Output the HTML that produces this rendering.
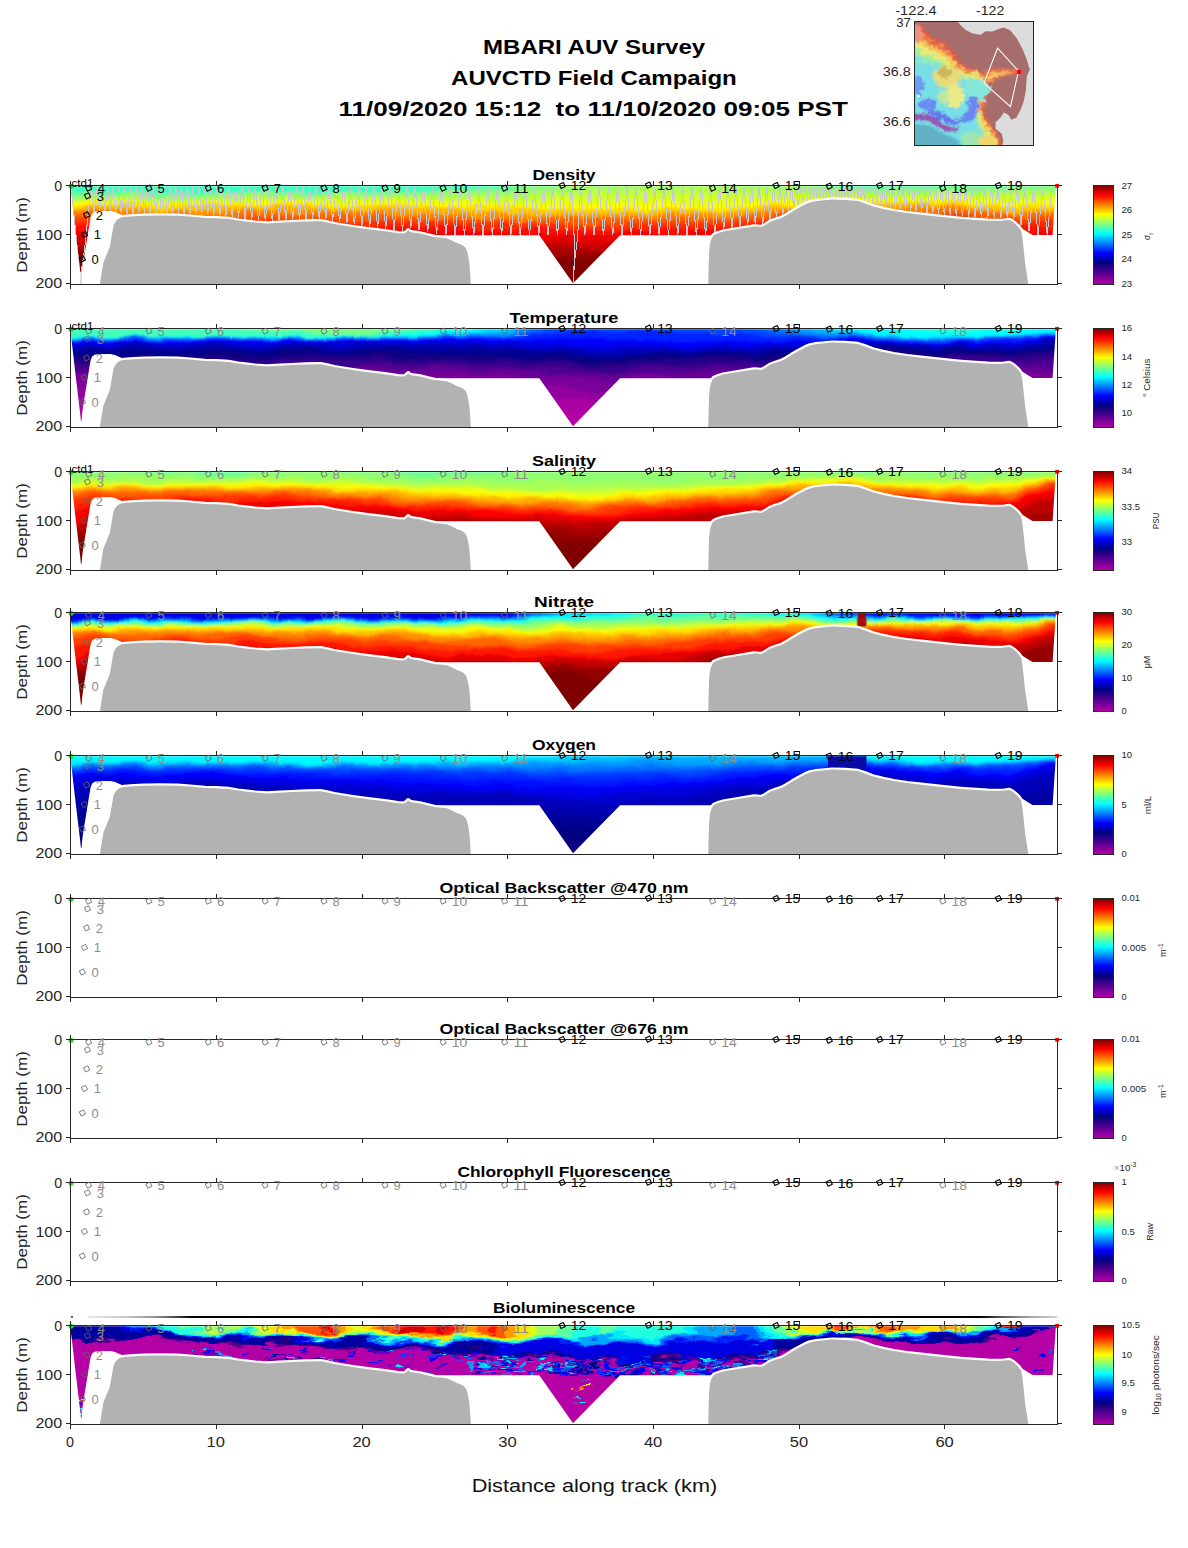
<!DOCTYPE html><html><head><meta charset="utf-8"><title>MBARI AUV Survey</title>
<style>html,body{margin:0;padding:0;background:#fff}svg{display:block}text{font-family:"Liberation Sans",sans-serif}</style></head><body>
<svg width="1188" height="1548" viewBox="0 0 1188 1548">
<rect width="1188" height="1548" fill="#fff"/>
<defs>
<linearGradient id="cb" x1="0" y1="0" x2="0" y2="1"><stop offset="0.0000" stop-color="#800000"/><stop offset="0.0975" stop-color="#ff0000"/><stop offset="0.2925" stop-color="#ffff00"/><stop offset="0.4875" stop-color="#00ffff"/><stop offset="0.6825" stop-color="#0000ff"/><stop offset="0.7800" stop-color="#000080"/><stop offset="1.0000" stop-color="#b500a6"/></linearGradient>
<clipPath id="pc"><rect x="70.5" y="185.5" width="987" height="99"/></clipPath>
<clipPath id="env"><polygon points="70.1,186.3 71.9,200.0 75.1,228.0 77.7,250.0 80.2,271.0 80.9,277.8 81.6,277.8 82.2,270.0 83.4,261.0 86.4,243.0 89.5,223.8 90.6,217.5 92.0,213.7 94.5,211.8 98.7,211.1 110.5,211.1 115.0,212.0 119.0,213.7 123.0,215.6 124.5,235.3 539.3,235.3 573.0,283.2 620.1,235.3 1005.0,235.3 1005.0,219.0 1009.4,218.9 1013.6,222.1 1022.0,228.4 1032.5,234.9 1052.6,234.9 1054.0,214.0 1055.9,186.3"/></clipPath>
<clipPath id="env1"><polygon points="70.1,186.3 71.9,200.0 75.1,228.0 77.7,250.0 80.2,271.0 80.6,272.3 81.5,272.3 82.2,267.0 83.4,261.0 86.4,243.0 89.5,223.8 90.6,217.5 92.0,213.7 94.5,211.8 98.7,211.1 110.5,211.1 115.0,212.0 119.0,213.7 123.0,215.6 124.5,235.3 539.3,235.3 573.0,283.2 620.1,235.3 1005.0,235.3 1005.0,219.0 1009.4,218.9 1013.6,222.1 1022.0,228.4 1032.5,234.9 1052.6,234.9 1054.0,214.0 1055.9,186.3"/></clipPath>
<filter id="vb" filterUnits="userSpaceOnUse" x="60" y="170" width="1010" height="130"><feTurbulence type="fractalNoise" baseFrequency="0.035 0.09" numOctaves="3" seed="5" result="n"/><feDisplacementMap in="SourceGraphic" in2="n" scale="7" xChannelSelector="R" yChannelSelector="G" result="d"/><feGaussianBlur in="d" stdDeviation="0.5 0.9"/></filter>
<filter id="vbio" filterUnits="userSpaceOnUse" x="60" y="170" width="1010" height="130"><feTurbulence type="fractalNoise" baseFrequency="0.03 0.11" numOctaves="4" seed="11" result="n"/><feDisplacementMap in="SourceGraphic" in2="n" scale="17" xChannelSelector="R" yChannelSelector="G" result="d"/><feGaussianBlur in="d" stdDeviation="0.4 0.5"/></filter>
<linearGradient id="dn" x1="0" y1="0" x2="1" y2="0"><stop offset="0" stop-color="#e8e8e8"/><stop offset="0.04" stop-color="#c6c6c6"/><stop offset="0.072" stop-color="#8c8c8c"/><stop offset="0.092" stop-color="#444"/><stop offset="0.108" stop-color="#000"/><stop offset="0.92" stop-color="#000"/><stop offset="0.94" stop-color="#505050"/><stop offset="0.965" stop-color="#969696"/><stop offset="1" stop-color="#d4d4d4"/></linearGradient>
</defs>
<text x="594.1" y="54.2" font-size="20.0" text-anchor="middle" font-weight="bold" fill="#000" textLength="222.2" lengthAdjust="spacingAndGlyphs">MBARI AUV Survey</text>
<text x="593.9" y="85.2" font-size="20.0" text-anchor="middle" font-weight="bold" fill="#000" textLength="285.7" lengthAdjust="spacingAndGlyphs">AUVCTD Field Campaign</text>
<text x="593.2" y="116.2" font-size="20.0" text-anchor="middle" font-weight="bold" fill="#000" textLength="509.3" lengthAdjust="spacingAndGlyphs" xml:space="preserve">11/09/2020 15:12  to 11/10/2020 09:05 PST</text>
<defs><clipPath id="mc"><rect x="914.5" y="21.5" width="119" height="124"/></clipPath><filter id="mb" filterUnits="userSpaceOnUse" x="-100" y="-100" width="1400" height="1500"><feGaussianBlur stdDeviation="12" result="b"/><feTurbulence type="fractalNoise" baseFrequency="0.022" numOctaves="3" seed="4" result="n"/><feDisplacementMap in="b" in2="n" scale="90" xChannelSelector="R" yChannelSelector="G"/></filter><filter id="mb2" filterUnits="userSpaceOnUse" x="-100" y="-100" width="1400" height="1500"><feGaussianBlur stdDeviation="8" result="b"/><feTurbulence type="fractalNoise" baseFrequency="0.03" numOctaves="2" seed="9" result="n"/><feDisplacementMap in="b" in2="n" scale="50" xChannelSelector="R" yChannelSelector="G"/></filter></defs>
<g clip-path="url(#mc)"><g transform="translate(912,18) scale(0.10438)">
<rect x="0" y="0" width="1200" height="1260" fill="#a56e6c"/>
<g filter="url(#mb)">
<polygon points="-60.0,20.0 60.0,55.0 130.0,120.0 200.0,185.0 280.0,215.0 350.0,265.0 420.0,330.0 455.0,410.0 520.0,468.0 600.0,482.0 660.0,505.0 705.0,560.0 745.0,640.0 742.0,720.0 705.0,790.0 690.0,860.0 718.0,950.0 760.0,1030.0 805.0,1100.0 860.0,1180.0 900.0,1290.0 -80.0,1300.0 -80.0,20.0" fill="#de5c4a"/>
<polygon points="-70.9,57.4 40.6,91.8 99.9,152.4 176.4,222.3 259.2,254.0 323.6,297.1 390.5,351.3 431.8,426.8 509.6,489.0 594.7,502.1 650.7,517.5 694.0,566.9 729.8,643.5 724.4,715.3 685.5,782.8 669.3,861.7 698.8,957.9 742.0,1040.4 787.7,1111.5 841.4,1189.3 880.5,1297.1 -80.0,1300.0 -80.0,20.0" fill="#f08c50"/>
<polygon points="-81.0,92.0 22.7,125.8 72.2,182.3 154.5,256.8 240.0,290.0 299.2,326.8 363.3,371.1 410.5,442.3 500.0,508.3 589.8,520.7 642.1,529.1 683.8,573.3 715.8,646.8 708.2,711.0 667.5,776.1 650.1,863.2 681.0,965.2 725.4,1050.1 771.7,1122.2 824.2,1197.9 862.4,1303.7 -80.0,1300.0 -80.0,20.0" fill="#f4c45c"/>
<polygon points="-91.1,126.6 4.9,159.8 44.4,212.2 132.7,291.3 220.8,326.0 274.8,356.5 336.1,390.8 389.1,457.8 490.4,527.7 584.9,539.2 633.5,540.6 673.7,579.7 701.7,650.0 691.9,706.7 649.5,769.4 631.0,864.8 663.3,972.5 708.8,1059.7 755.7,1132.8 807.0,1206.5 844.4,1310.2 -80.0,1300.0 -80.0,20.0" fill="#f0ea70"/>
<polygon points="-102.0,164.0 -14.5,196.6 14.3,244.6 109.0,328.6 200.0,365.0 248.4,388.6 306.6,412.1 365.9,474.5 480.0,548.6 579.6,559.3 624.2,553.2 662.7,586.6 686.5,653.5 674.4,702.0 630.0,762.1 610.3,866.5 644.0,980.5 690.8,1070.1 738.4,1144.4 788.4,1215.8 824.8,1317.3 -80.0,1300.0 -80.0,20.0" fill="#b6ec92"/>
<polygon points="-112.9,201.4 -33.9,233.4 -15.8,277.0 85.4,366.0 179.2,404.0 222.0,420.8 277.1,433.5 342.8,491.3 469.6,569.6 574.2,579.5 614.9,565.7 651.7,593.6 671.3,657.0 656.8,697.3 610.5,754.9 589.5,868.2 624.8,988.4 672.8,1080.6 721.1,1155.9 769.8,1225.1 805.3,1324.4 -80.0,1300.0 -80.0,20.0" fill="#8ce8c8"/>
<polygon points="-126.4,247.5 -57.7,278.7 -52.8,316.8 56.3,411.9 153.6,452.0 189.5,460.3 240.8,459.7 314.3,512.0 456.8,595.4 567.7,604.2 603.5,581.1 638.1,602.1 652.6,661.4 635.1,691.5 586.5,746.0 564.0,870.2 601.1,998.1 650.7,1093.4 699.8,1170.1 746.9,1236.5 781.2,1333.2 -80.0,1300.0 -80.0,20.0" fill="#78dfe6"/>
<ellipse cx="55" cy="650" rx="60" ry="90" fill="#6c9cf0"/>
<ellipse cx="150" cy="830" rx="90" ry="55" fill="#6a8af0"/>
<ellipse cx="335" cy="565" rx="135" ry="112" fill="#e6dc78"/>
<ellipse cx="318" cy="520" rx="70" ry="55" fill="#cdb660"/>
<ellipse cx="415" cy="745" rx="88" ry="110" fill="#eaea86"/>
<ellipse cx="300" cy="760" rx="50" ry="70" fill="#bfe6a0"/>
<polygon points="520,600 600,570 690,600 740,650 735,720 690,780 620,800 560,760 500,700" fill="#86e6da"/>
<polygon points="540,780 600,740 640,780 640,880 600,960 520,1010 430,1000 500,930 540,860" fill="#6a86f0"/>
<polygon points="180,880 300,905 400,975 470,960 430,1020 330,1010 230,960 150,930" fill="#6478ee"/>
</g><g filter="url(#mb2)">
<polygon points="-40,915 120,918 200,940 290,1010 380,1048 460,1040 430,1090 330,1085 240,1040 160,985 -40,975" fill="#9a52b2"/>
<polygon points="-40,1010 150,1020 260,1080 360,1130 440,1170 520,1300 -40,1300" fill="#62b2c6"/>
<polygon points="470,1120 560,1080 640,1100 700,1170 720,1300 500,1300" fill="#a0e4b0"/>
<polygon points="640,1150 700,1120 760,1130 820,1190 850,1300 660,1300" fill="#f0d868"/>
<polygon points="690,500 780,478 900,482 1010,490 1040,516 1010,540 900,556 800,590 740,640 700,600" fill="#e66e50"/>
<polygon points="700,560 780,520 880,512 960,510 960,528 880,540 800,566 740,615" fill="#f4c860"/>
<polygon points="20,70 70,60 100,130 90,220 50,240 20,200" fill="#f09080"/>
</g>
<polygon points="425,20 470,75 520,118 580,148 660,160 705,128 770,130 840,100 880,92 940,118 1000,190 1060,300 1100,400 1128,495 1100,560 1090,700 1070,800 1040,880 1000,955 950,975 925,930 880,905 850,950 800,1000 800,1060 860,1110 875,1180 850,1260 1200,1260 1200,20" fill="#dcdcdc"/>
<polygon points="820,288 1020,508 944,850 690,624" fill="none" stroke="#fff" stroke-width="10" stroke-linejoin="miter"/>
<rect x="1005" y="497" width="40" height="40" fill="#f00"/>
<circle cx="62" cy="748" r="13" fill="#fff"/>
</g></g>
<rect x="914.5" y="21.5" width="119" height="124" fill="none" stroke="#262626" stroke-width="1" shape-rendering="crispEdges"/>
<text x="916.0" y="14.9" font-size="13.0" text-anchor="middle" fill="#262626" textLength="41.5" lengthAdjust="spacingAndGlyphs">-122.4</text>
<text x="990.2" y="14.9" font-size="13.0" text-anchor="middle" fill="#262626" textLength="28.2" lengthAdjust="spacingAndGlyphs">-122</text>
<text x="910.8" y="27.4" font-size="13.0" text-anchor="end" fill="#262626" textLength="14.6" lengthAdjust="spacingAndGlyphs">37</text>
<text x="910.8" y="75.9" font-size="13.0" text-anchor="end" fill="#262626" textLength="28.0" lengthAdjust="spacingAndGlyphs">36.8</text>
<text x="910.8" y="125.9" font-size="13.0" text-anchor="end" fill="#262626" textLength="28.0" lengthAdjust="spacingAndGlyphs">36.6</text>
<!-- panel 0 -->
<g transform="translate(0,0)">
<g clip-path="url(#env1)"><g filter="url(#vb)">
<rect x="60" y="150" width="1010" height="170" fill="#3effc1"/>
<path d="M60,330 L60,190.8 68,190.9 76,191.1 84,191.4 92,191.6 100,191.8 108,191.9 116,192.0 124,192.2 132,192.4 140,192.6 148,192.8 156,193.0 164,193.2 172,193.3 180,193.5 188,193.5 196,193.5 204,193.3 212,193.1 220,192.8 228,192.3 236,191.9 244,191.5 252,191.3 260,191.1 268,191.1 276,191.2 284,191.4 292,191.7 300,192.0 308,192.2 316,192.3 324,192.4 332,192.3 340,192.1 348,191.9 356,191.6 364,191.4 372,191.2 380,191.0 388,190.9 396,190.9 404,190.9 412,191.0 420,191.0 428,190.9 436,190.8 444,190.3 452,189.7 460,188.9 468,188.2 476,187.4 484,186.8 492,186.3 500,185.9 508,185.6 516,184.9 524,183.9 532,182.6 540,181.2 548,179.7 556,178.2 564,176.8 572,175.6 580,174.7 588,174.4 596,173.9 604,173.4 612,172.8 620,172.2 628,171.7 636,171.1 644,170.7 652,170.3 660,170.2 668,170.2 676,170.1 684,170.1 692,170.1 700,170.1 708,170.1 716,170.1 724,170.2 732,170.6 740,171.5 748,172.5 756,173.6 764,174.7 772,175.8 780,176.8 788,177.7 796,178.4 804,178.9 812,179.8 820,181.0 828,182.2 836,183.3 844,184.0 852,184.4 860,184.8 868,185.3 876,185.8 884,186.0 892,186.0 900,185.9 908,185.8 916,185.7 924,185.7 932,185.8 940,185.9 948,186.1 956,186.0 964,185.7 972,185.5 980,185.2 988,184.9 996,184.6 1004,184.4 1012,184.1 1020,183.7 1028,183.3 1036,183.1 1044,183.1 1052,183.0 1060,183.0 1068,183.0 L1068,330Z" fill="#65ff9a"/>
<path d="M60,330 L60,193.5 68,193.6 76,193.8 84,193.8 92,193.8 100,193.6 108,193.4 116,193.2 124,193.1 132,193.1 140,193.4 148,193.8 156,194.3 164,194.7 172,195.0 180,195.0 188,194.9 196,194.7 204,194.3 212,194.0 220,193.7 228,193.6 236,193.5 244,193.4 252,193.4 260,193.4 268,193.4 276,193.3 284,193.3 292,193.3 300,193.4 308,193.5 316,193.6 324,193.7 332,193.7 340,193.6 348,193.4 356,193.1 364,192.9 372,192.7 380,192.6 388,192.5 396,192.5 404,192.5 412,192.5 420,192.4 428,192.2 436,192.0 444,191.6 452,191.1 460,190.7 468,190.5 476,190.2 484,190.0 492,189.8 500,189.5 508,189.3 516,188.5 524,187.4 532,186.1 540,184.8 548,183.5 556,182.4 564,181.3 572,180.5 580,179.9 588,179.7 596,179.3 604,178.8 612,178.2 620,177.6 628,177.0 636,176.5 644,176.1 652,175.9 660,175.9 668,176.0 676,176.1 684,176.1 692,176.0 700,176.0 708,175.9 716,175.9 724,175.8 732,176.1 740,176.8 748,177.6 756,178.5 764,179.5 772,180.4 780,181.3 788,182.1 796,182.8 804,183.3 812,184.1 820,185.0 828,186.0 836,186.9 844,187.4 852,187.6 860,187.8 868,188.2 876,188.5 884,188.8 892,189.0 900,189.0 908,189.0 916,188.9 924,188.7 932,188.5 940,188.3 948,188.0 956,187.8 964,187.7 972,187.7 980,187.8 988,187.9 996,187.9 1004,187.9 1012,187.6 1020,187.1 1028,186.6 1036,186.3 1044,186.2 1052,186.1 1060,186.1 1068,186.2 L1068,330Z" fill="#80ff7f"/>
<path d="M60,330 L60,196.4 68,196.4 76,196.3 84,196.2 92,195.9 100,195.7 108,195.4 116,195.3 124,195.2 132,195.3 140,195.6 148,195.9 156,196.2 164,196.5 172,196.7 180,196.8 188,196.7 196,196.4 204,196.0 212,195.6 220,195.2 228,194.9 236,194.6 244,194.4 252,194.3 260,194.3 268,194.4 276,194.5 284,194.5 292,194.6 300,194.7 308,194.7 316,194.7 324,194.7 332,194.7 340,194.6 348,194.6 356,194.6 364,194.5 372,194.4 380,194.3 388,194.2 396,194.1 404,194.0 412,193.9 420,193.9 428,193.9 436,193.9 444,193.8 452,193.7 460,193.5 468,193.3 476,193.1 484,192.8 492,192.6 500,192.4 508,192.3 516,191.8 524,191.1 532,190.2 540,189.2 548,188.1 556,187.0 564,186.0 572,185.2 580,184.5 588,184.3 596,184.0 604,183.6 612,183.3 620,182.9 628,182.5 636,182.2 644,181.9 652,181.7 660,181.7 668,181.7 676,181.6 684,181.6 692,181.6 700,181.6 708,181.6 716,181.6 724,181.7 732,182.0 740,182.5 748,183.2 756,183.9 764,184.6 772,185.3 780,185.8 788,186.2 796,186.7 804,187.0 812,187.7 820,188.5 828,189.5 836,190.3 844,190.9 852,191.2 860,191.4 868,191.5 876,191.5 884,191.4 892,191.2 900,191.0 908,191.0 916,191.0 924,191.0 932,191.2 940,191.3 948,191.4 956,191.4 964,191.2 972,191.0 980,190.8 988,190.6 996,190.5 1004,190.4 1012,190.3 1020,190.1 1028,189.9 1036,189.9 1044,189.9 1052,189.8 1060,189.7 1068,189.5 L1068,330Z" fill="#9aff65"/>
<path d="M60,330 L60,198.2 68,198.2 76,198.2 84,198.0 92,197.8 100,197.5 108,197.2 116,197.0 124,196.9 132,197.0 140,197.2 148,197.6 156,198.1 164,198.5 172,198.9 180,199.1 188,199.0 196,198.8 204,198.4 212,197.9 220,197.3 228,196.8 236,196.4 244,196.1 252,196.1 260,196.2 268,196.4 276,196.6 284,196.8 292,196.9 300,197.0 308,196.9 316,196.8 324,196.6 332,196.5 340,196.4 348,196.4 356,196.5 364,196.5 372,196.5 380,196.4 388,196.3 396,196.1 404,196.0 412,195.9 420,195.9 428,196.0 436,196.2 444,196.2 452,196.2 460,196.1 468,195.9 476,195.6 484,195.3 492,195.1 500,195.0 508,195.1 516,195.0 524,194.8 532,194.3 540,193.7 548,192.8 556,191.8 564,190.8 572,189.9 580,189.2 588,189.0 596,188.8 604,188.8 612,188.8 620,188.8 628,188.8 636,188.6 644,188.3 652,187.9 660,187.6 668,187.3 676,187.1 684,187.0 692,187.2 700,187.4 708,187.7 716,187.9 724,188.1 732,188.3 740,188.4 748,188.5 756,188.6 764,188.7 772,189.0 780,189.3 788,189.8 796,190.3 804,190.8 812,191.4 820,192.0 828,192.5 836,192.8 844,192.9 852,192.9 860,193.1 868,193.2 876,193.5 884,193.6 892,193.7 900,193.7 908,193.6 916,193.4 924,193.2 932,193.0 940,193.0 948,193.1 956,193.3 964,193.6 972,193.9 980,194.1 988,194.2 996,194.1 1004,193.9 1012,193.4 1020,192.9 1028,192.5 1036,192.4 1044,192.5 1052,192.7 1060,192.9 1068,193.1 L1068,330Z" fill="#b4ff4b"/>
<path d="M60,330 L60,199.8 68,199.3 76,198.8 84,198.4 92,198.2 100,198.1 108,198.2 116,198.5 124,199.0 132,199.5 140,200.0 148,200.4 156,200.6 164,200.7 172,200.6 180,200.5 188,200.4 196,200.2 204,200.1 212,200.1 220,200.1 228,200.0 236,199.8 244,199.5 252,199.2 260,198.8 268,198.5 276,198.2 284,198.0 292,198.0 300,198.1 308,198.3 316,198.5 324,198.7 332,198.9 340,198.9 348,198.7 356,198.4 364,198.1 372,197.8 380,197.5 388,197.4 396,197.4 404,197.6 412,197.8 420,198.2 428,198.5 436,198.8 444,198.9 452,198.9 460,198.8 468,198.7 476,198.6 484,198.5 492,198.5 500,198.7 508,198.8 516,198.8 524,198.6 532,198.2 540,197.7 548,197.1 556,196.4 564,195.7 572,195.1 580,194.7 588,194.5 596,194.3 604,194.2 612,194.1 620,194.0 628,193.9 636,193.7 644,193.5 652,193.3 660,193.2 668,193.1 676,193.1 684,193.1 692,193.2 700,193.3 708,193.5 716,193.6 724,193.6 732,193.7 740,193.7 748,193.7 756,193.7 764,193.7 772,193.7 780,193.8 788,194.0 796,194.2 804,194.5 812,194.8 820,195.2 828,195.5 836,195.7 844,195.8 852,195.7 860,195.7 868,195.6 876,195.5 884,195.4 892,195.4 900,195.4 908,195.5 916,195.6 924,195.7 932,195.7 940,195.6 948,195.6 956,195.5 964,195.4 972,195.5 980,195.6 988,195.8 996,196.1 1004,196.4 1012,196.5 1020,196.5 1028,196.5 1036,196.3 1044,196.2 1052,196.0 1060,195.7 1068,195.4 L1068,330Z" fill="#ceff31"/>
<path d="M60,330 L60,202.2 68,202.2 76,202.0 84,201.8 92,201.5 100,201.1 108,200.8 116,200.6 124,200.7 132,201.0 140,201.5 148,202.1 156,202.6 164,202.9 172,203.0 180,202.9 188,202.6 196,202.3 204,201.9 212,201.5 220,201.2 228,200.8 236,200.5 244,200.3 252,200.1 260,200.0 268,200.0 276,200.1 284,200.2 292,200.4 300,200.5 308,200.6 316,200.6 324,200.6 332,200.5 340,200.4 348,200.4 356,200.5 364,200.5 372,200.6 380,200.7 388,200.7 396,200.7 404,200.6 412,200.6 420,200.5 428,200.6 436,200.7 444,200.8 452,200.9 460,201.1 468,201.2 476,201.3 484,201.5 492,201.6 500,201.8 508,202.0 516,201.9 524,201.7 532,201.4 540,201.0 548,200.5 556,200.0 564,199.7 572,199.6 580,199.7 588,200.0 596,200.2 604,200.4 612,200.3 620,200.1 628,199.7 636,199.2 644,198.9 652,198.7 660,198.8 668,199.1 676,199.5 684,199.8 692,200.0 700,200.0 708,199.9 716,199.6 724,199.3 732,199.1 740,198.9 748,198.7 756,198.6 764,198.5 772,198.3 780,198.0 788,197.7 796,197.6 804,197.6 812,197.7 820,197.9 828,198.1 836,198.3 844,198.4 852,198.4 860,198.1 868,197.6 876,197.2 884,196.9 892,196.9 900,197.2 908,197.7 916,198.1 924,198.4 932,198.5 940,198.3 948,198.0 956,197.7 964,197.5 972,197.7 980,198.1 988,198.7 996,199.3 1004,199.7 1012,199.9 1020,199.8 1028,199.5 1036,199.1 1044,198.9 1052,198.9 1060,198.9 1068,199.0 L1068,330Z" fill="#e8ff17"/>
<path d="M60,330 L60,202.8 68,202.3 76,202.0 84,202.1 92,202.4 100,202.9 108,203.5 116,204.0 124,204.4 132,204.6 140,204.6 148,204.5 156,204.3 164,204.1 172,204.0 180,204.0 188,204.2 196,204.3 204,204.3 212,204.3 220,204.0 228,203.5 236,202.8 244,202.0 252,201.3 260,200.8 268,200.5 276,200.6 284,200.9 292,201.5 300,202.3 308,203.1 316,203.6 324,203.9 332,203.9 340,203.7 348,203.2 356,202.6 364,202.1 372,201.9 380,201.9 388,202.1 396,202.4 404,202.8 412,203.2 420,203.4 428,203.5 436,203.3 444,203.1 452,202.9 460,202.8 468,202.9 476,203.3 484,203.8 492,204.5 500,205.2 508,205.8 516,206.2 524,206.2 532,206.0 540,205.7 548,205.2 556,204.7 564,204.4 572,204.2 580,204.2 588,204.4 596,204.8 604,205.1 612,205.3 620,205.4 628,205.4 636,205.1 644,204.9 652,204.6 660,204.5 668,204.6 676,204.9 684,205.3 692,205.8 700,206.3 708,206.6 716,206.7 724,206.5 732,205.9 740,205.0 748,204.0 756,203.0 764,202.1 772,201.5 780,201.2 788,201.1 796,201.3 804,201.5 812,201.5 820,201.2 828,200.9 836,200.5 844,200.2 852,200.1 860,199.9 868,199.8 876,199.7 884,199.8 892,200.0 900,200.3 908,200.5 916,200.6 924,200.5 932,200.3 940,200.0 948,199.8 956,199.6 964,199.6 972,199.9 980,200.4 988,200.9 996,201.6 1004,202.1 1012,202.5 1020,202.8 1028,202.9 1036,202.7 1044,202.6 1052,202.3 1060,202.1 1068,201.8 L1068,330Z" fill="#fffc00"/>
<path d="M60,330 L60,206.3 68,205.9 76,205.4 84,205.0 92,204.7 100,204.5 108,204.3 116,204.3 124,204.4 132,204.5 140,204.8 148,205.0 156,205.2 164,205.4 172,205.4 180,205.4 188,205.3 196,205.2 204,205.0 212,204.8 220,204.7 228,204.5 236,204.2 244,204.1 252,203.9 260,203.9 268,203.9 276,204.0 284,204.1 292,204.4 300,204.8 308,205.1 316,205.4 324,205.7 332,205.8 340,205.9 348,205.8 356,205.7 364,205.5 372,205.3 380,205.1 388,205.0 396,205.0 404,205.0 412,205.1 420,205.1 428,205.2 436,205.3 444,205.4 452,205.5 460,205.6 468,205.8 476,206.0 484,206.2 492,206.4 500,206.6 508,206.8 516,206.9 524,207.1 532,207.3 540,207.5 548,207.8 556,208.0 564,208.2 572,208.3 580,208.5 588,208.6 596,208.7 604,208.7 612,208.8 620,208.8 628,208.8 636,208.8 644,208.8 652,208.9 660,208.9 668,208.9 676,208.9 684,208.9 692,208.9 700,208.8 708,208.7 716,208.5 724,208.3 732,207.9 740,207.4 748,206.7 756,206.1 764,205.5 772,204.9 780,204.5 788,204.2 796,204.0 804,203.9 812,203.6 820,203.3 828,203.0 836,202.8 844,202.7 852,202.8 860,202.8 868,202.7 876,202.5 884,202.3 892,202.2 900,202.2 908,202.1 916,202.1 924,202.1 932,202.1 940,202.1 948,202.2 956,202.3 964,202.6 972,202.9 980,203.2 988,203.5 996,203.8 1004,203.9 1012,204.1 1020,204.2 1028,204.3 1036,204.2 1044,204.2 1052,204.1 1060,203.9 1068,203.7 L1068,330Z" fill="#ffe200"/>
<path d="M60,330 L60,207.5 68,207.4 76,207.2 84,206.9 92,206.4 100,205.9 108,205.5 116,205.4 124,205.7 132,206.4 140,207.4 148,208.4 156,209.1 164,209.4 172,209.2 180,208.6 188,207.7 196,207.0 204,206.4 212,206.2 220,206.4 228,206.6 236,206.8 244,206.8 252,206.6 260,206.1 268,205.7 276,205.3 284,205.2 292,205.4 300,205.9 308,206.4 316,206.8 324,207.0 332,206.9 340,206.7 348,206.4 356,206.3 364,206.3 372,206.7 380,207.3 388,207.8 396,208.1 404,208.1 412,207.7 420,207.2 428,206.8 436,206.5 444,206.7 452,207.3 460,208.2 468,209.2 476,210.0 484,210.4 492,210.4 500,210.1 508,209.7 516,209.4 524,209.3 532,209.5 540,209.9 548,210.3 556,210.6 564,210.6 572,210.5 580,210.2 588,210.0 596,210.1 604,210.4 612,210.9 620,211.3 628,211.6 636,211.6 644,211.2 652,210.5 660,209.8 668,209.3 676,209.2 684,209.6 692,210.2 700,211.0 708,211.6 716,211.9 724,211.6 732,210.8 740,209.6 748,208.4 756,207.4 764,206.7 772,206.3 780,206.2 788,206.2 796,206.1 804,205.9 812,205.4 820,204.8 828,204.3 836,204.1 844,204.3 852,204.7 860,205.0 868,204.9 876,204.5 884,203.8 892,203.1 900,202.6 908,202.3 916,202.3 924,202.8 932,203.5 940,204.2 948,204.8 956,205.1 964,205.2 972,205.1 980,204.9 988,204.9 996,205.1 1004,205.5 1012,206.1 1020,206.8 1028,207.3 1036,207.4 1044,207.3 1052,207.0 1060,206.6 1068,206.2 L1068,330Z" fill="#ffc700"/>
<path d="M60,330 L60,209.5 68,209.1 76,208.7 84,208.2 92,207.8 100,207.5 108,207.4 116,207.4 124,207.6 132,207.9 140,208.3 148,208.8 156,209.3 164,209.7 172,210.1 180,210.3 188,210.3 196,210.3 204,210.1 212,209.8 220,209.4 228,209.0 236,208.4 244,207.9 252,207.4 260,207.1 268,206.8 276,206.7 284,206.7 292,207.0 300,207.4 308,207.9 316,208.5 324,209.0 332,209.5 340,209.8 348,210.1 356,210.1 364,210.0 372,209.9 380,209.8 388,209.6 396,209.4 404,209.3 412,209.1 420,209.0 428,208.9 436,208.9 444,208.9 452,209.1 460,209.4 468,209.8 476,210.3 484,210.8 492,211.4 500,212.0 508,212.5 516,213.0 524,213.3 532,213.6 540,213.8 548,213.9 556,213.9 564,213.8 572,213.6 580,213.4 588,213.1 596,212.8 604,212.5 612,212.2 620,212.0 628,211.8 636,211.8 644,211.8 652,211.9 660,212.1 668,212.2 676,212.3 684,212.4 692,212.4 700,212.3 708,212.2 716,212.0 724,211.7 732,211.3 740,210.8 748,210.2 756,209.7 764,209.1 772,208.7 780,208.4 788,208.2 796,208.2 804,208.2 812,208.1 820,207.8 828,207.5 836,207.2 844,207.0 852,206.8 860,206.5 868,206.1 876,205.6 884,205.1 892,204.7 900,204.4 908,204.1 916,204.0 924,204.0 932,204.1 940,204.4 948,204.8 956,205.4 964,206.1 972,206.9 980,207.7 988,208.4 996,209.0 1004,209.4 1012,209.6 1020,209.8 1028,209.7 1036,209.5 1044,209.1 1052,208.8 1060,208.3 1068,207.8 L1068,330Z" fill="#ffad00"/>
<path d="M60,330 L60,211.5 68,211.5 76,211.2 84,210.8 92,210.4 100,209.9 108,209.6 116,209.4 124,209.5 132,209.8 140,210.2 148,210.7 156,211.0 164,211.3 172,211.3 180,211.2 188,211.0 196,210.8 204,210.6 212,210.5 220,210.6 228,210.7 236,210.8 244,211.0 252,211.0 260,210.9 268,210.6 276,210.2 284,209.8 292,209.4 300,209.2 308,209.2 316,209.3 324,209.6 332,210.0 340,210.4 348,210.7 356,210.9 364,211.0 372,211.0 380,211.1 388,211.2 396,211.4 404,211.8 412,212.2 420,212.8 428,213.3 436,213.7 444,213.9 452,213.9 460,213.7 468,213.4 476,213.0 484,212.7 492,212.6 500,212.6 508,212.9 516,213.3 524,213.9 532,214.6 540,215.2 548,215.6 556,215.8 564,215.8 572,215.7 580,215.5 588,215.2 596,215.0 604,214.8 612,214.8 620,214.8 628,214.8 636,214.8 644,214.7 652,214.5 660,214.3 668,214.1 676,213.9 684,213.8 692,213.9 700,214.0 708,214.2 716,214.3 724,214.4 732,214.1 740,213.5 748,212.7 756,211.6 764,210.6 772,209.6 780,208.9 788,208.5 796,208.5 804,208.7 812,208.9 820,209.0 828,209.1 836,209.0 844,209.0 852,209.0 860,208.7 868,208.3 876,207.8 884,207.4 892,207.2 900,207.1 908,206.9 916,206.8 924,206.7 932,206.5 940,206.3 948,206.3 956,206.4 964,206.8 972,207.5 980,208.3 988,209.3 996,210.3 1004,211.2 1012,212.0 1020,212.6 1028,212.8 1036,212.5 1044,212.1 1052,211.4 1060,210.6 1068,209.8 L1068,330Z" fill="#ff9300"/>
<path d="M60,330 L60,211.2 68,210.5 76,210.3 84,210.5 92,211.0 100,211.8 108,212.5 116,213.0 124,213.1 132,213.0 140,212.6 148,212.2 156,211.9 164,211.9 172,212.3 180,212.8 188,213.4 196,213.9 204,214.1 212,213.9 220,213.3 228,212.4 236,211.5 244,210.7 252,210.3 260,210.3 268,210.7 276,211.3 284,212.0 292,212.6 300,213.1 308,213.2 316,213.1 324,212.8 332,212.4 340,212.2 348,212.2 356,212.4 364,212.7 372,213.1 380,213.6 388,214.0 396,214.3 404,214.3 412,214.3 420,214.3 428,214.3 436,214.4 444,214.6 452,214.9 460,215.3 468,215.6 476,215.9 484,216.1 492,216.2 500,216.3 508,216.4 516,216.5 524,216.7 532,217.0 540,217.2 548,217.4 556,217.5 564,217.5 572,217.5 580,217.4 588,217.4 596,217.4 604,217.3 612,217.2 620,217.0 628,216.7 636,216.3 644,215.9 652,215.5 660,215.3 668,215.4 676,215.7 684,216.2 692,216.7 700,217.2 708,217.3 716,217.1 724,216.5 732,215.5 740,214.3 748,213.0 756,212.1 764,211.4 772,211.2 780,211.3 788,211.6 796,211.8 804,211.9 812,211.5 820,210.8 828,210.0 836,209.3 844,209.0 852,209.2 860,209.5 868,210.0 876,210.4 884,210.7 892,210.7 900,210.3 908,209.5 916,208.6 924,207.7 932,207.1 940,206.9 948,207.3 956,208.3 964,209.5 972,210.9 980,212.1 988,212.8 996,213.1 1004,212.9 1012,212.6 1020,212.4 1028,212.2 1036,212.2 1044,212.4 1052,212.8 1060,213.1 1068,213.1 L1068,330Z" fill="#ff7900"/>
<path d="M60,330 L60,216.0 68,215.4 76,215.0 84,214.6 92,214.4 100,214.4 108,214.5 116,214.6 124,214.9 132,215.2 140,215.5 148,215.8 156,216.0 164,216.3 172,216.5 180,216.7 188,216.8 196,216.9 204,216.8 212,216.7 220,216.5 228,216.1 236,215.6 244,215.1 252,214.6 260,214.3 268,214.0 276,213.9 284,214.0 292,214.3 300,214.7 308,215.2 316,215.6 324,215.9 332,216.0 340,216.0 348,215.9 356,215.6 364,215.3 372,215.1 380,215.2 388,215.4 396,215.8 404,216.3 412,216.9 420,217.4 428,217.9 436,218.2 444,218.4 452,218.6 460,218.7 468,218.9 476,219.0 484,219.3 492,219.5 500,219.8 508,220.0 516,220.1 524,220.1 532,220.1 540,220.0 548,219.8 556,219.6 564,219.4 572,219.2 580,219.1 588,219.1 596,219.1 604,219.1 612,219.2 620,219.2 628,219.3 636,219.2 644,219.1 652,219.0 660,219.0 668,218.8 676,218.8 684,218.7 692,218.7 700,218.7 708,218.7 716,218.5 724,218.3 732,217.9 740,217.3 748,216.5 756,215.6 764,214.8 772,214.0 780,213.4 788,213.1 796,213.0 804,213.1 812,213.2 820,213.3 828,213.3 836,213.4 844,213.5 852,213.6 860,213.5 868,213.3 876,213.1 884,212.8 892,212.7 900,212.6 908,212.5 916,212.5 924,212.4 932,212.3 940,212.2 948,212.2 956,212.3 964,212.6 972,212.9 980,213.2 988,213.6 996,214.1 1004,214.5 1012,214.9 1020,215.4 1028,215.7 1036,215.8 1044,215.8 1052,215.7 1060,215.4 1068,215.0 L1068,330Z" fill="#ff5f00"/>
<path d="M60,330 L60,218.7 68,217.9 76,217.1 84,216.5 92,216.2 100,216.2 108,216.6 116,217.1 124,217.7 132,218.3 140,218.8 148,219.2 156,219.5 164,219.8 172,220.2 180,220.5 188,220.8 196,220.9 204,220.7 212,220.3 220,219.7 228,218.9 236,218.2 244,217.7 252,217.4 260,217.3 268,217.5 276,217.8 284,218.1 292,218.3 300,218.5 308,218.7 316,218.9 324,219.2 332,219.5 340,219.9 348,220.1 356,220.2 364,220.1 372,219.8 380,219.3 388,218.9 396,218.6 404,218.5 412,218.7 420,219.0 428,219.3 436,219.6 444,219.7 452,219.7 460,219.7 468,219.6 476,219.7 484,220.0 492,220.5 500,221.2 508,221.8 516,222.2 524,222.6 532,222.7 540,222.7 548,222.7 556,222.8 564,223.0 572,223.3 580,223.7 588,223.9 596,223.8 604,223.5 612,223.0 620,222.4 628,221.8 636,221.3 644,221.1 652,221.2 660,221.4 668,221.5 676,221.6 684,221.4 692,221.1 700,220.8 708,220.4 716,220.2 724,220.1 732,220.0 740,219.9 748,219.6 756,219.1 764,218.4 772,217.6 780,216.9 788,216.4 796,216.1 804,216.1 812,216.2 820,216.2 828,216.2 836,216.1 844,215.9 852,215.8 860,215.5 868,215.2 876,215.0 884,215.0 892,215.1 900,215.2 908,215.3 916,215.2 924,215.0 932,214.8 940,214.6 948,214.7 956,215.2 964,215.9 972,216.7 980,217.6 988,218.3 996,218.7 1004,218.7 1012,218.6 1020,218.6 1028,218.5 1036,218.4 1044,218.5 1052,218.6 1060,218.5 1068,218.2 L1068,330Z" fill="#ff4500"/>
<path d="M60,330 L60,222.3 68,222.0 76,221.8 84,221.6 92,221.4 100,221.3 108,221.3 116,221.4 124,221.5 132,221.8 140,222.1 148,222.4 156,222.7 164,223.0 172,223.2 180,223.3 188,223.3 196,223.3 204,223.1 212,222.8 220,222.5 228,222.0 236,221.6 244,221.1 252,220.7 260,220.5 268,220.3 276,220.3 284,220.4 292,220.7 300,221.2 308,221.7 316,222.2 324,222.7 332,223.1 340,223.4 348,223.4 356,223.3 364,223.1 372,222.8 380,222.5 388,222.3 396,222.1 404,221.9 412,221.8 420,221.9 428,222.0 436,222.2 444,222.4 452,222.7 460,223.0 468,223.4 476,223.7 484,223.9 492,224.0 500,224.1 508,224.1 516,224.0 524,223.9 532,223.8 540,223.8 548,223.9 556,224.0 564,224.2 572,224.5 580,224.8 588,225.1 596,225.3 604,225.4 612,225.5 620,225.5 628,225.4 636,225.3 644,225.2 652,225.1 660,225.0 668,224.9 676,224.8 684,224.8 692,224.7 700,224.6 708,224.5 716,224.3 724,224.0 732,223.6 740,222.9 748,222.2 756,221.4 764,220.5 772,219.6 780,218.9 788,218.3 796,217.9 804,217.7 812,217.5 820,217.5 828,217.5 836,217.6 844,218.0 852,218.4 860,218.6 868,218.7 876,218.7 884,218.6 892,218.5 900,218.3 908,218.1 916,217.9 924,217.7 932,217.6 940,217.7 948,217.9 956,218.4 964,219.1 972,220.0 980,220.8 988,221.6 996,222.2 1004,222.6 1012,222.8 1020,223.0 1028,222.9 1036,222.6 1044,222.3 1052,221.9 1060,221.4 1068,220.7 L1068,330Z" fill="#ff2a00"/>
<path d="M60,330 L60,227.6 68,226.7 76,225.9 84,225.4 92,225.1 100,225.2 108,225.6 116,226.2 124,226.8 132,227.5 140,228.0 148,228.4 156,228.8 164,229.1 172,229.3 180,229.4 188,229.2 196,228.8 204,228.3 212,227.7 220,227.3 228,227.1 236,227.1 244,227.4 252,227.7 260,227.8 268,227.7 276,227.2 284,226.6 292,226.2 300,226.0 308,226.3 316,226.9 324,227.8 332,228.5 340,229.0 348,229.0 356,228.5 364,227.8 372,227.1 380,226.6 388,226.4 396,226.5 404,226.7 412,226.8 420,226.7 428,226.4 436,226.1 444,225.8 452,226.0 460,226.6 468,227.6 476,228.8 484,229.7 492,230.2 500,230.2 508,229.6 516,228.8 524,228.1 532,227.8 540,227.9 548,228.4 556,229.2 564,229.9 572,230.3 580,230.5 588,230.3 596,230.0 604,229.7 612,229.5 620,229.3 628,229.2 636,229.1 644,228.9 652,228.6 660,228.4 668,228.2 676,228.2 684,228.5 692,228.9 700,229.2 708,229.4 716,229.3 724,229.0 732,228.3 740,227.3 748,226.3 756,225.4 764,224.5 772,223.8 780,223.3 788,223.0 796,223.0 804,223.1 812,223.4 820,223.7 828,224.0 836,224.3 844,224.5 852,224.4 860,223.9 868,223.2 876,222.4 884,221.9 892,221.8 900,222.0 908,222.3 916,222.7 924,222.9 932,222.9 940,222.7 948,222.6 956,222.8 964,223.3 972,224.1 980,225.0 988,225.9 996,226.5 1004,226.6 1012,226.6 1020,226.5 1028,226.5 1036,226.6 1044,227.2 1052,228.0 1060,228.4 1068,228.5 L1068,330Z" fill="#ff1000"/>
<path d="M60,330 L60,232.7 68,232.1 76,231.6 84,231.2 92,230.9 100,230.6 108,230.3 116,230.3 124,230.7 132,231.7 140,233.1 148,234.6 156,235.9 164,236.5 172,236.4 180,235.7 188,234.6 196,233.7 204,233.2 212,233.4 220,233.9 228,234.3 236,234.4 244,233.8 252,232.5 260,231.1 268,229.9 276,229.5 284,230.0 292,231.3 300,233.0 308,234.5 316,235.4 324,235.4 332,234.8 340,233.8 348,232.9 356,232.3 364,232.2 372,232.5 380,232.8 388,232.8 396,232.5 404,231.9 412,231.3 420,230.7 428,230.5 436,230.5 444,230.8 452,231.1 460,231.3 468,231.4 476,231.6 484,232.0 492,232.6 500,233.3 508,233.9 516,234.3 524,234.3 532,234.0 540,233.4 548,233.1 556,233.2 564,233.8 572,234.8 580,235.7 588,236.2 596,236.0 604,235.0 612,233.6 620,232.2 628,231.3 636,231.3 644,232.1 652,233.3 660,234.5 668,235.1 676,235.0 684,234.1 692,233.0 700,232.1 708,231.7 716,231.9 724,232.5 732,233.2 740,233.4 748,232.9 756,231.8 764,230.4 772,229.0 780,228.0 788,227.5 796,227.4 804,227.7 812,227.9 820,227.8 828,227.7 836,227.5 844,227.6 852,227.8 860,228.0 868,228.0 876,227.9 884,227.4 892,227.0 900,226.6 908,226.5 916,226.8 924,227.5 932,228.3 940,228.9 948,229.2 956,229.1 964,228.8 972,228.6 980,228.7 988,229.4 996,230.6 1004,232.0 1012,233.3 1020,234.1 1028,234.0 1036,233.0 1044,231.8 1052,230.7 1060,229.9 1068,229.9 L1068,330Z" fill="#f50000"/>
<path d="M60,330 L60,236.8 68,235.6 76,235.0 84,235.0 92,235.4 100,235.9 108,236.1 116,236.3 124,236.4 132,236.8 140,237.7 148,239.0 156,240.3 164,241.4 172,242.1 180,242.1 188,241.6 196,240.8 204,240.1 212,239.5 220,239.1 228,238.7 236,238.1 244,237.2 252,236.3 260,235.6 268,235.5 276,236.0 284,237.1 292,238.6 300,240.0 308,240.8 316,240.9 324,240.4 332,239.7 340,239.0 348,238.8 356,239.1 364,239.4 372,239.5 380,239.0 388,237.8 396,236.2 404,234.5 412,233.4 420,233.3 428,234.1 436,235.6 444,237.1 452,238.2 460,238.6 468,238.3 476,237.7 484,237.3 492,237.4 500,238.2 508,239.3 516,240.4 524,240.9 532,240.8 540,240.0 548,238.9 556,237.9 564,237.4 572,237.5 580,238.0 588,238.7 596,239.1 604,239.2 612,238.9 620,238.6 628,238.4 636,238.6 644,239.1 652,239.9 660,240.5 668,240.7 676,240.5 684,240.1 692,239.6 700,239.2 708,239.0 716,238.9 724,238.6 732,237.9 740,236.7 748,235.2 756,233.9 764,232.9 772,232.7 780,233.1 788,233.9 796,234.8 804,235.2 812,235.0 820,234.4 828,233.8 836,233.6 844,234.0 852,234.9 860,235.9 868,236.4 876,236.2 884,235.2 892,233.7 900,232.1 908,231.0 916,230.7 924,231.3 932,232.4 940,233.7 948,234.7 956,235.2 964,235.3 972,235.3 980,235.5 988,236.2 996,237.5 1004,238.9 1012,240.2 1020,240.9 1028,240.8 1036,239.8 1044,238.5 1052,237.3 1060,236.3 1068,235.8 L1068,330Z" fill="#db0000"/>
<path d="M60,330 L60,243.1 68,242.2 76,241.7 84,241.4 92,241.4 100,241.7 108,242.1 116,242.5 124,242.8 132,243.0 140,243.1 148,243.1 156,243.2 164,243.3 172,243.7 180,244.2 188,244.7 196,245.3 204,245.6 212,245.7 220,245.4 228,244.8 236,243.9 244,243.0 252,242.1 260,241.5 268,241.4 276,241.6 284,242.3 292,243.2 300,244.2 308,245.1 316,245.8 324,246.1 332,246.0 340,245.6 348,245.0 356,244.4 364,243.8 372,243.3 380,243.0 388,242.9 396,242.8 404,242.7 412,242.7 420,242.5 428,242.4 436,242.3 444,242.3 452,242.5 460,242.8 468,243.3 476,243.9 484,244.3 492,244.7 500,244.8 508,244.6 516,244.3 524,243.8 532,243.5 540,243.2 548,243.2 556,243.5 564,244.0 572,244.6 580,245.2 588,245.5 596,245.6 604,245.2 612,244.6 620,243.9 628,243.1 636,242.5 644,242.2 652,242.3 660,242.8 668,243.5 676,244.3 684,245.0 692,245.5 700,245.5 708,245.2 716,244.5 724,243.6 732,242.7 740,241.7 748,241.0 756,240.5 764,240.2 772,240.2 780,240.2 788,240.4 796,240.5 804,240.6 812,240.6 820,240.5 828,240.5 836,240.6 844,240.9 852,241.4 860,241.8 868,242.1 876,242.1 884,241.9 892,241.6 900,241.1 908,240.5 916,240.0 924,239.7 932,239.6 940,239.9 948,240.4 956,241.1 964,241.9 972,242.7 980,243.2 988,243.5 996,243.5 1004,243.4 1012,243.2 1020,243.1 1028,243.2 1036,243.3 1044,243.6 1052,243.9 1060,244.0 1068,243.7 L1068,330Z" fill="#c10000"/>
<path d="M60,330 L60,247.4 68,246.9 76,246.8 84,246.8 92,246.6 100,246.2 108,245.6 116,245.1 124,245.1 132,245.7 140,247.1 148,248.9 156,250.7 164,252.0 172,252.5 180,252.3 188,251.6 196,250.8 204,250.2 212,250.0 220,250.2 228,250.6 236,250.7 244,250.4 252,249.7 260,248.9 268,248.2 276,248.1 284,248.6 292,249.6 300,250.8 308,251.8 316,252.1 324,251.6 332,250.6 340,249.3 348,248.2 356,247.6 364,247.5 372,247.7 380,247.9 388,247.8 396,247.4 404,246.7 412,246.0 420,245.8 428,246.2 436,247.2 444,248.5 452,249.9 460,250.8 468,251.0 476,250.6 484,249.8 492,249.0 500,248.6 508,248.7 516,249.1 524,249.7 532,250.0 540,249.8 548,249.2 556,248.4 564,247.7 572,247.4 580,247.8 588,248.7 596,249.8 604,250.7 612,251.0 620,250.8 628,250.1 636,249.4 644,249.1 652,249.3 660,250.0 668,250.9 676,251.7 684,252.0 692,251.7 700,250.9 708,249.9 716,249.1 724,248.7 732,248.8 740,249.0 748,249.2 756,249.0 764,248.1 772,246.8 780,245.4 788,244.3 796,243.9 804,244.1 812,244.8 820,245.7 828,246.4 836,246.7 844,246.5 852,246.1 860,245.7 868,245.7 876,246.2 884,247.1 892,248.1 900,248.9 908,249.0 916,248.6 924,247.8 932,247.0 940,246.6 948,246.7 956,247.5 964,248.5 972,249.4 980,249.9 988,249.8 996,249.2 1004,248.4 1012,247.9 1020,247.9 1028,248.4 1036,249.1 1044,249.7 1052,250.0 1060,249.6 1068,248.7 L1068,330Z" fill="#a70000"/>
<path d="M60,330 L60,253.6 68,251.9 76,250.8 84,250.3 92,250.6 100,251.3 108,252.2 116,253.0 124,253.7 132,254.1 140,254.4 148,254.8 156,255.1 164,255.5 172,255.8 180,256.0 188,256.0 196,255.9 204,255.7 212,255.6 220,255.6 228,255.7 236,255.9 244,255.9 252,255.7 260,255.0 268,254.2 276,253.3 284,252.8 292,252.9 300,253.7 308,255.0 316,256.6 324,258.0 332,258.7 340,258.5 348,257.5 356,255.8 364,253.9 372,252.4 380,251.5 388,251.4 396,251.9 404,252.8 412,253.7 420,254.2 428,254.3 436,254.0 444,253.4 452,252.9 460,252.5 468,252.5 476,252.8 484,253.2 492,253.7 500,254.1 508,254.4 516,254.7 524,255.1 532,255.5 540,255.8 548,256.1 556,256.0 564,255.7 572,255.0 580,254.3 588,253.8 596,253.7 604,254.1 612,254.9 620,256.0 628,256.9 636,257.4 644,257.2 652,256.4 660,255.3 668,254.2 676,253.5 684,253.4 692,254.1 700,255.2 708,256.4 716,257.3 724,257.4 732,256.7 740,255.4 748,253.8 756,252.2 764,251.1 772,250.5 780,250.5 788,250.9 796,251.5 804,252.1 812,252.6 820,253.0 828,253.3 836,253.6 844,254.0 852,254.3 860,254.3 868,254.2 876,253.7 884,253.2 892,252.7 900,252.5 908,252.6 916,253.0 924,253.7 932,254.2 940,254.5 948,254.3 956,253.7 964,253.0 972,252.5 980,252.5 988,253.2 996,254.4 1004,256.0 1012,257.5 1020,258.6 1028,258.7 1036,258.0 1044,256.7 1052,255.0 1060,253.5 1068,252.4 L1068,330Z" fill="#8d0000"/>
<path d="M60,330 L60,260.9 68,260.8 76,260.0 84,258.5 92,256.9 100,255.7 108,255.1 116,255.5 124,256.5 132,258.0 140,259.6 148,260.8 156,261.7 164,262.1 172,262.1 180,262.0 188,261.7 196,261.3 204,260.9 212,260.6 220,260.4 228,260.3 236,260.5 244,260.8 252,261.0 260,261.0 268,260.7 276,260.1 284,259.4 292,259.1 300,259.2 308,260.0 316,261.3 324,262.8 332,263.8 340,264.1 348,263.3 356,261.7 364,259.6 372,257.8 380,256.7 388,256.7 396,257.5 404,258.9 412,260.0 420,260.5 428,260.2 436,259.1 444,257.7 452,256.7 460,256.3 468,256.9 476,258.1 484,259.6 492,260.9 500,261.6 508,261.5 516,260.8 524,259.9 532,259.2 540,258.8 548,259.0 556,259.6 564,260.4 572,261.1 580,261.5 588,261.7 596,261.6 604,261.3 612,260.9 620,260.5 628,260.1 636,259.8 644,259.6 652,259.8 660,260.2 668,261.0 676,261.9 684,262.6 692,262.9 700,262.6 708,261.7 716,260.5 724,259.3 732,258.6 740,258.4 748,258.8 756,259.5 764,260.1 772,260.0 780,259.4 788,258.1 796,256.8 804,255.9 812,255.8 820,256.7 828,258.3 836,260.2 844,261.7 852,262.5 860,262.3 868,261.5 876,260.3 884,259.2 892,258.7 900,258.8 908,259.3 916,260.0 924,260.4 932,260.4 940,260.0 948,259.5 956,259.1 964,259.1 972,259.6 980,260.4 988,261.3 996,262.1 1004,262.5 1012,262.7 1020,262.6 1028,262.4 1036,262.1 1044,261.7 1052,261.3 1060,260.7 1068,259.9 L1068,330Z" fill="#800000"/>
</g>
<polyline points="71.2,187.5 80.9,284.0 81.2,272.0 84.5,250.0 90.0,196.0 91.5,187.5 94.0,212.9 97.1,186.6 99.5,211.1 102.5,186.6 104.9,211.1 107.8,186.6 110.2,211.1 113.2,186.6 115.6,211.9 118.7,186.6 121.3,214.3 124.5,186.6 127.2,214.2 130.4,186.6 133.0,213.8 136.2,186.6 138.7,213.4 141.9,186.6 144.4,213.1 147.6,186.6 150.1,213.0 153.2,186.6 155.8,213.0 158.9,186.6 161.4,212.9 164.5,186.6 167.1,213.0 170.2,186.6 172.7,213.0 175.8,186.6 178.4,213.1 181.5,186.6 184.1,213.5 187.3,186.6 189.9,213.9 193.1,186.6 195.7,214.4 198.9,186.6 201.6,214.9 204.9,186.6 207.6,215.4 211.0,186.6 213.7,215.6 217.0,186.6 219.8,215.8 223.1,186.6 225.9,216.2 229.3,186.6 232.2,216.8 235.6,186.6 238.5,217.8 242.0,186.6 245.0,218.7 248.6,186.6 251.7,219.5 255.3,186.6 258.5,220.1 262.2,186.6 265.3,220.6 269.1,186.6 272.2,220.6 276.0,186.6 279.1,220.3 282.8,186.6 285.9,219.9 289.6,186.6 292.7,219.6 296.3,186.6 299.4,219.2 303.0,186.6 306.0,218.9 309.6,186.6 312.6,218.7 316.2,186.6 319.2,218.6 322.8,186.6 325.8,219.3 329.4,186.6 332.6,220.7 336.4,186.6 339.6,222.1 343.5,186.6 346.9,223.2 350.8,186.6 354.3,224.4 358.3,186.6 361.9,225.5 366.0,186.6 369.7,226.6 373.9,186.6 377.6,227.5 381.9,186.6 385.7,228.5 390.1,186.6 394.0,229.7 398.5,186.6 402.5,230.7 407.0,186.6 410.8,227.9 415.1,186.6 419.1,230.4 423.6,186.6 427.7,232.1 432.4,186.6 436.6,234.3 441.5,186.6 445.9,235.3 450.8,186.6 455.1,235.3 460.1,186.6 464.4,235.3 469.4,186.6 473.7,235.3 478.7,186.6 483.0,235.3 488.0,186.6 492.3,235.3 497.3,186.6 501.6,235.3 506.6,186.6 510.9,235.3 515.8,186.6 520.2,235.3 525.1,186.6 529.5,235.3 534.4,186.6 538.8,235.3 543.7,186.6 548.1,235.3 553.0,186.6 557.4,235.3 562.3,186.6 566.6,235.3 571.6,186.6 574.8,250.0 573.2,283.0 574.5,262.0 577.5,238.0 580.5,187.5 584.8,235.3 589.8,186.6 594.1,235.3 599.1,186.6 603.4,235.3 608.4,186.6 612.7,235.3 617.7,186.6 622.0,235.3 627.0,186.6 631.3,235.3 636.2,186.6 640.6,235.3 645.5,186.6 649.9,235.3 654.8,186.6 659.2,235.3 664.1,186.6 668.5,235.3 673.4,186.6 677.8,235.3 682.7,186.6 687.1,235.3 692.0,186.6 696.3,235.3 701.3,186.6 705.6,235.3 710.6,186.6 714.9,234.9 719.8,186.6 723.7,229.5 728.2,186.6 731.9,227.9 736.2,186.6 739.9,226.5 744.1,186.6 747.6,225.2 751.7,186.6 755.2,224.0 759.2,186.6 762.7,224.4 766.7,186.6 769.9,220.5 773.6,186.6 776.5,217.4 780.0,186.6 782.7,215.3 786.0,186.6 788.4,212.0 791.5,186.6 793.7,208.6 796.4,186.6 798.3,205.6 800.9,186.6 802.6,203.3 804.9,186.6 806.5,201.3 808.7,186.6 810.1,199.8 812.2,186.6 813.6,199.0 815.6,186.6 816.9,198.5 818.9,186.6 820.2,198.2 822.1,186.6 823.4,197.8 825.3,186.6 826.5,197.5 828.4,186.6 829.7,197.2 831.5,186.6 832.7,197.0 834.6,186.6 835.8,197.1 837.6,186.6 838.9,197.2 840.7,186.6 842.0,197.3 843.8,186.6 845.1,197.4 846.9,186.6 848.2,197.7 850.1,186.6 851.4,197.9 853.3,186.6 854.6,198.2 856.5,186.6 857.9,198.4 859.8,186.6 861.2,199.5 863.3,186.6 864.8,200.7 866.9,186.6 868.6,202.1 870.8,186.6 872.6,203.6 874.9,186.6 876.8,204.7 879.2,186.6 881.1,205.7 883.7,186.6 885.7,206.7 888.3,186.6 890.4,207.7 893.1,186.6 895.3,208.6 898.1,186.6 900.3,209.4 903.1,186.6 905.4,210.1 908.3,186.6 910.7,210.8 913.6,186.6 916.0,211.4 919.0,186.6 921.5,212.0 924.5,186.6 927.0,212.7 930.1,186.6 932.7,213.3 935.8,186.6 938.4,213.9 941.6,186.6 944.3,214.5 947.5,186.6 950.2,215.2 953.5,186.6 956.3,215.7 959.6,186.6 962.4,216.3 965.8,186.6 968.7,216.8 972.1,186.6 975.0,217.2 978.5,186.6 981.4,217.6 984.9,186.6 987.8,218.0 991.3,186.6 994.3,218.2 997.9,186.6 1000.8,218.4 1004.4,186.6 1007.3,217.8 1010.8,186.6 1013.8,218.9 1017.4,186.6 1021.0,225.1 1025.1,186.6 1029.1,231.2 1033.7,186.6 1038.0,234.9 1042.9,186.6 1047.2,234.9 1052.1,186.6" fill="none" stroke="#c8c8d0" stroke-width="1.05" shape-rendering="crispEdges"/>
</g>
<path d="M81.1,272 V284" stroke="#cacad2" stroke-width="1.3"/>
<g clip-path="url(#pc)"><polygon points="99.9,290.0 99.9,284.0 101.5,274.0 103.4,262.5 106.5,255.0 109.7,247.3 111.5,237.0 113.5,225.5 115.5,221.5 118.0,219.0 121.0,217.6 124.0,217.0 134.0,216.2 144.2,215.7 160.0,215.5 177.8,215.7 190.0,216.6 204.8,217.9 216.0,218.3 228.4,219.0 238.0,220.6 245.0,221.5 255.0,222.6 267.0,223.4 280.0,222.8 292.0,222.1 306.0,221.4 320.7,221.2 327.0,222.4 334.2,224.1 351.0,226.8 367.8,229.2 384.7,231.3 398.0,233.2 404.0,233.6 406.5,232.0 408.2,230.2 410.0,231.8 413.0,232.4 420.0,233.5 435.2,237.2 440.0,237.6 446.7,238.3 452.0,240.4 456.8,243.1 460.5,244.3 463.6,245.9 465.6,248.0 467.0,251.0 468.4,257.0 469.5,264.2 470.2,274.0 470.8,284.0 470.8,290.0" fill="#b2b2b2" stroke="#fff" stroke-width="4.4" stroke-linejoin="round"/><polygon points="708.3,290.0 708.3,284.0 708.6,268.0 709.1,252.4 709.8,245.0 710.8,240.6 712.3,237.0 714.2,234.7 719.0,232.8 724.3,231.3 732.0,230.1 739.4,228.8 748.0,227.4 754.0,226.5 757.5,226.6 761.3,227.1 764.5,225.6 769.7,222.1 775.5,219.8 781.5,217.9 786.5,215.2 791.6,212.0 798.0,208.2 805.1,204.4 810.0,202.4 815.2,201.3 822.0,200.6 832.0,199.6 845.0,200.0 857.9,201.0 865.0,203.4 872.6,206.3 883.0,208.9 893.7,211.1 907.0,213.1 921.0,214.7 946.3,217.5 961.0,218.9 975.7,220.0 988.0,220.7 998.9,221.0 1004.0,220.6 1009.4,220.0 1012.5,221.6 1015.7,224.2 1018.4,226.9 1021.0,230.5 1022.2,236.0 1023.0,243.1 1024.2,254.0 1025.2,264.2 1026.8,274.0 1028.3,284.0 1028.3,290.0" fill="#b2b2b2" stroke="#fff" stroke-width="4.4" stroke-linejoin="round"/><polygon points="99.9,290.0 99.9,284.0 101.5,274.0 103.4,262.5 106.5,255.0 109.7,247.3 111.5,237.0 113.5,225.5 115.5,221.5 118.0,219.0 121.0,217.6 124.0,217.0 134.0,216.2 144.2,215.7 160.0,215.5 177.8,215.7 190.0,216.6 204.8,217.9 216.0,218.3 228.4,219.0 238.0,220.6 245.0,221.5 255.0,222.6 267.0,223.4 280.0,222.8 292.0,222.1 306.0,221.4 320.7,221.2 327.0,222.4 334.2,224.1 351.0,226.8 367.8,229.2 384.7,231.3 398.0,233.2 404.0,233.6 406.5,232.0 408.2,230.2 410.0,231.8 413.0,232.4 420.0,233.5 435.2,237.2 440.0,237.6 446.7,238.3 452.0,240.4 456.8,243.1 460.5,244.3 463.6,245.9 465.6,248.0 467.0,251.0 468.4,257.0 469.5,264.2 470.2,274.0 470.8,284.0 470.8,290.0" fill="#b2b2b2"/><polygon points="708.3,290.0 708.3,284.0 708.6,268.0 709.1,252.4 709.8,245.0 710.8,240.6 712.3,237.0 714.2,234.7 719.0,232.8 724.3,231.3 732.0,230.1 739.4,228.8 748.0,227.4 754.0,226.5 757.5,226.6 761.3,227.1 764.5,225.6 769.7,222.1 775.5,219.8 781.5,217.9 786.5,215.2 791.6,212.0 798.0,208.2 805.1,204.4 810.0,202.4 815.2,201.3 822.0,200.6 832.0,199.6 845.0,200.0 857.9,201.0 865.0,203.4 872.6,206.3 883.0,208.9 893.7,211.1 907.0,213.1 921.0,214.7 946.3,217.5 961.0,218.9 975.7,220.0 988.0,220.7 998.9,221.0 1004.0,220.6 1009.4,220.0 1012.5,221.6 1015.7,224.2 1018.4,226.9 1021.0,230.5 1022.2,236.0 1023.0,243.1 1024.2,254.0 1025.2,264.2 1026.8,274.0 1028.3,284.0 1028.3,290.0" fill="#b2b2b2"/></g>
</g>
<circle cx="71" cy="186.3" r="2.5" fill="#00f400"/>
<rect x="1055.2" y="183.9" width="3.8" height="3.8" fill="#f00"/>
<g stroke="#262626" stroke-width="1" fill="none" shape-rendering="crispEdges">
<path d="M70.5,181.0 V289.0 M1057.5,185.5 V284.5 M66.0,185.5 H1062.0 M70.5,284.5 H1057.5"/>
<path d="M216.5,185.5 v-4.5 M216.5,284.5 v4.5 M362.5,185.5 v-4.5 M362.5,284.5 v4.5 M507.5,185.5 v-4.5 M507.5,284.5 v4.5 M653.5,185.5 v-4.5 M653.5,284.5 v4.5 M799.5,185.5 v-4.5 M799.5,284.5 v4.5 M944.5,185.5 v-4.5 M944.5,284.5 v4.5 M70.5,234.5 h-4.5 M1057.5,234.5 h4.5 M70.5,283.5 h-4.5 M1057.5,283.5 h4.5 "/>
</g>
<text x="62.2" y="191.4" font-size="15.2" text-anchor="end" fill="#262626" textLength="7.9" lengthAdjust="spacingAndGlyphs">0</text>
<text x="62.2" y="239.9" font-size="15.2" text-anchor="end" fill="#262626" textLength="26.8" lengthAdjust="spacingAndGlyphs">100</text>
<text x="62.2" y="288.0" font-size="15.2" text-anchor="end" fill="#262626" textLength="26.8" lengthAdjust="spacingAndGlyphs">200</text>
<text transform="translate(27.3,235.0) rotate(-90)" font-size="15.2" text-anchor="middle" fill="#262626" textLength="75.6" lengthAdjust="spacingAndGlyphs">Depth (m)</text>
<polygon points="85.5,260.1 81.3,262.1 79.3,257.9 83.5,255.9" fill="none" stroke="#000" stroke-width="1.10" stroke-linejoin="round"/>
<text x="91.6" y="263.8" font-size="13.6" fill="#000" textLength="7.2" lengthAdjust="spacingAndGlyphs">0</text>
<polygon points="87.6,235.6 83.4,237.6 81.4,233.4 85.6,231.4" fill="none" stroke="#000" stroke-width="1.10" stroke-linejoin="round"/>
<text x="93.7" y="239.3" font-size="13.6" fill="#000" textLength="7.2" lengthAdjust="spacingAndGlyphs">1</text>
<polygon points="89.7,216.0 85.5,218.0 83.5,213.8 87.7,211.8" fill="none" stroke="#000" stroke-width="1.10" stroke-linejoin="round"/>
<text x="95.8" y="219.7" font-size="13.6" fill="#000" textLength="7.2" lengthAdjust="spacingAndGlyphs">2</text>
<polygon points="90.6,196.9 86.4,198.9 84.4,194.7 88.6,192.7" fill="none" stroke="#000" stroke-width="1.10" stroke-linejoin="round"/>
<text x="96.7" y="200.6" font-size="13.6" fill="#000" textLength="7.2" lengthAdjust="spacingAndGlyphs">3</text>
<polygon points="91.7,189.2 87.5,191.2 85.5,187.0 89.7,185.0" fill="none" stroke="#000" stroke-width="1.10" stroke-linejoin="round"/>
<text x="97.8" y="192.9" font-size="13.6" fill="#000" textLength="7.2" lengthAdjust="spacingAndGlyphs">4</text>
<polygon points="152.0,189.2 147.8,191.2 145.8,187.0 150.0,185.0" fill="none" stroke="#000" stroke-width="1.10" stroke-linejoin="round"/>
<text x="157.5" y="192.9" font-size="13.6" fill="#000" textLength="7.2" lengthAdjust="spacingAndGlyphs">5</text>
<polygon points="211.4,189.2 207.2,191.2 205.2,187.0 209.4,185.0" fill="none" stroke="#000" stroke-width="1.10" stroke-linejoin="round"/>
<text x="216.9" y="192.9" font-size="13.6" fill="#000" textLength="7.2" lengthAdjust="spacingAndGlyphs">6</text>
<polygon points="268.2,189.2 264.0,191.2 262.0,187.0 266.2,185.0" fill="none" stroke="#000" stroke-width="1.10" stroke-linejoin="round"/>
<text x="273.7" y="192.9" font-size="13.6" fill="#000" textLength="7.2" lengthAdjust="spacingAndGlyphs">7</text>
<polygon points="327.1,189.2 322.9,191.2 320.9,187.0 325.1,185.0" fill="none" stroke="#000" stroke-width="1.10" stroke-linejoin="round"/>
<text x="332.6" y="192.9" font-size="13.6" fill="#000" textLength="7.2" lengthAdjust="spacingAndGlyphs">8</text>
<polygon points="388.1,189.2 383.9,191.2 381.9,187.0 386.1,185.0" fill="none" stroke="#000" stroke-width="1.10" stroke-linejoin="round"/>
<text x="393.6" y="192.9" font-size="13.6" fill="#000" textLength="7.2" lengthAdjust="spacingAndGlyphs">9</text>
<polygon points="446.2,189.2 442.0,191.2 440.0,187.0 444.2,185.0" fill="none" stroke="#000" stroke-width="1.10" stroke-linejoin="round"/>
<text x="451.7" y="192.9" font-size="13.6" fill="#000" textLength="15.5" lengthAdjust="spacingAndGlyphs">10</text>
<polygon points="507.7,189.2 503.5,191.2 501.5,187.0 505.7,185.0" fill="none" stroke="#000" stroke-width="1.10" stroke-linejoin="round"/>
<text x="513.2" y="192.9" font-size="13.6" fill="#000" textLength="15.5" lengthAdjust="spacingAndGlyphs">11</text>
<polygon points="565.3,186.6 561.1,188.6 559.1,184.4 563.3,182.4" fill="none" stroke="#000" stroke-width="1.10" stroke-linejoin="round"/>
<text x="570.8" y="190.3" font-size="13.6" fill="#000" textLength="15.5" lengthAdjust="spacingAndGlyphs">12</text>
<polygon points="651.7,186.3 647.5,188.3 645.5,184.1 649.7,182.1" fill="none" stroke="#000" stroke-width="1.10" stroke-linejoin="round"/>
<text x="657.2" y="190.0" font-size="13.6" fill="#000" textLength="15.5" lengthAdjust="spacingAndGlyphs">13</text>
<polygon points="715.7,189.2 711.5,191.2 709.5,187.0 713.7,185.0" fill="none" stroke="#000" stroke-width="1.10" stroke-linejoin="round"/>
<text x="721.2" y="192.9" font-size="13.6" fill="#000" textLength="15.5" lengthAdjust="spacingAndGlyphs">14</text>
<polygon points="779.2,186.6 775.0,188.6 773.0,184.4 777.2,182.4" fill="none" stroke="#000" stroke-width="1.10" stroke-linejoin="round"/>
<text x="784.7" y="190.3" font-size="13.6" fill="#000" textLength="15.5" lengthAdjust="spacingAndGlyphs">15</text>
<polygon points="832.3,187.2 828.1,189.2 826.1,185.0 830.3,183.0" fill="none" stroke="#000" stroke-width="1.10" stroke-linejoin="round"/>
<text x="837.8" y="190.9" font-size="13.6" fill="#000" textLength="15.5" lengthAdjust="spacingAndGlyphs">16</text>
<polygon points="882.8,186.6 878.6,188.6 876.6,184.4 880.8,182.4" fill="none" stroke="#000" stroke-width="1.10" stroke-linejoin="round"/>
<text x="888.3" y="190.3" font-size="13.6" fill="#000" textLength="15.5" lengthAdjust="spacingAndGlyphs">17</text>
<polygon points="945.9,189.2 941.7,191.2 939.7,187.0 943.9,185.0" fill="none" stroke="#000" stroke-width="1.10" stroke-linejoin="round"/>
<text x="951.4" y="192.9" font-size="13.6" fill="#000" textLength="15.5" lengthAdjust="spacingAndGlyphs">18</text>
<polygon points="1001.5,186.6 997.3,188.6 995.3,184.4 999.5,182.4" fill="none" stroke="#000" stroke-width="1.10" stroke-linejoin="round"/>
<text x="1007.0" y="190.3" font-size="13.6" fill="#000" textLength="15.5" lengthAdjust="spacingAndGlyphs">19</text>
<text x="564.0" y="179.7" font-size="14.4" text-anchor="middle" font-weight="bold" fill="#000" textLength="63.0" lengthAdjust="spacingAndGlyphs">Density</text>
<text x="71.6" y="187.1" font-size="10.0" fill="#000" textLength="21.8" lengthAdjust="spacingAndGlyphs">ctd1</text>
<rect x="1093.5" y="185.5" width="20" height="99.0" fill="url(#cb)" stroke="#262626" stroke-width="1" shape-rendering="crispEdges"/>
<text x="1121.5" y="188.6" font-size="9.6" fill="#262626" textLength="10.7" lengthAdjust="spacingAndGlyphs">27</text>
<text x="1121.5" y="213.1" font-size="9.6" fill="#262626" textLength="10.7" lengthAdjust="spacingAndGlyphs">26</text>
<text x="1121.5" y="237.6" font-size="9.6" fill="#262626" textLength="10.7" lengthAdjust="spacingAndGlyphs">25</text>
<text x="1121.5" y="262.1" font-size="9.6" fill="#262626" textLength="10.7" lengthAdjust="spacingAndGlyphs">24</text>
<text x="1121.5" y="286.6" font-size="9.6" fill="#262626" textLength="10.7" lengthAdjust="spacingAndGlyphs">23</text>
<g transform="translate(1150.2,235.0) rotate(-90)"><text x="-4.9" font-size="8.2" fill="#262626">σ<tspan font-size="5.6" dy="2.3">t</tspan></text></g>
<!-- panel 1 -->
<g transform="translate(0,143)">
<g clip-path="url(#env)"><g filter="url(#vb)">
<rect x="60" y="150" width="1010" height="170" fill="#79ff86"/>
<path d="M60,330 L60,183.1 68,183.0 76,183.0 84,183.1 92,183.2 100,183.3 108,183.4 116,183.4 124,183.3 132,183.1 140,182.9 148,182.9 156,182.9 164,183.0 172,183.2 180,183.3 188,183.4 196,183.2 204,183.1 212,182.9 220,183.0 228,183.5 236,184.3 244,185.2 252,186.4 260,187.3 268,187.9 276,188.1 284,188.1 292,188.0 300,188.2 308,188.8 316,189.8 324,190.8 332,191.7 340,192.3 348,192.4 356,192.2 364,191.6 372,190.5 380,189.4 388,188.4 396,187.3 404,186.2 412,184.9 420,183.6 428,182.6 436,181.7 444,180.3 452,178.6 460,176.7 468,174.6 476,172.4 484,170.3 492,168.4 500,166.7 508,165.5 516,163.6 524,161.0 532,157.9 540,154.5 548,151.0 556,147.6 564,144.5 572,142.0 580,140.1 588,140.1 596,140.1 604,140.1 612,140.0 620,139.9 628,139.8 636,139.7 644,139.7 652,139.7 660,139.8 668,140.0 676,140.0 684,140.0 692,139.9 700,139.8 708,139.6 716,139.5 724,139.5 732,140.1 740,141.1 748,142.3 756,143.5 764,144.8 772,145.9 780,147.0 788,147.9 796,148.8 804,149.6 812,150.9 820,152.4 828,153.9 836,155.1 844,155.7 852,154.6 860,153.2 868,151.8 876,150.5 884,149.5 892,150.0 900,151.2 908,152.7 916,154.3 924,155.8 932,157.2 940,158.3 948,158.7 956,158.3 964,157.8 972,157.2 980,156.6 988,156.1 996,155.6 1004,155.4 1012,154.6 1020,153.7 1028,152.8 1036,152.1 1044,150.9 1052,149.7 1060,149.1 1068,149.0 L1068,330Z" fill="#43ffbc"/>
<path d="M60,330 L60,192.7 68,192.5 76,192.5 84,192.6 92,192.9 100,193.1 108,193.2 116,193.2 124,193.1 132,192.9 140,192.8 148,192.9 156,193.0 164,193.3 172,193.5 180,193.6 188,193.5 196,193.3 204,192.9 212,192.7 220,192.6 228,192.7 236,192.9 244,193.2 252,193.4 260,193.4 268,193.3 276,193.0 284,192.7 292,192.6 300,192.7 308,193.0 316,193.4 324,193.8 332,194.1 340,194.2 348,194.2 356,194.0 364,193.7 372,193.0 380,192.3 388,191.5 396,190.6 404,189.7 412,188.8 420,188.1 428,187.5 436,187.0 444,186.0 452,184.8 460,183.2 468,181.4 476,179.6 484,177.8 492,176.2 500,175.0 508,174.1 516,172.1 524,169.4 532,166.0 540,162.1 548,158.2 556,154.3 564,150.8 572,147.9 580,145.9 588,145.8 596,145.7 604,145.6 612,145.3 620,144.9 628,144.5 636,144.1 644,143.9 652,143.9 660,144.1 668,144.5 676,144.8 684,145.1 692,145.2 700,145.2 708,145.2 716,145.2 724,145.3 732,146.3 740,148.1 748,150.2 756,152.5 764,154.9 772,157.1 780,159.1 788,160.8 796,162.3 804,163.3 812,164.9 820,166.9 828,168.9 836,170.5 844,171.3 852,170.5 860,169.4 868,168.3 876,167.3 884,166.7 892,167.3 900,168.8 908,170.6 916,172.4 924,174.2 932,175.8 940,177.1 948,177.5 956,177.0 964,176.4 972,175.7 980,175.0 988,174.4 996,173.8 1004,173.4 1012,172.4 1020,171.1 1028,169.9 1036,169.2 1044,167.8 1052,166.2 1060,165.5 1068,165.5 L1068,330Z" fill="#1fffe0"/>
<path d="M60,330 L60,193.7 68,193.2 76,193.0 84,193.0 92,193.3 100,193.7 108,194.0 116,194.2 124,194.2 132,194.0 140,193.7 148,193.5 156,193.5 164,193.6 172,193.7 180,193.8 188,193.7 196,193.4 204,193.0 212,192.7 220,192.7 228,193.0 236,193.6 244,194.3 252,194.9 260,195.1 268,195.0 276,194.5 284,193.9 292,193.2 300,192.9 308,192.9 316,193.2 324,193.7 332,194.2 340,194.5 348,194.6 356,194.5 364,194.2 372,193.7 380,193.2 388,192.8 396,192.5 404,192.2 412,191.8 420,191.5 428,191.1 436,190.8 444,189.9 452,188.9 460,187.6 468,186.3 476,185.0 484,183.6 492,182.3 500,181.2 508,180.3 516,178.3 524,175.5 532,172.2 540,168.6 548,164.9 556,161.3 564,158.1 572,155.5 580,153.6 588,153.4 596,153.1 604,152.6 612,152.0 620,151.3 628,150.6 636,150.0 644,149.5 652,149.2 660,149.5 668,150.0 676,150.5 684,151.1 692,151.6 700,152.0 708,152.4 716,152.7 724,153.0 732,154.2 740,156.3 748,159.0 756,162.0 764,165.0 772,168.0 780,170.8 788,173.2 796,175.2 804,176.2 812,177.2 820,178.4 828,179.6 836,180.6 844,181.2 852,181.8 860,182.6 868,183.6 876,184.6 884,185.4 892,185.9 900,186.5 908,187.2 916,187.9 924,188.6 932,189.3 940,189.8 948,189.9 956,189.7 964,189.3 972,188.9 980,188.5 988,188.1 996,187.9 1004,187.8 1012,187.4 1020,186.7 1028,186.0 1036,185.4 1044,184.4 1052,183.3 1060,182.7 1068,182.7 L1068,330Z" fill="#00faff"/>
<path d="M60,330 L60,193.7 68,193.6 76,193.8 84,194.2 92,194.7 100,195.0 108,195.1 116,194.8 124,194.3 132,193.7 140,193.3 148,193.1 156,193.2 164,193.6 172,194.1 180,194.4 188,194.4 196,194.2 204,193.9 212,193.7 220,193.7 228,194.0 236,194.4 244,194.9 252,195.2 260,195.1 268,194.8 276,194.2 284,193.7 292,193.5 300,193.5 308,194.0 316,194.5 324,195.0 332,195.3 340,195.2 348,194.8 356,194.3 364,193.8 372,193.4 380,193.2 388,193.1 396,193.2 404,193.3 412,193.2 420,193.1 428,193.0 436,192.8 444,192.2 452,191.4 460,190.5 468,189.4 476,188.1 484,186.9 492,185.8 500,185.0 508,184.3 516,182.5 524,180.0 532,177.0 540,173.7 548,170.2 556,166.7 564,163.6 572,160.9 580,159.1 588,158.7 596,158.2 604,157.7 612,157.0 620,156.2 628,155.4 636,154.7 644,154.2 652,153.9 660,154.2 668,154.9 676,155.7 684,156.5 692,157.1 700,157.7 708,158.2 716,158.5 724,158.9 732,160.1 740,162.3 748,165.1 756,168.2 764,171.4 772,174.5 780,177.3 788,179.7 796,181.5 804,182.4 812,183.1 820,184.0 828,184.9 836,185.7 844,186.2 852,187.0 860,188.3 868,189.7 876,191.1 884,192.3 892,193.0 900,193.6 908,194.1 916,194.6 924,194.8 932,195.0 940,195.0 948,194.8 956,194.5 964,194.2 972,194.1 980,193.9 988,193.9 996,193.8 1004,193.9 1012,193.4 1020,192.7 1028,192.0 1036,191.4 1044,190.5 1052,189.5 1060,189.0 1068,188.9 L1068,330Z" fill="#00d6ff"/>
<path d="M60,330 L60,194.6 68,194.4 76,194.4 84,194.6 92,194.8 100,195.0 108,195.0 116,194.8 124,194.6 132,194.3 140,194.1 148,194.1 156,194.2 164,194.5 172,194.7 180,194.7 188,194.5 196,194.1 204,193.8 212,193.6 220,193.8 228,194.3 236,194.9 244,195.4 252,195.7 260,195.6 268,195.1 276,194.4 284,193.9 292,193.6 300,193.8 308,194.3 316,194.9 324,195.5 332,195.8 340,195.6 348,195.2 356,194.6 364,194.1 372,193.8 380,193.7 388,193.9 396,194.1 404,194.2 412,194.0 420,193.8 428,193.4 436,193.0 444,192.4 452,191.8 460,191.2 468,190.6 476,190.0 484,189.3 492,188.6 500,188.0 508,187.5 516,185.7 524,183.3 532,180.3 540,177.1 548,173.8 556,170.5 564,167.6 572,165.2 580,163.5 588,163.2 596,162.8 604,162.2 612,161.5 620,160.7 628,159.8 636,159.1 644,158.5 652,158.2 660,158.7 668,159.4 676,160.3 684,161.1 692,161.8 700,162.5 708,163.0 716,163.5 724,163.9 732,165.0 740,167.1 748,169.6 756,172.4 764,175.2 772,177.9 780,180.4 788,182.4 796,184.1 804,184.8 812,185.5 820,186.5 828,187.6 836,188.6 844,189.1 852,189.7 860,190.4 868,191.2 876,192.0 884,192.8 892,193.3 900,193.8 908,194.5 916,195.1 924,195.5 932,195.8 940,195.8 948,195.5 956,195.0 964,194.6 972,194.2 980,193.9 988,193.9 996,193.9 1004,194.1 1012,193.8 1020,193.2 1028,192.5 1036,191.9 1044,191.0 1052,190.0 1060,189.5 1068,189.5 L1068,330Z" fill="#00b2ff"/>
<path d="M60,330 L60,194.9 68,194.9 76,195.0 84,195.3 92,195.6 100,195.7 108,195.6 116,195.2 124,194.7 132,194.1 140,193.8 148,193.8 156,194.2 164,194.8 172,195.4 180,195.7 188,195.7 196,195.2 204,194.6 212,194.0 220,193.7 228,193.8 236,194.3 244,195.0 252,195.6 260,196.0 268,196.0 276,195.7 284,195.2 292,194.8 300,194.6 308,194.6 316,194.8 324,195.0 332,195.2 340,195.3 348,195.2 356,195.1 364,195.0 372,194.9 380,194.9 388,194.8 396,194.6 404,194.3 412,193.9 420,193.5 428,193.2 436,193.1 444,193.0 452,193.0 460,192.9 468,192.7 476,192.3 484,191.7 492,191.1 500,190.5 508,190.1 516,188.5 524,186.4 532,183.8 540,180.8 548,177.7 556,174.7 564,171.8 572,169.5 580,167.8 588,167.4 596,167.0 604,166.5 612,165.9 620,165.1 628,164.4 636,163.7 644,163.1 652,162.7 660,163.0 668,163.8 676,164.6 684,165.5 692,166.4 700,167.3 708,168.0 716,168.7 724,169.2 732,170.3 740,172.0 748,174.1 756,176.4 764,178.8 772,181.1 780,183.3 788,185.0 796,186.5 804,187.4 812,188.4 820,189.6 828,190.6 836,191.3 844,191.5 852,191.5 860,191.6 868,191.9 876,192.4 884,193.1 892,193.9 900,194.7 908,195.6 916,196.3 924,196.7 932,196.7 940,196.4 948,195.8 956,195.2 964,194.7 972,194.4 980,194.3 988,194.4 996,194.6 1004,194.9 1012,194.6 1020,193.9 1028,193.1 1036,192.4 1044,191.4 1052,190.4 1060,189.8 1068,189.8 L1068,330Z" fill="#008eff"/>
<path d="M60,330 L60,195.3 68,194.9 76,194.7 84,194.9 92,195.3 100,195.6 108,195.8 116,195.7 124,195.3 132,195.0 140,194.8 148,195.0 156,195.3 164,195.8 172,196.2 180,196.2 188,195.8 196,195.1 204,194.3 212,193.8 220,193.7 228,194.2 236,195.0 244,196.0 252,196.7 260,197.0 268,196.7 276,196.1 284,195.3 292,194.7 300,194.5 308,194.8 316,195.3 324,195.8 332,196.1 340,196.1 348,195.8 356,195.4 364,194.9 372,194.7 380,194.7 388,194.8 396,195.0 404,195.1 412,195.0 420,194.6 428,194.2 436,193.8 444,193.5 452,193.4 460,193.5 468,193.6 476,193.6 484,193.6 492,193.4 500,193.2 508,192.9 516,191.4 524,189.4 532,187.0 540,184.4 548,181.7 556,179.1 564,176.6 572,174.6 580,173.2 588,172.9 596,172.5 604,171.9 612,171.3 620,170.6 628,169.8 636,169.2 644,168.6 652,168.3 660,168.8 668,169.6 676,170.5 684,171.5 692,172.4 700,173.2 708,174.0 716,174.5 724,175.0 732,175.8 740,177.1 748,178.9 756,180.8 764,182.9 772,184.9 780,186.6 788,188.2 796,189.6 804,190.4 812,191.2 820,192.0 828,192.7 836,193.2 844,193.2 852,193.0 860,193.0 868,193.2 876,193.5 884,194.0 892,194.5 900,195.1 908,195.8 916,196.5 924,197.0 932,197.4 940,197.5 948,197.4 956,196.9 964,196.3 972,195.6 980,195.0 988,194.5 996,194.3 1004,194.3 1012,194.1 1020,193.8 1028,193.5 1036,193.4 1044,192.7 1052,191.9 1060,191.3 1068,191.0 L1068,330Z" fill="#006aff"/>
<path d="M60,330 L60,196.7 68,196.3 76,196.1 84,196.1 92,196.3 100,196.5 108,196.6 116,196.5 124,196.2 132,195.8 140,195.4 148,195.3 156,195.4 164,195.6 172,195.8 180,195.8 188,195.6 196,195.2 204,194.9 212,194.8 220,195.0 228,195.6 236,196.3 244,197.0 252,197.4 260,197.3 268,196.9 276,196.2 284,195.5 292,195.2 300,195.3 308,195.8 316,196.5 324,197.1 332,197.5 340,197.4 348,197.0 356,196.4 364,195.7 372,195.2 380,194.9 388,194.8 396,194.9 404,195.0 412,195.0 420,194.9 428,194.8 436,194.6 444,194.5 452,194.3 460,194.2 468,194.0 476,193.9 484,193.7 492,193.6 500,193.6 508,193.7 516,193.1 524,192.0 532,190.5 540,188.7 548,186.7 556,184.7 564,183.0 572,181.5 580,180.6 588,180.5 596,180.3 604,180.2 612,179.9 620,179.5 628,179.0 636,178.5 644,178.1 652,177.9 660,178.2 668,178.7 676,179.4 684,180.1 692,180.8 700,181.4 708,181.9 716,182.4 724,182.8 732,183.4 740,184.3 748,185.5 756,186.8 764,188.1 772,189.2 780,190.1 788,190.9 796,191.8 804,192.3 812,193.0 820,193.7 828,194.4 836,194.7 844,194.7 852,194.6 860,194.4 868,194.4 876,194.5 884,194.8 892,195.3 900,196.1 908,196.9 916,197.5 924,198.0 932,198.1 940,198.0 948,197.6 956,197.0 964,196.5 972,196.1 980,195.8 988,195.8 996,195.9 1004,196.1 1012,195.9 1020,195.3 1028,194.6 1036,194.1 1044,193.1 1052,192.0 1060,191.5 1068,191.4 L1068,330Z" fill="#0046ff"/>
<path d="M60,330 L60,197.3 68,197.3 76,197.4 84,197.8 92,198.2 100,198.5 108,198.5 116,198.3 124,197.7 132,197.1 140,196.6 148,196.4 156,196.5 164,196.8 172,197.1 180,197.2 188,196.9 196,196.5 204,195.9 212,195.5 220,195.4 228,195.7 236,196.2 244,196.8 252,197.3 260,197.3 268,197.0 276,196.5 284,196.0 292,195.7 300,195.7 308,196.1 316,196.6 324,197.1 332,197.4 340,197.4 348,197.0 356,196.6 364,196.2 372,195.9 380,195.9 388,196.0 396,196.1 404,196.1 412,196.0 420,195.7 428,195.4 436,195.2 444,195.1 452,195.1 460,195.2 468,195.2 476,195.2 484,195.1 492,195.0 500,194.8 508,194.8 516,194.3 524,193.7 532,192.9 540,192.0 548,191.0 556,190.0 564,189.1 572,188.5 580,188.1 588,188.3 596,188.5 604,188.6 612,188.5 620,188.3 628,188.0 636,187.7 644,187.5 652,187.5 660,187.9 668,188.5 676,189.2 684,189.8 692,190.1 700,190.3 708,190.2 716,190.1 724,190.1 732,190.3 740,190.8 748,191.5 756,192.2 764,192.8 772,193.1 780,193.3 788,193.4 796,193.6 804,193.8 812,194.1 820,194.5 828,194.9 836,195.1 844,195.2 852,195.3 860,195.5 868,195.7 876,196.1 884,196.5 892,197.1 900,197.9 908,198.7 916,199.3 924,199.8 932,200.0 940,200.0 948,199.7 956,199.2 964,198.7 972,198.1 980,197.7 988,197.2 996,196.9 1004,196.7 1012,196.1 1020,195.2 1028,194.5 1036,193.9 1044,193.0 1052,192.1 1060,191.7 1068,191.7 L1068,330Z" fill="#0022ff"/>
<path d="M60,330 L60,197.4 68,196.9 76,196.7 84,196.8 92,197.2 100,197.5 108,197.7 116,197.7 124,197.5 132,197.3 140,197.2 148,197.4 156,197.8 164,198.3 172,198.8 180,198.9 188,198.6 196,198.0 204,197.3 212,196.8 220,196.6 228,196.8 236,197.3 244,197.9 252,198.4 260,198.5 268,198.2 276,197.6 284,197.0 292,196.6 300,196.5 308,196.6 316,196.9 324,197.2 332,197.3 340,197.0 348,196.6 356,196.1 364,195.7 372,195.5 380,195.6 388,195.9 396,196.1 404,196.3 412,196.3 420,196.1 428,195.8 436,195.6 444,195.6 452,195.7 460,195.9 468,196.2 476,196.4 484,196.5 492,196.6 500,196.7 508,196.9 516,197.0 524,197.0 532,197.0 540,196.7 548,196.4 556,195.9 564,195.5 572,195.3 580,195.2 588,195.5 596,195.9 604,196.3 612,196.5 620,196.6 628,196.5 636,196.5 644,196.6 652,196.9 660,197.4 668,198.1 676,198.7 684,198.9 692,198.8 700,198.4 708,197.8 716,197.3 724,197.1 732,197.2 740,197.5 748,198.0 756,198.5 764,198.6 772,198.5 780,198.2 788,197.9 796,197.6 804,197.5 812,197.3 820,197.1 828,196.9 836,196.5 844,196.1 852,196.0 860,195.8 868,195.8 876,196.0 884,196.4 892,197.0 900,197.8 908,198.6 916,199.4 924,199.9 932,200.2 940,200.2 948,200.1 956,199.6 964,199.3 972,199.0 980,198.8 988,198.7 996,198.7 1004,198.7 1012,198.3 1020,197.6 1028,196.9 1036,196.3 1044,195.2 1052,193.9 1060,193.2 1068,193.0 L1068,330Z" fill="#0000fd"/>
<path d="M60,330 L60,199.7 68,199.4 76,199.5 84,199.8 92,200.3 100,200.7 108,200.8 116,200.5 124,200.0 132,199.3 140,198.9 148,198.8 156,199.1 164,199.7 172,200.3 180,200.7 188,200.6 196,200.1 204,199.4 212,198.7 220,198.3 228,198.3 236,198.7 244,199.3 252,199.8 260,200.1 268,200.0 276,199.6 284,199.2 292,198.9 300,198.9 308,199.0 316,199.1 324,199.2 332,199.1 340,198.8 348,198.3 356,197.9 364,197.6 372,197.6 380,197.9 388,198.2 396,198.4 404,198.4 412,198.2 420,197.8 428,197.5 436,197.2 444,197.4 452,197.8 460,198.3 468,198.8 476,199.2 484,199.3 492,199.2 500,199.0 508,198.8 516,198.8 524,199.0 532,199.4 540,200.0 548,200.5 556,201.1 564,201.6 572,202.1 580,202.5 588,202.9 596,203.2 604,203.2 612,203.0 620,202.5 628,202.0 636,201.6 644,201.6 652,202.0 660,202.7 668,203.6 676,204.4 684,204.7 692,204.6 700,204.0 708,203.2 716,202.5 724,202.3 732,202.2 740,202.4 748,202.7 756,202.7 764,202.3 772,201.6 780,200.8 788,200.0 796,199.6 804,199.5 812,199.5 820,199.5 828,199.4 836,199.1 844,198.8 852,198.6 860,198.3 868,197.9 876,197.7 884,197.7 892,198.1 900,198.8 908,199.6 916,200.4 924,201.0 932,201.5 940,201.6 948,201.5 956,201.1 964,200.6 972,200.3 980,200.1 988,200.0 996,200.1 1004,200.2 1012,199.8 1020,199.2 1028,198.4 1036,197.7 1044,196.5 1052,195.2 1060,194.6 1068,194.5 L1068,330Z" fill="#0000da"/>
<path d="M60,330 L60,202.8 68,202.5 76,202.8 84,203.6 92,204.3 100,204.8 108,204.7 116,203.9 124,202.8 132,201.8 140,201.3 148,201.5 156,202.2 164,203.2 172,203.9 180,203.9 188,203.2 196,202.1 204,201.0 212,200.4 220,200.6 228,201.5 236,202.7 244,203.8 252,204.2 260,204.0 268,203.1 276,201.9 284,201.0 292,200.7 300,201.0 308,201.7 316,202.5 324,203.1 332,203.1 340,202.7 348,202.0 356,201.4 364,200.9 372,200.9 380,201.0 388,201.3 396,201.4 404,201.3 412,201.0 420,200.7 428,200.6 436,200.7 444,201.1 452,201.5 460,201.8 468,201.9 476,201.9 484,201.8 492,201.9 500,202.3 508,202.9 516,203.7 524,204.4 532,204.7 540,204.7 548,204.4 556,204.1 564,204.2 572,204.8 580,205.8 588,207.0 596,207.9 604,208.3 612,207.9 620,207.0 628,206.0 636,205.2 644,205.0 652,205.6 660,206.5 668,207.5 676,208.1 684,208.1 692,207.4 700,206.4 708,205.3 716,204.7 724,204.7 732,204.9 740,205.3 748,205.6 756,205.4 764,204.9 772,204.1 780,203.3 788,202.8 796,202.6 804,202.6 812,202.4 820,202.0 828,201.4 836,200.7 844,200.2 852,200.2 860,200.2 868,200.2 876,200.3 884,200.3 892,200.5 900,200.8 908,201.2 916,201.8 924,202.6 932,203.3 940,203.9 948,204.1 956,203.7 964,203.1 972,202.3 980,201.7 988,201.4 996,201.5 1004,202.0 1012,202.0 1020,201.7 1028,201.0 1036,200.2 1044,198.8 1052,197.3 1060,196.6 1068,196.6 L1068,330Z" fill="#0000b6"/>
<path d="M60,330 L60,208.1 68,207.5 76,207.2 84,207.1 92,207.1 100,207.1 108,207.0 116,206.5 124,205.9 132,205.4 140,205.2 148,205.5 156,206.2 164,207.2 172,208.0 180,208.4 188,208.2 196,207.5 204,206.5 212,205.7 220,205.3 228,205.4 236,206.0 244,206.6 252,207.0 260,207.0 268,206.5 276,205.7 284,204.9 292,204.4 300,204.5 308,204.9 316,205.7 324,206.3 332,206.7 340,206.6 348,206.2 356,205.6 364,205.1 372,204.9 380,205.0 388,205.3 396,205.7 404,206.0 412,206.0 420,205.9 428,205.6 436,205.4 444,205.5 452,205.8 460,206.3 468,206.7 476,207.0 484,207.1 492,207.1 500,206.9 508,206.9 516,206.9 524,207.1 532,207.5 540,207.8 548,208.1 556,208.4 564,208.9 572,209.6 580,210.6 588,211.6 596,212.5 604,213.0 612,213.0 620,212.4 628,211.4 636,210.2 644,209.3 652,208.8 660,208.8 668,209.2 676,209.6 684,209.8 692,209.6 700,209.1 708,208.5 716,208.1 724,208.1 732,208.4 740,208.8 748,209.3 756,209.4 764,209.0 772,208.2 780,207.2 788,206.3 796,205.8 804,205.6 812,205.4 820,205.2 828,205.0 836,204.5 844,204.0 852,203.7 860,203.1 868,202.5 876,202.1 884,202.0 892,202.4 900,203.0 908,203.8 916,204.5 924,205.0 932,205.3 940,205.4 948,205.4 956,205.2 964,205.1 972,205.1 980,205.2 988,205.3 996,205.6 1004,205.8 1012,205.5 1020,205.0 1028,204.4 1036,203.8 1044,202.7 1052,201.5 1060,200.7 1068,200.4 L1068,330Z" fill="#000092"/>
<path d="M60,330 L60,210.4 68,210.4 76,211.0 84,211.9 92,212.9 100,213.5 108,213.5 116,212.9 124,211.8 132,210.6 140,209.9 148,209.9 156,210.5 164,211.4 172,212.3 180,212.7 188,212.3 196,211.2 204,209.9 212,208.8 220,208.4 228,208.8 236,209.8 244,211.0 252,211.9 260,212.1 268,211.6 276,210.4 284,209.0 292,208.0 300,207.6 308,208.0 316,208.9 324,210.0 332,210.8 340,211.1 348,210.9 356,210.1 364,209.3 372,208.7 380,208.4 388,208.5 396,209.0 404,209.5 412,209.9 420,210.2 428,210.3 436,210.3 444,210.3 452,210.4 460,210.6 468,210.8 476,211.1 484,211.4 492,211.8 500,212.3 508,212.8 516,213.4 524,213.8 532,214.0 540,213.9 548,213.6 556,213.3 564,213.3 572,213.7 580,214.5 588,215.4 596,216.3 604,216.6 612,216.3 620,215.3 628,213.9 636,212.6 644,211.9 652,211.9 660,212.6 668,213.7 676,214.7 684,215.1 692,214.7 700,213.6 708,212.1 716,210.8 724,210.1 732,210.0 740,210.5 748,211.3 756,212.0 764,212.1 772,211.6 780,210.7 788,209.6 796,208.8 804,208.3 812,208.1 820,208.0 828,208.0 836,207.9 844,207.8 852,207.5 860,206.8 868,206.0 876,205.3 884,204.9 892,205.1 900,205.8 908,206.7 916,207.7 924,208.5 932,209.1 940,209.2 948,208.9 956,208.4 964,207.9 972,207.5 980,207.3 988,207.3 996,207.7 1004,208.2 1012,208.3 1020,208.0 1028,207.5 1036,206.9 1044,205.7 1052,204.5 1060,203.7 1068,203.6 L1068,330Z" fill="#0b0082"/>
<path d="M60,330 L60,215.1 68,214.9 76,215.1 84,215.8 92,216.6 100,217.2 108,217.4 116,217.0 124,216.1 132,215.1 140,214.3 148,214.0 156,214.2 164,214.7 172,215.2 180,215.3 188,214.9 196,214.1 204,213.2 212,212.5 220,212.5 228,213.1 236,214.1 244,215.2 252,215.9 260,215.9 268,215.2 276,214.0 284,212.7 292,211.9 300,211.6 308,212.0 316,212.7 324,213.5 332,213.8 340,213.7 348,213.2 356,212.6 364,212.0 372,212.0 380,212.3 388,213.0 396,213.8 404,214.4 412,214.7 420,214.7 428,214.5 436,214.4 444,214.4 452,214.6 460,214.9 468,215.2 476,215.3 484,215.2 492,214.9 500,214.8 508,214.8 516,215.0 524,215.6 532,216.2 540,216.8 548,217.2 556,217.6 564,218.1 572,218.7 580,219.5 588,220.3 596,221.0 604,221.3 612,220.9 620,220.0 628,218.6 636,217.2 644,216.2 652,215.8 660,215.9 668,216.3 676,216.8 684,216.8 692,216.4 700,215.6 708,214.6 716,214.0 724,213.9 732,214.3 740,215.2 748,216.0 756,216.6 764,216.6 772,216.1 780,215.2 788,214.3 796,213.6 804,213.3 812,212.9 820,212.6 828,212.1 836,211.5 844,210.8 852,210.1 860,209.2 868,208.5 876,208.1 884,208.2 892,208.8 900,209.9 908,210.9 916,211.8 924,212.4 932,212.7 940,212.7 948,212.4 956,212.1 964,211.8 972,211.5 980,211.3 988,211.2 996,211.2 1004,211.1 1012,210.8 1020,210.3 1028,209.8 1036,209.4 1044,208.8 1052,208.1 1060,207.7 1068,207.8 L1068,330Z" fill="#220087"/>
<path d="M60,330 L60,220.2 68,219.7 76,219.8 84,220.2 92,220.7 100,221.1 108,221.0 116,220.2 124,219.1 132,217.8 140,216.9 148,216.5 156,216.7 164,217.3 172,218.0 180,218.2 188,217.9 196,217.1 204,216.2 212,215.6 220,215.6 228,216.4 236,217.6 244,218.9 252,219.7 260,219.8 268,219.1 276,217.8 284,216.5 292,215.7 300,215.5 308,216.0 316,216.9 324,217.8 332,218.3 340,218.3 348,217.7 356,217.0 364,216.3 372,216.2 380,216.5 388,217.1 396,217.8 404,218.4 412,218.6 420,218.6 428,218.3 436,218.1 444,218.1 452,218.4 460,218.8 468,219.1 476,219.2 484,219.1 492,218.9 500,218.6 508,218.5 516,218.6 524,218.9 532,219.3 540,219.7 548,219.9 556,220.1 564,220.4 572,220.9 580,221.7 588,222.6 596,223.5 604,224.0 612,224.0 620,223.3 628,222.3 636,221.3 644,220.6 652,220.5 660,221.0 668,221.7 676,222.2 684,222.3 692,221.8 700,220.6 708,219.3 716,218.3 724,217.8 732,218.0 740,218.6 748,219.3 756,219.8 764,219.8 772,219.3 780,218.5 788,217.7 796,217.2 804,217.2 812,217.2 820,217.1 828,216.9 836,216.4 844,215.8 852,214.9 860,213.8 868,212.8 876,212.0 884,211.8 892,212.1 900,212.8 908,213.6 916,214.2 924,214.5 932,214.6 940,214.5 948,214.2 956,214.0 964,214.0 972,214.0 980,214.1 988,214.3 996,214.5 1004,214.8 1012,214.7 1020,214.5 1028,214.2 1036,213.9 1044,213.3 1052,212.6 1060,212.3 1068,212.3 L1068,330Z" fill="#39008c"/>
<path d="M60,330 L60,223.8 68,223.3 76,223.3 84,223.7 92,224.4 100,225.0 108,225.2 116,224.9 124,224.2 132,223.3 140,222.7 148,222.4 156,222.6 164,222.9 172,223.0 180,222.7 188,221.8 196,220.6 204,219.4 212,218.8 220,219.1 228,220.2 236,221.8 244,223.4 252,224.3 260,224.2 268,223.1 276,221.4 284,219.8 292,218.8 300,218.7 308,219.6 316,220.9 324,222.4 332,223.3 340,223.4 348,222.9 356,222.0 364,221.1 372,220.6 380,220.6 388,221.1 396,221.6 404,222.0 412,222.1 420,221.8 428,221.3 436,220.8 444,220.7 452,221.0 460,221.5 468,222.1 476,222.8 484,223.3 492,223.8 500,224.1 508,224.5 516,224.8 524,225.0 532,225.1 540,225.0 548,224.6 556,224.3 564,224.3 572,224.7 580,225.7 588,226.9 596,228.1 604,228.8 612,228.8 620,227.9 628,226.5 636,225.0 644,223.9 652,223.6 660,224.0 668,224.9 676,225.8 684,226.2 692,226.0 700,225.0 708,223.7 716,222.6 724,221.9 732,222.0 740,222.5 748,223.1 756,223.6 764,223.5 772,222.9 780,221.9 788,220.8 796,220.1 804,219.8 812,219.7 820,219.7 828,219.8 836,219.7 844,219.5 852,219.2 860,218.6 868,217.9 876,217.4 884,217.2 892,217.4 900,217.8 908,218.2 916,218.4 924,218.5 932,218.5 940,218.4 948,218.5 956,218.7 964,219.0 972,219.3 980,219.5 988,219.7 996,219.8 1004,219.8 1012,219.5 1020,219.3 1028,219.0 1036,218.8 1044,218.4 1052,218.0 1060,217.7 1068,217.6 L1068,330Z" fill="#4f0091"/>
<path d="M60,330 L60,230.1 68,229.7 76,229.5 84,229.2 92,229.0 100,228.8 108,228.6 116,228.2 124,227.9 132,227.7 140,227.9 148,228.3 156,228.7 164,229.0 172,228.8 180,228.0 188,226.8 196,225.5 204,224.5 212,224.1 220,224.7 228,225.9 236,227.2 244,228.2 252,228.5 260,227.9 268,226.6 276,225.3 284,224.4 292,224.4 300,225.3 308,226.7 316,228.0 324,228.7 332,228.5 340,227.4 348,225.8 356,224.4 364,223.7 372,224.0 380,225.0 388,226.4 396,227.4 404,227.8 412,227.3 420,226.2 428,224.9 436,224.1 444,224.2 452,225.0 460,226.3 468,227.6 476,228.4 484,228.4 492,227.9 500,227.1 508,226.5 516,226.5 524,227.2 532,228.4 540,229.7 548,230.8 556,231.4 564,231.5 572,231.3 580,230.9 588,230.6 596,230.5 604,230.6 612,230.7 620,230.6 628,230.4 636,230.0 644,229.8 652,229.7 660,229.9 668,230.2 676,230.4 684,230.4 692,230.0 700,229.4 708,228.6 716,227.9 724,227.4 732,227.2 740,227.1 748,226.9 756,226.6 764,226.1 772,225.6 780,225.2 788,225.1 796,225.5 804,226.0 812,226.4 820,226.3 828,225.7 836,224.7 844,223.7 852,222.6 860,221.8 868,221.4 876,221.5 884,221.9 892,222.7 900,223.4 908,223.7 916,223.7 924,223.6 932,223.4 940,223.4 948,223.6 956,224.0 964,224.3 972,224.4 980,224.1 988,223.7 996,223.1 1004,222.8 1012,222.9 1020,223.4 1028,224.3 1036,225.2 1044,225.9 1052,226.1 1060,225.8 1068,225.2 L1068,330Z" fill="#660095"/>
<path d="M60,330 L60,232.9 68,231.6 76,231.3 84,232.1 92,233.7 100,235.5 108,236.7 116,236.9 124,236.1 132,234.5 140,232.7 148,231.4 156,230.8 164,231.0 172,231.6 180,232.2 188,232.3 196,231.8 204,231.0 212,230.1 220,229.7 228,229.9 236,230.7 244,231.7 252,232.5 260,232.8 268,232.4 276,231.6 284,230.7 292,230.1 300,230.0 308,230.4 316,231.1 324,231.7 332,232.0 340,231.7 348,231.0 356,230.3 364,229.7 372,229.6 380,229.9 388,230.5 396,231.0 404,231.2 412,231.1 420,230.8 428,230.4 436,230.1 444,230.2 452,230.4 460,230.8 468,231.0 476,231.1 484,231.1 492,231.1 500,231.5 508,232.1 516,233.0 524,233.9 532,234.4 540,234.5 548,234.2 556,233.6 564,233.3 572,233.6 580,234.5 588,235.9 596,237.3 604,238.1 612,237.9 620,236.5 628,234.4 636,232.3 644,230.8 652,230.6 660,231.7 668,233.6 676,235.6 684,237.0 692,237.2 700,236.0 708,234.0 716,231.7 724,230.0 732,229.3 740,229.4 748,230.3 756,231.2 764,231.8 772,231.7 780,231.0 788,229.9 796,228.9 804,228.4 812,228.4 820,228.7 828,229.3 836,229.8 844,230.1 852,229.9 860,229.3 868,228.4 876,227.5 884,226.9 892,226.9 900,227.2 908,227.7 916,228.2 924,228.7 932,228.9 940,228.9 948,228.7 956,228.5 964,228.4 972,228.3 980,228.4 988,228.7 996,229.2 1004,229.7 1012,230.3 1020,230.8 1028,230.9 1036,230.6 1044,230.2 1052,229.8 1060,229.5 1068,229.6 L1068,330Z" fill="#7c009a"/>
<path d="M60,330 L60,244.4 68,243.3 76,243.3 84,244.2 92,245.6 100,246.8 108,247.1 116,246.2 124,244.3 132,242.1 140,240.3 148,239.6 156,240.0 164,241.5 172,243.1 180,244.2 188,244.1 196,243.0 204,241.1 212,239.5 220,238.8 228,239.3 236,241.0 244,243.2 252,245.1 260,246.0 268,245.5 276,243.9 284,242.0 292,240.4 300,239.8 308,240.5 316,242.1 324,244.0 332,245.5 340,246.2 348,245.9 356,244.7 364,243.3 372,242.1 380,241.4 388,241.4 396,241.7 404,242.1 412,242.4 420,242.4 428,242.0 436,241.5 444,241.0 452,240.6 460,240.4 468,240.3 476,240.3 484,240.5 492,240.9 500,241.5 508,242.2 516,242.9 524,243.5 532,243.7 540,243.7 548,243.5 556,243.5 564,243.9 572,245.0 580,246.6 588,248.3 596,249.7 604,250.1 612,249.5 620,247.8 628,245.7 636,243.9 644,242.9 652,243.2 660,244.4 668,245.9 676,247.0 684,247.1 692,245.8 700,243.6 708,241.1 716,239.1 724,238.4 732,238.9 740,240.4 748,242.0 756,243.2 764,243.3 772,242.3 780,240.7 788,239.1 796,238.4 804,238.7 812,240.1 820,241.9 828,243.5 836,244.4 844,244.2 852,243.0 860,241.2 868,239.5 876,238.5 884,238.5 892,239.5 900,241.1 908,242.7 916,243.7 924,243.9 932,243.3 940,242.2 948,240.9 956,240.0 964,239.5 972,239.6 980,240.0 988,240.7 996,241.3 1004,241.6 1012,241.6 1020,241.4 1028,240.9 1036,240.3 1044,240.0 1052,239.9 1060,240.1 1068,240.6 L1068,330Z" fill="#93009f"/>
<path d="M60,330 L60,255.2 68,254.2 76,254.0 84,254.4 92,255.3 100,256.1 108,256.3 116,255.8 124,254.6 132,253.3 140,252.4 148,252.2 156,252.9 164,254.0 172,255.1 180,255.5 188,255.1 196,254.0 204,252.6 212,251.7 220,251.8 228,253.0 236,255.0 244,257.1 252,258.6 260,258.9 268,257.9 276,256.0 284,254.0 292,252.5 300,252.0 308,252.5 316,253.7 324,254.9 332,255.6 340,255.5 348,254.8 356,253.9 364,253.1 372,253.0 380,253.6 388,254.5 396,255.5 404,256.0 412,256.0 420,255.4 428,254.5 436,253.6 444,253.1 452,253.0 460,253.1 468,253.3 476,253.4 484,253.3 492,253.2 500,253.2 508,253.5 516,254.1 524,254.8 532,255.5 540,255.9 548,255.9 556,255.6 564,255.4 572,255.5 580,256.0 588,256.9 596,257.8 604,258.3 612,258.2 620,257.4 628,256.2 636,255.1 644,254.5 652,254.7 660,255.6 668,256.8 676,257.7 684,257.9 692,257.0 700,255.2 708,253.1 716,251.4 724,250.5 732,250.6 740,251.6 748,253.0 756,254.2 764,254.8 772,254.7 780,254.1 788,253.4 796,253.1 804,253.5 812,254.3 820,255.4 828,256.1 836,256.3 844,255.7 852,254.5 860,253.2 868,252.0 876,251.5 884,251.7 892,252.5 900,253.7 908,254.8 916,255.5 924,255.7 932,255.5 940,254.9 948,254.1 956,253.3 964,252.7 972,252.2 980,251.9 988,251.9 996,252.1 1004,252.5 1012,253.2 1020,253.9 1028,254.5 1036,254.8 1044,254.8 1052,254.7 1060,254.3 1068,254.1 L1068,330Z" fill="#aa00a4"/>
<path d="M60,330 L60,263.3 68,263.2 76,264.0 84,265.7 92,267.7 100,269.4 108,270.2 116,269.8 124,268.5 132,266.6 140,264.9 148,263.9 156,263.8 164,264.3 172,265.0 180,265.4 188,265.2 196,264.5 204,263.6 212,263.2 220,263.6 228,265.0 236,267.0 244,268.9 252,270.1 260,270.1 268,268.9 276,267.0 284,265.1 292,264.0 300,264.1 308,265.4 316,267.3 324,269.2 332,270.3 340,270.4 348,269.5 356,268.0 364,266.4 372,265.3 380,264.8 388,264.9 396,265.2 404,265.5 412,265.6 420,265.4 428,265.2 436,265.2 444,265.5 452,265.9 460,266.4 468,266.6 476,266.4 484,265.7 492,264.9 500,264.3 508,264.0 516,264.3 524,265.1 532,266.0 540,266.8 548,267.4 556,267.7 564,268.0 572,268.3 580,268.7 588,269.2 596,269.4 604,269.1 612,268.1 620,266.5 628,264.7 636,263.3 644,262.8 652,263.5 660,265.2 668,267.4 676,269.3 684,270.4 692,270.3 700,269.0 708,267.0 716,265.0 724,263.6 732,263.1 740,263.5 748,264.2 756,264.9 764,265.2 772,265.0 780,264.5 788,264.1 796,264.1 804,264.9 812,266.1 820,267.6 828,268.8 836,269.3 844,269.0 852,268.1 860,267.0 868,266.2 876,266.0 884,266.3 892,267.2 900,268.2 908,268.9 916,269.2 924,268.8 932,267.9 940,266.7 948,265.5 956,264.4 964,263.7 972,263.5 980,263.6 988,264.2 996,265.1 1004,266.2 1012,267.3 1020,268.2 1028,268.6 1036,268.4 1044,267.6 1052,266.4 1060,265.1 1068,264.0 L1068,330Z" fill="#b500a6"/>
</g>
</g>
<g clip-path="url(#pc)"><polygon points="99.9,290.0 99.9,284.0 101.5,274.0 103.4,262.5 106.5,255.0 109.7,247.3 111.5,237.0 113.5,225.5 115.5,221.5 118.0,219.0 121.0,217.6 124.0,217.0 134.0,216.2 144.2,215.7 160.0,215.5 177.8,215.7 190.0,216.6 204.8,217.9 216.0,218.3 228.4,219.0 238.0,220.6 245.0,221.5 255.0,222.6 267.0,223.4 280.0,222.8 292.0,222.1 306.0,221.4 320.7,221.2 327.0,222.4 334.2,224.1 351.0,226.8 367.8,229.2 384.7,231.3 398.0,233.2 404.0,233.6 406.5,232.0 408.2,230.2 410.0,231.8 413.0,232.4 420.0,233.5 435.2,237.2 440.0,237.6 446.7,238.3 452.0,240.4 456.8,243.1 460.5,244.3 463.6,245.9 465.6,248.0 467.0,251.0 468.4,257.0 469.5,264.2 470.2,274.0 470.8,284.0 470.8,290.0" fill="#b2b2b2" stroke="#fff" stroke-width="4.4" stroke-linejoin="round"/><polygon points="708.3,290.0 708.3,284.0 708.6,268.0 709.1,252.4 709.8,245.0 710.8,240.6 712.3,237.0 714.2,234.7 719.0,232.8 724.3,231.3 732.0,230.1 739.4,228.8 748.0,227.4 754.0,226.5 757.5,226.6 761.3,227.1 764.5,225.6 769.7,222.1 775.5,219.8 781.5,217.9 786.5,215.2 791.6,212.0 798.0,208.2 805.1,204.4 810.0,202.4 815.2,201.3 822.0,200.6 832.0,199.6 845.0,200.0 857.9,201.0 865.0,203.4 872.6,206.3 883.0,208.9 893.7,211.1 907.0,213.1 921.0,214.7 946.3,217.5 961.0,218.9 975.7,220.0 988.0,220.7 998.9,221.0 1004.0,220.6 1009.4,220.0 1012.5,221.6 1015.7,224.2 1018.4,226.9 1021.0,230.5 1022.2,236.0 1023.0,243.1 1024.2,254.0 1025.2,264.2 1026.8,274.0 1028.3,284.0 1028.3,290.0" fill="#b2b2b2" stroke="#fff" stroke-width="4.4" stroke-linejoin="round"/><polygon points="99.9,290.0 99.9,284.0 101.5,274.0 103.4,262.5 106.5,255.0 109.7,247.3 111.5,237.0 113.5,225.5 115.5,221.5 118.0,219.0 121.0,217.6 124.0,217.0 134.0,216.2 144.2,215.7 160.0,215.5 177.8,215.7 190.0,216.6 204.8,217.9 216.0,218.3 228.4,219.0 238.0,220.6 245.0,221.5 255.0,222.6 267.0,223.4 280.0,222.8 292.0,222.1 306.0,221.4 320.7,221.2 327.0,222.4 334.2,224.1 351.0,226.8 367.8,229.2 384.7,231.3 398.0,233.2 404.0,233.6 406.5,232.0 408.2,230.2 410.0,231.8 413.0,232.4 420.0,233.5 435.2,237.2 440.0,237.6 446.7,238.3 452.0,240.4 456.8,243.1 460.5,244.3 463.6,245.9 465.6,248.0 467.0,251.0 468.4,257.0 469.5,264.2 470.2,274.0 470.8,284.0 470.8,290.0" fill="#b2b2b2"/><polygon points="708.3,290.0 708.3,284.0 708.6,268.0 709.1,252.4 709.8,245.0 710.8,240.6 712.3,237.0 714.2,234.7 719.0,232.8 724.3,231.3 732.0,230.1 739.4,228.8 748.0,227.4 754.0,226.5 757.5,226.6 761.3,227.1 764.5,225.6 769.7,222.1 775.5,219.8 781.5,217.9 786.5,215.2 791.6,212.0 798.0,208.2 805.1,204.4 810.0,202.4 815.2,201.3 822.0,200.6 832.0,199.6 845.0,200.0 857.9,201.0 865.0,203.4 872.6,206.3 883.0,208.9 893.7,211.1 907.0,213.1 921.0,214.7 946.3,217.5 961.0,218.9 975.7,220.0 988.0,220.7 998.9,221.0 1004.0,220.6 1009.4,220.0 1012.5,221.6 1015.7,224.2 1018.4,226.9 1021.0,230.5 1022.2,236.0 1023.0,243.1 1024.2,254.0 1025.2,264.2 1026.8,274.0 1028.3,284.0 1028.3,290.0" fill="#b2b2b2"/></g>
</g>
<circle cx="71" cy="329.3" r="2.5" fill="#00f400"/>
<rect x="1055.2" y="326.9" width="3.8" height="3.8" fill="#f00"/>
<g stroke="#262626" stroke-width="1" fill="none" shape-rendering="crispEdges">
<path d="M70.5,324.0 V432.0 M1057.5,328.5 V427.5 M66.0,328.5 H1062.0 M70.5,427.5 H1057.5"/>
<path d="M216.5,328.5 v-4.5 M216.5,427.5 v4.5 M362.5,328.5 v-4.5 M362.5,427.5 v4.5 M507.5,328.5 v-4.5 M507.5,427.5 v4.5 M653.5,328.5 v-4.5 M653.5,427.5 v4.5 M799.5,328.5 v-4.5 M799.5,427.5 v4.5 M944.5,328.5 v-4.5 M944.5,427.5 v4.5 M70.5,377.5 h-4.5 M1057.5,377.5 h4.5 M70.5,426.5 h-4.5 M1057.5,426.5 h4.5 "/>
</g>
<text x="62.2" y="334.4" font-size="15.2" text-anchor="end" fill="#262626" textLength="7.9" lengthAdjust="spacingAndGlyphs">0</text>
<text x="62.2" y="382.9" font-size="15.2" text-anchor="end" fill="#262626" textLength="26.8" lengthAdjust="spacingAndGlyphs">100</text>
<text x="62.2" y="431.0" font-size="15.2" text-anchor="end" fill="#262626" textLength="26.8" lengthAdjust="spacingAndGlyphs">200</text>
<text transform="translate(27.3,378.0) rotate(-90)" font-size="15.2" text-anchor="middle" fill="#262626" textLength="75.6" lengthAdjust="spacingAndGlyphs">Depth (m)</text>
<polygon points="85.5,403.1 81.3,405.1 79.3,400.9 83.5,398.9" fill="none" stroke="#666" stroke-width="0.85" stroke-linejoin="round"/>
<text x="91.6" y="406.8" font-size="13.6" fill="#8c8c8c" textLength="7.2" lengthAdjust="spacingAndGlyphs">0</text>
<polygon points="87.6,378.6 83.4,380.6 81.4,376.4 85.6,374.4" fill="none" stroke="#666" stroke-width="0.85" stroke-linejoin="round"/>
<text x="93.7" y="382.3" font-size="13.6" fill="#8c8c8c" textLength="7.2" lengthAdjust="spacingAndGlyphs">1</text>
<polygon points="89.7,359.0 85.5,361.0 83.5,356.8 87.7,354.8" fill="none" stroke="#666" stroke-width="0.85" stroke-linejoin="round"/>
<text x="95.8" y="362.7" font-size="13.6" fill="#8c8c8c" textLength="7.2" lengthAdjust="spacingAndGlyphs">2</text>
<polygon points="90.6,339.9 86.4,341.9 84.4,337.7 88.6,335.7" fill="none" stroke="#666" stroke-width="0.85" stroke-linejoin="round"/>
<text x="96.7" y="343.6" font-size="13.6" fill="#8c8c8c" textLength="7.2" lengthAdjust="spacingAndGlyphs">3</text>
<polygon points="91.7,332.2 87.5,334.2 85.5,330.0 89.7,328.0" fill="none" stroke="#666" stroke-width="0.85" stroke-linejoin="round"/>
<text x="97.8" y="335.9" font-size="13.6" fill="#8c8c8c" textLength="7.2" lengthAdjust="spacingAndGlyphs">4</text>
<polygon points="152.0,332.2 147.8,334.2 145.8,330.0 150.0,328.0" fill="none" stroke="#666" stroke-width="0.85" stroke-linejoin="round"/>
<text x="157.5" y="335.9" font-size="13.6" fill="#8c8c8c" textLength="7.2" lengthAdjust="spacingAndGlyphs">5</text>
<polygon points="211.4,332.2 207.2,334.2 205.2,330.0 209.4,328.0" fill="none" stroke="#666" stroke-width="0.85" stroke-linejoin="round"/>
<text x="216.9" y="335.9" font-size="13.6" fill="#8c8c8c" textLength="7.2" lengthAdjust="spacingAndGlyphs">6</text>
<polygon points="268.2,332.2 264.0,334.2 262.0,330.0 266.2,328.0" fill="none" stroke="#666" stroke-width="0.85" stroke-linejoin="round"/>
<text x="273.7" y="335.9" font-size="13.6" fill="#8c8c8c" textLength="7.2" lengthAdjust="spacingAndGlyphs">7</text>
<polygon points="327.1,332.2 322.9,334.2 320.9,330.0 325.1,328.0" fill="none" stroke="#666" stroke-width="0.85" stroke-linejoin="round"/>
<text x="332.6" y="335.9" font-size="13.6" fill="#8c8c8c" textLength="7.2" lengthAdjust="spacingAndGlyphs">8</text>
<polygon points="388.1,332.2 383.9,334.2 381.9,330.0 386.1,328.0" fill="none" stroke="#666" stroke-width="0.85" stroke-linejoin="round"/>
<text x="393.6" y="335.9" font-size="13.6" fill="#8c8c8c" textLength="7.2" lengthAdjust="spacingAndGlyphs">9</text>
<polygon points="446.2,332.2 442.0,334.2 440.0,330.0 444.2,328.0" fill="none" stroke="#666" stroke-width="0.85" stroke-linejoin="round"/>
<text x="451.7" y="335.9" font-size="13.6" fill="#8c8c8c" textLength="15.5" lengthAdjust="spacingAndGlyphs">10</text>
<polygon points="507.7,332.2 503.5,334.2 501.5,330.0 505.7,328.0" fill="none" stroke="#666" stroke-width="0.85" stroke-linejoin="round"/>
<text x="513.2" y="335.9" font-size="13.6" fill="#8c8c8c" textLength="15.5" lengthAdjust="spacingAndGlyphs">11</text>
<polygon points="565.3,329.6 561.1,331.6 559.1,327.4 563.3,325.4" fill="none" stroke="#000" stroke-width="1.10" stroke-linejoin="round"/>
<text x="570.8" y="333.3" font-size="13.6" fill="#000" textLength="15.5" lengthAdjust="spacingAndGlyphs">12</text>
<polygon points="651.7,329.3 647.5,331.3 645.5,327.1 649.7,325.1" fill="none" stroke="#000" stroke-width="1.10" stroke-linejoin="round"/>
<text x="657.2" y="333.0" font-size="13.6" fill="#000" textLength="15.5" lengthAdjust="spacingAndGlyphs">13</text>
<polygon points="715.7,332.2 711.5,334.2 709.5,330.0 713.7,328.0" fill="none" stroke="#666" stroke-width="0.85" stroke-linejoin="round"/>
<text x="721.2" y="335.9" font-size="13.6" fill="#8c8c8c" textLength="15.5" lengthAdjust="spacingAndGlyphs">14</text>
<polygon points="779.2,329.6 775.0,331.6 773.0,327.4 777.2,325.4" fill="none" stroke="#000" stroke-width="1.10" stroke-linejoin="round"/>
<text x="784.7" y="333.3" font-size="13.6" fill="#000" textLength="15.5" lengthAdjust="spacingAndGlyphs">15</text>
<polygon points="832.3,330.2 828.1,332.2 826.1,328.0 830.3,326.0" fill="none" stroke="#000" stroke-width="1.10" stroke-linejoin="round"/>
<text x="837.8" y="333.9" font-size="13.6" fill="#000" textLength="15.5" lengthAdjust="spacingAndGlyphs">16</text>
<polygon points="882.8,329.6 878.6,331.6 876.6,327.4 880.8,325.4" fill="none" stroke="#000" stroke-width="1.10" stroke-linejoin="round"/>
<text x="888.3" y="333.3" font-size="13.6" fill="#000" textLength="15.5" lengthAdjust="spacingAndGlyphs">17</text>
<polygon points="945.9,332.2 941.7,334.2 939.7,330.0 943.9,328.0" fill="none" stroke="#666" stroke-width="0.85" stroke-linejoin="round"/>
<text x="951.4" y="335.9" font-size="13.6" fill="#8c8c8c" textLength="15.5" lengthAdjust="spacingAndGlyphs">18</text>
<polygon points="1001.5,329.6 997.3,331.6 995.3,327.4 999.5,325.4" fill="none" stroke="#000" stroke-width="1.10" stroke-linejoin="round"/>
<text x="1007.0" y="333.3" font-size="13.6" fill="#000" textLength="15.5" lengthAdjust="spacingAndGlyphs">19</text>
<text x="564.0" y="322.7" font-size="14.4" text-anchor="middle" font-weight="bold" fill="#000" textLength="109.0" lengthAdjust="spacingAndGlyphs">Temperature</text>
<text x="71.6" y="330.1" font-size="10.0" fill="#000" textLength="21.8" lengthAdjust="spacingAndGlyphs">ctd1</text>
<rect x="1093.5" y="328.5" width="20" height="99.0" fill="url(#cb)" stroke="#262626" stroke-width="1" shape-rendering="crispEdges"/>
<text x="1121.5" y="330.6" font-size="9.6" fill="#262626" textLength="10.7" lengthAdjust="spacingAndGlyphs">16</text>
<text x="1121.5" y="359.6" font-size="9.6" fill="#262626" textLength="10.7" lengthAdjust="spacingAndGlyphs">14</text>
<text x="1121.5" y="387.6" font-size="9.6" fill="#262626" textLength="10.7" lengthAdjust="spacingAndGlyphs">12</text>
<text x="1121.5" y="415.6" font-size="9.6" fill="#262626" textLength="10.7" lengthAdjust="spacingAndGlyphs">10</text>
<g transform="translate(1150.0,378.0) rotate(-90)"><text font-size="9.3" text-anchor="middle" fill="#262626" textLength="38.7" lengthAdjust="spacingAndGlyphs">° Celsius</text></g>
<!-- panel 2 -->
<g transform="translate(0,286)">
<g clip-path="url(#env)"><g filter="url(#vb)">
<rect x="60" y="150" width="1010" height="170" fill="#6cff93"/>
<path d="M60,330 L60,185.3 68,185.3 76,185.3 84,185.2 92,185.1 100,185.0 108,185.1 116,185.2 124,185.4 132,185.6 140,185.7 148,185.8 156,186.3 164,186.5 172,186.7 180,187.1 188,187.8 196,188.7 204,189.7 212,190.6 220,190.8 228,190.3 236,189.3 244,188.1 252,187.0 260,186.0 268,185.4 276,185.0 284,185.0 292,184.9 300,185.1 308,185.2 316,185.2 324,185.2 332,185.2 340,185.2 348,185.3 356,185.3 364,185.4 372,185.9 380,186.5 388,187.3 396,188.1 404,189.1 412,190.0 420,190.8 428,191.4 436,191.5 444,190.9 452,190.1 460,189.4 468,188.7 476,188.2 484,187.9 492,187.7 500,187.6 508,187.4 516,187.2 524,186.9 532,186.4 540,185.9 548,185.5 556,185.1 564,184.9 572,184.6 580,184.4 588,184.4 596,184.4 604,184.4 612,184.4 620,184.4 628,184.4 636,184.3 644,184.2 652,184.1 660,184.0 668,183.9 676,183.8 684,183.7 692,183.7 700,183.6 708,183.6 716,183.5 724,183.4 732,183.4 740,183.5 748,183.7 756,183.9 764,184.1 772,184.3 780,184.4 788,184.4 796,184.4 804,184.3 812,184.2 820,184.2 828,184.3 836,184.4 844,184.5 852,184.6 860,184.6 868,184.6 876,184.5 884,184.4 892,184.5 900,184.6 908,184.9 916,185.2 924,185.5 932,185.6 940,185.6 948,185.5 956,185.3 964,185.2 972,185.1 980,185.2 988,185.3 996,185.4 1004,185.5 1012,185.3 1020,184.9 1028,184.5 1036,184.2 1044,183.9 1052,183.6 1060,183.4 1068,183.4 L1068,330Z" fill="#90ff6f"/>
<path d="M60,330 L60,192.0 68,191.8 76,191.5 84,191.3 92,191.1 100,191.2 108,191.3 116,191.5 124,191.7 132,191.8 140,191.9 148,192.0 156,192.2 164,192.4 172,192.6 180,192.8 188,193.0 196,193.1 204,193.1 212,192.9 220,192.7 228,192.3 236,192.0 244,191.8 252,191.6 260,191.5 268,191.3 276,191.1 284,190.9 292,190.8 300,190.8 308,190.9 316,191.1 324,191.3 332,191.6 340,191.8 348,191.9 356,191.8 364,191.8 372,191.9 380,192.3 388,192.9 396,193.7 404,194.6 412,195.5 420,196.1 428,196.4 436,196.2 444,195.6 452,195.0 460,194.5 468,194.4 476,194.7 484,195.2 492,196.0 500,196.6 508,197.0 516,196.9 524,196.6 532,196.2 540,195.8 548,195.7 556,195.9 564,196.3 572,196.8 580,197.2 588,197.3 596,197.0 604,196.5 612,195.8 620,195.3 628,195.0 636,195.1 644,195.5 652,196.1 660,196.4 668,196.5 676,196.1 684,195.4 692,194.5 700,193.7 708,193.1 716,192.9 724,193.0 732,193.3 740,193.5 748,193.5 756,193.2 764,192.6 772,191.8 780,191.0 788,190.3 796,189.8 804,189.6 812,189.6 820,189.5 828,189.4 836,189.2 844,189.1 852,189.2 860,189.4 868,189.7 876,190.1 884,190.5 892,190.7 900,191.0 908,191.2 916,191.5 924,191.7 932,191.8 940,191.9 948,191.9 956,191.9 964,191.8 972,191.7 980,191.7 988,191.7 996,191.8 1004,191.9 1012,191.5 1020,190.7 1028,190.0 1036,189.5 1044,188.7 1052,187.9 1060,187.3 1068,187.0 L1068,330Z" fill="#a8ff57"/>
<path d="M60,330 L60,196.2 68,195.8 76,195.3 84,194.8 92,194.5 100,194.5 108,194.7 116,195.2 124,195.8 132,196.2 140,196.4 148,196.3 156,195.9 164,195.4 172,194.9 180,194.6 188,194.5 196,194.6 204,194.9 212,195.2 220,195.4 228,195.4 236,195.1 244,194.6 252,194.1 260,193.6 268,193.4 276,193.3 284,193.5 292,193.8 300,194.2 308,194.6 316,194.9 324,195.0 332,195.1 340,195.1 348,195.2 356,195.4 364,195.7 372,196.1 380,196.7 388,197.2 396,197.7 404,198.0 412,198.2 420,198.4 428,198.5 436,198.5 444,198.8 452,199.1 460,199.6 468,200.0 476,200.4 484,200.7 492,201.0 500,201.2 508,201.5 516,201.7 524,202.0 532,202.4 540,202.7 548,203.0 556,203.1 564,203.2 572,203.1 580,203.0 588,202.9 596,202.9 604,202.9 612,202.9 620,202.9 628,202.7 636,202.4 644,202.0 652,201.5 660,201.0 668,200.5 676,200.2 684,199.9 692,199.8 700,199.7 708,199.5 716,199.4 724,199.2 732,198.8 740,198.2 748,197.4 756,196.6 764,195.9 772,195.1 780,194.3 788,193.6 796,193.0 804,192.7 812,192.4 820,192.2 828,192.0 836,191.8 844,191.9 852,192.3 860,192.9 868,193.5 876,193.9 884,194.2 892,194.1 900,194.2 908,194.3 916,194.7 924,195.2 932,195.8 940,196.2 948,196.5 956,196.4 964,196.2 972,195.8 980,195.5 988,195.2 996,195.2 1004,195.3 1012,194.8 1020,193.9 1028,193.0 1036,192.3 1044,191.3 1052,190.0 1060,189.3 1068,188.9 L1068,330Z" fill="#c0ff3f"/>
<path d="M60,330 L60,197.2 68,196.9 76,196.6 84,196.2 92,196.0 100,195.9 108,196.0 116,196.3 124,196.8 132,197.3 140,197.7 148,198.0 156,198.0 164,197.8 172,197.5 180,197.0 188,196.6 196,196.2 204,196.0 212,195.8 220,195.8 228,195.8 236,195.8 244,195.8 252,195.8 260,195.7 268,195.6 276,195.5 284,195.5 292,195.5 300,195.6 308,195.7 316,195.8 324,196.0 332,196.1 340,196.4 348,196.7 356,197.0 364,197.5 372,198.1 380,198.8 388,199.5 396,200.1 404,200.5 412,200.7 420,200.7 428,200.6 436,200.3 444,200.3 452,200.5 460,201.0 468,201.6 476,202.4 484,203.1 492,203.7 500,204.1 508,204.2 516,204.1 524,204.0 532,203.9 540,204.1 548,204.4 556,204.8 564,205.3 572,205.7 580,205.8 588,205.7 596,205.2 604,204.7 612,204.1 620,203.6 628,203.3 636,203.3 644,203.5 652,203.8 660,204.0 668,204.0 676,203.7 684,203.1 692,202.3 700,201.4 708,200.6 716,200.0 724,199.8 732,199.6 740,199.5 748,199.3 756,198.9 764,198.3 772,197.5 780,196.5 788,195.4 796,194.4 804,193.8 812,193.3 820,192.8 828,192.5 836,192.3 844,192.2 852,192.8 860,193.5 868,194.3 876,195.0 884,195.5 892,195.6 900,195.8 908,195.9 916,196.2 924,196.4 932,196.6 940,196.8 948,196.9 956,196.8 964,196.7 972,196.7 980,196.7 988,196.8 996,197.0 1004,197.1 1012,196.4 1020,195.2 1028,194.0 1036,193.2 1044,192.1 1052,191.0 1060,190.4 1068,190.2 L1068,330Z" fill="#d8ff27"/>
<path d="M60,330 L60,198.2 68,198.0 76,197.7 84,197.5 92,197.3 100,197.3 108,197.5 116,197.7 124,198.1 132,198.3 140,198.5 148,198.4 156,198.2 164,197.9 172,197.6 180,197.4 188,197.4 196,197.6 204,197.9 212,198.3 220,198.5 228,198.6 236,198.5 244,198.1 252,197.5 260,196.9 268,196.4 276,196.1 284,196.1 292,196.4 300,197.0 308,197.7 316,198.3 324,198.7 332,198.9 340,198.8 348,198.6 356,198.4 364,198.4 372,198.7 380,199.4 388,200.4 396,201.4 404,202.4 412,203.1 420,203.4 428,203.3 436,202.8 444,202.3 452,202.1 460,202.2 468,202.7 476,203.6 484,204.7 492,205.8 500,206.7 508,207.2 516,207.1 524,206.8 532,206.4 540,206.0 548,205.9 556,206.1 564,206.7 572,207.5 580,208.4 588,209.0 596,209.3 604,209.1 612,208.5 620,207.6 628,206.7 636,205.8 644,205.2 652,204.9 660,204.8 668,204.7 676,204.6 684,204.3 692,203.9 700,203.2 708,202.5 716,201.8 724,201.3 732,200.8 740,200.2 748,199.7 756,199.1 764,198.4 772,197.6 780,196.8 788,195.9 796,195.1 804,194.7 812,194.4 820,194.2 828,194.0 836,193.8 844,193.8 852,194.4 860,195.1 868,195.9 876,196.5 884,196.9 892,196.9 900,196.9 908,197.1 916,197.5 924,197.9 932,198.3 940,198.7 948,198.9 956,198.8 964,198.6 972,198.4 980,198.2 988,198.1 996,198.1 1004,198.1 1012,197.4 1020,196.2 1028,195.0 1036,194.2 1044,193.0 1052,191.8 1060,191.0 1068,190.7 L1068,330Z" fill="#f0ff0f"/>
<path d="M60,330 L60,199.7 68,199.7 76,199.5 84,199.3 92,199.1 100,199.1 108,199.2 116,199.3 124,199.3 132,199.3 140,199.2 148,199.1 156,199.0 164,199.2 172,199.5 180,199.8 188,200.0 196,200.1 204,200.0 212,199.6 220,199.1 228,198.7 236,198.4 244,198.2 252,198.2 260,198.2 268,198.3 276,198.2 284,198.2 292,198.2 300,198.5 308,198.9 316,199.5 324,200.1 332,200.6 340,200.9 348,201.1 356,201.0 364,200.9 372,201.1 380,201.4 388,202.0 396,202.6 404,203.2 412,203.7 420,203.9 428,204.0 436,204.0 444,204.3 452,204.9 460,205.7 468,206.6 476,207.3 484,207.7 492,207.9 500,207.7 508,207.6 516,207.4 524,207.7 532,208.3 540,209.3 548,210.2 556,210.9 564,211.4 572,211.4 580,211.2 588,210.8 596,210.3 604,209.8 612,209.4 620,209.0 628,208.4 636,207.9 644,207.3 652,206.9 660,206.5 668,206.2 676,205.9 684,205.6 692,205.2 700,204.6 708,204.1 716,203.6 724,203.3 732,203.0 740,202.5 748,201.7 756,200.8 764,199.6 772,198.3 780,197.0 788,195.9 796,195.1 804,195.0 812,195.2 820,195.5 828,195.6 836,195.6 844,195.5 852,195.7 860,196.1 868,196.5 876,197.0 884,197.5 892,197.9 900,198.4 908,199.0 916,199.6 924,200.0 932,200.3 940,200.5 948,200.5 956,200.4 964,200.3 972,200.2 980,200.1 988,199.8 996,199.5 1004,199.2 1012,198.0 1020,196.5 1028,195.1 1036,194.3 1044,193.4 1052,192.3 1060,191.7 1068,191.6 L1068,330Z" fill="#fff600"/>
<path d="M60,330 L60,201.0 68,200.8 76,200.5 84,200.1 92,199.8 100,199.7 108,199.8 116,200.0 124,200.3 132,200.6 140,200.8 148,200.8 156,200.8 164,200.6 172,200.4 180,200.1 188,200.0 196,199.9 204,200.0 212,200.2 220,200.3 228,200.5 236,200.5 244,200.5 252,200.3 260,200.2 268,200.1 276,200.0 284,200.1 292,200.2 300,200.5 308,200.9 316,201.2 324,201.4 332,201.6 340,201.7 348,201.8 356,201.9 364,202.1 372,202.5 380,203.0 388,203.6 396,204.2 404,204.7 412,205.1 420,205.2 428,205.2 436,205.2 444,205.4 452,205.9 460,206.7 468,207.7 476,208.8 484,209.8 492,210.6 500,211.1 508,211.2 516,210.9 524,210.7 532,210.6 540,210.7 548,211.0 556,211.6 564,212.3 572,212.9 580,213.3 588,213.2 596,212.8 604,212.0 612,211.1 620,210.1 628,209.3 636,208.7 644,208.4 652,208.4 660,208.3 668,208.1 676,207.7 684,207.1 692,206.3 700,205.4 708,204.6 716,204.1 724,203.8 732,203.6 740,203.3 748,202.9 756,202.3 764,201.5 772,200.6 780,199.5 788,198.5 796,197.6 804,197.2 812,196.9 820,196.6 828,196.4 836,196.2 844,196.1 852,196.6 860,197.4 868,198.2 876,198.8 884,199.3 892,199.3 900,199.3 908,199.6 916,200.0 924,200.4 932,200.9 940,201.2 948,201.4 956,201.4 964,201.3 972,201.1 980,201.0 988,201.0 996,201.1 1004,201.2 1012,200.2 1020,198.6 1028,197.1 1036,196.0 1044,194.7 1052,193.4 1060,192.6 1068,192.4 L1068,330Z" fill="#ffde00"/>
<path d="M60,330 L60,202.6 68,202.4 76,202.1 84,201.7 92,201.3 100,201.1 108,201.1 116,201.3 124,201.5 132,201.7 140,201.8 148,201.8 156,201.6 164,201.3 172,201.0 180,200.7 188,200.7 196,200.8 204,201.1 212,201.4 220,201.7 228,201.9 236,201.8 244,201.5 252,201.1 260,200.6 268,200.2 276,200.0 284,200.1 292,200.4 300,201.2 308,202.1 316,203.0 324,203.7 332,204.3 340,204.6 348,204.7 356,204.6 364,204.5 372,204.6 380,204.9 388,205.5 396,206.3 404,207.0 412,207.7 420,208.2 428,208.4 436,208.4 444,208.4 452,208.4 460,208.6 468,209.0 476,209.4 484,210.0 492,210.6 500,211.0 508,211.3 516,211.3 524,211.4 532,211.5 540,211.8 548,212.1 556,212.6 564,213.1 572,213.7 580,214.0 588,214.0 596,213.7 604,213.1 612,212.4 620,211.7 628,211.0 636,210.5 644,210.2 652,210.1 660,210.0 668,209.8 676,209.6 684,209.2 692,208.7 700,208.1 708,207.5 716,207.0 724,206.7 732,206.3 740,205.6 748,204.7 756,203.7 764,202.7 772,201.6 780,200.5 788,199.5 796,198.8 804,198.5 812,198.3 820,198.0 828,197.7 836,197.3 844,197.0 852,197.4 860,197.9 868,198.6 876,199.2 884,199.8 892,200.1 900,200.5 908,201.1 916,201.8 924,202.4 932,202.9 940,203.2 948,203.2 956,202.9 964,202.5 972,202.2 980,201.9 988,201.8 996,201.9 1004,202.1 1012,201.1 1020,199.5 1028,198.0 1036,197.0 1044,195.7 1052,194.3 1060,193.6 1068,193.4 L1068,330Z" fill="#ffc500"/>
<path d="M60,330 L60,204.1 68,204.0 76,203.7 84,203.3 92,202.9 100,202.5 108,202.4 116,202.4 124,202.5 132,202.7 140,203.0 148,203.3 156,203.5 164,203.5 172,203.3 180,203.1 188,202.8 196,202.7 204,202.7 212,202.7 220,202.8 228,202.7 236,202.4 244,202.0 252,201.5 260,201.1 268,200.9 276,201.0 284,201.5 292,202.2 300,203.1 308,203.9 316,204.6 324,204.9 332,205.1 340,205.1 348,205.1 356,205.3 364,205.5 372,206.0 380,206.6 388,207.3 396,208.0 404,208.7 412,209.2 420,209.7 428,210.0 436,210.2 444,210.3 452,210.5 460,210.8 468,211.0 476,211.4 484,211.8 492,212.3 500,212.7 508,212.9 516,212.9 524,212.8 532,212.7 540,212.9 548,213.3 556,214.1 564,215.0 572,216.0 580,216.8 588,216.9 596,216.4 604,215.5 612,214.2 620,213.0 628,212.1 636,211.5 644,211.4 652,211.6 660,211.8 668,211.7 676,211.3 684,210.7 692,210.0 700,209.3 708,208.8 716,208.5 724,208.4 732,208.1 740,207.4 748,206.4 756,205.1 764,203.8 772,202.4 780,201.2 788,200.1 796,199.4 804,199.1 812,198.9 820,198.6 828,198.4 836,198.2 844,198.2 852,199.0 860,199.9 868,200.7 876,201.2 884,201.4 892,201.2 900,201.2 908,201.4 916,202.1 924,203.0 932,204.1 940,205.0 948,205.5 956,205.6 964,205.4 972,205.0 980,204.7 988,204.5 996,204.4 1004,204.4 1012,203.0 1020,201.0 1028,199.0 1036,197.6 1044,196.0 1052,194.5 1060,193.7 1068,193.7 L1068,330Z" fill="#ffad00"/>
<path d="M60,330 L60,204.1 68,204.2 76,204.1 84,203.6 92,203.2 100,202.9 108,203.1 116,203.5 124,204.1 132,204.7 140,205.1 148,205.3 156,205.1 164,204.6 172,204.0 180,203.6 188,203.4 196,203.6 204,204.1 212,204.6 220,204.9 228,205.0 236,204.7 244,204.2 252,203.7 260,203.2 268,203.0 276,203.1 284,203.4 292,203.7 300,204.0 308,204.3 316,204.4 324,204.5 332,204.7 340,205.1 348,205.7 356,206.3 364,207.0 372,207.7 380,208.5 388,209.2 396,209.9 404,210.5 412,211.1 420,211.6 428,211.9 436,211.9 444,211.8 452,211.8 460,211.8 468,212.2 476,212.8 484,213.8 492,214.9 500,215.9 508,216.5 516,216.6 524,216.2 532,215.7 540,215.3 548,215.1 556,215.4 564,216.0 572,216.7 580,217.3 588,217.2 596,216.6 604,215.6 612,214.5 620,213.5 628,213.0 636,212.9 644,213.3 652,213.8 660,214.1 668,213.9 676,213.2 684,212.1 692,211.0 700,210.0 708,209.4 716,209.2 724,209.4 732,209.4 740,209.1 748,208.3 756,207.3 764,206.0 772,204.7 780,203.6 788,202.5 796,201.7 804,201.3 812,200.8 820,200.1 828,199.4 836,198.8 844,198.5 852,199.1 860,200.0 868,201.0 876,201.8 884,202.4 892,202.4 900,202.5 908,202.9 916,203.5 924,204.4 932,205.5 940,206.4 948,207.0 956,207.0 964,206.7 972,206.1 980,205.5 988,205.2 996,205.2 1004,205.5 1012,204.5 1020,202.7 1028,201.0 1036,199.7 1044,198.0 1052,196.1 1060,195.0 1068,194.7 L1068,330Z" fill="#ff9500"/>
<path d="M60,330 L60,206.7 68,206.3 76,205.7 84,205.1 92,204.7 100,204.8 108,205.2 116,205.7 124,206.1 132,206.3 140,206.1 148,205.8 156,205.3 164,204.9 172,204.7 180,204.7 188,204.9 196,205.1 204,205.3 212,205.3 220,205.1 228,204.8 236,204.5 244,204.2 252,204.0 260,204.0 268,204.2 276,204.4 284,204.6 292,204.8 300,205.1 308,205.5 316,206.1 324,206.7 332,207.4 340,208.1 348,208.7 356,209.2 364,209.4 372,209.7 380,210.2 388,210.8 396,211.5 404,212.4 412,213.2 420,213.8 428,214.0 436,213.8 444,213.4 452,213.1 460,213.0 468,213.2 476,213.9 484,214.9 492,215.9 500,216.8 508,217.2 516,217.0 524,216.5 532,216.0 540,215.7 548,215.8 556,216.5 564,217.5 572,218.6 580,219.6 588,219.8 596,219.4 604,218.4 612,217.2 620,216.1 628,215.3 636,215.1 644,215.3 652,215.8 660,216.1 668,215.9 676,215.2 684,214.0 692,212.7 700,211.5 708,210.7 716,210.4 724,210.6 732,210.8 740,210.6 748,209.9 756,208.7 764,207.2 772,205.5 780,204.0 788,202.8 796,202.0 804,201.7 812,201.5 820,201.2 828,200.8 836,200.3 844,200.0 852,200.4 860,201.2 868,202.2 876,203.2 884,204.0 892,204.4 900,204.7 908,205.1 916,205.6 924,206.1 932,206.7 940,207.3 948,207.8 956,208.2 964,208.4 972,208.3 980,208.0 988,207.6 996,207.2 1004,206.9 1012,205.2 1020,203.1 1028,201.2 1036,200.2 1044,198.7 1052,196.9 1060,195.8 1068,195.2 L1068,330Z" fill="#ff7d00"/>
<path d="M60,330 L60,208.7 68,208.3 76,207.7 84,206.9 92,206.3 100,205.9 108,205.9 116,206.0 124,206.2 132,206.4 140,206.5 148,206.5 156,206.5 164,206.4 172,206.3 180,206.3 188,206.4 196,206.6 204,206.8 212,207.1 220,207.3 228,207.3 236,207.2 244,206.9 252,206.6 260,206.2 268,205.9 276,205.8 284,205.9 292,206.2 300,206.8 308,207.6 316,208.3 324,209.0 332,209.6 340,210.0 348,210.4 356,210.8 364,211.2 372,211.9 380,212.7 388,213.7 396,214.5 404,215.2 412,215.6 420,215.7 428,215.4 436,214.9 444,214.6 452,214.5 460,214.7 468,215.2 476,216.0 484,216.8 492,217.6 500,218.1 508,218.5 516,218.5 524,218.5 532,218.6 540,218.8 548,219.3 556,219.9 564,220.6 572,221.1 580,221.4 588,221.2 596,220.6 604,219.7 612,218.6 620,217.5 628,216.5 636,215.9 644,215.5 652,215.5 660,215.4 668,215.2 676,214.9 684,214.4 692,213.7 700,213.1 708,212.6 716,212.3 724,212.3 732,212.3 740,212.0 748,211.5 756,210.7 764,209.6 772,208.3 780,206.8 788,205.5 796,204.3 804,203.7 812,203.1 820,202.7 828,202.3 836,202.1 844,202.1 852,202.9 860,203.8 868,204.8 876,205.6 884,206.1 892,206.4 900,206.7 908,207.3 916,208.0 924,208.8 932,209.5 940,210.0 948,210.0 956,209.8 964,209.5 972,209.1 980,208.7 988,208.5 996,208.5 1004,208.5 1012,206.9 1020,204.5 1028,202.3 1036,201.0 1044,199.4 1052,197.5 1060,196.6 1068,196.4 L1068,330Z" fill="#ff6500"/>
<path d="M60,330 L60,210.5 68,209.7 76,208.9 84,208.3 92,208.2 100,208.6 108,209.3 116,209.8 124,210.0 132,209.8 140,209.3 148,208.9 156,208.7 164,208.6 172,208.6 180,208.8 188,209.0 196,209.1 204,208.9 212,208.7 220,208.4 228,208.2 236,208.0 244,208.0 252,207.9 260,207.8 268,207.7 276,207.7 284,207.7 292,207.9 300,208.6 308,209.5 316,210.6 324,211.5 332,212.2 340,212.4 348,212.3 356,212.1 364,211.9 372,212.3 380,213.1 388,214.4 396,215.6 404,216.6 412,217.0 420,216.8 428,216.1 436,215.2 444,214.6 452,214.8 460,215.8 468,217.3 476,219.0 484,220.4 492,221.2 500,221.3 508,220.8 516,220.0 524,219.5 532,219.6 540,220.3 548,221.4 556,222.5 564,223.4 572,223.6 580,223.3 588,222.4 596,221.3 604,220.3 612,219.6 620,219.4 628,219.3 636,219.3 644,219.2 652,219.0 660,218.6 668,218.0 676,217.3 684,216.7 692,216.2 700,215.7 708,215.3 716,214.8 724,214.4 732,213.9 740,213.3 748,212.6 756,211.9 764,211.1 772,210.1 780,208.9 788,207.5 796,206.3 804,205.4 812,204.7 820,204.2 828,204.0 836,204.0 844,204.3 852,205.3 860,206.2 868,206.8 876,207.0 884,207.0 892,206.8 900,207.1 908,207.9 916,209.2 924,210.4 932,211.3 940,211.7 948,211.4 956,210.6 964,210.0 972,209.6 980,209.6 988,210.2 996,211.0 1004,211.7 1012,210.1 1020,207.2 1028,204.2 1036,202.3 1044,200.1 1052,198.1 1060,197.2 1068,197.3 L1068,330Z" fill="#ff4d00"/>
<path d="M60,330 L60,213.4 68,212.9 76,212.2 84,211.4 92,211.0 100,211.2 108,211.6 116,212.0 124,212.1 132,211.9 140,211.5 148,211.2 156,211.0 164,210.8 172,210.7 180,210.6 188,210.4 196,210.2 204,210.0 212,209.9 220,209.9 228,210.1 236,210.3 244,210.4 252,210.3 260,210.0 268,209.6 276,209.2 284,209.1 292,209.3 300,210.0 308,211.0 316,211.9 324,212.6 332,212.9 340,212.9 348,212.8 356,212.8 364,213.2 372,214.2 380,215.6 388,217.0 396,218.2 404,219.0 412,219.2 420,219.1 428,218.7 436,218.4 444,218.3 452,218.7 460,219.2 468,219.8 476,220.3 484,220.8 492,221.1 500,221.5 508,221.9 516,222.2 524,222.5 532,222.7 540,222.9 548,222.9 556,223.1 564,223.3 572,223.7 580,224.2 588,224.4 596,224.2 604,223.6 612,222.5 620,221.2 628,220.1 636,219.4 644,219.3 652,219.7 660,220.2 668,220.5 676,220.2 684,219.5 692,218.3 700,217.0 708,216.0 716,215.5 724,215.6 732,215.9 740,215.8 748,215.4 756,214.6 764,213.4 772,212.0 780,210.7 788,209.7 796,209.0 804,208.7 812,208.3 820,207.6 828,206.8 836,206.0 844,205.5 852,206.0 860,206.8 868,207.6 876,208.3 884,208.7 892,208.6 900,208.5 908,208.8 916,209.4 924,210.3 932,211.5 940,212.6 948,213.3 956,213.6 964,213.4 972,213.1 980,212.7 988,212.6 996,212.8 1004,213.1 1012,211.3 1020,208.4 1028,205.6 1036,203.8 1044,201.5 1052,199.2 1060,198.1 1068,198.0 L1068,330Z" fill="#ff3500"/>
<path d="M60,330 L60,218.8 68,218.8 76,218.2 84,216.8 92,215.2 100,214.1 108,213.9 116,213.7 124,213.6 132,213.6 140,213.6 148,213.8 156,213.8 164,213.5 172,212.9 180,212.1 188,211.5 196,211.3 204,211.6 212,212.3 220,213.1 228,213.7 236,214.0 244,213.7 252,212.9 260,212.0 268,211.3 276,211.0 284,211.2 292,211.9 300,212.9 308,213.8 316,214.5 324,214.8 332,214.8 340,214.8 348,215.1 356,215.7 364,216.7 372,217.8 380,218.9 388,219.7 396,220.0 404,219.9 412,219.7 420,219.5 428,219.5 436,219.8 444,220.3 452,220.9 460,221.5 468,222.0 476,222.4 484,222.8 492,223.4 500,224.1 508,224.8 516,225.2 524,225.2 532,225.0 540,224.5 548,224.0 556,224.0 564,224.5 572,225.6 580,226.9 588,228.0 596,228.4 604,227.9 612,226.6 620,224.8 628,223.1 636,222.0 644,221.6 652,221.9 660,222.4 668,222.6 676,222.2 684,221.2 692,219.7 700,218.2 708,217.3 716,217.0 724,217.6 732,218.4 740,218.8 748,218.6 756,217.6 764,216.0 772,214.0 780,212.3 788,211.0 796,210.4 804,210.4 812,210.4 820,210.0 828,209.4 836,208.5 844,207.9 852,208.1 860,208.8 868,209.7 876,210.7 884,211.4 892,211.6 900,211.5 908,211.5 916,211.6 924,212.0 932,212.9 940,214.1 948,215.3 956,216.3 964,216.9 972,216.8 980,216.3 988,215.6 996,215.0 1004,214.8 1012,212.7 1020,209.9 1028,207.3 1036,205.8 1044,203.6 1052,200.9 1060,199.3 1068,198.7 L1068,330Z" fill="#ff1d00"/>
<path d="M60,330 L60,230.1 68,229.5 76,227.1 84,222.7 92,218.5 100,216.0 108,215.8 116,216.0 124,216.3 132,216.7 140,217.0 148,217.3 156,217.2 164,216.7 172,215.9 180,215.0 188,214.3 196,214.0 204,214.0 212,214.4 220,215.0 228,215.7 236,216.1 244,216.2 252,215.9 260,215.3 268,214.5 276,213.9 284,213.5 292,213.6 300,214.2 308,215.3 316,216.5 324,217.8 332,218.7 340,219.3 348,219.4 356,219.3 364,218.9 372,218.8 380,219.1 388,219.8 396,220.8 404,222.1 412,223.3 420,224.2 428,224.7 436,224.6 444,224.2 452,223.7 460,223.2 468,223.1 476,223.3 484,223.9 492,224.8 500,225.9 508,227.0 516,227.7 524,228.2 532,228.5 540,228.6 548,228.5 556,228.3 564,228.2 572,228.2 580,228.3 588,228.4 596,228.4 604,228.3 612,228.1 620,227.7 628,227.3 636,226.8 644,226.2 652,225.7 660,225.0 668,224.2 676,223.3 684,222.4 692,221.6 700,220.9 708,220.4 716,220.2 724,220.4 732,220.6 740,220.6 748,220.3 756,219.8 764,218.9 772,217.8 780,216.5 788,215.2 796,214.0 804,213.2 812,212.3 820,211.4 828,210.8 836,210.4 844,210.4 852,211.3 860,212.2 868,212.9 876,213.3 884,213.2 892,212.9 900,212.7 908,212.9 916,213.5 924,214.4 932,215.6 940,216.9 948,218.0 956,218.8 964,219.4 972,219.6 980,219.5 988,219.1 996,218.6 1004,218.1 1012,215.1 1020,211.4 1028,208.2 1036,206.7 1044,204.9 1052,203.0 1060,202.0 1068,201.9 L1068,330Z" fill="#ff0500"/>
<path d="M60,330 L60,234.9 68,235.2 76,233.4 84,228.9 92,224.1 100,220.8 108,220.5 116,220.1 124,220.0 132,220.0 140,220.2 148,220.4 156,220.5 164,220.1 172,219.4 180,218.7 188,218.1 196,217.8 204,217.9 212,218.1 220,218.3 228,218.4 236,218.1 244,217.4 252,216.7 260,216.1 268,215.9 276,216.3 284,217.2 292,218.4 300,219.7 308,220.7 316,221.2 324,221.2 332,220.8 340,220.5 348,220.3 356,220.5 364,221.1 372,222.0 380,223.1 388,224.1 396,224.8 404,225.1 412,225.2 420,225.2 428,225.2 436,225.3 444,225.5 452,226.1 460,226.7 468,227.4 476,228.1 484,228.8 492,229.4 500,229.9 508,230.2 516,230.1 524,229.7 532,229.3 540,228.8 548,228.5 556,228.7 564,229.3 572,230.3 580,231.6 588,232.6 596,233.0 604,232.7 612,231.8 620,230.5 628,229.1 636,227.9 644,227.4 652,227.4 660,227.7 668,227.8 676,227.6 684,226.7 692,225.4 700,223.8 708,222.4 716,221.5 724,221.3 732,221.6 740,222.1 748,222.4 756,222.4 764,222.0 772,221.1 780,220.0 788,218.9 796,218.2 804,217.7 812,217.2 820,216.4 828,215.5 836,214.4 844,213.5 852,213.4 860,213.3 868,213.5 876,213.9 884,214.5 892,215.1 900,215.8 908,216.7 916,217.6 924,218.5 932,219.2 940,219.9 948,220.5 956,221.1 964,221.7 972,222.2 980,222.5 988,222.6 996,222.5 1004,222.1 1012,219.0 1020,215.1 1028,211.5 1036,209.6 1044,207.3 1052,204.8 1060,203.4 1068,203.0 L1068,330Z" fill="#ec0000"/>
<path d="M60,330 L60,240.9 68,241.0 76,238.5 84,233.4 92,228.2 100,225.0 108,224.8 116,224.9 124,225.3 132,225.5 140,225.4 148,224.9 156,224.1 164,222.9 172,221.9 180,221.2 188,221.2 196,221.7 204,222.3 212,222.8 220,223.0 228,222.7 236,222.2 244,221.6 252,221.2 260,221.2 268,221.5 276,222.0 284,222.4 292,222.8 300,223.0 308,223.2 316,223.4 324,223.8 332,224.2 340,224.6 348,224.9 356,224.9 364,224.7 372,224.6 380,224.8 388,225.3 396,226.3 404,227.5 412,228.7 420,229.4 428,229.5 436,229.1 444,228.4 452,228.0 460,228.2 468,229.0 476,230.4 484,232.0 492,233.2 500,233.7 508,233.4 516,232.5 524,231.5 532,230.9 540,230.9 548,231.7 556,232.8 564,234.0 572,234.8 580,234.9 588,234.4 596,233.4 604,232.5 612,231.7 620,231.4 628,231.3 636,231.3 644,231.2 652,230.8 660,230.2 668,229.4 676,228.7 684,228.1 692,227.6 700,227.2 708,226.8 716,226.3 724,225.8 732,225.4 740,225.1 748,225.1 756,225.3 764,225.5 772,225.4 780,224.9 788,224.0 796,222.8 804,221.7 812,220.7 820,220.0 828,219.7 836,219.7 844,219.8 852,220.2 860,220.1 868,219.5 876,218.6 884,217.8 892,217.4 900,217.9 908,219.0 916,220.5 924,221.9 932,223.0 940,223.6 948,223.8 956,223.8 964,224.2 972,224.8 980,225.7 988,226.8 996,227.6 1004,227.8 1012,224.9 1020,220.6 1028,216.7 1036,214.6 1044,212.3 1052,209.9 1060,208.7 1068,208.3 L1068,330Z" fill="#d40000"/>
<path d="M60,330 L60,244.3 68,243.9 76,241.6 84,237.2 92,232.8 100,230.1 108,229.8 116,229.6 124,229.3 132,229.0 140,228.7 148,228.6 156,228.3 164,227.8 172,227.2 180,226.7 188,226.4 196,226.3 204,226.4 212,226.6 220,226.9 228,227.1 236,227.0 244,226.6 252,226.0 260,225.3 268,224.8 276,224.5 284,224.6 292,225.1 300,225.9 308,226.8 316,227.6 324,228.0 332,228.2 340,228.2 348,228.0 356,227.9 364,228.1 372,228.6 380,229.5 388,230.5 396,231.4 404,232.0 412,232.3 420,232.1 428,231.7 436,231.1 444,230.6 452,230.5 460,230.9 468,231.5 476,232.3 484,233.1 492,233.7 500,234.1 508,234.2 516,234.1 524,234.0 532,234.1 540,234.4 548,235.0 556,235.8 564,236.6 572,237.3 580,237.7 588,237.7 596,237.3 604,236.5 612,235.6 620,234.6 628,233.8 636,233.1 644,232.7 652,232.5 660,232.4 668,232.1 676,231.8 684,231.2 692,230.4 700,229.6 708,228.9 716,228.4 724,228.4 732,228.6 740,228.9 748,229.2 756,229.4 764,229.3 772,228.9 780,228.1 788,227.2 796,226.3 804,225.7 812,225.3 820,224.9 828,224.8 836,224.8 844,224.8 852,224.9 860,224.7 868,224.3 876,223.7 884,223.1 892,222.8 900,223.1 908,223.8 916,224.8 924,225.9 932,227.0 940,227.7 948,228.0 956,228.1 964,228.2 972,228.2 980,228.4 988,228.8 996,229.4 1004,229.8 1012,227.4 1020,223.9 1028,220.5 1036,218.6 1044,216.3 1052,214.0 1060,212.7 1068,212.4 L1068,330Z" fill="#bc0000"/>
<path d="M60,330 L60,247.8 68,247.8 76,246.2 84,242.8 92,239.3 100,237.2 108,237.1 116,237.2 124,237.7 132,238.2 140,238.7 148,239.0 156,239.0 164,238.5 172,237.5 180,236.4 188,235.4 196,234.6 204,234.2 212,234.1 220,234.1 228,234.2 236,234.1 244,233.8 252,233.1 260,232.3 268,231.7 276,231.3 284,231.4 292,232.0 300,233.2 308,234.6 316,236.1 324,237.3 332,238.0 340,238.3 348,238.0 356,237.5 364,237.0 372,236.7 380,236.7 388,237.1 396,237.7 404,238.2 412,238.6 420,238.6 428,238.2 436,237.5 444,236.8 452,236.4 460,236.4 468,236.9 476,238.0 484,239.3 492,240.8 500,241.9 508,242.6 516,242.8 524,242.5 532,242.0 540,241.4 548,241.0 556,240.9 564,241.1 572,241.6 580,242.0 588,242.2 596,242.0 604,241.4 612,240.4 620,239.4 628,238.4 636,237.7 644,237.5 652,237.8 660,238.4 668,239.0 676,239.5 684,239.7 692,239.4 700,238.7 708,237.8 716,236.9 724,236.3 732,236.1 740,236.1 748,236.3 756,236.6 764,236.8 772,236.7 780,236.2 788,235.4 796,234.5 804,233.7 812,233.0 820,232.6 828,232.5 836,232.8 844,233.3 852,233.8 860,234.1 868,234.1 876,233.6 884,233.0 892,232.5 900,232.3 908,232.5 916,233.2 924,234.2 932,235.4 940,236.6 948,237.4 956,237.8 964,237.9 972,237.7 980,237.3 988,236.9 996,236.7 1004,236.6 1012,234.7 1020,232.4 1028,230.2 1036,229.1 1044,227.5 1052,225.7 1060,224.4 1068,223.7 L1068,330Z" fill="#a40000"/>
<path d="M60,330 L60,251.0 68,250.7 76,249.7 84,248.0 92,246.4 100,245.5 108,245.7 116,246.0 124,246.2 132,246.3 140,246.2 148,246.0 156,245.5 164,244.9 172,244.5 180,244.2 188,244.4 196,244.8 204,245.5 212,246.1 220,246.5 228,246.6 236,246.1 244,245.2 252,244.1 260,242.9 268,242.1 276,241.6 284,241.7 292,242.4 300,243.3 308,244.4 316,245.4 324,246.1 332,246.4 340,246.4 348,246.1 356,245.9 364,245.8 372,246.0 380,246.4 388,247.0 396,247.7 404,248.2 412,248.4 420,248.4 428,248.1 436,247.6 444,247.2 452,247.0 460,247.0 468,247.2 476,247.5 484,247.8 492,247.9 500,247.7 508,247.3 516,246.7 524,246.3 532,246.1 540,246.3 548,246.8 556,247.7 564,248.7 572,249.6 580,250.1 588,250.0 596,249.5 604,248.4 612,247.2 620,246.0 628,245.1 636,244.6 644,244.6 652,245.1 660,245.7 668,246.3 676,246.6 684,246.7 692,246.4 700,246.0 708,245.6 716,245.4 724,245.5 732,245.9 740,246.5 748,247.2 756,247.8 764,248.2 772,248.3 780,248.2 788,247.8 796,247.3 804,246.9 812,246.6 820,246.3 828,246.0 836,245.7 844,245.3 852,244.6 860,243.7 868,242.6 876,241.5 884,240.6 892,240.2 900,240.4 908,241.1 916,242.1 924,243.3 932,244.5 940,245.2 948,245.5 956,245.5 964,245.1 972,244.7 980,244.5 988,244.6 996,245.1 1004,245.8 1012,245.7 1020,245.3 1028,244.7 1036,244.4 1044,243.5 1052,242.3 1060,241.2 1068,240.4 L1068,330Z" fill="#8c0000"/>
<path d="M60,330 L60,254.0 68,253.9 76,254.1 84,254.6 92,255.0 100,255.2 108,255.2 116,255.2 124,255.3 132,255.7 140,256.5 148,257.5 156,258.4 164,258.7 172,258.3 180,257.2 188,255.8 196,254.6 204,254.0 212,254.1 220,254.9 228,255.8 236,256.3 244,256.0 252,254.7 260,252.7 268,250.8 276,249.6 284,249.5 292,250.7 300,252.8 308,254.9 316,256.5 324,257.0 332,256.4 340,255.2 348,253.9 356,253.4 364,253.8 372,255.2 380,257.1 388,258.7 396,259.5 404,259.1 412,257.7 420,255.9 428,254.1 436,253.0 444,252.8 452,253.3 460,254.1 468,254.8 476,255.1 484,254.8 492,254.2 500,253.7 508,253.5 516,253.9 524,254.7 532,255.6 540,256.5 548,257.0 556,257.2 564,257.2 572,257.2 580,257.3 588,257.6 596,257.8 604,257.8 612,257.2 620,256.2 628,255.0 636,253.7 644,252.8 652,252.4 660,252.6 668,253.2 676,253.6 684,253.7 692,253.4 700,252.7 708,252.0 716,251.6 724,251.9 732,252.9 740,254.4 748,255.9 756,257.1 764,257.7 772,257.6 780,257.1 788,256.4 796,255.8 804,255.6 812,255.6 820,255.8 828,255.9 836,255.8 844,255.4 852,254.9 860,254.3 868,253.9 876,253.7 884,253.7 892,253.7 900,253.8 908,253.8 916,254.0 924,254.5 932,255.4 940,256.5 948,257.6 956,258.5 964,258.8 972,258.3 980,257.3 988,256.2 996,255.2 1004,254.9 1012,255.2 1020,256.0 1028,256.8 1036,257.0 1044,256.4 1052,254.8 1060,252.7 1068,250.8 L1068,330Z" fill="#800000"/>
</g>
</g>
<g clip-path="url(#pc)"><polygon points="99.9,290.0 99.9,284.0 101.5,274.0 103.4,262.5 106.5,255.0 109.7,247.3 111.5,237.0 113.5,225.5 115.5,221.5 118.0,219.0 121.0,217.6 124.0,217.0 134.0,216.2 144.2,215.7 160.0,215.5 177.8,215.7 190.0,216.6 204.8,217.9 216.0,218.3 228.4,219.0 238.0,220.6 245.0,221.5 255.0,222.6 267.0,223.4 280.0,222.8 292.0,222.1 306.0,221.4 320.7,221.2 327.0,222.4 334.2,224.1 351.0,226.8 367.8,229.2 384.7,231.3 398.0,233.2 404.0,233.6 406.5,232.0 408.2,230.2 410.0,231.8 413.0,232.4 420.0,233.5 435.2,237.2 440.0,237.6 446.7,238.3 452.0,240.4 456.8,243.1 460.5,244.3 463.6,245.9 465.6,248.0 467.0,251.0 468.4,257.0 469.5,264.2 470.2,274.0 470.8,284.0 470.8,290.0" fill="#b2b2b2" stroke="#fff" stroke-width="4.4" stroke-linejoin="round"/><polygon points="708.3,290.0 708.3,284.0 708.6,268.0 709.1,252.4 709.8,245.0 710.8,240.6 712.3,237.0 714.2,234.7 719.0,232.8 724.3,231.3 732.0,230.1 739.4,228.8 748.0,227.4 754.0,226.5 757.5,226.6 761.3,227.1 764.5,225.6 769.7,222.1 775.5,219.8 781.5,217.9 786.5,215.2 791.6,212.0 798.0,208.2 805.1,204.4 810.0,202.4 815.2,201.3 822.0,200.6 832.0,199.6 845.0,200.0 857.9,201.0 865.0,203.4 872.6,206.3 883.0,208.9 893.7,211.1 907.0,213.1 921.0,214.7 946.3,217.5 961.0,218.9 975.7,220.0 988.0,220.7 998.9,221.0 1004.0,220.6 1009.4,220.0 1012.5,221.6 1015.7,224.2 1018.4,226.9 1021.0,230.5 1022.2,236.0 1023.0,243.1 1024.2,254.0 1025.2,264.2 1026.8,274.0 1028.3,284.0 1028.3,290.0" fill="#b2b2b2" stroke="#fff" stroke-width="4.4" stroke-linejoin="round"/><polygon points="99.9,290.0 99.9,284.0 101.5,274.0 103.4,262.5 106.5,255.0 109.7,247.3 111.5,237.0 113.5,225.5 115.5,221.5 118.0,219.0 121.0,217.6 124.0,217.0 134.0,216.2 144.2,215.7 160.0,215.5 177.8,215.7 190.0,216.6 204.8,217.9 216.0,218.3 228.4,219.0 238.0,220.6 245.0,221.5 255.0,222.6 267.0,223.4 280.0,222.8 292.0,222.1 306.0,221.4 320.7,221.2 327.0,222.4 334.2,224.1 351.0,226.8 367.8,229.2 384.7,231.3 398.0,233.2 404.0,233.6 406.5,232.0 408.2,230.2 410.0,231.8 413.0,232.4 420.0,233.5 435.2,237.2 440.0,237.6 446.7,238.3 452.0,240.4 456.8,243.1 460.5,244.3 463.6,245.9 465.6,248.0 467.0,251.0 468.4,257.0 469.5,264.2 470.2,274.0 470.8,284.0 470.8,290.0" fill="#b2b2b2"/><polygon points="708.3,290.0 708.3,284.0 708.6,268.0 709.1,252.4 709.8,245.0 710.8,240.6 712.3,237.0 714.2,234.7 719.0,232.8 724.3,231.3 732.0,230.1 739.4,228.8 748.0,227.4 754.0,226.5 757.5,226.6 761.3,227.1 764.5,225.6 769.7,222.1 775.5,219.8 781.5,217.9 786.5,215.2 791.6,212.0 798.0,208.2 805.1,204.4 810.0,202.4 815.2,201.3 822.0,200.6 832.0,199.6 845.0,200.0 857.9,201.0 865.0,203.4 872.6,206.3 883.0,208.9 893.7,211.1 907.0,213.1 921.0,214.7 946.3,217.5 961.0,218.9 975.7,220.0 988.0,220.7 998.9,221.0 1004.0,220.6 1009.4,220.0 1012.5,221.6 1015.7,224.2 1018.4,226.9 1021.0,230.5 1022.2,236.0 1023.0,243.1 1024.2,254.0 1025.2,264.2 1026.8,274.0 1028.3,284.0 1028.3,290.0" fill="#b2b2b2"/></g>
</g>
<circle cx="71" cy="472.3" r="2.5" fill="#00f400"/>
<rect x="1055.2" y="469.9" width="3.8" height="3.8" fill="#f00"/>
<g stroke="#262626" stroke-width="1" fill="none" shape-rendering="crispEdges">
<path d="M70.5,467.0 V575.0 M1057.5,471.5 V570.5 M66.0,471.5 H1062.0 M70.5,570.5 H1057.5"/>
<path d="M216.5,471.5 v-4.5 M216.5,570.5 v4.5 M362.5,471.5 v-4.5 M362.5,570.5 v4.5 M507.5,471.5 v-4.5 M507.5,570.5 v4.5 M653.5,471.5 v-4.5 M653.5,570.5 v4.5 M799.5,471.5 v-4.5 M799.5,570.5 v4.5 M944.5,471.5 v-4.5 M944.5,570.5 v4.5 M70.5,520.5 h-4.5 M1057.5,520.5 h4.5 M70.5,569.5 h-4.5 M1057.5,569.5 h4.5 "/>
</g>
<text x="62.2" y="477.4" font-size="15.2" text-anchor="end" fill="#262626" textLength="7.9" lengthAdjust="spacingAndGlyphs">0</text>
<text x="62.2" y="525.9" font-size="15.2" text-anchor="end" fill="#262626" textLength="26.8" lengthAdjust="spacingAndGlyphs">100</text>
<text x="62.2" y="574.0" font-size="15.2" text-anchor="end" fill="#262626" textLength="26.8" lengthAdjust="spacingAndGlyphs">200</text>
<text transform="translate(27.3,521.0) rotate(-90)" font-size="15.2" text-anchor="middle" fill="#262626" textLength="75.6" lengthAdjust="spacingAndGlyphs">Depth (m)</text>
<polygon points="85.5,546.1 81.3,548.1 79.3,543.9 83.5,541.9" fill="none" stroke="#666" stroke-width="0.85" stroke-linejoin="round"/>
<text x="91.6" y="549.8" font-size="13.6" fill="#8c8c8c" textLength="7.2" lengthAdjust="spacingAndGlyphs">0</text>
<polygon points="87.6,521.6 83.4,523.6 81.4,519.4 85.6,517.4" fill="none" stroke="#666" stroke-width="0.85" stroke-linejoin="round"/>
<text x="93.7" y="525.3" font-size="13.6" fill="#8c8c8c" textLength="7.2" lengthAdjust="spacingAndGlyphs">1</text>
<polygon points="89.7,502.0 85.5,504.0 83.5,499.8 87.7,497.8" fill="none" stroke="#666" stroke-width="0.85" stroke-linejoin="round"/>
<text x="95.8" y="505.7" font-size="13.6" fill="#8c8c8c" textLength="7.2" lengthAdjust="spacingAndGlyphs">2</text>
<polygon points="90.6,482.9 86.4,484.9 84.4,480.7 88.6,478.7" fill="none" stroke="#666" stroke-width="0.85" stroke-linejoin="round"/>
<text x="96.7" y="486.6" font-size="13.6" fill="#8c8c8c" textLength="7.2" lengthAdjust="spacingAndGlyphs">3</text>
<polygon points="91.7,475.2 87.5,477.2 85.5,473.0 89.7,471.0" fill="none" stroke="#666" stroke-width="0.85" stroke-linejoin="round"/>
<text x="97.8" y="478.9" font-size="13.6" fill="#8c8c8c" textLength="7.2" lengthAdjust="spacingAndGlyphs">4</text>
<polygon points="152.0,475.2 147.8,477.2 145.8,473.0 150.0,471.0" fill="none" stroke="#666" stroke-width="0.85" stroke-linejoin="round"/>
<text x="157.5" y="478.9" font-size="13.6" fill="#8c8c8c" textLength="7.2" lengthAdjust="spacingAndGlyphs">5</text>
<polygon points="211.4,475.2 207.2,477.2 205.2,473.0 209.4,471.0" fill="none" stroke="#666" stroke-width="0.85" stroke-linejoin="round"/>
<text x="216.9" y="478.9" font-size="13.6" fill="#8c8c8c" textLength="7.2" lengthAdjust="spacingAndGlyphs">6</text>
<polygon points="268.2,475.2 264.0,477.2 262.0,473.0 266.2,471.0" fill="none" stroke="#666" stroke-width="0.85" stroke-linejoin="round"/>
<text x="273.7" y="478.9" font-size="13.6" fill="#8c8c8c" textLength="7.2" lengthAdjust="spacingAndGlyphs">7</text>
<polygon points="327.1,475.2 322.9,477.2 320.9,473.0 325.1,471.0" fill="none" stroke="#666" stroke-width="0.85" stroke-linejoin="round"/>
<text x="332.6" y="478.9" font-size="13.6" fill="#8c8c8c" textLength="7.2" lengthAdjust="spacingAndGlyphs">8</text>
<polygon points="388.1,475.2 383.9,477.2 381.9,473.0 386.1,471.0" fill="none" stroke="#666" stroke-width="0.85" stroke-linejoin="round"/>
<text x="393.6" y="478.9" font-size="13.6" fill="#8c8c8c" textLength="7.2" lengthAdjust="spacingAndGlyphs">9</text>
<polygon points="446.2,475.2 442.0,477.2 440.0,473.0 444.2,471.0" fill="none" stroke="#666" stroke-width="0.85" stroke-linejoin="round"/>
<text x="451.7" y="478.9" font-size="13.6" fill="#8c8c8c" textLength="15.5" lengthAdjust="spacingAndGlyphs">10</text>
<polygon points="507.7,475.2 503.5,477.2 501.5,473.0 505.7,471.0" fill="none" stroke="#666" stroke-width="0.85" stroke-linejoin="round"/>
<text x="513.2" y="478.9" font-size="13.6" fill="#8c8c8c" textLength="15.5" lengthAdjust="spacingAndGlyphs">11</text>
<polygon points="565.3,472.6 561.1,474.6 559.1,470.4 563.3,468.4" fill="none" stroke="#000" stroke-width="1.10" stroke-linejoin="round"/>
<text x="570.8" y="476.3" font-size="13.6" fill="#000" textLength="15.5" lengthAdjust="spacingAndGlyphs">12</text>
<polygon points="651.7,472.3 647.5,474.3 645.5,470.1 649.7,468.1" fill="none" stroke="#000" stroke-width="1.10" stroke-linejoin="round"/>
<text x="657.2" y="476.0" font-size="13.6" fill="#000" textLength="15.5" lengthAdjust="spacingAndGlyphs">13</text>
<polygon points="715.7,475.2 711.5,477.2 709.5,473.0 713.7,471.0" fill="none" stroke="#666" stroke-width="0.85" stroke-linejoin="round"/>
<text x="721.2" y="478.9" font-size="13.6" fill="#8c8c8c" textLength="15.5" lengthAdjust="spacingAndGlyphs">14</text>
<polygon points="779.2,472.6 775.0,474.6 773.0,470.4 777.2,468.4" fill="none" stroke="#000" stroke-width="1.10" stroke-linejoin="round"/>
<text x="784.7" y="476.3" font-size="13.6" fill="#000" textLength="15.5" lengthAdjust="spacingAndGlyphs">15</text>
<polygon points="832.3,473.2 828.1,475.2 826.1,471.0 830.3,469.0" fill="none" stroke="#000" stroke-width="1.10" stroke-linejoin="round"/>
<text x="837.8" y="476.9" font-size="13.6" fill="#000" textLength="15.5" lengthAdjust="spacingAndGlyphs">16</text>
<polygon points="882.8,472.6 878.6,474.6 876.6,470.4 880.8,468.4" fill="none" stroke="#000" stroke-width="1.10" stroke-linejoin="round"/>
<text x="888.3" y="476.3" font-size="13.6" fill="#000" textLength="15.5" lengthAdjust="spacingAndGlyphs">17</text>
<polygon points="945.9,475.2 941.7,477.2 939.7,473.0 943.9,471.0" fill="none" stroke="#666" stroke-width="0.85" stroke-linejoin="round"/>
<text x="951.4" y="478.9" font-size="13.6" fill="#8c8c8c" textLength="15.5" lengthAdjust="spacingAndGlyphs">18</text>
<polygon points="1001.5,472.6 997.3,474.6 995.3,470.4 999.5,468.4" fill="none" stroke="#000" stroke-width="1.10" stroke-linejoin="round"/>
<text x="1007.0" y="476.3" font-size="13.6" fill="#000" textLength="15.5" lengthAdjust="spacingAndGlyphs">19</text>
<text x="564.0" y="465.7" font-size="14.4" text-anchor="middle" font-weight="bold" fill="#000" textLength="64.0" lengthAdjust="spacingAndGlyphs">Salinity</text>
<text x="71.6" y="473.1" font-size="10.0" fill="#000" textLength="21.8" lengthAdjust="spacingAndGlyphs">ctd1</text>
<rect x="1093.5" y="471.5" width="20" height="99.0" fill="url(#cb)" stroke="#262626" stroke-width="1" shape-rendering="crispEdges"/>
<text x="1121.5" y="473.6" font-size="9.6" fill="#262626" textLength="10.7" lengthAdjust="spacingAndGlyphs">34</text>
<text x="1121.5" y="509.6" font-size="9.6" fill="#262626" textLength="18.6" lengthAdjust="spacingAndGlyphs">33.5</text>
<text x="1121.5" y="544.7" font-size="9.6" fill="#262626" textLength="10.7" lengthAdjust="spacingAndGlyphs">33</text>
<g transform="translate(1158.8,521.0) rotate(-90)"><text font-size="9.3" text-anchor="middle" fill="#262626" textLength="16.4" lengthAdjust="spacingAndGlyphs">PSU</text></g>
<!-- panel 3 -->
<g transform="translate(0,427)">
<g clip-path="url(#env)"><g filter="url(#vb)">
<rect x="60" y="150" width="1010" height="170" fill="#0000e8"/>
<path d="M60,330 L60,193.4 68,193.1 76,192.7 84,192.4 92,192.1 100,192.0 108,192.1 116,192.2 124,192.3 132,192.3 140,192.2 148,192.0 156,191.7 164,191.6 172,191.5 180,191.6 188,191.8 196,191.9 204,192.0 212,191.9 220,191.6 228,191.3 236,191.0 244,190.8 252,190.7 260,190.8 268,191.0 276,191.2 284,191.3 292,191.4 300,191.3 308,191.1 316,191.0 324,191.0 332,191.1 340,191.3 348,191.5 356,191.7 364,191.7 372,191.5 380,191.3 388,191.1 396,191.0 404,191.2 412,191.6 420,192.1 428,192.5 436,192.7 444,192.3 452,191.6 460,190.7 468,189.8 476,189.1 484,188.7 492,188.5 500,188.6 508,188.8 516,188.3 524,187.1 532,185.3 540,183.7 548,181.9 556,180.3 564,178.8 572,177.7 580,177.0 588,176.5 596,175.7 604,174.6 612,173.3 620,171.8 628,170.4 636,169.0 644,167.9 652,167.2 660,167.1 668,167.3 676,167.3 684,167.3 692,167.2 700,167.1 708,166.9 716,166.7 724,166.6 732,167.1 740,168.1 748,169.4 756,170.9 764,172.3 772,173.7 780,175.0 788,176.0 796,176.7 804,177.3 812,178.3 820,179.5 828,180.9 836,182.0 844,182.8 852,183.6 860,184.7 868,185.9 876,187.1 884,188.1 892,188.3 900,188.4 908,188.4 916,188.4 924,188.3 932,188.3 940,188.2 948,188.3 956,188.3 964,188.5 972,188.7 980,188.9 988,189.0 996,189.1 1004,189.2 1012,189.1 1020,188.9 1028,188.7 1036,188.5 1044,188.1 1052,187.6 1060,187.3 1068,187.2 L1068,330Z" fill="#0028ff"/>
<path d="M60,330 L60,193.5 68,193.5 76,193.6 84,193.8 92,193.9 100,193.9 108,193.9 116,193.8 124,193.6 132,193.4 140,193.1 148,192.9 156,192.8 164,192.8 172,192.9 180,193.1 188,193.2 196,193.1 204,192.9 212,192.6 220,192.2 228,191.9 236,191.7 244,191.8 252,192.1 260,192.5 268,192.9 276,193.1 284,193.2 292,193.0 300,192.6 308,192.2 316,191.9 324,191.9 332,192.2 340,192.5 348,192.9 356,193.2 364,193.2 372,192.9 380,192.5 388,192.1 396,191.8 404,191.9 412,192.2 420,192.6 428,193.1 436,193.3 444,193.2 452,192.6 460,191.9 468,191.2 476,190.6 484,190.4 492,190.4 500,190.6 508,190.9 516,190.4 524,189.3 532,187.7 540,185.9 548,184.2 556,182.7 564,181.5 572,180.6 580,180.1 588,179.6 596,178.8 604,177.7 612,176.3 620,174.7 628,173.1 636,171.7 644,170.6 652,169.9 660,169.9 668,170.2 676,170.4 684,170.5 692,170.4 700,170.3 708,170.1 716,169.9 724,169.8 732,170.2 740,171.2 748,172.4 756,173.8 764,175.3 772,176.6 780,177.8 788,178.8 796,179.5 804,180.1 812,181.1 820,182.4 828,183.8 836,185.1 844,185.9 852,186.6 860,187.4 868,188.2 876,188.9 884,189.4 892,189.6 900,189.7 908,189.9 916,190.2 924,190.4 932,190.6 940,190.7 948,190.6 956,190.5 964,190.4 972,190.3 980,190.2 988,190.2 996,190.3 1004,190.4 1012,190.5 1020,190.4 1028,190.3 1036,190.0 1044,189.3 1052,188.5 1060,188.1 1068,188.0 L1068,330Z" fill="#0051ff"/>
<path d="M60,330 L60,194.5 68,194.2 76,193.9 84,193.8 92,193.9 100,194.1 108,194.3 116,194.4 124,194.4 132,194.2 140,193.8 148,193.3 156,192.9 164,192.7 172,192.7 180,192.9 188,193.2 196,193.6 204,193.7 212,193.7 220,193.4 228,193.1 236,192.7 244,192.5 252,192.5 260,192.7 268,193.0 276,193.3 284,193.4 292,193.4 300,193.2 308,192.9 316,192.7 324,192.6 332,192.8 340,193.1 348,193.5 356,193.8 364,193.9 372,193.7 380,193.3 388,193.0 396,192.7 404,192.7 412,193.0 420,193.4 428,193.9 436,194.2 444,194.1 452,193.7 460,192.9 468,192.0 476,191.3 484,190.8 492,190.5 500,190.6 508,190.8 516,190.6 524,189.8 532,188.7 540,187.4 548,185.9 556,184.6 564,183.5 572,182.7 580,182.1 588,181.6 596,180.8 604,179.8 612,178.6 620,177.2 628,175.9 636,174.7 644,173.8 652,173.1 660,173.1 668,173.2 676,173.2 684,173.1 692,173.0 700,172.8 708,172.6 716,172.5 724,172.5 732,173.0 740,173.9 748,175.1 756,176.4 764,177.6 772,178.8 780,179.8 788,180.6 796,181.3 804,181.9 812,182.9 820,184.3 828,185.6 836,186.9 844,187.8 852,188.3 860,188.8 868,189.3 876,189.8 884,190.2 892,190.2 900,190.3 908,190.4 916,190.6 924,190.7 932,190.9 940,191.1 948,191.2 956,191.4 964,191.5 972,191.7 980,191.8 988,191.8 996,191.7 1004,191.6 1012,191.3 1020,191.0 1028,190.6 1036,190.3 1044,189.6 1052,188.9 1060,188.7 1068,188.7 L1068,330Z" fill="#007bff"/>
<path d="M60,330 L60,195.5 68,195.0 76,194.5 84,194.0 92,193.7 100,193.7 108,193.9 116,194.1 124,194.3 132,194.4 140,194.2 148,193.9 156,193.5 164,193.3 172,193.3 180,193.5 188,193.9 196,194.3 204,194.4 212,194.4 220,194.0 228,193.6 236,193.2 244,193.0 252,193.0 260,193.4 268,193.9 276,194.4 284,194.7 292,194.6 300,194.1 308,193.5 316,192.9 324,192.4 332,192.3 340,192.6 348,193.0 356,193.4 364,193.7 372,193.7 380,193.5 388,193.1 396,192.9 404,192.9 412,193.3 420,193.9 428,194.6 436,195.1 444,195.2 452,194.7 460,194.0 468,193.0 476,192.2 484,191.6 492,191.4 500,191.5 508,191.8 516,191.6 524,190.9 532,189.9 540,188.6 548,187.2 556,185.9 564,185.1 572,184.4 580,184.0 588,183.6 596,182.9 604,182.0 612,180.8 620,179.5 628,178.2 636,177.1 644,176.2 652,175.6 660,175.7 668,175.9 676,176.0 684,176.0 692,175.9 700,175.7 708,175.5 716,175.3 724,175.2 732,175.5 740,176.3 748,177.3 756,178.4 764,179.5 772,180.6 780,181.5 788,182.3 796,183.0 804,183.7 812,184.8 820,186.3 828,187.9 836,189.2 844,190.0 852,190.0 860,190.0 868,190.0 876,190.1 884,190.3 892,190.5 900,190.7 908,191.0 916,191.3 924,191.4 932,191.5 940,191.4 948,191.4 956,191.4 964,191.4 972,191.6 980,191.7 988,191.8 996,191.8 1004,191.8 1012,191.5 1020,191.2 1028,191.0 1036,190.8 1044,190.2 1052,189.6 1060,189.4 1068,189.4 L1068,330Z" fill="#00a4ff"/>
<path d="M60,330 L60,195.4 68,195.0 76,194.7 84,194.4 92,194.3 100,194.4 108,194.5 116,194.6 124,194.7 132,194.6 140,194.3 148,194.0 156,193.8 164,193.8 172,193.9 180,194.3 188,194.7 196,195.0 204,195.1 212,195.0 220,194.7 228,194.3 236,193.9 244,193.7 252,193.7 260,193.9 268,194.1 276,194.3 284,194.3 292,194.1 300,193.7 308,193.2 316,192.9 324,192.8 332,193.0 340,193.5 348,194.0 356,194.5 364,194.8 372,194.8 380,194.5 388,194.1 396,193.8 404,193.7 412,193.9 420,194.2 428,194.6 436,194.9 444,194.9 452,194.5 460,193.8 468,193.1 476,192.5 484,192.2 492,192.1 500,192.3 508,192.6 516,192.4 524,191.9 532,191.1 540,190.0 548,188.8 556,187.8 564,186.9 572,186.4 580,186.0 588,185.6 596,184.9 604,184.1 612,183.0 620,181.9 628,180.7 636,179.7 644,178.8 652,178.3 660,178.3 668,178.4 676,178.4 684,178.4 692,178.4 700,178.3 708,178.2 716,178.1 724,178.1 732,178.5 740,179.2 748,180.1 756,181.0 764,181.9 772,182.8 780,183.5 788,184.2 796,184.7 804,185.0 812,186.1 820,187.4 828,188.9 836,190.1 844,190.9 852,190.9 860,190.9 868,190.9 876,190.9 884,191.0 892,191.2 900,191.4 908,191.7 916,192.0 924,192.2 932,192.3 940,192.3 948,192.2 956,192.1 964,192.0 972,191.9 980,191.9 988,192.0 996,192.1 1004,192.2 1012,192.1 1020,191.9 1028,191.6 1036,191.4 1044,190.6 1052,189.8 1060,189.3 1068,189.2 L1068,330Z" fill="#00ceff"/>
<path d="M60,330 L60,195.4 68,195.3 76,195.1 84,195.0 92,195.0 100,195.0 108,195.1 116,195.1 124,195.0 132,194.8 140,194.5 148,194.2 156,194.0 164,193.9 172,194.1 180,194.5 188,194.9 196,195.2 204,195.2 212,195.1 220,194.7 228,194.2 236,193.9 244,193.7 252,193.8 260,194.1 268,194.5 276,194.9 284,195.1 292,195.0 300,194.6 308,194.2 316,193.8 324,193.6 332,193.7 340,194.0 348,194.5 356,194.9 364,195.2 372,195.2 380,195.0 388,194.7 396,194.5 404,194.4 412,194.6 420,194.8 428,195.2 436,195.4 444,195.4 452,195.0 460,194.5 468,194.0 476,193.5 484,193.3 492,193.3 500,193.4 508,193.6 516,193.3 524,192.7 532,191.8 540,190.6 548,189.6 556,188.7 564,188.1 572,187.9 580,187.8 588,187.7 596,187.2 604,186.4 612,185.2 620,184.1 628,183.0 636,182.1 644,181.4 652,180.9 660,181.0 668,181.2 676,181.3 684,181.3 692,181.3 700,181.1 708,180.9 716,180.7 724,180.6 732,180.9 740,181.5 748,182.4 756,183.3 764,184.2 772,185.0 780,185.7 788,186.2 796,186.5 804,186.9 812,187.8 820,189.0 828,190.4 836,191.7 844,192.5 852,192.6 860,192.6 868,192.5 876,192.3 884,192.0 892,191.9 900,191.8 908,191.8 916,191.8 924,191.9 932,192.1 940,192.3 948,192.6 956,192.8 964,192.9 972,193.0 980,192.9 988,192.8 996,192.6 1004,192.4 1012,192.0 1020,191.7 1028,191.5 1036,191.4 1044,190.8 1052,190.1 1060,189.7 1068,189.6 L1068,330Z" fill="#00f8ff"/>
<path d="M60,330 L60,196.6 68,196.3 76,195.7 84,195.2 92,194.8 100,194.7 108,194.8 116,195.1 124,195.4 132,195.5 140,195.3 148,194.9 156,194.5 164,194.3 172,194.4 180,194.8 188,195.6 196,196.3 204,196.7 212,196.8 220,196.4 228,195.7 236,195.1 244,194.6 252,194.6 260,194.9 268,195.3 276,195.6 284,195.6 292,195.1 300,194.4 308,193.6 316,193.0 324,192.9 332,193.3 340,194.0 348,194.8 356,195.4 364,195.7 372,195.5 380,195.2 388,194.8 396,194.7 404,194.9 412,195.4 420,196.1 428,196.5 436,196.7 444,196.4 452,195.8 460,195.0 468,194.3 476,193.8 484,193.7 492,193.7 500,193.9 508,194.0 516,193.7 524,193.2 532,192.5 540,191.8 548,191.1 556,190.6 564,190.3 572,190.2 580,190.1 588,189.9 596,189.5 604,188.8 612,188.0 620,187.1 628,186.2 636,185.4 644,184.7 652,184.2 660,184.1 668,184.1 676,184.1 684,184.0 692,184.0 700,183.9 708,183.8 716,183.7 724,183.6 732,183.8 740,184.2 748,184.8 756,185.3 764,186.1 772,186.8 780,187.4 788,187.8 796,188.0 804,188.3 812,189.2 820,190.4 828,191.9 836,193.3 844,194.2 852,194.0 860,193.5 868,192.9 876,192.2 884,191.7 892,191.7 900,191.9 908,192.4 916,192.8 924,193.1 932,193.2 940,193.1 948,192.9 956,192.7 964,192.7 972,192.8 980,193.1 988,193.5 996,193.7 1004,193.7 1012,193.4 1020,192.8 1028,192.3 1036,191.8 1044,191.0 1052,190.3 1060,190.0 1068,190.0 L1068,330Z" fill="#22ffdd"/>
<path d="M60,330 L60,196.4 68,195.8 76,195.4 84,195.2 92,195.2 100,195.5 108,195.9 116,196.3 124,196.6 132,196.6 140,196.4 148,196.0 156,195.7 164,195.4 172,195.5 180,195.7 188,196.0 196,196.4 204,196.5 212,196.5 220,196.2 228,195.8 236,195.4 244,195.2 252,195.2 260,195.5 268,195.8 276,196.2 284,196.3 292,196.2 300,195.9 308,195.4 316,195.0 324,194.8 332,194.7 340,194.9 348,195.1 356,195.3 364,195.4 372,195.3 380,195.0 388,194.8 396,194.8 404,195.0 412,195.5 420,196.2 428,196.9 436,197.4 444,197.5 452,197.2 460,196.6 468,195.9 476,195.3 484,194.9 492,194.9 500,195.1 508,195.5 516,195.5 524,195.2 532,194.6 540,193.8 548,192.9 556,192.2 564,191.8 572,191.7 580,191.9 588,192.1 596,192.0 604,191.6 612,191.0 620,190.1 628,189.1 636,188.3 644,187.7 652,187.3 660,187.3 668,187.5 676,187.6 684,187.7 692,187.6 700,187.5 708,187.3 716,187.2 724,187.1 732,187.3 740,187.6 748,187.9 756,188.2 764,188.4 772,188.5 780,188.5 788,188.5 796,188.5 804,188.9 812,189.9 820,191.2 828,192.6 836,193.8 844,194.4 852,194.2 860,193.8 868,193.3 876,193.0 884,192.8 892,193.0 900,193.3 908,193.5 916,193.7 924,193.8 932,193.7 940,193.6 948,193.4 956,193.3 964,193.3 972,193.4 980,193.6 988,193.8 996,194.1 1004,194.3 1012,194.2 1020,193.8 1028,193.4 1036,192.9 1044,191.7 1052,190.6 1060,189.9 1068,189.7 L1068,330Z" fill="#4cffb3"/>
<path d="M60,330 L60,197.6 68,197.2 76,196.8 84,196.6 92,196.7 100,196.9 108,197.1 116,197.2 124,197.1 132,196.8 140,196.2 148,195.7 156,195.4 164,195.4 172,195.8 180,196.5 188,197.2 196,197.7 204,197.9 212,197.7 220,197.2 228,196.4 236,195.6 244,195.1 252,195.0 260,195.3 268,195.8 276,196.3 284,196.7 292,196.7 300,196.4 308,196.0 316,195.6 324,195.3 332,195.4 340,195.8 348,196.4 356,197.0 364,197.3 372,197.4 380,197.1 388,196.6 396,196.0 404,195.6 412,195.5 420,195.7 428,196.2 436,196.6 444,197.0 452,197.1 460,197.0 468,196.8 476,196.6 484,196.4 492,196.4 500,196.5 508,196.7 516,196.6 524,196.4 532,195.9 540,195.3 548,194.8 556,194.3 564,194.1 572,194.1 580,194.2 588,194.4 596,194.3 604,194.0 612,193.6 620,193.0 628,192.5 636,192.1 644,191.9 652,191.8 660,191.9 668,191.8 676,191.6 684,191.2 692,190.6 700,190.0 708,189.5 716,189.3 724,189.3 732,189.6 740,190.0 748,190.4 756,190.6 764,190.7 772,190.5 780,190.3 788,190.0 796,189.9 804,190.3 812,191.4 820,192.8 828,194.3 836,195.5 844,196.1 852,195.5 860,194.7 868,193.8 876,193.1 884,192.7 892,192.8 900,193.3 908,193.8 916,194.3 924,194.7 932,194.8 940,194.8 948,194.6 956,194.2 964,193.9 972,193.7 980,193.7 988,193.8 996,193.9 1004,194.2 1012,194.1 1020,193.9 1028,193.6 1036,193.1 1044,192.0 1052,190.9 1060,190.3 1068,190.3 L1068,330Z" fill="#75ff8a"/>
<path d="M60,330 L60,197.4 68,197.0 76,196.7 84,196.7 92,197.0 100,197.4 108,197.9 116,198.2 124,198.2 132,198.0 140,197.7 148,197.2 156,197.0 164,196.9 172,197.2 180,197.6 188,198.1 196,198.4 204,198.4 212,198.0 220,197.4 228,196.6 236,196.0 244,195.7 252,195.8 260,196.3 268,196.9 276,197.4 284,197.7 292,197.6 300,197.2 308,196.6 316,196.1 324,195.8 332,195.9 340,196.4 348,197.1 356,197.7 364,198.1 372,198.1 380,197.8 388,197.2 396,196.7 404,196.5 412,196.6 420,197.0 428,197.6 436,198.2 444,198.6 452,198.7 460,198.5 468,198.1 476,197.6 484,197.3 492,197.3 500,197.5 508,197.9 516,198.1 524,198.2 532,198.0 540,197.6 548,197.1 556,196.6 564,196.3 572,196.2 580,196.2 588,196.4 596,196.4 604,196.3 612,196.1 620,195.7 628,195.3 636,195.0 644,194.8 652,194.8 660,194.9 668,195.0 676,194.9 684,194.6 692,194.3 700,193.8 708,193.4 716,193.1 724,193.0 732,193.0 740,193.0 748,192.9 756,192.6 764,192.2 772,191.7 780,191.2 788,190.9 796,190.8 804,191.3 812,192.5 820,194.0 828,195.5 836,196.6 844,197.2 852,196.6 860,195.8 868,194.9 876,194.2 884,193.8 892,193.8 900,194.1 908,194.3 916,194.4 924,194.4 932,194.3 940,194.2 948,194.0 956,194.0 964,194.1 972,194.4 980,194.8 988,195.3 996,195.7 1004,195.9 1012,195.7 1020,195.3 1028,194.7 1036,194.0 1044,192.7 1052,191.4 1060,190.7 1068,190.6 L1068,330Z" fill="#9fff60"/>
<path d="M60,330 L60,199.8 68,199.6 76,199.2 84,198.9 92,198.6 100,198.4 108,198.4 116,198.6 124,198.7 132,198.7 140,198.5 148,198.2 156,197.8 164,197.5 172,197.5 180,197.8 188,198.3 196,198.8 204,199.2 212,199.3 220,199.0 228,198.4 236,197.8 244,197.3 252,197.2 260,197.5 268,198.0 276,198.6 284,198.8 292,198.7 300,198.3 308,197.7 316,197.2 324,197.1 332,197.4 340,198.1 348,199.0 356,199.7 364,200.0 372,199.9 380,199.3 388,198.6 396,198.1 404,198.0 412,198.3 420,199.0 428,199.7 436,200.2 444,200.3 452,200.0 460,199.4 468,198.9 476,198.6 484,198.7 492,199.2 500,199.9 508,200.6 516,201.0 524,200.9 532,200.4 540,199.8 548,199.2 556,198.8 564,198.8 572,199.0 580,199.3 588,199.6 596,199.6 604,199.3 612,198.8 620,198.2 628,197.7 636,197.4 644,197.3 652,197.4 660,197.5 668,197.5 676,197.3 684,197.0 692,196.5 700,196.0 708,195.6 716,195.2 724,195.0 732,194.9 740,194.8 748,194.6 756,194.4 764,194.2 772,193.9 780,193.6 788,193.3 796,193.1 804,193.3 812,194.1 820,195.1 828,196.2 836,197.2 844,197.8 852,197.5 860,196.8 868,196.0 876,195.1 884,194.4 892,194.1 900,194.1 908,194.3 916,194.6 924,194.9 932,195.1 940,195.3 948,195.3 956,195.2 964,195.2 972,195.3 980,195.5 988,195.9 996,196.3 1004,196.6 1012,196.4 1020,195.9 1028,195.3 1036,194.6 1044,193.3 1052,192.0 1060,191.4 1068,191.4 L1068,330Z" fill="#c9ff36"/>
<path d="M60,330 L60,200.0 68,199.6 76,199.3 84,199.1 92,199.1 100,199.3 108,199.5 116,199.8 124,199.9 132,199.7 140,199.4 148,199.0 156,198.6 164,198.5 172,198.6 180,198.9 188,199.5 196,200.0 204,200.4 212,200.4 220,200.0 228,199.5 236,198.9 244,198.5 252,198.5 260,198.9 268,199.5 276,200.1 284,200.4 292,200.4 300,200.0 308,199.3 316,198.7 324,198.4 332,198.6 340,199.2 348,200.2 356,201.1 364,201.7 372,201.8 380,201.4 388,200.7 396,200.0 404,199.6 412,199.8 420,200.5 428,201.4 436,202.4 444,202.9 452,202.8 460,202.2 468,201.3 476,200.4 484,199.9 492,200.0 500,200.6 508,201.6 516,202.4 524,202.9 532,202.7 540,202.1 548,201.2 556,200.3 564,199.9 572,200.2 580,200.9 588,201.8 596,202.6 604,202.9 612,202.6 620,201.8 628,200.8 636,200.0 644,199.5 652,199.5 660,200.0 668,200.5 676,200.8 684,200.7 692,200.2 700,199.3 708,198.2 716,197.4 724,197.0 732,196.9 740,197.1 748,197.3 756,197.3 764,197.0 772,196.3 780,195.5 788,194.7 796,194.1 804,194.2 812,194.9 820,195.9 828,197.0 836,198.0 844,198.4 852,197.9 860,197.0 868,196.1 876,195.3 884,194.7 892,194.8 900,195.0 908,195.3 916,195.5 924,195.7 932,195.9 940,195.9 948,196.0 956,196.1 964,196.2 972,196.4 980,196.5 988,196.7 996,196.8 1004,196.9 1012,196.7 1020,196.3 1028,196.0 1036,195.5 1044,194.3 1052,192.9 1060,192.1 1068,191.9 L1068,330Z" fill="#f2ff0d"/>
<path d="M60,330 L60,201.8 68,201.5 76,201.2 84,201.2 92,201.3 100,201.6 108,201.8 116,201.9 124,201.8 132,201.4 140,201.0 148,200.6 156,200.3 164,200.2 172,200.3 180,200.6 188,201.0 196,201.2 204,201.3 212,201.1 220,200.7 228,200.2 236,199.8 244,199.6 252,199.6 260,199.9 268,200.2 276,200.5 284,200.6 292,200.5 300,200.2 308,199.9 316,199.7 324,199.6 332,199.9 340,200.5 348,201.2 356,201.9 364,202.4 372,202.6 380,202.6 388,202.4 396,202.2 404,202.1 412,202.4 420,202.9 428,203.6 436,204.2 444,204.7 452,204.9 460,204.7 468,204.3 476,203.9 484,203.6 492,203.5 500,203.8 508,204.3 516,204.8 524,205.3 532,205.4 540,205.2 548,204.8 556,204.3 564,203.9 572,203.8 580,204.0 588,204.3 596,204.8 604,205.0 612,205.0 620,204.6 628,203.9 636,203.2 644,202.5 652,202.1 660,201.9 668,201.9 676,202.0 684,202.0 692,201.7 700,201.1 708,200.4 716,199.6 724,199.0 732,198.6 740,198.3 748,198.2 756,198.1 764,198.0 772,197.7 780,197.2 788,196.6 796,196.0 804,195.9 812,196.2 820,196.9 828,197.7 836,198.6 844,199.3 852,199.1 860,198.6 868,197.8 876,196.9 884,196.2 892,196.0 900,196.1 908,196.4 916,196.8 924,197.2 932,197.6 940,197.8 948,197.8 956,197.7 964,197.6 972,197.6 980,197.6 988,197.9 996,198.1 1004,198.4 1012,198.1 1020,197.6 1028,196.9 1036,196.2 1044,194.6 1052,193.1 1060,192.3 1068,192.2 L1068,330Z" fill="#ffe200"/>
<path d="M60,330 L60,203.1 68,202.8 76,202.7 84,202.8 92,203.1 100,203.5 108,203.9 116,204.1 124,204.1 132,203.7 140,203.2 148,202.5 156,202.0 164,201.8 172,201.9 180,202.3 188,202.9 196,203.3 204,203.4 212,203.2 220,202.6 228,201.9 236,201.3 244,201.0 252,201.1 260,201.7 268,202.6 276,203.4 284,204.0 292,204.2 300,204.2 308,203.9 316,203.6 324,203.4 332,203.5 340,203.8 348,204.1 356,204.4 364,204.5 372,204.2 380,203.8 388,203.5 396,203.4 404,203.6 412,204.3 420,205.2 428,206.2 436,206.9 444,207.3 452,207.3 460,207.0 468,206.6 476,206.4 484,206.6 492,207.1 500,207.9 508,208.6 516,209.1 524,209.0 532,208.4 540,207.4 548,206.3 556,205.4 564,205.0 572,205.2 580,205.8 588,206.7 596,207.5 604,208.0 612,208.1 620,207.8 628,207.3 636,206.8 644,206.5 652,206.4 660,206.4 668,206.4 676,206.2 684,205.7 692,204.9 700,204.0 708,203.1 716,202.3 724,201.9 732,201.7 740,201.4 748,201.1 756,200.5 764,199.9 772,199.0 780,198.3 788,197.7 796,197.3 804,197.6 812,198.4 820,199.2 828,200.0 836,200.6 844,200.8 852,200.2 860,199.2 868,198.2 876,197.4 884,196.8 892,196.8 900,197.1 908,197.5 916,198.0 924,198.4 932,198.7 940,198.9 948,198.9 956,198.9 964,198.8 972,198.9 980,198.9 988,199.1 996,199.3 1004,199.5 1012,199.2 1020,198.7 1028,198.3 1036,197.7 1044,196.1 1052,194.3 1060,193.4 1068,193.2 L1068,330Z" fill="#ffb900"/>
<path d="M60,330 L60,205.1 68,204.6 76,204.3 84,204.4 92,204.7 100,205.1 108,205.4 116,205.7 124,205.6 132,205.4 140,205.0 148,204.5 156,204.1 164,204.0 172,204.2 180,204.6 188,205.1 196,205.6 204,205.9 212,205.8 220,205.3 228,204.6 236,203.9 244,203.5 252,203.4 260,203.7 268,204.4 276,205.2 284,205.8 292,206.0 300,205.9 308,205.4 316,204.8 324,204.4 332,204.5 340,205.0 348,206.0 356,207.1 364,208.0 372,208.4 380,208.3 388,207.8 396,207.2 404,206.7 412,206.6 420,207.1 428,208.0 436,209.0 444,209.9 452,210.3 460,210.3 468,209.8 476,209.2 484,208.8 492,208.8 500,209.3 508,210.1 516,210.9 524,211.4 532,211.5 540,211.1 548,210.6 556,210.0 564,209.8 572,210.0 580,210.6 588,211.1 596,211.5 604,211.5 612,211.0 620,210.2 628,209.3 636,208.8 644,208.6 652,208.9 660,209.2 668,209.4 676,209.2 684,208.4 692,207.3 700,206.0 708,205.0 716,204.4 724,204.3 732,204.5 740,204.5 748,204.3 756,203.6 764,202.6 772,201.3 780,200.1 788,199.3 796,198.9 804,199.3 812,200.0 820,200.8 828,201.3 836,201.5 844,201.2 852,200.5 860,199.6 868,198.9 876,198.5 884,198.4 892,198.7 900,199.2 908,199.6 916,199.7 924,199.7 932,199.6 940,199.5 948,199.5 956,199.7 964,200.1 972,200.6 980,201.0 988,201.5 996,201.8 1004,201.9 1012,201.4 1020,200.7 1028,200.0 1036,199.1 1044,197.1 1052,195.0 1060,193.9 1068,193.8 L1068,330Z" fill="#ff8f00"/>
<path d="M60,330 L60,208.4 68,207.5 76,206.6 84,206.1 92,205.9 100,206.1 108,206.6 116,207.2 124,207.8 132,208.1 140,208.1 148,207.9 156,207.7 164,207.6 172,207.6 180,207.7 188,207.8 196,207.8 204,207.5 212,206.9 220,206.2 228,205.5 236,205.1 244,205.3 252,205.9 260,207.0 268,208.2 276,209.2 284,209.7 292,209.6 300,209.1 308,208.3 316,207.5 324,207.0 332,207.0 340,207.4 348,208.1 356,208.8 364,209.3 372,209.5 380,209.6 388,209.6 396,209.8 404,210.4 412,211.4 420,212.5 428,213.6 436,214.2 444,214.3 452,213.8 460,212.9 468,211.8 476,211.0 484,210.7 492,211.1 500,212.0 508,213.2 516,214.2 524,215.0 532,215.2 540,215.0 548,214.6 556,214.2 564,214.1 572,214.3 580,214.8 588,215.2 596,215.3 604,215.0 612,214.3 620,213.4 628,212.4 636,211.8 644,211.5 652,211.8 660,212.2 668,212.5 676,212.4 684,211.9 692,210.8 700,209.5 708,208.2 716,207.1 724,206.5 732,206.3 740,206.3 748,206.2 756,206.0 764,205.5 772,204.8 780,203.9 788,203.0 796,202.3 804,202.0 812,201.8 820,201.7 828,201.6 836,201.4 844,201.2 852,200.9 860,200.5 868,200.1 876,199.9 884,199.9 892,200.3 900,200.9 908,201.5 916,202.0 924,202.2 932,202.3 940,202.2 948,201.9 956,201.7 964,201.6 972,201.7 980,201.9 988,202.2 996,202.7 1004,203.1 1012,203.0 1020,202.5 1028,202.1 1036,201.4 1044,199.3 1052,197.0 1060,195.8 1068,195.5 L1068,330Z" fill="#ff6500"/>
<path d="M60,330 L60,211.8 68,210.7 76,209.7 84,209.1 92,209.2 100,209.8 108,210.8 116,211.9 124,212.6 132,212.7 140,212.2 148,211.3 156,210.3 164,209.5 172,209.3 180,209.7 188,210.4 196,211.3 204,211.8 212,211.8 220,211.3 228,210.4 236,209.4 244,208.8 252,208.7 260,209.2 268,210.3 276,211.4 284,212.4 292,212.8 300,212.7 308,212.2 316,211.5 324,211.1 332,211.1 340,211.6 348,212.5 356,213.5 364,214.3 372,214.6 380,214.5 388,214.1 396,213.6 404,213.4 412,213.6 420,214.3 428,215.4 436,216.5 444,217.5 452,218.0 460,218.2 468,218.0 476,217.7 484,217.5 492,217.6 500,218.1 508,218.6 516,219.1 524,219.4 532,219.3 540,218.8 548,218.2 556,217.7 564,217.4 572,217.6 580,218.1 588,218.5 596,218.9 604,219.0 612,218.7 620,218.2 628,217.6 636,217.0 644,216.7 652,216.6 660,216.6 668,216.5 676,216.1 684,215.4 692,214.4 700,213.3 708,212.1 716,211.3 724,210.8 732,210.4 740,210.1 748,209.6 756,209.0 764,208.2 772,207.3 780,206.5 788,205.7 796,205.3 804,205.2 812,205.0 820,204.6 828,204.1 836,203.6 844,203.2 852,203.0 860,202.7 868,202.5 876,202.3 884,202.2 892,202.3 900,202.4 908,202.7 916,202.9 924,203.1 932,203.4 940,203.6 948,203.9 956,204.4 964,204.9 972,205.5 980,206.1 988,206.5 996,206.9 1004,207.1 1012,206.3 1020,205.3 1028,204.3 1036,203.3 1044,200.8 1052,198.1 1060,196.8 1068,196.4 L1068,330Z" fill="#ff3c00"/>
<path d="M60,330 L60,220.5 68,220.0 76,219.0 84,217.5 92,216.2 100,215.6 108,215.8 116,215.9 124,215.6 132,214.9 140,213.9 148,212.9 156,212.1 164,211.9 172,212.2 180,213.1 188,214.2 196,215.2 204,215.9 212,216.0 220,215.6 228,214.9 236,214.2 244,213.8 252,213.8 260,214.2 268,214.9 276,215.5 284,215.9 292,215.9 300,215.6 308,215.3 316,215.2 324,215.4 332,216.2 340,217.2 348,218.4 356,219.2 364,219.5 372,219.3 380,218.7 388,218.2 396,218.0 404,218.4 412,219.5 420,221.1 428,222.8 436,224.0 444,224.6 452,224.4 460,223.5 468,222.3 476,221.2 484,220.6 492,220.6 500,221.3 508,222.2 516,223.1 524,223.6 532,223.7 540,223.3 548,222.8 556,222.5 564,222.5 572,223.0 580,223.8 588,224.5 596,224.8 604,224.5 612,223.8 620,222.7 628,221.7 636,221.0 644,220.9 652,221.4 660,222.1 668,222.6 676,222.6 684,221.9 692,220.6 700,218.8 708,217.0 716,215.6 724,214.8 732,214.4 740,214.3 748,214.3 756,214.1 764,213.6 772,212.7 780,211.6 788,210.5 796,209.6 804,208.9 812,207.8 820,206.6 828,205.5 836,204.4 844,203.7 852,203.8 860,203.9 868,204.0 876,204.3 884,204.6 892,205.0 900,205.4 908,205.9 916,206.2 924,206.4 932,206.4 940,206.3 948,206.3 956,206.5 964,206.9 972,207.6 980,208.6 988,209.5 996,210.4 1004,211.1 1012,210.5 1020,209.4 1028,208.2 1036,206.8 1044,203.8 1052,200.7 1060,199.2 1068,198.8 L1068,330Z" fill="#ff1200"/>
<path d="M60,330 L60,236.3 68,235.7 76,233.4 84,228.8 92,224.1 100,221.1 108,221.1 116,220.9 124,220.6 132,220.1 140,219.6 148,219.2 156,219.0 164,219.1 172,219.5 180,219.9 188,220.2 196,220.2 204,219.9 212,219.4 220,218.8 228,218.4 236,218.4 244,218.7 252,219.4 260,220.3 268,221.0 276,221.3 284,221.2 292,220.6 300,220.0 308,219.5 316,219.5 324,220.0 332,221.2 340,222.6 348,224.0 356,225.0 364,225.4 372,225.3 380,224.8 388,224.3 396,224.1 404,224.5 412,225.5 420,226.8 428,228.2 436,229.2 444,229.7 452,229.6 460,229.0 468,228.2 476,227.6 484,227.5 492,227.9 500,228.7 508,229.7 516,230.5 524,230.9 532,230.8 540,230.3 548,229.6 556,229.0 564,228.6 572,228.8 580,229.3 588,229.9 596,230.3 604,230.5 612,230.3 620,229.7 628,228.9 636,228.2 644,227.6 652,227.2 660,227.0 668,226.7 676,226.3 684,225.8 692,225.0 700,224.2 708,223.3 716,222.6 724,222.2 732,221.7 740,221.1 748,220.3 756,219.3 764,218.2 772,217.0 780,215.9 788,214.9 796,214.2 804,213.6 812,212.3 820,210.7 828,209.0 836,207.4 844,206.5 852,206.6 860,206.9 868,207.1 876,207.4 884,207.7 892,208.0 900,208.4 908,209.0 916,209.6 924,210.2 932,210.7 940,211.1 948,211.2 956,211.4 964,211.7 972,212.1 980,212.7 988,213.4 996,214.1 1004,214.8 1012,214.1 1020,212.8 1028,211.3 1036,209.7 1044,206.4 1052,202.9 1060,201.3 1068,201.2 L1068,330Z" fill="#e80000"/>
<path d="M60,330 L60,240.7 68,239.7 76,237.4 84,233.8 92,230.6 100,229.1 108,229.9 116,230.3 124,230.2 132,229.3 140,227.9 148,226.3 156,224.9 164,224.1 172,224.2 180,225.1 188,226.4 196,227.8 204,228.6 212,228.6 220,227.9 228,226.6 236,225.3 244,224.3 252,223.9 260,224.3 268,225.1 276,226.0 284,226.5 292,226.5 300,225.9 308,225.1 316,224.5 324,224.3 332,224.9 340,226.2 348,228.0 356,229.8 364,231.1 372,231.8 380,231.8 388,231.4 396,230.8 404,230.5 412,230.7 420,231.3 428,232.3 436,233.1 444,233.6 452,233.7 460,233.5 468,233.1 476,232.8 484,232.9 492,233.5 500,234.3 508,235.0 516,235.4 524,235.3 532,234.6 540,233.6 548,232.6 556,231.9 564,231.8 572,232.3 580,233.2 588,234.0 596,234.4 604,234.3 612,233.7 620,232.8 628,232.0 636,231.6 644,231.8 652,232.5 660,233.2 668,233.5 676,233.0 684,231.8 692,230.0 700,227.9 708,226.2 716,225.1 724,224.9 732,225.3 740,225.8 748,226.1 756,226.0 764,225.1 772,223.7 780,222.0 788,220.5 796,219.5 804,218.8 812,217.8 820,216.8 828,215.6 836,214.3 844,213.3 852,212.9 860,212.3 868,211.7 876,211.4 884,211.4 892,212.0 900,213.1 908,214.4 916,215.7 924,216.7 932,217.3 940,217.4 948,217.2 956,217.0 964,216.9 972,217.1 980,217.5 988,218.2 996,218.9 1004,219.5 1012,218.6 1020,217.0 1028,215.4 1036,213.7 1044,210.3 1052,206.7 1060,205.1 1068,204.9 L1068,330Z" fill="#be0000"/>
<path d="M60,330 L60,245.4 68,244.9 76,243.5 84,241.2 92,239.0 100,237.9 108,238.2 116,238.1 124,237.5 132,236.4 140,235.0 148,233.6 156,232.6 164,232.3 172,232.7 180,233.8 188,235.2 196,236.3 204,236.8 212,236.4 220,235.3 228,233.9 236,232.4 244,231.5 252,231.4 260,231.9 268,233.0 276,234.0 284,234.6 292,234.6 300,234.2 308,233.5 316,232.9 324,232.8 332,233.4 340,234.5 348,235.7 356,236.8 364,237.2 372,237.0 380,236.4 388,235.8 396,235.6 404,236.2 412,237.6 420,239.5 428,241.4 436,242.7 444,242.9 452,242.0 460,240.3 468,238.3 476,236.7 484,235.9 492,236.2 500,237.4 508,238.9 516,240.3 524,241.1 532,241.0 540,240.2 548,239.0 556,237.9 564,237.4 572,237.7 580,238.6 588,239.6 596,240.4 604,240.7 612,240.4 620,239.6 628,238.7 636,238.1 644,237.9 652,238.3 660,238.9 668,239.3 676,239.1 684,238.2 692,236.5 700,234.5 708,232.6 716,231.3 724,230.8 732,230.9 740,231.5 748,232.1 756,232.4 764,232.1 772,231.2 780,229.8 788,228.5 796,227.4 804,226.7 812,225.9 820,225.3 828,224.8 836,224.6 844,224.6 852,224.9 860,225.0 868,224.9 876,224.8 884,224.7 892,224.8 900,225.1 908,225.4 916,225.6 924,225.6 932,225.6 940,225.6 948,225.6 956,225.8 964,226.3 972,226.9 980,227.5 988,228.0 996,228.3 1004,228.3 1012,227.0 1020,225.1 1028,223.4 1036,221.9 1044,219.2 1052,216.4 1060,215.3 1068,215.5 L1068,330Z" fill="#950000"/>
<path d="M60,330 L60,249.5 68,248.4 76,247.5 84,246.8 92,246.9 100,247.9 108,249.7 116,251.1 124,251.8 132,251.5 140,250.2 148,248.5 156,246.8 164,245.5 172,245.0 180,245.3 188,246.2 196,247.2 204,247.9 212,248.0 220,247.6 228,246.8 236,246.0 244,245.5 252,245.7 260,246.4 268,247.3 276,248.1 284,248.3 292,248.0 300,247.1 308,246.0 316,245.3 324,245.2 332,245.9 340,247.1 348,248.5 356,249.6 364,249.8 372,249.2 380,248.0 388,246.5 396,245.5 404,245.3 412,246.1 420,247.6 428,249.5 436,251.0 444,251.9 452,251.9 460,251.2 468,250.2 476,249.4 484,249.3 492,249.8 500,250.7 508,251.7 516,252.1 524,251.6 532,250.2 540,248.1 548,246.0 556,244.6 564,244.2 572,245.1 580,246.9 588,249.1 596,251.1 604,252.3 612,252.4 620,251.6 628,250.2 636,248.7 644,247.6 652,247.0 660,246.9 668,247.1 676,247.3 684,247.1 692,246.5 700,245.7 708,244.8 716,244.3 724,244.1 732,244.5 740,245.2 748,245.8 756,246.2 764,246.2 772,245.9 780,245.4 788,245.1 796,245.2 804,246.0 812,247.2 820,248.6 828,249.9 836,250.6 844,250.7 852,250.1 860,248.9 868,247.7 876,246.6 884,245.9 892,245.7 900,246.1 908,246.7 916,247.4 924,248.2 932,248.8 940,249.4 948,249.8 956,250.3 964,250.9 972,251.4 980,251.9 988,252.2 996,252.3 1004,252.2 1012,251.8 1020,251.2 1028,250.4 1036,249.6 1044,248.7 1052,248.0 1060,247.4 1068,247.3 L1068,330Z" fill="#800000"/>
</g>
<rect x="858" y="186" width="7.5" height="13.5" fill="#8e0a0a"/><rect x="856.8" y="191" width="10" height="8" fill="#b01010" opacity="0.7"/>
</g>
<g clip-path="url(#pc)"><polygon points="99.9,290.0 99.9,284.0 101.5,274.0 103.4,262.5 106.5,255.0 109.7,247.3 111.5,237.0 113.5,225.5 115.5,221.5 118.0,219.0 121.0,217.6 124.0,217.0 134.0,216.2 144.2,215.7 160.0,215.5 177.8,215.7 190.0,216.6 204.8,217.9 216.0,218.3 228.4,219.0 238.0,220.6 245.0,221.5 255.0,222.6 267.0,223.4 280.0,222.8 292.0,222.1 306.0,221.4 320.7,221.2 327.0,222.4 334.2,224.1 351.0,226.8 367.8,229.2 384.7,231.3 398.0,233.2 404.0,233.6 406.5,232.0 408.2,230.2 410.0,231.8 413.0,232.4 420.0,233.5 435.2,237.2 440.0,237.6 446.7,238.3 452.0,240.4 456.8,243.1 460.5,244.3 463.6,245.9 465.6,248.0 467.0,251.0 468.4,257.0 469.5,264.2 470.2,274.0 470.8,284.0 470.8,290.0" fill="#b2b2b2" stroke="#fff" stroke-width="4.4" stroke-linejoin="round"/><polygon points="708.3,290.0 708.3,284.0 708.6,268.0 709.1,252.4 709.8,245.0 710.8,240.6 712.3,237.0 714.2,234.7 719.0,232.8 724.3,231.3 732.0,230.1 739.4,228.8 748.0,227.4 754.0,226.5 757.5,226.6 761.3,227.1 764.5,225.6 769.7,222.1 775.5,219.8 781.5,217.9 786.5,215.2 791.6,212.0 798.0,208.2 805.1,204.4 810.0,202.4 815.2,201.3 822.0,200.6 832.0,199.6 845.0,200.0 857.9,201.0 865.0,203.4 872.6,206.3 883.0,208.9 893.7,211.1 907.0,213.1 921.0,214.7 946.3,217.5 961.0,218.9 975.7,220.0 988.0,220.7 998.9,221.0 1004.0,220.6 1009.4,220.0 1012.5,221.6 1015.7,224.2 1018.4,226.9 1021.0,230.5 1022.2,236.0 1023.0,243.1 1024.2,254.0 1025.2,264.2 1026.8,274.0 1028.3,284.0 1028.3,290.0" fill="#b2b2b2" stroke="#fff" stroke-width="4.4" stroke-linejoin="round"/><polygon points="99.9,290.0 99.9,284.0 101.5,274.0 103.4,262.5 106.5,255.0 109.7,247.3 111.5,237.0 113.5,225.5 115.5,221.5 118.0,219.0 121.0,217.6 124.0,217.0 134.0,216.2 144.2,215.7 160.0,215.5 177.8,215.7 190.0,216.6 204.8,217.9 216.0,218.3 228.4,219.0 238.0,220.6 245.0,221.5 255.0,222.6 267.0,223.4 280.0,222.8 292.0,222.1 306.0,221.4 320.7,221.2 327.0,222.4 334.2,224.1 351.0,226.8 367.8,229.2 384.7,231.3 398.0,233.2 404.0,233.6 406.5,232.0 408.2,230.2 410.0,231.8 413.0,232.4 420.0,233.5 435.2,237.2 440.0,237.6 446.7,238.3 452.0,240.4 456.8,243.1 460.5,244.3 463.6,245.9 465.6,248.0 467.0,251.0 468.4,257.0 469.5,264.2 470.2,274.0 470.8,284.0 470.8,290.0" fill="#b2b2b2"/><polygon points="708.3,290.0 708.3,284.0 708.6,268.0 709.1,252.4 709.8,245.0 710.8,240.6 712.3,237.0 714.2,234.7 719.0,232.8 724.3,231.3 732.0,230.1 739.4,228.8 748.0,227.4 754.0,226.5 757.5,226.6 761.3,227.1 764.5,225.6 769.7,222.1 775.5,219.8 781.5,217.9 786.5,215.2 791.6,212.0 798.0,208.2 805.1,204.4 810.0,202.4 815.2,201.3 822.0,200.6 832.0,199.6 845.0,200.0 857.9,201.0 865.0,203.4 872.6,206.3 883.0,208.9 893.7,211.1 907.0,213.1 921.0,214.7 946.3,217.5 961.0,218.9 975.7,220.0 988.0,220.7 998.9,221.0 1004.0,220.6 1009.4,220.0 1012.5,221.6 1015.7,224.2 1018.4,226.9 1021.0,230.5 1022.2,236.0 1023.0,243.1 1024.2,254.0 1025.2,264.2 1026.8,274.0 1028.3,284.0 1028.3,290.0" fill="#b2b2b2"/></g>
</g>
<circle cx="71" cy="613.3" r="2.5" fill="#00f400"/>
<rect x="1055.2" y="610.9" width="3.8" height="3.8" fill="#f00"/>
<g stroke="#262626" stroke-width="1" fill="none" shape-rendering="crispEdges">
<path d="M70.5,608.0 V716.0 M1057.5,612.5 V711.5 M66.0,612.5 H1062.0 M70.5,711.5 H1057.5"/>
<path d="M216.5,612.5 v-4.5 M216.5,711.5 v4.5 M362.5,612.5 v-4.5 M362.5,711.5 v4.5 M507.5,612.5 v-4.5 M507.5,711.5 v4.5 M653.5,612.5 v-4.5 M653.5,711.5 v4.5 M799.5,612.5 v-4.5 M799.5,711.5 v4.5 M944.5,612.5 v-4.5 M944.5,711.5 v4.5 M70.5,661.5 h-4.5 M1057.5,661.5 h4.5 M70.5,710.5 h-4.5 M1057.5,710.5 h4.5 "/>
</g>
<text x="62.2" y="618.4" font-size="15.2" text-anchor="end" fill="#262626" textLength="7.9" lengthAdjust="spacingAndGlyphs">0</text>
<text x="62.2" y="666.9" font-size="15.2" text-anchor="end" fill="#262626" textLength="26.8" lengthAdjust="spacingAndGlyphs">100</text>
<text x="62.2" y="715.0" font-size="15.2" text-anchor="end" fill="#262626" textLength="26.8" lengthAdjust="spacingAndGlyphs">200</text>
<text transform="translate(27.3,662.0) rotate(-90)" font-size="15.2" text-anchor="middle" fill="#262626" textLength="75.6" lengthAdjust="spacingAndGlyphs">Depth (m)</text>
<polygon points="85.5,687.1 81.3,689.1 79.3,684.9 83.5,682.9" fill="none" stroke="#666" stroke-width="0.85" stroke-linejoin="round"/>
<text x="91.6" y="690.8" font-size="13.6" fill="#8c8c8c" textLength="7.2" lengthAdjust="spacingAndGlyphs">0</text>
<polygon points="87.6,662.6 83.4,664.6 81.4,660.4 85.6,658.4" fill="none" stroke="#666" stroke-width="0.85" stroke-linejoin="round"/>
<text x="93.7" y="666.3" font-size="13.6" fill="#8c8c8c" textLength="7.2" lengthAdjust="spacingAndGlyphs">1</text>
<polygon points="89.7,643.0 85.5,645.0 83.5,640.8 87.7,638.8" fill="none" stroke="#666" stroke-width="0.85" stroke-linejoin="round"/>
<text x="95.8" y="646.7" font-size="13.6" fill="#8c8c8c" textLength="7.2" lengthAdjust="spacingAndGlyphs">2</text>
<polygon points="90.6,623.9 86.4,625.9 84.4,621.7 88.6,619.7" fill="none" stroke="#666" stroke-width="0.85" stroke-linejoin="round"/>
<text x="96.7" y="627.6" font-size="13.6" fill="#8c8c8c" textLength="7.2" lengthAdjust="spacingAndGlyphs">3</text>
<polygon points="91.7,616.2 87.5,618.2 85.5,614.0 89.7,612.0" fill="none" stroke="#666" stroke-width="0.85" stroke-linejoin="round"/>
<text x="97.8" y="619.9" font-size="13.6" fill="#8c8c8c" textLength="7.2" lengthAdjust="spacingAndGlyphs">4</text>
<polygon points="152.0,616.2 147.8,618.2 145.8,614.0 150.0,612.0" fill="none" stroke="#666" stroke-width="0.85" stroke-linejoin="round"/>
<text x="157.5" y="619.9" font-size="13.6" fill="#8c8c8c" textLength="7.2" lengthAdjust="spacingAndGlyphs">5</text>
<polygon points="211.4,616.2 207.2,618.2 205.2,614.0 209.4,612.0" fill="none" stroke="#666" stroke-width="0.85" stroke-linejoin="round"/>
<text x="216.9" y="619.9" font-size="13.6" fill="#8c8c8c" textLength="7.2" lengthAdjust="spacingAndGlyphs">6</text>
<polygon points="268.2,616.2 264.0,618.2 262.0,614.0 266.2,612.0" fill="none" stroke="#666" stroke-width="0.85" stroke-linejoin="round"/>
<text x="273.7" y="619.9" font-size="13.6" fill="#8c8c8c" textLength="7.2" lengthAdjust="spacingAndGlyphs">7</text>
<polygon points="327.1,616.2 322.9,618.2 320.9,614.0 325.1,612.0" fill="none" stroke="#666" stroke-width="0.85" stroke-linejoin="round"/>
<text x="332.6" y="619.9" font-size="13.6" fill="#8c8c8c" textLength="7.2" lengthAdjust="spacingAndGlyphs">8</text>
<polygon points="388.1,616.2 383.9,618.2 381.9,614.0 386.1,612.0" fill="none" stroke="#666" stroke-width="0.85" stroke-linejoin="round"/>
<text x="393.6" y="619.9" font-size="13.6" fill="#8c8c8c" textLength="7.2" lengthAdjust="spacingAndGlyphs">9</text>
<polygon points="446.2,616.2 442.0,618.2 440.0,614.0 444.2,612.0" fill="none" stroke="#666" stroke-width="0.85" stroke-linejoin="round"/>
<text x="451.7" y="619.9" font-size="13.6" fill="#8c8c8c" textLength="15.5" lengthAdjust="spacingAndGlyphs">10</text>
<polygon points="507.7,616.2 503.5,618.2 501.5,614.0 505.7,612.0" fill="none" stroke="#666" stroke-width="0.85" stroke-linejoin="round"/>
<text x="513.2" y="619.9" font-size="13.6" fill="#8c8c8c" textLength="15.5" lengthAdjust="spacingAndGlyphs">11</text>
<polygon points="565.3,613.6 561.1,615.6 559.1,611.4 563.3,609.4" fill="none" stroke="#000" stroke-width="1.10" stroke-linejoin="round"/>
<text x="570.8" y="617.3" font-size="13.6" fill="#000" textLength="15.5" lengthAdjust="spacingAndGlyphs">12</text>
<polygon points="651.7,613.3 647.5,615.3 645.5,611.1 649.7,609.1" fill="none" stroke="#000" stroke-width="1.10" stroke-linejoin="round"/>
<text x="657.2" y="617.0" font-size="13.6" fill="#000" textLength="15.5" lengthAdjust="spacingAndGlyphs">13</text>
<polygon points="715.7,616.2 711.5,618.2 709.5,614.0 713.7,612.0" fill="none" stroke="#666" stroke-width="0.85" stroke-linejoin="round"/>
<text x="721.2" y="619.9" font-size="13.6" fill="#8c8c8c" textLength="15.5" lengthAdjust="spacingAndGlyphs">14</text>
<polygon points="779.2,613.6 775.0,615.6 773.0,611.4 777.2,609.4" fill="none" stroke="#000" stroke-width="1.10" stroke-linejoin="round"/>
<text x="784.7" y="617.3" font-size="13.6" fill="#000" textLength="15.5" lengthAdjust="spacingAndGlyphs">15</text>
<polygon points="832.3,614.2 828.1,616.2 826.1,612.0 830.3,610.0" fill="none" stroke="#000" stroke-width="1.10" stroke-linejoin="round"/>
<text x="837.8" y="617.9" font-size="13.6" fill="#000" textLength="15.5" lengthAdjust="spacingAndGlyphs">16</text>
<polygon points="882.8,613.6 878.6,615.6 876.6,611.4 880.8,609.4" fill="none" stroke="#000" stroke-width="1.10" stroke-linejoin="round"/>
<text x="888.3" y="617.3" font-size="13.6" fill="#000" textLength="15.5" lengthAdjust="spacingAndGlyphs">17</text>
<polygon points="945.9,616.2 941.7,618.2 939.7,614.0 943.9,612.0" fill="none" stroke="#666" stroke-width="0.85" stroke-linejoin="round"/>
<text x="951.4" y="619.9" font-size="13.6" fill="#8c8c8c" textLength="15.5" lengthAdjust="spacingAndGlyphs">18</text>
<polygon points="1001.5,613.6 997.3,615.6 995.3,611.4 999.5,609.4" fill="none" stroke="#000" stroke-width="1.10" stroke-linejoin="round"/>
<text x="1007.0" y="617.3" font-size="13.6" fill="#000" textLength="15.5" lengthAdjust="spacingAndGlyphs">19</text>
<text x="564.0" y="606.7" font-size="14.4" text-anchor="middle" font-weight="bold" fill="#000" textLength="60.0" lengthAdjust="spacingAndGlyphs">Nitrate</text>
<rect x="1093.5" y="612.5" width="20" height="99.0" fill="url(#cb)" stroke="#262626" stroke-width="1" shape-rendering="crispEdges"/>
<text x="1121.5" y="614.6" font-size="9.6" fill="#262626" textLength="10.7" lengthAdjust="spacingAndGlyphs">30</text>
<text x="1121.5" y="648.3" font-size="9.6" fill="#262626" textLength="10.7" lengthAdjust="spacingAndGlyphs">20</text>
<text x="1121.5" y="680.9" font-size="9.6" fill="#262626" textLength="10.7" lengthAdjust="spacingAndGlyphs">10</text>
<text x="1121.5" y="713.6" font-size="9.6" fill="#262626" textLength="5.2" lengthAdjust="spacingAndGlyphs">0</text>
<g transform="translate(1150.3,662.0) rotate(-90)"><text font-size="9.3" text-anchor="middle" fill="#262626" textLength="12.5" lengthAdjust="spacingAndGlyphs">μM</text></g>
<!-- panel 4 -->
<g transform="translate(0,570)">
<g clip-path="url(#env)"><g filter="url(#vb)">
<rect x="60" y="150" width="1010" height="170" fill="#17ffe8"/>
<path d="M60,330 L60,165.1 68,165.0 76,165.0 84,164.9 92,164.9 100,164.8 108,164.8 116,164.8 124,164.8 132,164.9 140,165.0 148,165.1 156,165.2 164,165.2 172,165.2 180,165.2 188,165.1 196,165.0 204,165.0 212,165.0 220,164.9 228,164.9 236,164.9 244,164.9 252,165.0 260,165.0 268,165.1 276,165.2 284,165.3 292,165.4 300,165.5 308,165.5 316,165.4 324,165.3 332,165.2 340,165.1 348,165.1 356,165.1 364,165.2 372,165.2 380,165.2 388,165.2 396,165.1 404,164.9 412,164.8 420,164.7 428,164.8 436,164.9 444,165.0 452,165.0 460,165.0 468,164.9 476,164.6 484,164.4 492,164.1 500,163.9 508,163.7 516,163.5 524,163.3 532,163.0 540,162.6 548,162.1 556,161.6 564,161.1 572,160.7 580,160.5 588,160.3 596,160.2 604,160.0 612,159.7 620,159.3 628,158.8 636,158.4 644,158.0 652,157.7 660,157.7 668,157.8 676,157.9 684,158.1 692,158.2 700,158.2 708,158.1 716,157.9 724,157.7 732,157.6 740,157.6 748,157.7 756,158.0 764,158.3 772,158.6 780,158.8 788,159.0 796,159.2 804,159.3 812,159.6 820,159.9 828,160.1 836,160.4 844,160.5 852,161.0 860,161.6 868,162.4 876,163.1 884,163.8 892,164.1 900,164.4 908,164.7 916,165.0 924,165.2 932,165.3 940,165.4 948,165.3 956,165.1 964,165.1 972,165.0 980,165.0 988,165.0 996,165.0 1004,165.0 1012,164.8 1020,164.6 1028,164.4 1036,164.2 1044,163.7 1052,163.2 1060,163.0 1068,163.1 L1068,330Z" fill="#00f8ff"/>
<path d="M60,330 L60,192.3 68,192.3 76,192.4 84,192.4 92,192.4 100,192.3 108,192.2 116,192.0 124,192.0 132,192.0 140,192.1 148,192.2 156,192.3 164,192.2 172,192.1 180,192.0 188,191.8 196,191.8 204,191.8 212,191.9 220,192.0 228,192.1 236,192.1 244,192.1 252,192.1 260,192.2 268,192.3 276,192.6 284,193.0 292,193.4 300,193.6 308,193.7 316,193.6 324,193.3 332,192.9 340,192.6 348,192.3 356,192.2 364,192.3 372,192.4 380,192.4 388,192.3 396,192.1 404,191.8 412,191.5 420,191.3 428,191.3 436,191.5 444,191.7 452,191.9 460,192.0 468,191.9 476,191.6 484,191.1 492,190.6 500,190.3 508,190.1 516,189.6 524,189.1 532,188.5 540,187.7 548,186.7 556,185.6 564,184.7 572,183.9 580,183.3 588,182.9 596,182.4 604,181.8 612,181.1 620,180.3 628,179.6 636,178.9 644,178.3 652,178.0 660,178.1 668,178.3 676,178.5 684,178.7 692,178.8 700,178.7 708,178.6 716,178.4 724,178.1 732,178.1 740,178.3 748,178.6 756,179.0 764,179.4 772,179.9 780,180.2 788,180.4 796,180.5 804,180.7 812,181.0 820,181.6 828,182.2 836,182.7 844,183.2 852,184.3 860,185.8 868,187.4 876,188.9 884,190.1 892,190.6 900,191.1 908,191.7 916,192.3 924,192.8 932,193.1 940,193.2 948,193.0 956,192.8 964,192.6 972,192.5 980,192.4 988,192.4 996,192.3 1004,192.1 1012,191.6 1020,191.0 1028,190.4 1036,190.0 1044,189.1 1052,188.3 1060,188.1 1068,188.4 L1068,330Z" fill="#00e4ff"/>
<path d="M60,330 L60,193.6 68,193.5 76,193.4 84,193.3 92,193.1 100,192.8 108,192.5 116,192.4 124,192.4 132,192.5 140,192.7 148,192.9 156,193.0 164,193.0 172,192.8 180,192.5 188,192.3 196,192.1 204,192.0 212,192.1 220,192.2 228,192.3 236,192.3 244,192.3 252,192.3 260,192.4 268,192.5 276,192.8 284,193.1 292,193.5 300,193.8 308,194.0 316,194.0 324,193.8 332,193.6 340,193.3 348,193.1 356,193.1 364,193.1 372,193.3 380,193.4 388,193.3 396,193.2 404,193.0 412,192.8 420,192.6 428,192.7 436,192.8 444,192.9 452,193.0 460,192.9 468,192.6 476,192.2 484,191.6 492,191.2 500,191.0 508,190.9 516,190.8 524,190.6 532,190.2 540,189.7 548,188.9 556,188.1 564,187.2 572,186.4 580,185.9 588,185.6 596,185.2 604,184.8 612,184.2 620,183.6 628,183.0 636,182.4 644,181.9 652,181.6 660,181.6 668,181.7 676,181.9 684,182.0 692,182.0 700,182.0 708,181.9 716,181.8 724,181.7 732,181.6 740,181.8 748,182.0 756,182.3 764,182.6 772,182.9 780,183.1 788,183.2 796,183.2 804,183.3 812,183.6 820,184.0 828,184.4 836,184.7 844,185.0 852,186.0 860,187.2 868,188.3 876,189.4 884,190.3 892,190.6 900,191.1 908,191.6 916,192.2 924,192.7 932,193.0 940,193.0 948,192.9 956,192.7 964,192.6 972,192.6 980,192.8 988,193.0 996,193.1 1004,193.0 1012,192.6 1020,191.9 1028,191.3 1036,190.7 1044,189.6 1052,188.6 1060,188.3 1068,188.5 L1068,330Z" fill="#00d0ff"/>
<path d="M60,330 L60,193.3 68,193.2 76,193.1 84,193.0 92,193.0 100,192.9 108,192.8 116,192.9 124,193.1 132,193.4 140,193.7 148,194.0 156,194.1 164,194.0 172,193.8 180,193.5 188,193.2 196,192.9 204,192.8 212,192.8 220,192.9 228,193.0 236,193.0 244,192.9 252,192.8 260,192.8 268,192.8 276,193.0 284,193.3 292,193.6 300,194.0 308,194.3 316,194.4 324,194.3 332,194.2 340,194.0 348,193.9 356,193.9 364,194.0 372,194.1 380,194.1 388,194.0 396,193.8 404,193.6 412,193.3 420,193.2 428,193.2 436,193.4 444,193.7 452,193.8 460,193.8 468,193.6 476,193.2 484,192.7 492,192.2 500,191.9 508,191.8 516,191.7 524,191.7 532,191.5 540,191.2 548,190.8 556,190.2 564,189.6 572,189.0 580,188.7 588,188.5 596,188.2 604,187.9 612,187.5 620,187.0 628,186.5 636,185.9 644,185.5 652,185.3 660,185.4 668,185.5 676,185.7 684,185.8 692,185.9 700,185.8 708,185.7 716,185.5 724,185.3 732,185.1 740,185.1 748,184.9 756,185.0 764,185.2 772,185.3 780,185.4 788,185.4 796,185.4 804,185.4 812,185.6 820,185.8 828,186.1 836,186.4 844,186.6 852,187.4 860,188.3 868,189.3 876,190.3 884,191.1 892,191.6 900,192.2 908,192.9 916,193.5 924,194.1 932,194.3 940,194.3 948,194.0 956,193.6 964,193.2 972,193.1 980,193.0 988,193.1 996,193.1 1004,193.0 1012,192.5 1020,191.8 1028,191.2 1036,190.7 1044,189.6 1052,188.7 1060,188.4 1068,188.7 L1068,330Z" fill="#00bcff"/>
<path d="M60,330 L60,195.0 68,194.7 76,194.3 84,193.9 92,193.4 100,193.0 108,192.7 116,192.6 124,192.6 132,192.9 140,193.3 148,193.6 156,193.9 164,194.0 172,194.0 180,193.8 188,193.7 196,193.6 204,193.5 212,193.6 220,193.6 228,193.7 236,193.7 244,193.6 252,193.5 260,193.5 268,193.6 276,193.8 284,194.2 292,194.7 300,195.1 308,195.5 316,195.6 324,195.5 332,195.2 340,194.9 348,194.6 356,194.3 364,194.1 372,193.9 380,193.7 388,193.5 396,193.3 404,193.0 412,192.9 420,193.0 428,193.4 436,194.0 444,194.6 452,195.2 460,195.6 468,195.6 476,195.4 484,194.9 492,194.4 500,193.9 508,193.7 516,193.4 524,193.2 532,193.0 540,192.7 548,192.4 556,191.9 564,191.5 572,191.2 580,191.0 588,191.0 596,191.1 604,191.0 612,190.8 620,190.5 628,190.0 636,189.5 644,189.0 652,188.7 660,188.7 668,188.9 676,189.1 684,189.3 692,189.4 700,189.4 708,189.2 716,188.9 724,188.6 732,188.5 740,188.4 748,188.5 756,188.7 764,188.8 772,188.9 780,188.7 788,188.5 796,188.2 804,188.0 812,187.8 820,187.7 828,187.7 836,187.7 844,187.7 852,188.2 860,188.9 868,189.7 876,190.6 884,191.3 892,191.9 900,192.7 908,193.5 916,194.3 924,194.9 932,195.1 940,195.1 948,194.7 956,194.2 964,193.8 972,193.6 980,193.6 988,193.6 996,193.7 1004,193.6 1012,193.2 1020,192.5 1028,191.9 1036,191.4 1044,190.3 1052,189.2 1060,188.9 1068,189.0 L1068,330Z" fill="#00a8ff"/>
<path d="M60,330 L60,195.2 68,195.1 76,194.7 84,194.2 92,193.7 100,193.3 108,193.0 116,193.0 124,193.2 132,193.5 140,193.9 148,194.1 156,194.3 164,194.2 172,194.1 180,194.0 188,193.9 196,194.0 204,194.2 212,194.4 220,194.6 228,194.7 236,194.6 244,194.4 252,194.2 260,194.1 268,194.1 276,194.4 284,194.8 292,195.2 300,195.6 308,195.8 316,195.8 324,195.7 332,195.5 340,195.4 348,195.3 356,195.4 364,195.5 372,195.6 380,195.6 388,195.3 396,195.0 404,194.6 412,194.4 420,194.4 428,194.6 436,195.1 444,195.6 452,196.0 460,196.1 468,196.0 476,195.5 484,194.9 492,194.4 500,194.1 508,194.1 516,194.3 524,194.5 532,194.6 540,194.6 548,194.4 556,194.1 564,193.8 572,193.6 580,193.5 588,193.7 596,193.9 604,193.9 612,193.8 620,193.4 628,192.9 636,192.3 644,191.9 652,191.8 660,192.0 668,192.4 676,192.8 684,193.2 692,193.3 700,193.2 708,192.8 716,192.3 724,191.9 732,191.6 740,191.5 748,191.5 756,191.6 764,191.7 772,191.5 780,191.2 788,190.9 796,190.5 804,190.3 812,190.2 820,190.2 828,190.2 836,190.2 844,190.1 852,190.5 860,190.9 868,191.3 876,191.7 884,192.2 892,192.6 900,193.2 908,194.0 916,194.6 924,195.0 932,195.0 940,194.8 948,194.3 956,193.8 964,193.6 972,193.6 980,193.8 988,194.1 996,194.3 1004,194.3 1012,193.8 1020,193.0 1028,192.3 1036,191.6 1044,190.5 1052,189.4 1060,189.1 1068,189.3 L1068,330Z" fill="#0094ff"/>
<path d="M60,330 L60,195.3 68,195.5 76,195.6 84,195.6 92,195.5 100,195.2 108,194.9 116,194.7 124,194.8 132,195.0 140,195.4 148,195.8 156,195.9 164,195.8 172,195.4 180,194.9 188,194.3 196,194.0 204,193.9 212,194.2 220,194.6 228,195.0 236,195.4 244,195.4 252,195.4 260,195.2 268,195.1 276,195.3 284,195.6 292,196.1 300,196.7 308,197.0 316,197.1 324,196.9 332,196.4 340,195.9 348,195.6 356,195.5 364,195.7 372,196.0 380,196.3 388,196.4 396,196.3 404,195.9 412,195.6 420,195.4 428,195.5 436,195.9 444,196.5 452,197.2 460,197.6 468,197.6 476,197.2 484,196.6 492,196.0 500,195.6 508,195.6 516,195.9 524,196.4 532,197.0 540,197.3 548,197.3 556,196.9 564,196.4 572,195.9 580,195.6 588,195.6 596,195.8 604,195.9 612,195.9 620,195.6 628,195.2 636,194.6 644,194.1 652,194.0 660,194.2 668,194.8 676,195.5 684,196.1 692,196.4 700,196.2 708,195.6 716,194.7 724,193.9 732,193.2 740,192.8 748,192.6 756,192.7 764,192.7 772,192.5 780,192.2 788,191.8 796,191.4 804,191.1 812,191.0 820,191.0 828,191.1 836,191.2 844,191.2 852,191.6 860,191.9 868,192.1 876,192.3 884,192.6 892,193.0 900,193.6 908,194.4 916,195.1 924,195.5 932,195.5 940,195.2 948,194.7 956,194.1 964,193.9 972,194.0 980,194.4 988,194.9 996,195.3 1004,195.4 1012,194.8 1020,194.0 1028,193.2 1036,192.5 1044,191.3 1052,190.2 1060,190.0 1068,190.2 L1068,330Z" fill="#0081ff"/>
<path d="M60,330 L60,196.2 68,196.3 76,196.3 84,196.1 92,195.8 100,195.3 108,194.9 116,194.6 124,194.7 132,195.1 140,195.7 148,196.3 156,196.6 164,196.6 172,196.3 180,195.9 188,195.6 196,195.5 204,195.6 212,196.0 220,196.5 228,196.8 236,196.9 244,196.8 252,196.5 260,196.2 268,196.1 276,196.3 284,196.7 292,197.1 300,197.5 308,197.7 316,197.6 324,197.3 332,196.9 340,196.5 348,196.4 356,196.5 364,196.8 372,197.1 380,197.3 388,197.2 396,197.0 404,196.7 412,196.4 420,196.5 428,196.8 436,197.4 444,198.0 452,198.5 460,198.8 468,198.6 476,198.2 484,197.7 492,197.4 500,197.3 508,197.5 516,197.9 524,198.4 532,198.9 540,199.1 548,199.1 556,199.0 564,198.8 572,198.6 580,198.6 588,198.7 596,198.7 604,198.6 612,198.3 620,197.9 628,197.3 636,196.7 644,196.4 652,196.3 660,196.5 668,196.9 676,197.3 684,197.5 692,197.5 700,197.1 708,196.5 716,195.9 724,195.3 732,194.8 740,194.5 748,194.4 756,194.4 764,194.3 772,194.2 780,194.0 788,193.8 796,193.6 804,193.4 812,193.2 820,192.9 828,192.5 836,192.2 844,192.0 852,192.1 860,192.3 868,192.6 876,192.8 884,193.1 892,193.4 900,194.0 908,194.7 916,195.4 924,195.9 932,196.1 940,196.1 948,195.8 956,195.4 964,195.2 972,195.2 980,195.3 988,195.4 996,195.5 1004,195.4 1012,194.8 1020,194.0 1028,193.2 1036,192.6 1044,191.3 1052,190.1 1060,189.7 1068,190.0 L1068,330Z" fill="#006dff"/>
<path d="M60,330 L60,198.1 68,197.8 76,197.4 84,197.0 92,196.7 100,196.7 108,196.7 116,196.9 124,197.1 132,197.3 140,197.3 148,197.3 156,197.2 164,197.0 172,196.9 180,196.8 188,196.8 196,196.8 204,196.7 212,196.7 220,196.6 228,196.5 236,196.4 244,196.4 252,196.5 260,196.7 268,197.0 276,197.2 284,197.4 292,197.6 300,197.7 308,197.8 316,197.8 324,197.9 332,198.0 340,198.2 348,198.3 356,198.4 364,198.4 372,198.4 380,198.3 388,198.3 396,198.3 404,198.3 412,198.5 420,198.7 428,199.0 436,199.3 444,199.5 452,199.6 460,199.6 468,199.5 476,199.4 484,199.2 492,199.0 500,199.0 508,199.0 516,199.2 524,199.4 532,199.7 540,200.1 548,200.4 556,200.7 564,201.0 572,201.1 580,201.2 588,201.1 596,201.0 604,200.7 612,200.4 620,200.0 628,199.7 636,199.4 644,199.3 652,199.4 660,199.5 668,199.6 676,199.7 684,199.6 692,199.4 700,199.0 708,198.5 716,197.9 724,197.4 732,196.8 740,196.3 748,195.8 756,195.5 764,195.3 772,195.1 780,195.0 788,195.0 796,195.0 804,194.9 812,194.5 820,193.9 828,193.3 836,192.8 844,192.5 852,192.7 860,193.0 868,193.4 876,193.7 884,194.0 892,194.4 900,194.8 908,195.4 916,196.0 924,196.5 932,196.9 940,197.2 948,197.1 956,196.9 964,196.6 972,196.4 980,196.2 988,196.1 996,196.1 1004,196.0 1012,195.5 1020,194.7 1028,194.0 1036,193.3 1044,191.9 1052,190.4 1060,189.7 1068,189.8 L1068,330Z" fill="#0059ff"/>
<path d="M60,330 L60,198.9 68,198.8 76,198.5 84,198.0 92,197.6 100,197.1 108,196.7 116,196.4 124,196.4 132,196.5 140,196.8 148,197.1 156,197.4 164,197.5 172,197.5 180,197.5 188,197.6 196,197.7 204,197.9 212,198.1 220,198.4 228,198.5 236,198.5 244,198.4 252,198.1 260,197.8 268,197.7 276,197.8 284,198.0 292,198.4 300,198.9 308,199.3 316,199.6 324,199.7 332,199.7 340,199.5 348,199.4 356,199.4 364,199.4 372,199.4 380,199.3 388,199.2 396,199.0 404,198.7 412,198.6 420,198.7 428,199.2 436,199.8 444,200.6 452,201.4 460,201.9 468,202.1 476,202.0 484,201.5 492,201.0 500,200.6 508,200.4 516,200.5 524,200.9 532,201.4 540,201.8 548,202.1 556,202.2 564,202.2 572,202.2 580,202.3 588,202.4 596,202.6 604,202.7 612,202.7 620,202.5 628,202.1 636,201.6 644,201.3 652,201.2 660,201.3 668,201.7 676,202.1 684,202.4 692,202.4 700,202.0 708,201.2 716,200.3 724,199.5 732,198.8 740,198.3 748,198.1 756,198.0 764,197.9 772,197.8 780,197.5 788,197.1 796,196.7 804,196.3 812,195.6 820,194.8 828,194.1 836,193.4 844,192.9 852,192.9 860,192.9 868,192.9 876,193.0 884,193.3 892,193.8 900,194.7 908,195.8 916,196.9 924,197.7 932,198.2 940,198.3 948,198.0 956,197.5 964,197.1 972,196.9 980,196.8 988,196.9 996,196.9 1004,196.9 1012,196.2 1020,195.3 1028,194.5 1036,193.8 1044,192.5 1052,191.1 1060,190.7 1068,190.9 L1068,330Z" fill="#0045ff"/>
<path d="M60,330 L60,199.8 68,199.8 76,199.7 84,199.4 92,199.1 100,198.9 108,198.7 116,198.6 124,198.7 132,199.0 140,199.3 148,199.5 156,199.6 164,199.5 172,199.3 180,198.9 188,198.7 196,198.5 204,198.6 212,198.8 220,199.2 228,199.5 236,199.8 244,199.9 252,200.0 260,200.1 268,200.3 276,200.6 284,200.9 292,201.4 300,201.8 308,202.1 316,202.2 324,202.0 332,201.7 340,201.4 348,201.2 356,201.1 364,201.1 372,201.1 380,201.2 388,201.2 396,201.1 404,200.9 412,200.7 420,200.8 428,201.1 436,201.6 444,202.3 452,202.9 460,203.4 468,203.6 476,203.4 484,203.1 492,202.7 500,202.6 508,202.7 516,203.1 524,203.8 532,204.6 540,205.2 548,205.6 556,205.8 564,205.7 572,205.6 580,205.6 588,205.6 596,205.6 604,205.7 612,205.7 620,205.5 628,205.1 636,204.7 644,204.4 652,204.5 660,204.7 668,205.2 676,205.8 684,206.1 692,206.1 700,205.6 708,204.7 716,203.6 724,202.5 732,201.6 740,200.8 748,200.3 756,199.9 764,199.6 772,199.2 780,198.7 788,198.1 796,197.6 804,197.1 812,196.4 820,195.6 828,194.9 836,194.3 844,193.9 852,194.0 860,194.1 868,194.2 876,194.3 884,194.5 892,194.9 900,195.7 908,196.6 916,197.6 924,198.3 932,198.7 940,198.8 948,198.5 956,198.1 964,197.8 972,197.8 980,197.9 988,198.2 996,198.4 1004,198.4 1012,197.6 1020,196.6 1028,195.6 1036,194.8 1044,193.3 1052,191.8 1060,191.4 1068,191.7 L1068,330Z" fill="#0031ff"/>
<path d="M60,330 L60,202.6 68,202.7 76,202.5 84,202.2 92,201.7 100,201.2 108,200.7 116,200.4 124,200.4 132,200.7 140,201.1 148,201.5 156,201.9 164,202.0 172,202.0 180,201.7 188,201.5 196,201.2 204,201.1 212,201.1 220,201.2 228,201.3 236,201.4 244,201.4 252,201.5 260,201.6 268,201.8 276,202.2 284,202.8 292,203.3 300,203.9 308,204.2 316,204.4 324,204.4 332,204.2 340,204.1 348,204.1 356,204.2 364,204.5 372,204.9 380,205.2 388,205.4 396,205.2 404,204.9 412,204.6 420,204.5 428,204.6 436,205.1 444,205.8 452,206.6 460,207.4 468,208.0 476,208.1 484,208.1 492,207.9 500,207.7 508,207.7 516,207.8 524,208.2 532,208.5 540,208.7 548,208.8 556,208.7 564,208.6 572,208.6 580,208.8 588,209.2 596,209.6 604,210.0 612,210.1 620,209.9 628,209.3 636,208.6 644,208.0 652,207.6 660,207.6 668,207.9 676,208.3 684,208.5 692,208.4 700,207.8 708,206.8 716,205.6 724,204.4 732,203.4 740,202.5 748,202.0 756,201.7 764,201.5 772,201.3 780,201.0 788,200.6 796,200.3 804,200.0 812,199.3 820,198.3 828,197.4 836,196.4 844,195.8 852,195.7 860,195.6 868,195.5 876,195.6 884,195.8 892,196.3 900,197.2 908,198.3 916,199.4 924,200.2 932,200.7 940,200.6 948,200.2 956,199.6 964,199.2 972,199.1 980,199.3 988,199.7 996,200.1 1004,200.4 1012,199.8 1020,198.8 1028,197.8 1036,196.9 1044,195.0 1052,193.1 1060,192.4 1068,192.4 L1068,330Z" fill="#001dff"/>
<path d="M60,330 L60,204.7 68,204.4 76,204.0 84,203.5 92,203.0 100,202.5 108,202.4 116,202.5 124,203.0 132,203.7 140,204.3 148,204.8 156,204.9 164,204.6 172,204.1 180,203.4 188,202.8 196,202.4 204,202.4 212,202.8 220,203.3 228,203.9 236,204.4 244,204.7 252,204.7 260,204.6 268,204.6 276,204.7 284,205.0 292,205.5 300,206.1 308,206.6 316,206.9 324,207.0 332,206.9 340,206.7 348,206.6 356,206.7 364,206.9 372,207.4 380,207.9 388,208.4 396,208.7 404,208.9 412,208.9 420,209.0 428,209.3 436,209.7 444,210.2 452,210.8 460,211.3 468,211.5 476,211.4 484,211.1 492,210.7 500,210.4 508,210.4 516,210.7 524,211.2 532,211.9 540,212.6 548,213.2 556,213.6 564,213.9 572,214.1 580,214.4 588,214.5 596,214.5 604,214.3 612,213.8 620,213.0 628,212.1 636,211.2 644,210.5 652,210.4 660,210.6 668,211.0 676,211.4 684,211.6 692,211.4 700,210.6 708,209.6 716,208.4 724,207.4 732,206.7 740,206.1 748,205.6 756,205.2 764,204.7 772,204.0 780,203.1 788,202.1 796,201.4 804,200.7 812,199.9 820,199.1 828,198.3 836,197.7 844,197.3 852,197.6 860,197.6 868,197.6 876,197.5 884,197.5 892,197.7 900,198.4 908,199.3 916,200.3 924,201.2 932,201.7 940,201.9 948,201.6 956,201.3 964,201.3 972,201.6 980,202.1 988,202.7 996,203.1 1004,203.2 1012,202.1 1020,200.3 1028,198.6 1036,197.1 1044,194.9 1052,192.9 1060,192.2 1068,192.5 L1068,330Z" fill="#0009ff"/>
<path d="M60,330 L60,207.0 68,206.3 76,205.7 84,205.1 92,204.6 100,204.4 108,204.4 116,204.8 124,205.4 132,206.2 140,206.9 148,207.4 156,207.6 164,207.3 172,206.7 180,206.0 188,205.2 196,204.7 204,204.4 212,204.5 220,204.9 228,205.4 236,206.0 244,206.5 252,206.9 260,207.3 268,207.7 276,208.1 284,208.5 292,208.9 300,209.2 308,209.4 316,209.4 324,209.1 332,208.9 340,208.7 348,208.8 356,209.2 364,209.8 372,210.7 380,211.5 388,212.2 396,212.6 404,212.7 412,212.7 420,212.8 428,213.0 436,213.4 444,213.9 452,214.5 460,214.8 468,214.9 476,214.6 484,214.2 492,213.8 500,213.7 508,214.1 516,214.8 524,215.9 532,216.9 540,217.8 548,218.2 556,218.2 564,218.0 572,217.8 580,217.6 588,217.6 596,217.6 604,217.6 612,217.3 620,216.8 628,216.1 636,215.2 644,214.5 652,214.2 660,214.2 668,214.5 676,214.8 684,214.9 692,214.6 700,213.8 708,212.6 716,211.3 724,210.1 732,209.1 740,208.3 748,207.8 756,207.4 764,206.9 772,206.3 780,205.6 788,204.7 796,203.9 804,203.2 812,202.1 820,200.8 828,199.7 836,198.7 844,198.1 852,198.4 860,198.7 868,198.8 876,199.0 884,199.1 892,199.5 900,200.2 908,201.1 916,202.1 924,202.9 932,203.4 940,203.6 948,203.4 956,203.2 964,203.2 972,203.5 980,204.0 988,204.5 996,204.8 1004,204.8 1012,203.5 1020,201.7 1028,200.0 1036,198.6 1044,196.4 1052,194.3 1060,193.6 1068,193.9 L1068,330Z" fill="#0000f4"/>
<path d="M60,330 L60,210.3 68,209.9 76,209.4 84,208.9 92,208.4 100,208.0 108,207.7 116,207.8 124,208.2 132,208.8 140,209.4 148,209.9 156,210.2 164,210.2 172,209.8 180,209.3 188,208.9 196,208.6 204,208.5 212,208.7 220,209.0 228,209.5 236,209.8 244,209.9 252,209.9 260,209.9 268,209.9 276,210.1 284,210.4 292,210.8 300,211.3 308,211.8 316,212.1 324,212.2 332,212.2 340,212.3 348,212.6 356,213.1 364,213.6 372,214.3 380,214.9 388,215.2 396,215.3 404,215.2 412,215.0 420,215.1 428,215.5 436,216.3 444,217.3 452,218.4 460,219.4 468,220.0 476,220.2 484,220.0 492,219.8 500,219.7 508,219.9 516,220.4 524,221.1 532,221.9 540,222.4 548,222.6 556,222.5 564,222.1 572,221.9 580,221.8 588,221.9 596,222.1 604,222.3 612,222.2 620,221.7 628,220.8 636,219.8 644,218.9 652,218.3 660,218.1 668,218.1 676,218.2 684,218.2 692,217.7 700,216.8 708,215.5 716,214.1 724,212.8 732,211.9 740,211.2 748,210.8 756,210.6 764,210.3 772,209.9 780,209.2 788,208.3 796,207.6 804,206.8 812,205.6 820,204.2 828,202.9 836,201.7 844,201.0 852,201.3 860,201.5 868,201.5 876,201.6 884,201.7 892,202.1 900,203.0 908,204.2 916,205.3 924,206.3 932,207.0 940,207.2 948,207.0 956,206.7 964,206.6 972,206.7 980,207.0 988,207.4 996,207.6 1004,207.4 1012,205.9 1020,203.9 1028,202.1 1036,200.7 1044,198.5 1052,196.4 1060,195.8 1068,196.3 L1068,330Z" fill="#0000e0"/>
<path d="M60,330 L60,213.0 68,213.1 76,213.1 84,213.0 92,212.6 100,211.8 108,210.9 116,210.1 124,209.7 132,209.9 140,210.7 148,211.8 156,213.0 164,213.6 172,213.7 180,213.0 188,211.9 196,210.7 204,209.7 212,209.3 220,209.6 228,210.6 236,211.8 244,213.0 252,213.8 260,214.2 268,214.2 276,214.0 284,213.8 292,213.9 300,214.5 308,215.3 316,216.2 324,217.0 332,217.3 340,217.3 348,216.9 356,216.4 364,216.0 372,216.1 380,216.8 388,217.9 396,219.2 404,220.4 412,221.4 420,221.9 428,221.9 436,221.6 444,221.2 452,221.0 460,221.1 468,221.4 476,222.0 484,222.6 492,223.1 500,223.6 508,223.9 516,224.1 524,224.4 532,224.8 540,225.4 548,226.1 556,226.9 564,227.6 572,228.0 580,228.1 588,227.7 596,226.9 604,225.8 612,224.6 620,223.6 628,223.1 636,223.0 644,223.5 652,224.4 660,225.2 668,225.5 676,225.2 684,224.2 692,222.6 700,220.6 708,218.7 716,217.2 724,216.3 732,215.9 740,215.6 748,215.3 756,214.8 764,214.0 772,213.0 780,211.9 788,210.9 796,210.4 804,209.9 812,208.9 820,207.5 828,205.8 836,204.2 844,202.9 852,202.6 860,202.4 868,202.4 876,202.8 884,203.6 892,204.9 900,206.5 908,208.2 916,209.6 924,210.3 932,210.4 940,210.0 948,209.2 956,208.6 964,208.6 972,209.2 980,210.0 988,210.9 996,211.5 1004,211.6 1012,210.1 1020,208.0 1028,206.1 1036,204.8 1044,202.4 1052,200.1 1060,199.3 1068,199.6 L1068,330Z" fill="#0000cd"/>
<path d="M60,330 L60,217.4 68,217.3 76,216.9 84,216.4 92,215.8 100,215.2 108,214.6 116,214.2 124,214.1 132,214.2 140,214.4 148,214.7 156,214.7 164,214.5 172,213.9 180,213.3 188,212.8 196,212.4 204,212.4 212,212.6 220,213.1 228,213.6 236,214.1 244,214.4 252,214.7 260,214.9 268,215.4 276,216.1 284,217.1 292,218.1 300,219.3 308,220.3 316,221.0 324,221.5 332,221.7 340,221.8 348,222.0 356,222.3 364,222.7 372,223.2 380,223.7 388,224.0 396,223.9 404,223.6 412,223.3 420,223.2 428,223.4 436,223.9 444,224.6 452,225.4 460,225.9 468,225.9 476,225.4 484,224.6 492,223.9 500,223.6 508,223.9 516,224.8 524,226.2 532,227.9 540,229.4 548,230.5 556,231.2 564,231.5 572,231.8 580,232.1 588,232.4 596,232.8 604,232.9 612,232.7 620,232.1 628,231.1 636,229.9 644,229.0 652,228.5 660,228.4 668,228.6 676,228.9 684,228.8 692,228.1 700,226.6 708,224.6 716,222.4 724,220.4 732,218.8 740,217.6 748,216.8 756,216.3 764,215.9 772,215.4 780,214.7 788,214.0 796,213.3 804,212.5 812,211.2 820,209.7 828,208.2 836,206.9 844,206.1 852,206.3 860,206.4 868,206.4 876,206.4 884,206.6 892,207.1 900,208.3 908,209.8 916,211.2 924,212.4 932,213.1 940,213.2 948,212.8 956,212.2 964,211.9 972,212.0 980,212.4 988,213.0 996,213.6 1004,213.8 1012,212.5 1020,210.6 1028,208.9 1036,207.5 1044,205.0 1052,202.6 1060,201.9 1068,202.4 L1068,330Z" fill="#0000b9"/>
<path d="M60,330 L60,230.2 68,230.7 76,231.0 84,230.7 92,229.9 100,228.7 108,227.4 116,226.6 124,226.4 132,226.9 140,227.9 148,228.9 156,229.5 164,229.5 172,228.9 180,227.9 188,227.0 196,226.5 204,226.6 212,227.3 220,228.3 228,229.4 236,230.1 244,230.3 252,230.0 260,229.6 268,229.3 276,229.3 284,229.8 292,230.6 300,231.6 308,232.5 316,233.0 324,233.1 332,233.0 340,232.8 348,232.8 356,233.0 364,233.3 372,233.6 380,233.7 388,233.6 396,233.1 404,232.7 412,232.5 420,232.8 428,233.7 436,234.9 444,236.2 452,237.3 460,237.8 468,237.6 476,236.9 484,236.0 492,235.3 500,235.2 508,235.7 516,236.5 524,237.5 532,238.4 540,238.9 548,239.0 556,239.1 564,239.3 572,239.9 580,240.9 588,241.8 596,242.3 604,242.2 612,241.1 620,239.3 628,237.2 636,235.4 644,234.6 652,234.9 660,236.1 668,237.7 676,239.1 684,239.6 692,238.9 700,237.3 708,235.0 716,232.8 724,231.2 732,230.5 740,230.3 748,230.5 756,230.6 764,230.2 772,229.3 780,228.1 788,226.9 796,226.2 804,226.1 812,226.1 820,226.2 828,226.1 836,225.6 844,224.8 852,224.2 860,223.2 868,222.2 876,221.6 884,221.8 892,222.8 900,224.6 908,226.5 916,228.2 924,229.2 932,229.3 940,228.8 948,227.9 956,227.2 964,227.1 972,227.5 980,228.3 988,229.0 996,229.4 1004,229.0 1012,227.4 1020,225.3 1028,223.5 1036,222.3 1044,220.7 1052,219.5 1060,219.6 1068,220.5 L1068,330Z" fill="#0000a5"/>
<path d="M60,330 L60,245.8 68,245.2 76,244.6 84,243.9 92,243.0 100,242.2 108,241.4 116,240.8 124,240.6 132,240.8 140,241.3 148,242.0 156,242.5 164,242.8 172,242.7 180,242.4 188,242.1 196,241.9 204,242.1 212,242.7 220,243.4 228,244.2 236,244.9 244,245.3 252,245.4 260,245.3 268,245.3 276,245.4 284,245.7 292,246.2 300,246.7 308,247.0 316,247.0 324,246.8 332,246.3 340,245.7 348,245.1 356,244.7 364,244.4 372,244.2 380,243.9 388,243.7 396,243.4 404,243.3 412,243.5 420,244.2 428,245.2 436,246.4 444,247.6 452,248.3 460,248.3 468,247.8 476,246.8 484,245.8 492,245.1 500,245.2 508,246.0 516,247.3 524,248.7 532,249.8 540,250.2 548,249.8 556,249.0 564,248.0 572,247.5 580,247.6 588,248.2 596,249.1 604,249.8 612,249.8 620,248.9 628,247.3 636,245.4 644,243.8 652,243.2 660,243.8 668,245.4 676,247.7 684,249.8 692,251.1 700,251.0 708,249.7 716,247.4 724,244.9 732,242.8 740,241.5 748,241.4 756,242.2 764,243.3 772,244.4 780,245.0 788,244.9 796,244.3 804,243.4 812,242.3 820,241.5 828,241.0 836,240.8 844,240.8 852,240.9 860,240.7 868,240.3 876,240.0 884,239.9 892,240.4 900,241.5 908,243.0 916,244.4 924,245.5 932,246.0 940,245.9 948,245.3 956,244.5 964,243.9 972,243.7 980,243.9 988,244.2 996,244.5 1004,244.5 1012,243.8 1020,242.6 1028,241.3 1036,240.2 1044,238.9 1052,238.1 1060,238.0 1068,238.4 L1068,330Z" fill="#000091"/>
<path d="M60,330 L60,261.7 68,262.3 76,262.3 84,261.7 92,260.4 100,258.7 108,257.1 116,255.7 124,255.0 132,255.0 140,255.6 148,256.6 156,257.6 164,258.4 172,258.9 180,258.9 188,258.6 196,258.1 204,257.6 212,257.0 220,256.5 228,255.9 236,255.4 244,255.0 252,255.0 260,255.5 268,256.5 276,258.1 284,259.9 292,261.5 300,262.7 308,262.9 316,262.2 324,260.8 332,259.1 340,257.6 348,256.8 356,256.7 364,257.5 372,258.7 380,259.9 388,260.6 396,260.7 404,260.1 412,259.2 420,258.3 428,257.6 436,257.4 444,257.5 452,257.8 460,258.0 468,257.8 476,257.2 484,256.3 492,255.6 500,255.3 508,255.4 516,256.1 524,257.0 532,257.9 540,258.5 548,258.7 556,258.4 564,258.1 572,257.9 580,258.1 588,258.7 596,259.5 604,260.2 612,260.4 620,260.1 628,259.2 636,258.0 644,257.1 652,256.8 660,257.4 668,258.6 676,260.2 684,261.6 692,262.3 700,262.0 708,260.7 716,258.9 724,257.0 732,255.5 740,254.9 748,255.1 756,256.0 764,257.1 772,258.0 780,258.5 788,258.4 796,258.0 804,257.5 812,257.2 820,257.3 828,257.6 836,257.9 844,258.1 852,258.0 860,257.7 868,257.3 876,257.1 884,257.3 892,258.0 900,258.9 908,259.9 916,260.6 924,260.6 932,260.0 940,259.0 948,258.0 956,257.4 964,257.4 972,258.1 980,259.2 988,260.4 996,261.2 1004,261.1 1012,260.2 1020,258.6 1028,256.8 1036,255.3 1044,254.6 1052,254.7 1060,255.7 1068,257.1 L1068,330Z" fill="#020080"/>
<path d="M60,330 L60,275.8 68,275.0 76,273.8 84,272.4 92,271.1 100,270.1 108,269.5 116,269.2 124,269.4 132,269.9 140,270.5 148,271.2 156,271.9 164,272.3 172,272.3 180,272.0 188,271.4 196,270.9 204,270.6 212,270.7 220,271.3 228,272.1 236,273.0 244,273.4 252,273.3 260,272.6 268,271.8 276,271.1 284,270.9 292,271.5 300,272.6 308,274.0 316,275.1 324,275.5 332,275.1 340,274.2 348,273.0 356,272.1 364,271.8 372,271.9 380,272.4 388,272.7 396,272.5 404,271.7 412,270.7 420,269.7 428,269.3 436,269.7 444,270.8 452,272.0 460,273.0 468,273.2 476,272.5 484,271.2 492,269.9 500,269.1 508,269.2 516,270.2 524,271.7 532,273.1 540,273.9 548,273.9 556,273.3 564,272.5 572,272.1 580,272.3 588,273.1 596,274.1 604,274.9 612,274.8 620,273.9 628,272.3 636,270.7 644,269.7 652,269.9 660,271.2 668,273.2 676,275.2 684,276.4 692,276.3 700,274.8 708,272.4 716,269.9 724,268.0 732,267.1 740,267.5 748,268.6 756,270.1 764,271.3 772,272.0 780,272.1 788,272.0 796,271.8 804,271.9 812,272.4 820,273.0 828,273.6 836,273.8 844,273.6 852,272.9 860,272.1 868,271.3 876,270.8 884,270.7 892,271.2 900,272.0 908,273.0 916,274.1 924,274.9 932,275.3 940,275.3 948,274.9 956,274.0 964,273.0 972,271.9 980,271.1 988,270.6 996,270.4 1004,270.5 1012,270.7 1020,270.8 1028,270.7 1036,270.4 1044,270.1 1052,269.9 1060,270.1 1068,270.7 L1068,330Z" fill="#0e0083"/>
<path d="M60,330 L60,287.2 68,287.2 76,287.1 84,286.8 92,286.4 100,285.8 108,285.3 116,284.9 124,284.7 132,284.9 140,285.4 148,285.9 156,286.3 164,286.4 172,286.3 180,285.8 188,285.2 196,284.6 204,284.0 212,283.6 220,283.4 228,283.3 236,283.4 244,283.6 252,284.2 260,285.1 268,286.3 276,287.8 284,289.1 292,290.1 300,290.5 308,290.2 316,289.2 324,287.8 332,286.5 340,285.7 348,285.6 356,286.1 364,287.0 372,287.7 380,287.8 388,287.1 396,285.7 404,283.9 412,282.2 420,281.2 428,281.3 436,282.4 444,284.2 452,286.1 460,287.5 468,288.0 476,287.5 484,286.2 492,284.7 500,283.6 508,283.3 516,283.8 524,285.1 532,286.7 540,288.1 548,288.8 556,288.9 564,288.3 572,287.4 580,286.7 588,286.2 596,286.1 604,286.3 612,286.3 620,286.2 628,285.7 636,285.0 644,284.3 652,284.1 660,284.4 668,285.4 676,286.7 684,288.1 692,289.0 700,289.3 708,288.9 716,287.9 724,286.5 732,285.2 740,284.2 748,283.6 756,283.2 764,283.1 772,283.1 780,283.1 788,283.3 796,283.7 804,284.5 812,285.6 820,286.7 828,287.6 836,288.0 844,287.7 852,286.7 860,285.4 868,284.2 876,283.7 884,284.1 892,285.5 900,287.6 908,289.8 916,291.5 924,292.0 932,291.4 940,289.7 948,287.4 956,285.3 964,283.8 972,283.3 980,283.6 988,284.3 996,285.1 1004,285.4 1012,285.1 1020,284.3 1028,283.3 1036,282.6 1044,282.4 1052,283.0 1060,284.2 1068,285.6 L1068,330Z" fill="#150084"/>
</g>
<rect x="828" y="186" width="38.5" height="14" fill="#0a0aa8"/>
</g>
<g clip-path="url(#pc)"><polygon points="99.9,290.0 99.9,284.0 101.5,274.0 103.4,262.5 106.5,255.0 109.7,247.3 111.5,237.0 113.5,225.5 115.5,221.5 118.0,219.0 121.0,217.6 124.0,217.0 134.0,216.2 144.2,215.7 160.0,215.5 177.8,215.7 190.0,216.6 204.8,217.9 216.0,218.3 228.4,219.0 238.0,220.6 245.0,221.5 255.0,222.6 267.0,223.4 280.0,222.8 292.0,222.1 306.0,221.4 320.7,221.2 327.0,222.4 334.2,224.1 351.0,226.8 367.8,229.2 384.7,231.3 398.0,233.2 404.0,233.6 406.5,232.0 408.2,230.2 410.0,231.8 413.0,232.4 420.0,233.5 435.2,237.2 440.0,237.6 446.7,238.3 452.0,240.4 456.8,243.1 460.5,244.3 463.6,245.9 465.6,248.0 467.0,251.0 468.4,257.0 469.5,264.2 470.2,274.0 470.8,284.0 470.8,290.0" fill="#b2b2b2" stroke="#fff" stroke-width="4.4" stroke-linejoin="round"/><polygon points="708.3,290.0 708.3,284.0 708.6,268.0 709.1,252.4 709.8,245.0 710.8,240.6 712.3,237.0 714.2,234.7 719.0,232.8 724.3,231.3 732.0,230.1 739.4,228.8 748.0,227.4 754.0,226.5 757.5,226.6 761.3,227.1 764.5,225.6 769.7,222.1 775.5,219.8 781.5,217.9 786.5,215.2 791.6,212.0 798.0,208.2 805.1,204.4 810.0,202.4 815.2,201.3 822.0,200.6 832.0,199.6 845.0,200.0 857.9,201.0 865.0,203.4 872.6,206.3 883.0,208.9 893.7,211.1 907.0,213.1 921.0,214.7 946.3,217.5 961.0,218.9 975.7,220.0 988.0,220.7 998.9,221.0 1004.0,220.6 1009.4,220.0 1012.5,221.6 1015.7,224.2 1018.4,226.9 1021.0,230.5 1022.2,236.0 1023.0,243.1 1024.2,254.0 1025.2,264.2 1026.8,274.0 1028.3,284.0 1028.3,290.0" fill="#b2b2b2" stroke="#fff" stroke-width="4.4" stroke-linejoin="round"/><polygon points="99.9,290.0 99.9,284.0 101.5,274.0 103.4,262.5 106.5,255.0 109.7,247.3 111.5,237.0 113.5,225.5 115.5,221.5 118.0,219.0 121.0,217.6 124.0,217.0 134.0,216.2 144.2,215.7 160.0,215.5 177.8,215.7 190.0,216.6 204.8,217.9 216.0,218.3 228.4,219.0 238.0,220.6 245.0,221.5 255.0,222.6 267.0,223.4 280.0,222.8 292.0,222.1 306.0,221.4 320.7,221.2 327.0,222.4 334.2,224.1 351.0,226.8 367.8,229.2 384.7,231.3 398.0,233.2 404.0,233.6 406.5,232.0 408.2,230.2 410.0,231.8 413.0,232.4 420.0,233.5 435.2,237.2 440.0,237.6 446.7,238.3 452.0,240.4 456.8,243.1 460.5,244.3 463.6,245.9 465.6,248.0 467.0,251.0 468.4,257.0 469.5,264.2 470.2,274.0 470.8,284.0 470.8,290.0" fill="#b2b2b2"/><polygon points="708.3,290.0 708.3,284.0 708.6,268.0 709.1,252.4 709.8,245.0 710.8,240.6 712.3,237.0 714.2,234.7 719.0,232.8 724.3,231.3 732.0,230.1 739.4,228.8 748.0,227.4 754.0,226.5 757.5,226.6 761.3,227.1 764.5,225.6 769.7,222.1 775.5,219.8 781.5,217.9 786.5,215.2 791.6,212.0 798.0,208.2 805.1,204.4 810.0,202.4 815.2,201.3 822.0,200.6 832.0,199.6 845.0,200.0 857.9,201.0 865.0,203.4 872.6,206.3 883.0,208.9 893.7,211.1 907.0,213.1 921.0,214.7 946.3,217.5 961.0,218.9 975.7,220.0 988.0,220.7 998.9,221.0 1004.0,220.6 1009.4,220.0 1012.5,221.6 1015.7,224.2 1018.4,226.9 1021.0,230.5 1022.2,236.0 1023.0,243.1 1024.2,254.0 1025.2,264.2 1026.8,274.0 1028.3,284.0 1028.3,290.0" fill="#b2b2b2"/></g>
</g>
<circle cx="71" cy="756.3" r="2.5" fill="#00f400"/>
<rect x="1055.2" y="753.9" width="3.8" height="3.8" fill="#f00"/>
<g stroke="#262626" stroke-width="1" fill="none" shape-rendering="crispEdges">
<path d="M70.5,751.0 V859.0 M1057.5,755.5 V854.5 M66.0,755.5 H1062.0 M70.5,854.5 H1057.5"/>
<path d="M216.5,755.5 v-4.5 M216.5,854.5 v4.5 M362.5,755.5 v-4.5 M362.5,854.5 v4.5 M507.5,755.5 v-4.5 M507.5,854.5 v4.5 M653.5,755.5 v-4.5 M653.5,854.5 v4.5 M799.5,755.5 v-4.5 M799.5,854.5 v4.5 M944.5,755.5 v-4.5 M944.5,854.5 v4.5 M70.5,804.5 h-4.5 M1057.5,804.5 h4.5 M70.5,853.5 h-4.5 M1057.5,853.5 h4.5 "/>
</g>
<text x="62.2" y="761.4" font-size="15.2" text-anchor="end" fill="#262626" textLength="7.9" lengthAdjust="spacingAndGlyphs">0</text>
<text x="62.2" y="809.9" font-size="15.2" text-anchor="end" fill="#262626" textLength="26.8" lengthAdjust="spacingAndGlyphs">100</text>
<text x="62.2" y="858.0" font-size="15.2" text-anchor="end" fill="#262626" textLength="26.8" lengthAdjust="spacingAndGlyphs">200</text>
<text transform="translate(27.3,805.0) rotate(-90)" font-size="15.2" text-anchor="middle" fill="#262626" textLength="75.6" lengthAdjust="spacingAndGlyphs">Depth (m)</text>
<polygon points="85.5,830.1 81.3,832.1 79.3,827.9 83.5,825.9" fill="none" stroke="#666" stroke-width="0.85" stroke-linejoin="round"/>
<text x="91.6" y="833.8" font-size="13.6" fill="#8c8c8c" textLength="7.2" lengthAdjust="spacingAndGlyphs">0</text>
<polygon points="87.6,805.6 83.4,807.6 81.4,803.4 85.6,801.4" fill="none" stroke="#666" stroke-width="0.85" stroke-linejoin="round"/>
<text x="93.7" y="809.3" font-size="13.6" fill="#8c8c8c" textLength="7.2" lengthAdjust="spacingAndGlyphs">1</text>
<polygon points="89.7,786.0 85.5,788.0 83.5,783.8 87.7,781.8" fill="none" stroke="#666" stroke-width="0.85" stroke-linejoin="round"/>
<text x="95.8" y="789.7" font-size="13.6" fill="#8c8c8c" textLength="7.2" lengthAdjust="spacingAndGlyphs">2</text>
<polygon points="90.6,766.9 86.4,768.9 84.4,764.7 88.6,762.7" fill="none" stroke="#666" stroke-width="0.85" stroke-linejoin="round"/>
<text x="96.7" y="770.6" font-size="13.6" fill="#8c8c8c" textLength="7.2" lengthAdjust="spacingAndGlyphs">3</text>
<polygon points="91.7,759.2 87.5,761.2 85.5,757.0 89.7,755.0" fill="none" stroke="#666" stroke-width="0.85" stroke-linejoin="round"/>
<text x="97.8" y="762.9" font-size="13.6" fill="#8c8c8c" textLength="7.2" lengthAdjust="spacingAndGlyphs">4</text>
<polygon points="152.0,759.2 147.8,761.2 145.8,757.0 150.0,755.0" fill="none" stroke="#666" stroke-width="0.85" stroke-linejoin="round"/>
<text x="157.5" y="762.9" font-size="13.6" fill="#8c8c8c" textLength="7.2" lengthAdjust="spacingAndGlyphs">5</text>
<polygon points="211.4,759.2 207.2,761.2 205.2,757.0 209.4,755.0" fill="none" stroke="#666" stroke-width="0.85" stroke-linejoin="round"/>
<text x="216.9" y="762.9" font-size="13.6" fill="#8c8c8c" textLength="7.2" lengthAdjust="spacingAndGlyphs">6</text>
<polygon points="268.2,759.2 264.0,761.2 262.0,757.0 266.2,755.0" fill="none" stroke="#666" stroke-width="0.85" stroke-linejoin="round"/>
<text x="273.7" y="762.9" font-size="13.6" fill="#8c8c8c" textLength="7.2" lengthAdjust="spacingAndGlyphs">7</text>
<polygon points="327.1,759.2 322.9,761.2 320.9,757.0 325.1,755.0" fill="none" stroke="#666" stroke-width="0.85" stroke-linejoin="round"/>
<text x="332.6" y="762.9" font-size="13.6" fill="#8c8c8c" textLength="7.2" lengthAdjust="spacingAndGlyphs">8</text>
<polygon points="388.1,759.2 383.9,761.2 381.9,757.0 386.1,755.0" fill="none" stroke="#666" stroke-width="0.85" stroke-linejoin="round"/>
<text x="393.6" y="762.9" font-size="13.6" fill="#8c8c8c" textLength="7.2" lengthAdjust="spacingAndGlyphs">9</text>
<polygon points="446.2,759.2 442.0,761.2 440.0,757.0 444.2,755.0" fill="none" stroke="#666" stroke-width="0.85" stroke-linejoin="round"/>
<text x="451.7" y="762.9" font-size="13.6" fill="#8c8c8c" textLength="15.5" lengthAdjust="spacingAndGlyphs">10</text>
<polygon points="507.7,759.2 503.5,761.2 501.5,757.0 505.7,755.0" fill="none" stroke="#666" stroke-width="0.85" stroke-linejoin="round"/>
<text x="513.2" y="762.9" font-size="13.6" fill="#8c8c8c" textLength="15.5" lengthAdjust="spacingAndGlyphs">11</text>
<polygon points="565.3,756.6 561.1,758.6 559.1,754.4 563.3,752.4" fill="none" stroke="#000" stroke-width="1.10" stroke-linejoin="round"/>
<text x="570.8" y="760.3" font-size="13.6" fill="#000" textLength="15.5" lengthAdjust="spacingAndGlyphs">12</text>
<polygon points="651.7,756.3 647.5,758.3 645.5,754.1 649.7,752.1" fill="none" stroke="#000" stroke-width="1.10" stroke-linejoin="round"/>
<text x="657.2" y="760.0" font-size="13.6" fill="#000" textLength="15.5" lengthAdjust="spacingAndGlyphs">13</text>
<polygon points="715.7,759.2 711.5,761.2 709.5,757.0 713.7,755.0" fill="none" stroke="#666" stroke-width="0.85" stroke-linejoin="round"/>
<text x="721.2" y="762.9" font-size="13.6" fill="#8c8c8c" textLength="15.5" lengthAdjust="spacingAndGlyphs">14</text>
<polygon points="779.2,756.6 775.0,758.6 773.0,754.4 777.2,752.4" fill="none" stroke="#000" stroke-width="1.10" stroke-linejoin="round"/>
<text x="784.7" y="760.3" font-size="13.6" fill="#000" textLength="15.5" lengthAdjust="spacingAndGlyphs">15</text>
<polygon points="832.3,757.2 828.1,759.2 826.1,755.0 830.3,753.0" fill="none" stroke="#000" stroke-width="1.10" stroke-linejoin="round"/>
<text x="837.8" y="760.9" font-size="13.6" fill="#000" textLength="15.5" lengthAdjust="spacingAndGlyphs">16</text>
<polygon points="882.8,756.6 878.6,758.6 876.6,754.4 880.8,752.4" fill="none" stroke="#000" stroke-width="1.10" stroke-linejoin="round"/>
<text x="888.3" y="760.3" font-size="13.6" fill="#000" textLength="15.5" lengthAdjust="spacingAndGlyphs">17</text>
<polygon points="945.9,759.2 941.7,761.2 939.7,757.0 943.9,755.0" fill="none" stroke="#666" stroke-width="0.85" stroke-linejoin="round"/>
<text x="951.4" y="762.9" font-size="13.6" fill="#8c8c8c" textLength="15.5" lengthAdjust="spacingAndGlyphs">18</text>
<polygon points="1001.5,756.6 997.3,758.6 995.3,754.4 999.5,752.4" fill="none" stroke="#000" stroke-width="1.10" stroke-linejoin="round"/>
<text x="1007.0" y="760.3" font-size="13.6" fill="#000" textLength="15.5" lengthAdjust="spacingAndGlyphs">19</text>
<text x="564.0" y="749.7" font-size="14.4" text-anchor="middle" font-weight="bold" fill="#000" textLength="64.0" lengthAdjust="spacingAndGlyphs">Oxygen</text>
<rect x="1093.5" y="755.5" width="20" height="99.0" fill="url(#cb)" stroke="#262626" stroke-width="1" shape-rendering="crispEdges"/>
<text x="1121.5" y="757.6" font-size="9.6" fill="#262626" textLength="10.7" lengthAdjust="spacingAndGlyphs">10</text>
<text x="1121.5" y="807.6" font-size="9.6" fill="#262626" textLength="5.2" lengthAdjust="spacingAndGlyphs">5</text>
<text x="1121.5" y="856.6" font-size="9.6" fill="#262626" textLength="5.2" lengthAdjust="spacingAndGlyphs">0</text>
<g transform="translate(1150.5,805.0) rotate(-90)"><text font-size="9.3" text-anchor="middle" fill="#262626" textLength="18.5" lengthAdjust="spacingAndGlyphs">ml/L</text></g>
<!-- panel 5 -->
<circle cx="71" cy="899.3" r="2.5" fill="#00f400"/>
<rect x="1055.2" y="896.9" width="3.8" height="3.8" fill="#f00"/>
<g stroke="#262626" stroke-width="1" fill="none" shape-rendering="crispEdges">
<path d="M70.5,894.0 V1002.0 M1057.5,898.5 V997.5 M66.0,898.5 H1062.0 M70.5,997.5 H1057.5"/>
<path d="M216.5,898.5 v-4.5 M216.5,997.5 v4.5 M362.5,898.5 v-4.5 M362.5,997.5 v4.5 M507.5,898.5 v-4.5 M507.5,997.5 v4.5 M653.5,898.5 v-4.5 M653.5,997.5 v4.5 M799.5,898.5 v-4.5 M799.5,997.5 v4.5 M944.5,898.5 v-4.5 M944.5,997.5 v4.5 M70.5,947.5 h-4.5 M1057.5,947.5 h4.5 M70.5,996.5 h-4.5 M1057.5,996.5 h4.5 "/>
</g>
<text x="62.2" y="904.4" font-size="15.2" text-anchor="end" fill="#262626" textLength="7.9" lengthAdjust="spacingAndGlyphs">0</text>
<text x="62.2" y="952.9" font-size="15.2" text-anchor="end" fill="#262626" textLength="26.8" lengthAdjust="spacingAndGlyphs">100</text>
<text x="62.2" y="1001.0" font-size="15.2" text-anchor="end" fill="#262626" textLength="26.8" lengthAdjust="spacingAndGlyphs">200</text>
<text transform="translate(27.3,948.0) rotate(-90)" font-size="15.2" text-anchor="middle" fill="#262626" textLength="75.6" lengthAdjust="spacingAndGlyphs">Depth (m)</text>
<polygon points="85.5,973.1 81.3,975.1 79.3,970.9 83.5,968.9" fill="none" stroke="#666" stroke-width="0.85" stroke-linejoin="round"/>
<text x="91.6" y="976.8" font-size="13.6" fill="#8c8c8c" textLength="7.2" lengthAdjust="spacingAndGlyphs">0</text>
<polygon points="87.6,948.6 83.4,950.6 81.4,946.4 85.6,944.4" fill="none" stroke="#666" stroke-width="0.85" stroke-linejoin="round"/>
<text x="93.7" y="952.3" font-size="13.6" fill="#8c8c8c" textLength="7.2" lengthAdjust="spacingAndGlyphs">1</text>
<polygon points="89.7,929.0 85.5,931.0 83.5,926.8 87.7,924.8" fill="none" stroke="#666" stroke-width="0.85" stroke-linejoin="round"/>
<text x="95.8" y="932.7" font-size="13.6" fill="#8c8c8c" textLength="7.2" lengthAdjust="spacingAndGlyphs">2</text>
<polygon points="90.6,909.9 86.4,911.9 84.4,907.7 88.6,905.7" fill="none" stroke="#666" stroke-width="0.85" stroke-linejoin="round"/>
<text x="96.7" y="913.6" font-size="13.6" fill="#8c8c8c" textLength="7.2" lengthAdjust="spacingAndGlyphs">3</text>
<polygon points="91.7,902.2 87.5,904.2 85.5,900.0 89.7,898.0" fill="none" stroke="#666" stroke-width="0.85" stroke-linejoin="round"/>
<text x="97.8" y="905.9" font-size="13.6" fill="#8c8c8c" textLength="7.2" lengthAdjust="spacingAndGlyphs">4</text>
<polygon points="152.0,902.2 147.8,904.2 145.8,900.0 150.0,898.0" fill="none" stroke="#666" stroke-width="0.85" stroke-linejoin="round"/>
<text x="157.5" y="905.9" font-size="13.6" fill="#8c8c8c" textLength="7.2" lengthAdjust="spacingAndGlyphs">5</text>
<polygon points="211.4,902.2 207.2,904.2 205.2,900.0 209.4,898.0" fill="none" stroke="#666" stroke-width="0.85" stroke-linejoin="round"/>
<text x="216.9" y="905.9" font-size="13.6" fill="#8c8c8c" textLength="7.2" lengthAdjust="spacingAndGlyphs">6</text>
<polygon points="268.2,902.2 264.0,904.2 262.0,900.0 266.2,898.0" fill="none" stroke="#666" stroke-width="0.85" stroke-linejoin="round"/>
<text x="273.7" y="905.9" font-size="13.6" fill="#8c8c8c" textLength="7.2" lengthAdjust="spacingAndGlyphs">7</text>
<polygon points="327.1,902.2 322.9,904.2 320.9,900.0 325.1,898.0" fill="none" stroke="#666" stroke-width="0.85" stroke-linejoin="round"/>
<text x="332.6" y="905.9" font-size="13.6" fill="#8c8c8c" textLength="7.2" lengthAdjust="spacingAndGlyphs">8</text>
<polygon points="388.1,902.2 383.9,904.2 381.9,900.0 386.1,898.0" fill="none" stroke="#666" stroke-width="0.85" stroke-linejoin="round"/>
<text x="393.6" y="905.9" font-size="13.6" fill="#8c8c8c" textLength="7.2" lengthAdjust="spacingAndGlyphs">9</text>
<polygon points="446.2,902.2 442.0,904.2 440.0,900.0 444.2,898.0" fill="none" stroke="#666" stroke-width="0.85" stroke-linejoin="round"/>
<text x="451.7" y="905.9" font-size="13.6" fill="#8c8c8c" textLength="15.5" lengthAdjust="spacingAndGlyphs">10</text>
<polygon points="507.7,902.2 503.5,904.2 501.5,900.0 505.7,898.0" fill="none" stroke="#666" stroke-width="0.85" stroke-linejoin="round"/>
<text x="513.2" y="905.9" font-size="13.6" fill="#8c8c8c" textLength="15.5" lengthAdjust="spacingAndGlyphs">11</text>
<polygon points="565.3,899.6 561.1,901.6 559.1,897.4 563.3,895.4" fill="none" stroke="#000" stroke-width="1.10" stroke-linejoin="round"/>
<text x="570.8" y="903.3" font-size="13.6" fill="#000" textLength="15.5" lengthAdjust="spacingAndGlyphs">12</text>
<polygon points="651.7,899.3 647.5,901.3 645.5,897.1 649.7,895.1" fill="none" stroke="#000" stroke-width="1.10" stroke-linejoin="round"/>
<text x="657.2" y="903.0" font-size="13.6" fill="#000" textLength="15.5" lengthAdjust="spacingAndGlyphs">13</text>
<polygon points="715.7,902.2 711.5,904.2 709.5,900.0 713.7,898.0" fill="none" stroke="#666" stroke-width="0.85" stroke-linejoin="round"/>
<text x="721.2" y="905.9" font-size="13.6" fill="#8c8c8c" textLength="15.5" lengthAdjust="spacingAndGlyphs">14</text>
<polygon points="779.2,899.6 775.0,901.6 773.0,897.4 777.2,895.4" fill="none" stroke="#000" stroke-width="1.10" stroke-linejoin="round"/>
<text x="784.7" y="903.3" font-size="13.6" fill="#000" textLength="15.5" lengthAdjust="spacingAndGlyphs">15</text>
<polygon points="832.3,900.2 828.1,902.2 826.1,898.0 830.3,896.0" fill="none" stroke="#000" stroke-width="1.10" stroke-linejoin="round"/>
<text x="837.8" y="903.9" font-size="13.6" fill="#000" textLength="15.5" lengthAdjust="spacingAndGlyphs">16</text>
<polygon points="882.8,899.6 878.6,901.6 876.6,897.4 880.8,895.4" fill="none" stroke="#000" stroke-width="1.10" stroke-linejoin="round"/>
<text x="888.3" y="903.3" font-size="13.6" fill="#000" textLength="15.5" lengthAdjust="spacingAndGlyphs">17</text>
<polygon points="945.9,902.2 941.7,904.2 939.7,900.0 943.9,898.0" fill="none" stroke="#666" stroke-width="0.85" stroke-linejoin="round"/>
<text x="951.4" y="905.9" font-size="13.6" fill="#8c8c8c" textLength="15.5" lengthAdjust="spacingAndGlyphs">18</text>
<polygon points="1001.5,899.6 997.3,901.6 995.3,897.4 999.5,895.4" fill="none" stroke="#000" stroke-width="1.10" stroke-linejoin="round"/>
<text x="1007.0" y="903.3" font-size="13.6" fill="#000" textLength="15.5" lengthAdjust="spacingAndGlyphs">19</text>
<text x="564.0" y="892.7" font-size="14.4" text-anchor="middle" font-weight="bold" fill="#000" textLength="249.0" lengthAdjust="spacingAndGlyphs">Optical Backscatter @470 nm</text>
<rect x="1093.5" y="898.5" width="20" height="99.0" fill="url(#cb)" stroke="#262626" stroke-width="1" shape-rendering="crispEdges"/>
<text x="1121.5" y="900.6" font-size="9.6" fill="#262626" textLength="18.6" lengthAdjust="spacingAndGlyphs">0.01</text>
<text x="1121.5" y="950.6" font-size="9.6" fill="#262626" textLength="24.7" lengthAdjust="spacingAndGlyphs">0.005</text>
<text x="1121.5" y="999.6" font-size="9.6" fill="#262626" textLength="5.2" lengthAdjust="spacingAndGlyphs">0</text>
<g transform="translate(1166.0,948.0) rotate(-90)"><text x="-2.2" font-size="9.3" text-anchor="middle" fill="#262626">m<tspan font-size="6.5" dy="-3.5">-1</tspan></text></g>
<!-- panel 6 -->
<circle cx="71" cy="1040.3" r="2.5" fill="#00f400"/>
<rect x="1055.2" y="1037.9" width="3.8" height="3.8" fill="#f00"/>
<g stroke="#262626" stroke-width="1" fill="none" shape-rendering="crispEdges">
<path d="M70.5,1035.0 V1143.0 M1057.5,1039.5 V1138.5 M66.0,1039.5 H1062.0 M70.5,1138.5 H1057.5"/>
<path d="M216.5,1039.5 v-4.5 M216.5,1138.5 v4.5 M362.5,1039.5 v-4.5 M362.5,1138.5 v4.5 M507.5,1039.5 v-4.5 M507.5,1138.5 v4.5 M653.5,1039.5 v-4.5 M653.5,1138.5 v4.5 M799.5,1039.5 v-4.5 M799.5,1138.5 v4.5 M944.5,1039.5 v-4.5 M944.5,1138.5 v4.5 M70.5,1088.5 h-4.5 M1057.5,1088.5 h4.5 M70.5,1137.5 h-4.5 M1057.5,1137.5 h4.5 "/>
</g>
<text x="62.2" y="1045.4" font-size="15.2" text-anchor="end" fill="#262626" textLength="7.9" lengthAdjust="spacingAndGlyphs">0</text>
<text x="62.2" y="1093.9" font-size="15.2" text-anchor="end" fill="#262626" textLength="26.8" lengthAdjust="spacingAndGlyphs">100</text>
<text x="62.2" y="1142.0" font-size="15.2" text-anchor="end" fill="#262626" textLength="26.8" lengthAdjust="spacingAndGlyphs">200</text>
<text transform="translate(27.3,1089.0) rotate(-90)" font-size="15.2" text-anchor="middle" fill="#262626" textLength="75.6" lengthAdjust="spacingAndGlyphs">Depth (m)</text>
<polygon points="85.5,1114.1 81.3,1116.1 79.3,1111.9 83.5,1109.9" fill="none" stroke="#666" stroke-width="0.85" stroke-linejoin="round"/>
<text x="91.6" y="1117.8" font-size="13.6" fill="#8c8c8c" textLength="7.2" lengthAdjust="spacingAndGlyphs">0</text>
<polygon points="87.6,1089.6 83.4,1091.6 81.4,1087.4 85.6,1085.4" fill="none" stroke="#666" stroke-width="0.85" stroke-linejoin="round"/>
<text x="93.7" y="1093.3" font-size="13.6" fill="#8c8c8c" textLength="7.2" lengthAdjust="spacingAndGlyphs">1</text>
<polygon points="89.7,1070.0 85.5,1072.0 83.5,1067.8 87.7,1065.8" fill="none" stroke="#666" stroke-width="0.85" stroke-linejoin="round"/>
<text x="95.8" y="1073.7" font-size="13.6" fill="#8c8c8c" textLength="7.2" lengthAdjust="spacingAndGlyphs">2</text>
<polygon points="90.6,1050.9 86.4,1052.9 84.4,1048.7 88.6,1046.7" fill="none" stroke="#666" stroke-width="0.85" stroke-linejoin="round"/>
<text x="96.7" y="1054.6" font-size="13.6" fill="#8c8c8c" textLength="7.2" lengthAdjust="spacingAndGlyphs">3</text>
<polygon points="91.7,1043.2 87.5,1045.2 85.5,1041.0 89.7,1039.0" fill="none" stroke="#666" stroke-width="0.85" stroke-linejoin="round"/>
<text x="97.8" y="1046.9" font-size="13.6" fill="#8c8c8c" textLength="7.2" lengthAdjust="spacingAndGlyphs">4</text>
<polygon points="152.0,1043.2 147.8,1045.2 145.8,1041.0 150.0,1039.0" fill="none" stroke="#666" stroke-width="0.85" stroke-linejoin="round"/>
<text x="157.5" y="1046.9" font-size="13.6" fill="#8c8c8c" textLength="7.2" lengthAdjust="spacingAndGlyphs">5</text>
<polygon points="211.4,1043.2 207.2,1045.2 205.2,1041.0 209.4,1039.0" fill="none" stroke="#666" stroke-width="0.85" stroke-linejoin="round"/>
<text x="216.9" y="1046.9" font-size="13.6" fill="#8c8c8c" textLength="7.2" lengthAdjust="spacingAndGlyphs">6</text>
<polygon points="268.2,1043.2 264.0,1045.2 262.0,1041.0 266.2,1039.0" fill="none" stroke="#666" stroke-width="0.85" stroke-linejoin="round"/>
<text x="273.7" y="1046.9" font-size="13.6" fill="#8c8c8c" textLength="7.2" lengthAdjust="spacingAndGlyphs">7</text>
<polygon points="327.1,1043.2 322.9,1045.2 320.9,1041.0 325.1,1039.0" fill="none" stroke="#666" stroke-width="0.85" stroke-linejoin="round"/>
<text x="332.6" y="1046.9" font-size="13.6" fill="#8c8c8c" textLength="7.2" lengthAdjust="spacingAndGlyphs">8</text>
<polygon points="388.1,1043.2 383.9,1045.2 381.9,1041.0 386.1,1039.0" fill="none" stroke="#666" stroke-width="0.85" stroke-linejoin="round"/>
<text x="393.6" y="1046.9" font-size="13.6" fill="#8c8c8c" textLength="7.2" lengthAdjust="spacingAndGlyphs">9</text>
<polygon points="446.2,1043.2 442.0,1045.2 440.0,1041.0 444.2,1039.0" fill="none" stroke="#666" stroke-width="0.85" stroke-linejoin="round"/>
<text x="451.7" y="1046.9" font-size="13.6" fill="#8c8c8c" textLength="15.5" lengthAdjust="spacingAndGlyphs">10</text>
<polygon points="507.7,1043.2 503.5,1045.2 501.5,1041.0 505.7,1039.0" fill="none" stroke="#666" stroke-width="0.85" stroke-linejoin="round"/>
<text x="513.2" y="1046.9" font-size="13.6" fill="#8c8c8c" textLength="15.5" lengthAdjust="spacingAndGlyphs">11</text>
<polygon points="565.3,1040.6 561.1,1042.6 559.1,1038.4 563.3,1036.4" fill="none" stroke="#000" stroke-width="1.10" stroke-linejoin="round"/>
<text x="570.8" y="1044.3" font-size="13.6" fill="#000" textLength="15.5" lengthAdjust="spacingAndGlyphs">12</text>
<polygon points="651.7,1040.3 647.5,1042.3 645.5,1038.1 649.7,1036.1" fill="none" stroke="#000" stroke-width="1.10" stroke-linejoin="round"/>
<text x="657.2" y="1044.0" font-size="13.6" fill="#000" textLength="15.5" lengthAdjust="spacingAndGlyphs">13</text>
<polygon points="715.7,1043.2 711.5,1045.2 709.5,1041.0 713.7,1039.0" fill="none" stroke="#666" stroke-width="0.85" stroke-linejoin="round"/>
<text x="721.2" y="1046.9" font-size="13.6" fill="#8c8c8c" textLength="15.5" lengthAdjust="spacingAndGlyphs">14</text>
<polygon points="779.2,1040.6 775.0,1042.6 773.0,1038.4 777.2,1036.4" fill="none" stroke="#000" stroke-width="1.10" stroke-linejoin="round"/>
<text x="784.7" y="1044.3" font-size="13.6" fill="#000" textLength="15.5" lengthAdjust="spacingAndGlyphs">15</text>
<polygon points="832.3,1041.2 828.1,1043.2 826.1,1039.0 830.3,1037.0" fill="none" stroke="#000" stroke-width="1.10" stroke-linejoin="round"/>
<text x="837.8" y="1044.9" font-size="13.6" fill="#000" textLength="15.5" lengthAdjust="spacingAndGlyphs">16</text>
<polygon points="882.8,1040.6 878.6,1042.6 876.6,1038.4 880.8,1036.4" fill="none" stroke="#000" stroke-width="1.10" stroke-linejoin="round"/>
<text x="888.3" y="1044.3" font-size="13.6" fill="#000" textLength="15.5" lengthAdjust="spacingAndGlyphs">17</text>
<polygon points="945.9,1043.2 941.7,1045.2 939.7,1041.0 943.9,1039.0" fill="none" stroke="#666" stroke-width="0.85" stroke-linejoin="round"/>
<text x="951.4" y="1046.9" font-size="13.6" fill="#8c8c8c" textLength="15.5" lengthAdjust="spacingAndGlyphs">18</text>
<polygon points="1001.5,1040.6 997.3,1042.6 995.3,1038.4 999.5,1036.4" fill="none" stroke="#000" stroke-width="1.10" stroke-linejoin="round"/>
<text x="1007.0" y="1044.3" font-size="13.6" fill="#000" textLength="15.5" lengthAdjust="spacingAndGlyphs">19</text>
<text x="564.0" y="1033.7" font-size="14.4" text-anchor="middle" font-weight="bold" fill="#000" textLength="249.0" lengthAdjust="spacingAndGlyphs">Optical Backscatter @676 nm</text>
<rect x="1093.5" y="1039.5" width="20" height="99.0" fill="url(#cb)" stroke="#262626" stroke-width="1" shape-rendering="crispEdges"/>
<text x="1121.5" y="1041.6" font-size="9.6" fill="#262626" textLength="18.6" lengthAdjust="spacingAndGlyphs">0.01</text>
<text x="1121.5" y="1091.6" font-size="9.6" fill="#262626" textLength="24.7" lengthAdjust="spacingAndGlyphs">0.005</text>
<text x="1121.5" y="1140.6" font-size="9.6" fill="#262626" textLength="5.2" lengthAdjust="spacingAndGlyphs">0</text>
<g transform="translate(1166.0,1089.0) rotate(-90)"><text x="-2.2" font-size="9.3" text-anchor="middle" fill="#262626">m<tspan font-size="6.5" dy="-3.5">-1</tspan></text></g>
<!-- panel 7 -->
<circle cx="71" cy="1183.3" r="2.5" fill="#00f400"/>
<rect x="1055.2" y="1180.9" width="3.8" height="3.8" fill="#f00"/>
<g stroke="#262626" stroke-width="1" fill="none" shape-rendering="crispEdges">
<path d="M70.5,1178.0 V1286.0 M1057.5,1182.5 V1281.5 M66.0,1182.5 H1062.0 M70.5,1281.5 H1057.5"/>
<path d="M216.5,1182.5 v-4.5 M216.5,1281.5 v4.5 M362.5,1182.5 v-4.5 M362.5,1281.5 v4.5 M507.5,1182.5 v-4.5 M507.5,1281.5 v4.5 M653.5,1182.5 v-4.5 M653.5,1281.5 v4.5 M799.5,1182.5 v-4.5 M799.5,1281.5 v4.5 M944.5,1182.5 v-4.5 M944.5,1281.5 v4.5 M70.5,1231.5 h-4.5 M1057.5,1231.5 h4.5 M70.5,1280.5 h-4.5 M1057.5,1280.5 h4.5 "/>
</g>
<text x="62.2" y="1188.4" font-size="15.2" text-anchor="end" fill="#262626" textLength="7.9" lengthAdjust="spacingAndGlyphs">0</text>
<text x="62.2" y="1236.9" font-size="15.2" text-anchor="end" fill="#262626" textLength="26.8" lengthAdjust="spacingAndGlyphs">100</text>
<text x="62.2" y="1285.0" font-size="15.2" text-anchor="end" fill="#262626" textLength="26.8" lengthAdjust="spacingAndGlyphs">200</text>
<text transform="translate(27.3,1232.0) rotate(-90)" font-size="15.2" text-anchor="middle" fill="#262626" textLength="75.6" lengthAdjust="spacingAndGlyphs">Depth (m)</text>
<polygon points="85.5,1257.1 81.3,1259.1 79.3,1254.9 83.5,1252.9" fill="none" stroke="#666" stroke-width="0.85" stroke-linejoin="round"/>
<text x="91.6" y="1260.8" font-size="13.6" fill="#8c8c8c" textLength="7.2" lengthAdjust="spacingAndGlyphs">0</text>
<polygon points="87.6,1232.6 83.4,1234.6 81.4,1230.4 85.6,1228.4" fill="none" stroke="#666" stroke-width="0.85" stroke-linejoin="round"/>
<text x="93.7" y="1236.3" font-size="13.6" fill="#8c8c8c" textLength="7.2" lengthAdjust="spacingAndGlyphs">1</text>
<polygon points="89.7,1213.0 85.5,1215.0 83.5,1210.8 87.7,1208.8" fill="none" stroke="#666" stroke-width="0.85" stroke-linejoin="round"/>
<text x="95.8" y="1216.7" font-size="13.6" fill="#8c8c8c" textLength="7.2" lengthAdjust="spacingAndGlyphs">2</text>
<polygon points="90.6,1193.9 86.4,1195.9 84.4,1191.7 88.6,1189.7" fill="none" stroke="#666" stroke-width="0.85" stroke-linejoin="round"/>
<text x="96.7" y="1197.6" font-size="13.6" fill="#8c8c8c" textLength="7.2" lengthAdjust="spacingAndGlyphs">3</text>
<polygon points="91.7,1186.2 87.5,1188.2 85.5,1184.0 89.7,1182.0" fill="none" stroke="#666" stroke-width="0.85" stroke-linejoin="round"/>
<text x="97.8" y="1189.9" font-size="13.6" fill="#8c8c8c" textLength="7.2" lengthAdjust="spacingAndGlyphs">4</text>
<polygon points="152.0,1186.2 147.8,1188.2 145.8,1184.0 150.0,1182.0" fill="none" stroke="#666" stroke-width="0.85" stroke-linejoin="round"/>
<text x="157.5" y="1189.9" font-size="13.6" fill="#8c8c8c" textLength="7.2" lengthAdjust="spacingAndGlyphs">5</text>
<polygon points="211.4,1186.2 207.2,1188.2 205.2,1184.0 209.4,1182.0" fill="none" stroke="#666" stroke-width="0.85" stroke-linejoin="round"/>
<text x="216.9" y="1189.9" font-size="13.6" fill="#8c8c8c" textLength="7.2" lengthAdjust="spacingAndGlyphs">6</text>
<polygon points="268.2,1186.2 264.0,1188.2 262.0,1184.0 266.2,1182.0" fill="none" stroke="#666" stroke-width="0.85" stroke-linejoin="round"/>
<text x="273.7" y="1189.9" font-size="13.6" fill="#8c8c8c" textLength="7.2" lengthAdjust="spacingAndGlyphs">7</text>
<polygon points="327.1,1186.2 322.9,1188.2 320.9,1184.0 325.1,1182.0" fill="none" stroke="#666" stroke-width="0.85" stroke-linejoin="round"/>
<text x="332.6" y="1189.9" font-size="13.6" fill="#8c8c8c" textLength="7.2" lengthAdjust="spacingAndGlyphs">8</text>
<polygon points="388.1,1186.2 383.9,1188.2 381.9,1184.0 386.1,1182.0" fill="none" stroke="#666" stroke-width="0.85" stroke-linejoin="round"/>
<text x="393.6" y="1189.9" font-size="13.6" fill="#8c8c8c" textLength="7.2" lengthAdjust="spacingAndGlyphs">9</text>
<polygon points="446.2,1186.2 442.0,1188.2 440.0,1184.0 444.2,1182.0" fill="none" stroke="#666" stroke-width="0.85" stroke-linejoin="round"/>
<text x="451.7" y="1189.9" font-size="13.6" fill="#8c8c8c" textLength="15.5" lengthAdjust="spacingAndGlyphs">10</text>
<polygon points="507.7,1186.2 503.5,1188.2 501.5,1184.0 505.7,1182.0" fill="none" stroke="#666" stroke-width="0.85" stroke-linejoin="round"/>
<text x="513.2" y="1189.9" font-size="13.6" fill="#8c8c8c" textLength="15.5" lengthAdjust="spacingAndGlyphs">11</text>
<polygon points="565.3,1183.6 561.1,1185.6 559.1,1181.4 563.3,1179.4" fill="none" stroke="#000" stroke-width="1.10" stroke-linejoin="round"/>
<text x="570.8" y="1187.3" font-size="13.6" fill="#000" textLength="15.5" lengthAdjust="spacingAndGlyphs">12</text>
<polygon points="651.7,1183.3 647.5,1185.3 645.5,1181.1 649.7,1179.1" fill="none" stroke="#000" stroke-width="1.10" stroke-linejoin="round"/>
<text x="657.2" y="1187.0" font-size="13.6" fill="#000" textLength="15.5" lengthAdjust="spacingAndGlyphs">13</text>
<polygon points="715.7,1186.2 711.5,1188.2 709.5,1184.0 713.7,1182.0" fill="none" stroke="#666" stroke-width="0.85" stroke-linejoin="round"/>
<text x="721.2" y="1189.9" font-size="13.6" fill="#8c8c8c" textLength="15.5" lengthAdjust="spacingAndGlyphs">14</text>
<polygon points="779.2,1183.6 775.0,1185.6 773.0,1181.4 777.2,1179.4" fill="none" stroke="#000" stroke-width="1.10" stroke-linejoin="round"/>
<text x="784.7" y="1187.3" font-size="13.6" fill="#000" textLength="15.5" lengthAdjust="spacingAndGlyphs">15</text>
<polygon points="832.3,1184.2 828.1,1186.2 826.1,1182.0 830.3,1180.0" fill="none" stroke="#000" stroke-width="1.10" stroke-linejoin="round"/>
<text x="837.8" y="1187.9" font-size="13.6" fill="#000" textLength="15.5" lengthAdjust="spacingAndGlyphs">16</text>
<polygon points="882.8,1183.6 878.6,1185.6 876.6,1181.4 880.8,1179.4" fill="none" stroke="#000" stroke-width="1.10" stroke-linejoin="round"/>
<text x="888.3" y="1187.3" font-size="13.6" fill="#000" textLength="15.5" lengthAdjust="spacingAndGlyphs">17</text>
<polygon points="945.9,1186.2 941.7,1188.2 939.7,1184.0 943.9,1182.0" fill="none" stroke="#666" stroke-width="0.85" stroke-linejoin="round"/>
<text x="951.4" y="1189.9" font-size="13.6" fill="#8c8c8c" textLength="15.5" lengthAdjust="spacingAndGlyphs">18</text>
<polygon points="1001.5,1183.6 997.3,1185.6 995.3,1181.4 999.5,1179.4" fill="none" stroke="#000" stroke-width="1.10" stroke-linejoin="round"/>
<text x="1007.0" y="1187.3" font-size="13.6" fill="#000" textLength="15.5" lengthAdjust="spacingAndGlyphs">19</text>
<text x="564.0" y="1176.7" font-size="14.4" text-anchor="middle" font-weight="bold" fill="#000" textLength="213.0" lengthAdjust="spacingAndGlyphs">Chlorophyll Fluorescence</text>
<rect x="1093.5" y="1182.5" width="20" height="99.0" fill="url(#cb)" stroke="#262626" stroke-width="1" shape-rendering="crispEdges"/>
<text x="1121.5" y="1184.6" font-size="9.6" fill="#262626" textLength="5.2" lengthAdjust="spacingAndGlyphs">1</text>
<text x="1121.5" y="1234.6" font-size="9.6" fill="#262626" textLength="13.4" lengthAdjust="spacingAndGlyphs">0.5</text>
<text x="1121.5" y="1283.6" font-size="9.6" fill="#262626" textLength="5.2" lengthAdjust="spacingAndGlyphs">0</text>
<g transform="translate(1152.7,1232.0) rotate(-90)"><text font-size="9.3" text-anchor="middle" fill="#262626" textLength="17.7" lengthAdjust="spacingAndGlyphs">Raw</text></g>
<!-- panel 8 -->
<g transform="translate(0,1140)">
<g clip-path="url(#env)"><g filter="url(#vbio)">
<rect x="60" y="150" width="1010" height="170" fill="#b500a6"/>
<path d="M60,150 L60,198.1 65,198.0 70,197.8 75,197.7 80,197.7 85,197.9 90,198.2 95,198.6 100,199.0 105,199.4 110,199.7 115,199.8 120,199.8 125,199.6 130,199.5 135,199.3 140,199.2 145,199.1 150,199.1 155,199.1 160,199.2 165,199.3 170,199.5 175,199.9 180,200.6 185,201.4 190,202.2 195,202.9 200,203.3 205,203.3 210,203.2 215,203.0 220,202.8 225,202.9 230,203.3 235,204.0 240,204.7 245,205.2 250,205.3 255,204.9 260,204.1 265,203.0 270,202.1 275,201.4 280,201.2 285,201.4 290,202.1 295,203.0 300,203.9 305,204.9 310,205.8 315,206.8 320,207.7 325,208.5 330,209.2 335,209.6 340,209.7 345,209.4 350,209.0 355,208.7 360,208.6 365,208.9 370,209.7 375,210.5 380,211.3 385,211.8 390,211.6 395,211.0 400,210.0 405,209.1 410,208.6 415,208.7 420,209.5 425,210.8 430,212.3 435,213.6 440,214.5 445,214.8 450,214.5 455,213.9 460,213.2 465,212.7 470,212.5 475,212.7 480,213.2 485,213.8 490,214.6 495,215.5 500,216.4 505,217.3 510,218.0 515,218.6 520,218.8 525,218.5 530,217.6 535,216.3 540,214.9 545,213.8 550,213.2 555,213.4 560,214.3 565,215.8 570,217.5 575,218.9 580,219.7 585,219.6 590,219.0 595,218.2 600,217.6 605,217.8 610,218.8 615,220.4 620,222.5 625,224.3 630,225.6 635,225.9 640,225.3 645,224.0 650,222.4 655,220.9 660,219.7 665,219.0 670,218.9 675,219.2 680,219.8 685,220.4 690,220.9 695,221.5 700,222.1 705,222.6 710,223.0 715,223.0 720,222.6 725,221.7 730,220.0 735,218.2 740,216.7 745,216.0 750,216.0 755,216.5 760,217.3 765,217.8 770,217.7 775,216.7 780,214.9 785,212.7 790,210.4 795,208.7 800,207.4 805,205.9 810,204.8 815,203.6 820,202.2 825,200.4 830,198.9 835,198.4 840,197.9 845,197.6 850,197.6 855,197.9 860,198.2 865,198.6 870,198.9 875,199.4 880,200.1 885,200.9 890,201.7 895,202.7 900,203.6 905,204.4 910,204.9 915,204.9 920,204.4 925,203.6 930,203.0 935,202.8 940,203.2 945,204.2 950,204.6 955,205.1 960,205.4 965,205.1 970,204.4 975,203.3 980,202.2 985,201.1 990,200.1 995,198.8 1000,197.8 1005,196.6 1010,195.4 1015,193.9 1020,192.7 1025,191.9 1030,191.1 1035,190.4 1040,189.8 1045,189.3 1050,188.8 1055,188.3 1060,188.2 1065,188.2 1068,188.2 L1068,150Z" fill="#4e0090"/>
<path d="M60,150 L60,196.9 65,196.5 70,196.1 75,196.0 80,196.3 85,196.8 90,197.6 95,198.3 100,199.0 105,199.4 110,199.7 115,199.8 120,199.8 125,199.7 130,199.5 135,199.2 140,198.8 145,198.2 150,197.7 155,197.3 160,197.1 165,197.1 170,197.5 175,198.2 180,199.2 185,200.3 190,201.3 195,202.1 200,202.4 205,202.2 210,201.8 215,201.3 220,200.9 225,201.0 230,201.4 235,202.1 240,202.8 245,203.3 250,203.5 255,203.4 260,203.2 265,202.8 270,202.6 275,202.5 280,202.7 285,203.0 290,203.5 295,204.1 300,204.7 305,205.3 310,205.8 315,206.1 320,206.3 325,206.4 330,206.5 335,206.4 340,206.3 345,206.1 350,205.9 355,205.7 360,205.8 365,206.3 370,207.3 375,208.5 380,209.8 385,210.7 390,211.0 395,210.5 400,209.5 405,208.3 410,207.5 415,207.2 420,207.7 425,208.8 430,210.1 435,211.2 440,211.9 445,212.1 450,211.8 455,211.3 460,210.9 465,210.8 470,211.2 475,211.8 480,212.8 485,213.8 490,214.8 495,215.5 500,216.1 505,216.4 510,216.5 515,216.4 520,216.0 525,215.3 530,214.3 535,213.1 540,211.8 545,210.9 550,210.7 555,211.3 560,212.8 565,214.9 570,217.2 575,219.0 580,220.0 585,219.9 590,218.9 595,217.6 600,216.7 605,216.4 610,217.2 615,218.7 620,220.7 625,222.7 630,224.2 635,224.9 640,224.8 645,223.9 650,222.4 655,220.8 660,219.2 665,218.0 670,217.3 675,217.1 680,217.1 685,217.4 690,217.7 695,218.1 700,218.6 705,219.1 710,219.7 715,220.1 720,220.2 725,219.7 730,218.4 735,216.8 740,215.2 745,214.1 750,213.7 755,213.8 760,214.3 765,214.7 770,214.5 775,213.7 780,212.3 785,210.7 790,209.2 795,208.1 800,207.5 805,206.4 810,205.3 815,204.1 820,202.6 825,200.6 830,198.9 835,198.3 840,197.6 845,196.9 850,196.4 855,196.2 860,196.3 865,196.6 870,197.1 875,197.9 880,199.0 885,200.1 890,201.2 895,202.3 900,203.3 905,204.1 910,204.5 915,204.6 920,203.9 925,203.0 930,202.3 935,201.9 940,202.1 945,202.9 950,203.1 955,203.4 960,203.5 965,203.2 970,202.6 975,201.8 980,200.9 985,200.0 990,199.2 995,198.0 1000,196.9 1005,195.8 1010,194.6 1015,193.4 1020,192.4 1025,191.8 1030,191.1 1035,190.4 1040,189.6 1045,188.9 1050,188.3 1055,187.9 1060,187.8 1065,187.9 1068,188.0 L1068,150Z" fill="#1d0086"/>
<path d="M60,150 L60,196.2 65,196.4 70,196.5 75,196.5 80,196.5 85,196.6 90,197.0 95,197.4 100,197.6 105,197.6 110,197.5 115,197.5 120,197.6 125,197.9 130,198.0 135,198.0 140,198.0 145,198.1 150,198.3 155,198.2 160,198.0 165,197.7 170,197.6 175,198.1 180,198.9 185,199.9 190,200.7 195,201.3 200,201.7 205,201.8 210,201.7 215,201.4 220,200.8 225,200.5 230,200.7 235,201.3 240,202.0 245,202.5 250,202.7 255,202.5 260,202.2 265,201.7 270,201.1 275,200.4 280,199.8 285,199.7 290,200.1 295,200.8 300,201.7 305,202.6 310,203.4 315,204.3 320,205.2 325,205.9 330,206.2 335,205.9 340,205.4 345,204.8 350,204.4 355,204.3 360,204.4 365,204.9 370,205.8 375,207.1 380,208.3 385,209.0 390,208.8 395,207.8 400,206.6 405,205.4 410,204.7 415,204.5 420,205.0 425,206.1 430,207.7 435,209.4 440,210.8 445,211.3 450,211.1 455,210.3 460,209.5 465,209.1 470,209.1 475,209.5 480,210.3 485,211.5 490,213.0 495,214.5 500,215.5 505,216.0 510,216.0 515,215.8 520,215.4 525,214.9 530,214.0 535,213.0 540,212.1 545,211.7 550,212.1 555,213.0 560,214.3 565,215.6 570,216.9 575,217.9 580,218.3 585,217.7 590,216.6 595,215.4 600,214.7 605,215.1 610,216.3 615,218.1 620,220.0 625,221.4 630,222.3 635,222.4 640,221.6 645,220.0 650,218.2 655,216.7 660,215.7 665,215.6 670,216.0 675,216.4 680,216.7 685,216.8 690,216.9 695,217.0 700,217.0 705,216.8 710,216.7 715,216.7 720,216.8 725,216.8 730,216.0 735,214.9 740,213.7 745,212.9 750,212.6 755,212.5 760,212.4 765,212.0 770,211.5 775,210.7 780,209.7 785,208.5 790,207.1 795,205.8 800,204.9 805,203.6 810,202.6 815,201.5 820,200.1 825,198.4 830,197.3 835,197.4 840,197.4 845,197.4 850,197.3 855,197.2 860,197.3 865,197.6 870,197.7 875,198.0 880,198.4 885,198.9 890,199.6 895,200.6 900,201.5 905,202.2 910,202.8 915,203.1 920,203.1 925,202.9 930,202.4 935,201.9 940,201.8 945,202.3 950,202.4 955,202.7 960,202.8 965,202.5 970,201.9 975,201.1 980,200.3 985,199.4 990,198.4 995,197.0 1000,195.9 1005,195.0 1010,194.2 1015,193.2 1020,192.3 1025,191.6 1030,191.0 1035,190.5 1040,190.0 1045,189.2 1050,188.4 1055,187.5 1060,187.2 1065,187.2 1068,187.3 L1068,150Z" fill="#0000a1"/>
<path d="M60,150 L60,181.8 65,181.6 70,181.6 75,181.7 80,181.9 85,181.8 90,181.6 95,181.2 100,180.9 105,180.8 110,181.1 115,181.5 120,190.1 125,190.7 130,191.1 135,191.1 140,191.3 145,191.6 150,191.8 155,192.0 160,192.0 165,192.2 170,192.7 175,193.4 180,194.3 185,194.9 190,195.3 195,195.5 200,195.6 205,195.7 210,195.7 215,195.8 220,195.9 225,196.0 230,196.3 235,196.9 240,197.5 245,198.2 250,198.6 255,198.6 260,198.2 265,197.6 270,197.1 275,196.8 280,196.9 285,197.4 290,198.1 295,199.0 300,199.8 305,200.4 310,201.0 315,201.5 320,202.0 325,202.4 330,202.5 335,202.1 340,201.2 345,200.0 350,199.0 355,198.6 360,198.9 365,199.9 370,201.3 375,202.6 380,203.8 385,204.6 390,205.0 395,205.0 400,204.3 405,203.3 410,202.2 415,201.5 420,201.4 425,202.1 430,203.1 435,204.2 440,204.8 445,204.9 450,204.5 455,204.0 460,203.5 465,203.2 470,203.1 475,203.3 480,203.8 485,204.5 490,205.4 495,206.2 500,211.4 505,212.1 510,212.6 515,212.9 520,213.2 525,213.2 530,212.9 535,212.2 540,211.3 545,210.4 550,210.0 555,210.4 560,211.5 565,213.2 570,215.1 575,216.6 580,217.6 585,217.6 590,217.0 595,216.1 600,215.4 605,215.4 610,216.1 615,217.4 620,218.9 625,220.2 630,220.8 635,220.5 640,219.6 645,218.1 650,216.5 655,214.9 660,213.8 665,213.4 670,213.8 675,214.9 680,216.1 685,217.2 690,217.9 695,218.3 700,218.4 705,218.4 710,218.3 715,217.8 720,216.8 725,215.3 730,213.3 735,211.7 740,210.8 745,210.7 750,211.2 755,211.8 760,212.3 765,212.3 770,211.8 775,202.8 780,202.1 785,201.0 790,199.8 795,198.7 800,198.1 805,197.5 810,197.3 815,197.2 820,196.8 825,196.0 830,195.2 835,195.0 840,194.7 845,194.4 850,194.0 855,193.7 860,193.4 865,193.4 870,193.7 875,194.4 880,195.4 885,196.5 890,197.5 895,198.3 900,199.0 905,199.5 910,199.7 915,199.6 920,199.1 925,198.3 930,197.6 935,197.2 940,197.2 945,197.8 950,198.0 955,198.5 960,198.8 965,198.7 970,198.1 975,196.9 980,195.5 985,194.3 990,193.3 995,192.4 1000,191.7 1005,190.8 1010,189.6 1015,188.5 1020,187.7 1025,187.5 1030,187.6 1035,187.5 1040,187.3 1045,186.9 1050,186.5 1055,186.3 1060,186.5 1065,186.7 1068,186.7 L1068,150Z" fill="#0000e2"/>
<path d="M60,150 L60,181.7 65,181.7 70,181.5 75,181.3 80,181.2 85,181.4 90,181.6 95,181.7 100,181.5 105,181.2 110,181.1 115,181.2 120,181.4 125,181.6 130,190.1 135,190.5 140,190.8 145,190.8 150,190.9 155,191.0 160,191.2 165,191.4 170,191.7 175,192.3 180,193.2 185,194.1 190,195.0 195,195.7 200,196.1 205,196.1 210,195.8 215,195.3 220,194.9 225,194.9 230,195.1 235,195.5 240,195.9 245,196.3 250,196.7 255,197.1 260,197.4 265,197.3 270,196.8 275,196.3 280,196.0 285,196.1 290,196.5 295,197.0 300,197.4 305,197.7 310,198.2 315,199.0 320,200.0 325,200.9 330,201.3 335,201.2 340,200.5 345,199.7 350,199.0 355,198.5 360,198.2 365,198.6 370,199.5 375,200.7 380,202.0 385,203.1 390,203.7 395,203.8 400,203.5 405,203.1 410,202.7 415,202.6 420,202.7 425,203.1 430,203.4 435,203.7 440,203.5 445,203.1 450,202.6 455,202.1 460,201.8 465,201.7 470,201.8 475,202.5 480,203.6 485,205.0 490,206.2 495,206.7 500,206.5 505,205.7 510,204.9 515,204.4 520,204.3 525,204.3 530,203.9 535,203.1 540,202.3 545,201.8 550,201.8 555,202.3 560,202.9 565,203.4 570,203.8 575,204.0 580,203.9 585,203.6 590,203.3 595,203.0 600,203.1 605,203.4 610,204.0 615,204.5 620,204.8 625,204.9 630,204.8 635,204.5 640,204.0 645,203.4 650,202.7 655,202.2 660,201.9 665,202.0 670,202.2 675,202.6 680,203.0 685,203.3 690,203.2 695,202.9 700,202.3 705,202.0 710,202.0 715,202.5 720,203.0 725,203.0 730,202.0 735,200.2 740,198.3 745,198.0 750,198.5 755,199.5 760,200.3 765,200.6 770,200.5 775,200.3 780,199.9 785,199.6 790,199.3 795,199.0 800,198.7 805,197.8 810,197.1 815,196.5 820,195.8 825,194.8 830,194.0 835,193.8 840,193.5 845,193.2 850,193.0 855,193.0 860,193.3 865,193.8 870,194.3 875,194.9 880,195.7 885,196.4 890,197.1 895,197.6 900,197.9 905,197.8 910,197.7 915,197.5 920,197.0 925,196.6 930,196.1 935,195.8 940,195.9 945,196.8 950,197.4 955,197.9 960,197.9 965,197.2 970,196.0 975,194.7 980,193.6 985,192.9 990,192.2 995,191.3 1000,190.4 1005,189.7 1010,189.0 1015,188.2 1020,183.5 1025,183.7 1030,183.7 1035,183.8 1040,184.0 1045,184.3 1050,184.6 1055,184.8 1060,184.9 1065,184.7 1068,185.7 L1068,150Z" fill="#0021ff"/>
<path d="M60,150 L60,182.1 65,182.2 70,182.4 75,182.3 80,182.0 85,181.7 90,181.4 95,181.3 100,181.1 105,180.9 110,180.7 115,180.9 120,181.3 125,181.6 130,181.5 135,187.4 140,189.6 145,190.2 150,190.6 155,190.8 160,190.8 165,190.9 170,191.4 175,192.1 180,192.7 185,193.1 190,193.4 195,194.0 200,194.5 205,194.9 210,194.9 215,194.5 220,194.2 225,194.1 230,194.2 235,194.4 240,194.8 245,195.4 250,196.2 255,196.6 260,196.4 265,195.7 270,195.1 275,194.9 280,195.3 285,195.8 290,196.3 295,196.6 300,197.1 305,197.6 310,198.3 315,198.8 320,199.2 325,199.5 330,199.6 335,199.2 340,198.2 345,197.2 350,196.7 355,197.1 360,198.0 365,199.1 370,200.0 375,200.9 380,201.7 385,202.2 390,202.4 395,202.0 400,201.2 405,200.5 410,200.2 415,200.2 420,200.4 425,201.0 430,201.9 435,202.9 440,203.3 445,202.9 450,202.0 455,201.0 460,200.5 465,200.6 470,201.0 475,201.6 480,202.4 485,203.2 490,204.1 495,204.6 500,204.7 505,204.7 510,204.7 515,204.9 520,205.0 525,204.5 530,203.7 535,202.6 540,201.4 545,200.2 550,199.1 555,198.3 560,198.2 565,198.9 570,200.1 575,201.2 580,201.7 585,201.9 590,202.1 595,202.4 600,202.6 605,202.6 610,202.5 615,202.6 620,203.0 625,203.4 630,203.5 635,203.4 640,203.2 645,202.9 650,202.3 655,201.6 660,200.7 665,200.4 670,200.7 675,201.4 680,201.8 685,201.7 690,201.2 695,200.6 700,200.1 705,199.4 710,198.8 715,198.4 720,198.1 725,197.8 730,197.1 735,196.0 740,194.7 745,195.3 750,196.8 755,198.7 760,200.0 765,200.4 770,200.3 775,200.1 780,199.7 785,198.9 790,198.0 795,197.2 800,197.0 805,196.7 810,196.6 815,196.1 820,195.2 825,194.0 830,193.2 835,192.9 840,192.7 845,192.4 850,192.4 855,192.6 860,192.8 865,192.9 870,192.8 875,193.0 880,193.8 885,194.9 890,195.8 895,196.4 900,196.8 905,197.2 910,197.8 915,198.2 920,197.9 925,197.1 930,196.1 935,195.4 940,195.0 945,195.0 950,194.8 955,195.0 960,195.5 965,195.7 970,195.4 975,194.6 980,193.5 985,192.6 990,192.1 995,191.4 1000,190.5 1005,189.3 1010,188.0 1015,182.7 1020,183.1 1025,183.3 1030,183.4 1035,183.7 1040,184.1 1045,184.6 1050,184.9 1055,184.9 1060,184.7 1065,184.7 1068,184.7 L1068,150Z" fill="#0065ff"/>
<path d="M60,150 L60,181.9 65,181.7 70,181.6 75,181.5 80,181.6 85,181.7 90,181.6 95,181.3 100,181.0 105,180.8 110,180.8 115,180.9 120,181.1 125,181.2 130,181.2 135,181.4 140,181.5 145,188.0 150,189.2 155,189.5 160,189.9 165,190.5 170,190.9 175,191.3 180,191.7 185,192.3 190,192.8 195,193.3 200,193.5 205,193.5 210,193.5 215,193.4 220,193.5 225,193.7 230,193.8 235,193.9 240,194.1 245,194.5 250,195.0 255,195.2 260,195.1 265,194.8 270,194.5 275,194.6 280,195.0 285,195.6 290,196.1 295,196.6 300,197.0 305,197.2 310,197.5 315,197.9 320,198.4 325,198.9 330,199.3 335,199.2 340,198.4 345,197.5 350,196.8 355,196.4 360,196.4 365,197.0 370,197.8 375,198.6 380,199.4 385,200.2 390,200.8 395,201.0 400,200.7 405,200.1 410,199.5 415,199.2 420,199.3 425,199.6 430,200.1 435,200.6 440,201.0 445,201.4 450,201.4 455,201.1 460,200.7 465,200.5 470,200.5 475,200.9 480,201.5 485,202.1 490,202.6 495,202.8 500,202.9 505,202.8 510,202.7 515,202.6 520,202.5 525,202.4 530,202.0 535,201.1 540,199.9 545,198.8 550,198.1 555,198.1 560,198.7 565,199.4 570,200.1 575,200.5 580,200.7 585,200.7 590,200.8 595,200.9 600,201.1 605,201.2 610,201.4 615,201.6 620,201.7 625,201.7 630,201.6 635,201.4 640,201.2 645,200.6 650,199.9 655,199.1 660,198.3 665,198.1 670,198.2 675,198.6 680,198.8 685,198.9 690,198.5 695,197.8 700,197.1 705,196.4 710,196.0 715,196.1 720,196.2 725,195.8 730,194.7 735,176.0 740,176.1 745,175.9 750,175.7 755,194.7 760,196.9 765,198.7 770,199.4 775,199.3 780,198.8 785,198.1 790,197.5 795,197.1 800,196.9 805,196.4 810,196.0 815,195.5 820,194.7 825,193.8 830,193.1 835,193.0 840,192.8 845,192.4 850,191.9 855,191.6 860,191.6 865,192.0 870,192.5 875,193.0 880,193.5 885,194.0 890,194.4 895,194.9 900,195.3 905,195.6 910,195.6 915,195.6 920,195.4 925,195.3 930,195.1 935,195.1 940,195.4 945,195.9 950,196.0 955,196.0 960,195.8 965,195.4 970,194.7 975,193.9 980,192.8 985,191.9 990,191.0 995,189.9 1000,189.1 1005,188.3 1010,182.5 1015,182.9 1020,183.1 1025,183.3 1030,183.6 1035,184.0 1040,184.4 1045,184.5 1050,184.5 1055,184.6 1060,184.7 1065,184.8 1068,184.9 L1068,150Z" fill="#00a7ff"/>
<path d="M60,150 L60,181.4 65,181.6 70,181.7 75,181.8 80,181.9 85,181.8 90,181.7 95,181.6 100,181.5 105,181.3 110,181.2 115,181.2 120,181.3 125,181.5 130,181.6 135,181.7 140,181.7 145,181.5 150,181.4 155,181.4 160,188.9 165,189.5 170,190.1 175,190.6 180,191.0 185,191.4 190,192.0 195,192.8 200,193.4 205,193.7 210,193.7 215,193.4 220,193.0 225,192.8 230,192.9 235,193.1 240,193.4 245,193.6 250,193.8 255,193.9 260,194.1 265,194.2 270,194.3 275,194.4 280,194.5 285,194.8 290,195.2 295,195.8 300,196.4 305,196.8 310,197.0 315,197.0 320,197.2 325,197.5 330,197.8 335,198.0 340,197.5 345,196.7 350,195.7 355,195.1 360,195.1 365,195.8 370,196.9 375,197.9 380,198.6 385,199.0 390,199.2 395,199.3 400,199.5 405,199.6 410,199.7 415,199.6 420,199.7 425,199.9 430,200.5 435,201.1 440,201.3 445,201.0 450,200.2 455,199.1 460,198.3 465,198.0 470,198.5 475,199.5 480,200.6 485,201.6 490,202.3 495,202.8 500,203.0 505,202.9 510,202.6 515,202.1 520,201.4 525,200.6 530,199.8 535,199.1 540,198.5 545,198.0 550,197.7 555,197.6 560,197.8 565,198.1 570,198.5 575,198.4 580,197.9 585,197.1 590,196.6 595,196.7 600,197.2 605,198.0 610,198.8 615,199.3 620,199.4 625,199.1 630,199.0 635,199.1 640,199.4 645,199.4 650,199.0 655,198.2 660,197.0 665,196.3 670,196.1 675,196.3 680,196.6 685,196.5 690,195.9 695,195.0 700,174.0 705,173.9 710,174.0 715,174.2 720,174.6 725,175.1 730,175.7 735,176.3 740,176.6 745,176.7 750,176.5 755,176.2 760,193.7 765,196.0 770,197.6 775,198.4 780,198.3 785,197.6 790,196.8 795,196.0 800,195.4 805,194.6 810,193.9 815,193.4 820,192.9 825,192.6 830,192.4 835,192.7 840,192.7 845,192.4 850,192.0 855,191.7 860,191.6 865,191.9 870,192.2 875,192.7 880,193.2 885,193.6 890,194.1 895,194.8 900,195.4 905,196.0 910,196.2 915,196.2 920,195.7 925,195.2 930,194.8 935,194.6 940,194.6 945,194.6 950,194.2 955,193.9 960,193.7 965,193.6 970,193.3 975,192.8 980,192.0 985,191.0 990,190.0 995,189.1 1000,181.7 1005,182.4 1010,182.9 1015,183.2 1020,183.3 1025,183.2 1030,183.4 1035,183.9 1040,184.3 1045,184.7 1050,184.7 1055,184.7 1060,184.6 1065,184.6 1068,184.8 L1068,150Z" fill="#00e8ff"/>
<path d="M60,150 L60,181.8 65,181.9 70,181.9 75,181.6 80,181.5 85,181.6 90,181.8 95,181.8 100,181.6 105,181.4 110,181.3 115,181.4 120,181.4 125,181.3 130,181.1 135,180.9 140,181.0 145,181.3 150,181.5 155,181.6 160,181.6 165,186.7 170,189.2 175,189.9 180,190.4 185,190.7 190,191.1 195,191.7 200,192.4 205,193.0 210,193.0 215,192.7 220,192.5 225,192.5 230,192.6 235,192.5 240,192.6 245,193.0 250,193.5 255,193.8 260,193.8 265,193.3 270,192.9 275,192.8 280,193.2 285,193.9 290,194.5 295,194.8 300,195.1 305,195.6 310,196.3 315,196.9 320,197.2 325,197.3 330,197.3 335,197.3 340,197.1 345,196.6 350,195.8 355,195.1 360,195.0 365,195.8 370,197.1 375,198.1 380,198.5 385,198.6 390,198.8 395,199.0 400,199.0 405,198.7 410,198.1 415,197.8 420,198.1 425,198.8 430,199.6 435,199.8 440,199.7 445,199.4 450,199.2 455,199.1 460,198.7 465,198.3 470,198.1 475,198.6 480,199.7 485,200.8 490,201.5 495,201.4 500,201.0 505,200.8 510,200.9 515,201.1 520,201.0 525,200.5 530,199.7 535,198.8 540,198.0 545,197.2 550,196.3 555,195.7 560,195.5 565,195.7 570,196.3 575,196.6 580,196.2 585,195.7 590,195.6 595,196.2 600,197.1 605,197.6 610,197.4 615,196.7 620,195.9 625,195.2 630,195.1 635,195.3 640,195.6 645,195.8 650,195.9 655,195.8 660,195.3 665,194.8 670,194.5 675,194.3 680,194.3 685,194.1 690,175.5 695,175.1 700,174.4 705,173.7 710,173.2 715,173.2 720,173.5 725,174.1 730,174.9 735,175.7 740,176.4 745,176.9 750,177.0 755,176.7 760,176.2 765,191.9 770,195.2 775,196.2 780,196.4 785,196.2 790,195.6 795,194.8 800,194.3 805,193.7 810,193.5 815,193.3 820,193.1 825,192.8 830,192.5 835,192.5 840,192.4 845,192.1 850,191.6 855,191.1 860,190.9 865,191.0 870,191.4 875,192.0 880,192.9 885,193.7 890,194.4 895,194.9 900,195.2 905,195.2 910,195.1 915,194.8 920,194.3 925,193.8 930,193.6 935,193.6 940,194.0 945,194.8 950,195.0 955,195.0 960,194.7 965,194.1 970,193.1 975,192.1 980,190.7 985,189.6 990,188.8 995,181.8 1000,182.1 1005,182.2 1010,182.4 1015,182.7 1020,183.0 1025,183.5 1030,183.8 1035,184.0 1040,184.1 1045,184.2 1050,184.4 1055,184.7 1060,184.9 1065,184.8 1068,184.7 L1068,150Z" fill="#21ffde"/>
<path d="M60,150 L60,181.5 65,181.6 70,181.8 75,181.9 80,181.9 85,181.7 90,181.4 95,181.2 100,181.1 105,181.1 110,181.2 115,181.2 120,181.2 125,181.3 130,181.5 135,181.7 140,181.9 145,181.9 150,181.8 155,181.8 160,181.8 165,181.8 170,181.8 175,181.5 180,186.6 185,186.3 190,187.1 195,189.7 200,190.4 205,191.1 210,191.6 215,191.9 220,191.9 225,191.8 230,191.7 235,191.6 240,191.6 245,191.8 250,192.2 255,192.6 260,192.7 265,192.7 270,192.6 275,192.7 280,193.2 285,193.9 290,194.6 295,195.1 300,195.4 305,195.5 310,195.8 315,196.3 320,196.9 325,197.4 330,197.7 335,197.5 340,196.9 345,196.2 350,195.5 355,194.9 360,194.6 365,195.0 370,195.8 375,196.7 380,197.4 385,198.0 390,198.1 395,197.9 400,197.6 405,197.3 410,197.0 415,196.9 420,196.9 425,197.1 430,197.5 435,198.0 440,198.5 445,198.7 450,198.5 455,198.0 460,197.5 465,197.4 470,197.7 475,198.5 480,199.5 485,200.4 490,201.0 495,201.4 500,201.5 505,201.3 510,200.9 515,200.3 520,199.8 525,199.2 530,198.5 535,197.5 540,196.1 545,194.9 550,194.1 555,193.9 560,194.1 565,194.2 570,194.2 575,190.1 580,175.0 585,174.9 590,175.2 595,175.5 600,194.0 605,194.6 610,194.8 615,194.5 620,174.5 625,174.2 630,174.0 635,174.0 640,174.1 645,174.5 650,174.9 655,175.3 660,175.5 665,175.5 670,175.2 675,175.0 680,174.8 685,174.8 690,174.7 695,174.5 700,174.3 705,174.1 710,174.1 715,174.1 720,174.2 725,174.4 730,174.7 735,175.2 740,175.7 745,176.1 750,176.2 755,176.1 760,175.8 765,175.6 770,175.6 775,193.3 780,193.9 785,194.1 790,194.3 795,194.5 800,194.6 805,194.3 810,193.9 815,193.4 820,192.8 825,192.2 830,191.8 835,191.9 840,191.9 845,191.6 850,191.3 855,191.0 860,190.9 865,191.0 870,191.3 875,191.6 880,192.0 885,192.3 890,192.6 895,193.0 900,193.3 905,193.6 910,193.7 915,193.8 920,193.6 925,193.4 930,193.2 935,193.0 940,192.9 945,193.2 950,193.3 955,193.4 960,193.5 965,193.3 970,192.7 975,191.7 980,190.4 985,186.8 990,181.2 995,181.5 1000,181.7 1005,181.9 1010,182.2 1015,182.6 1020,183.1 1025,183.3 1030,183.5 1035,183.7 1040,183.9 1045,184.2 1050,184.6 1055,184.9 1060,185.0 1065,184.9 1068,184.9 L1068,150Z" fill="#5fffa0"/>
<path d="M60,150 L60,181.6 65,181.8 70,182.1 75,182.2 80,181.9 85,181.6 90,181.5 95,181.5 100,181.4 105,181.1 110,180.9 115,181.1 120,181.5 125,181.8 130,181.8 135,181.4 140,181.0 145,180.9 150,181.1 155,181.3 160,181.5 165,181.6 170,181.6 175,181.5 180,181.1 185,180.6 190,180.1 195,179.9 200,180.0 205,190.8 210,191.2 215,191.1 220,190.7 225,190.4 230,190.4 235,190.3 240,190.3 245,190.4 250,190.9 255,191.5 260,192.1 265,192.4 270,192.5 275,192.6 280,192.9 285,193.0 290,193.1 295,193.1 300,193.3 305,193.8 310,194.6 315,195.3 320,195.8 325,196.2 330,196.6 335,196.6 340,196.0 345,195.0 350,193.7 355,192.8 360,192.9 365,193.9 370,195.3 375,196.1 380,196.6 385,197.1 390,197.4 395,197.3 400,197.0 405,196.6 410,196.5 415,196.8 420,197.3 425,197.8 430,198.2 435,198.7 440,198.9 445,198.6 450,197.8 455,196.8 460,196.1 465,196.2 470,196.9 475,198.0 480,198.9 485,199.6 490,200.1 495,200.3 500,200.2 505,199.6 510,198.9 515,198.2 520,197.7 525,197.0 530,196.1 535,195.0 540,193.9 545,193.1 550,192.7 555,189.5 560,176.4 565,175.6 570,175.0 575,174.7 580,174.5 585,174.3 590,174.1 595,174.3 600,174.8 605,175.4 610,175.6 615,175.4 620,175.0 625,174.6 630,174.2 635,173.9 640,173.6 645,173.6 650,173.9 655,174.6 660,175.2 665,175.5 670,175.6 675,175.7 680,175.7 685,175.5 690,175.0 695,174.4 700,173.9 705,173.8 710,174.0 715,174.2 720,174.4 725,174.7 730,175.4 735,176.3 740,176.8 745,176.8 750,176.3 755,175.7 760,175.4 765,175.4 770,175.6 775,176.1 780,176.9 785,192.6 790,192.9 795,193.0 800,192.9 805,192.6 810,192.5 815,192.6 820,192.6 825,192.0 830,191.2 835,190.9 840,190.7 845,190.7 850,190.6 855,190.4 860,190.2 865,190.4 870,190.9 875,191.5 880,192.1 885,192.6 890,193.1 895,193.4 900,193.6 905,193.5 910,193.5 915,193.6 920,193.8 925,193.7 930,193.3 935,192.7 940,192.3 945,192.5 950,192.5 955,192.7 960,192.6 965,192.2 970,191.6 975,190.9 980,180.6 985,180.8 990,180.9 995,181.1 1000,181.6 1005,182.2 1010,182.6 1015,183.0 1020,183.3 1025,183.6 1030,183.9 1035,184.1 1040,184.1 1045,184.2 1050,184.4 1055,184.8 1060,185.0 1065,184.8 1068,184.6 L1068,150Z" fill="#a0ff5f"/>
<path d="M60,150 L60,181.7 65,181.8 70,181.7 75,181.5 80,181.5 85,181.6 90,181.8 95,181.8 100,181.6 105,181.3 110,181.2 115,181.3 120,181.4 125,181.4 130,181.3 135,181.2 140,181.2 145,181.3 150,181.5 155,181.7 160,181.7 165,181.7 170,181.6 175,181.4 180,181.0 185,180.5 190,180.0 195,179.8 200,179.9 205,180.2 210,189.4 215,190.3 220,189.9 225,188.6 230,180.3 235,180.3 240,180.0 245,179.5 250,179.1 255,190.1 260,190.6 265,191.0 270,191.3 275,191.3 280,191.5 285,191.9 290,192.7 295,193.5 300,193.9 305,194.0 310,194.1 315,194.3 320,194.8 325,195.5 330,195.8 335,195.5 340,194.6 345,193.3 350,192.1 355,191.4 360,191.4 365,192.3 370,193.6 375,194.9 380,196.1 385,196.7 390,196.9 395,196.8 400,196.6 405,196.5 410,196.4 415,196.4 420,196.5 425,196.8 430,197.4 435,198.0 440,198.5 445,198.4 450,197.7 455,196.6 460,195.8 465,195.3 470,195.4 475,196.2 480,197.3 485,198.2 490,198.9 495,199.4 500,199.5 505,199.0 510,197.9 515,196.6 520,195.6 525,194.9 530,194.1 535,193.1 540,177.2 545,177.0 550,176.8 555,176.7 560,176.3 565,175.8 570,175.2 575,174.8 580,174.8 585,175.1 590,175.5 595,175.6 600,175.4 605,175.0 610,174.5 615,174.0 620,173.5 625,172.9 630,172.6 635,172.6 640,173.3 645,174.4 650,175.4 655,176.0 660,176.1 665,175.9 670,175.7 675,175.5 680,175.3 685,175.0 690,174.6 695,174.3 700,174.2 705,174.4 710,174.6 715,174.7 720,174.8 725,175.0 730,175.4 735,175.8 740,176.1 745,176.3 750,176.2 755,176.2 760,176.1 765,176.1 770,176.1 775,176.2 780,176.6 785,177.2 790,178.0 795,192.1 800,192.2 805,191.7 810,191.3 815,191.1 820,191.2 825,191.1 830,190.9 835,190.8 840,190.5 845,190.5 850,190.6 855,190.5 860,190.3 865,190.0 870,190.0 875,190.4 880,191.2 885,191.9 890,192.2 895,192.2 900,192.1 905,192.2 910,192.5 915,192.9 920,192.8 925,192.4 930,191.9 935,191.6 940,191.7 945,192.2 950,192.2 955,192.2 960,192.0 965,191.6 970,190.8 975,180.2 980,180.3 985,180.5 990,180.8 995,181.4 1000,181.9 1005,182.2 1010,182.5 1015,182.8 1020,183.2 1025,183.6 1030,184.0 1035,184.2 1040,184.2 1045,184.2 1050,184.4 1055,184.7 1060,184.9 1065,184.9 1068,184.8 L1068,150Z" fill="#e2ff1d"/>
<path d="M60,150 L60,181.9 65,182.0 70,182.0 75,182.1 80,182.1 85,182.2 90,182.0 95,181.6 100,181.0 105,180.7 110,180.7 115,181.0 120,181.2 125,181.3 130,181.3 135,181.2 140,181.2 145,181.4 150,181.5 155,181.5 160,181.3 165,181.2 170,181.1 175,181.0 180,180.8 185,180.4 190,179.9 195,179.7 200,179.9 205,180.4 210,181.0 215,181.3 220,181.2 225,180.9 230,180.6 235,180.3 240,179.9 245,179.6 250,179.4 255,179.4 260,179.7 265,180.2 270,190.5 275,190.8 280,190.9 285,191.3 290,191.8 295,192.4 300,192.9 305,193.2 310,193.5 315,194.0 320,194.6 325,195.1 330,195.4 335,195.1 340,193.9 345,192.4 350,191.2 355,179.2 360,179.1 365,186.4 370,192.3 375,193.3 380,194.3 385,195.2 390,195.9 395,196.0 400,195.7 405,195.2 410,195.0 415,195.0 420,195.4 425,195.9 430,196.4 435,197.1 440,197.6 445,198.0 450,197.9 455,197.1 460,195.6 465,194.2 470,193.7 475,194.2 480,195.5 485,196.7 490,197.6 495,197.9 500,197.7 505,197.2 510,196.5 515,195.6 520,194.7 525,193.7 530,190.7 535,176.6 540,177.1 545,177.3 550,177.0 555,176.4 560,175.6 565,175.0 570,174.6 575,174.4 580,174.4 585,174.7 590,175.2 595,175.9 600,176.4 605,176.4 610,176.0 615,175.1 620,174.3 625,173.8 630,173.5 635,173.6 640,173.7 645,173.9 650,174.3 655,174.9 660,175.5 665,175.9 670,175.9 675,175.6 680,175.2 685,175.0 690,174.8 695,174.5 700,174.2 705,173.8 710,173.6 715,173.7 720,174.1 725,174.6 730,175.0 735,175.2 740,175.4 745,175.6 750,175.9 755,176.0 760,176.1 765,176.2 770,176.5 775,177.1 780,177.8 785,178.5 790,178.9 795,179.0 800,185.9 805,190.1 810,190.4 815,190.7 820,190.7 825,190.4 830,190.2 835,190.2 840,190.2 845,190.1 850,189.8 855,189.4 860,189.2 865,189.5 870,190.1 875,190.8 880,191.4 885,191.6 890,191.5 895,191.4 900,191.3 905,191.4 910,191.4 915,191.2 920,190.9 925,190.7 930,190.7 935,190.9 940,191.2 945,191.8 950,191.8 955,191.8 960,191.5 965,190.8 970,180.8 975,180.7 980,180.6 985,180.6 990,180.9 995,181.4 1000,181.8 1005,182.1 1010,182.3 1015,182.7 1020,183.2 1025,183.6 1030,183.9 1035,184.1 1040,184.1 1045,184.3 1050,184.6 1055,184.9 1060,184.9 1065,184.6 1068,184.5 L1068,150Z" fill="#ffde00"/>
<path d="M60,150 L60,182.2 65,181.9 70,181.7 75,181.7 80,181.7 85,181.7 90,181.5 95,181.3 100,181.0 105,180.8 110,180.7 115,180.6 120,180.5 125,180.6 130,180.8 135,181.1 140,181.6 145,181.9 150,182.0 155,181.9 160,181.7 165,181.5 170,181.3 175,181.2 180,180.9 185,180.6 190,180.3 195,180.1 200,180.0 205,180.1 210,180.2 215,180.2 220,180.1 225,180.0 230,180.0 235,180.0 240,180.0 245,180.0 250,180.0 255,180.1 260,180.4 265,180.7 270,181.0 275,181.0 280,189.7 285,190.3 290,191.0 295,191.6 300,192.1 305,192.4 310,192.8 315,193.3 320,193.9 325,194.5 330,194.7 335,194.1 340,192.7 345,190.9 350,178.6 355,178.7 360,178.8 365,178.8 370,178.5 375,192.6 380,193.5 385,194.1 390,194.6 395,195.0 400,195.2 405,195.3 410,195.3 415,195.3 420,195.4 425,195.6 430,195.9 435,196.3 440,196.4 445,196.3 450,195.7 455,194.9 460,193.9 465,193.1 470,192.6 475,192.8 480,193.7 485,194.7 490,195.6 495,196.0 500,195.8 505,195.2 510,194.4 515,193.6 520,176.0 525,176.4 530,176.7 535,177.0 540,177.2 545,177.5 550,177.5 555,177.4 560,176.8 565,176.0 570,175.2 575,174.6 580,174.4 585,174.6 590,175.1 595,175.4 600,175.6 605,175.5 610,175.2 615,174.7 620,174.1 625,173.5 630,173.0 635,172.9 640,173.2 645,173.7 650,174.2 655,174.5 660,174.7 665,174.7 670,174.7 675,174.8 680,175.0 685,175.1 690,175.0 695,174.8 700,174.6 705,174.4 710,174.4 715,174.6 720,174.9 725,175.2 730,175.8 735,176.3 740,176.7 745,176.7 750,176.4 755,175.8 760,175.2 765,174.9 770,175.1 775,175.7 780,176.6 785,177.6 790,178.4 795,179.0 800,179.4 805,180.0 810,180.3 815,180.6 820,180.8 825,186.5 830,189.1 835,189.5 840,189.6 845,189.5 850,189.1 855,188.7 860,181.4 865,181.3 870,189.0 875,189.7 880,190.4 885,190.8 890,190.9 895,190.9 900,190.8 905,190.8 910,189.6 915,188.1 920,186.8 925,179.9 930,180.1 935,180.2 940,185.7 945,190.5 950,190.7 955,191.0 960,190.9 965,180.0 970,180.2 975,180.3 980,180.4 985,180.5 990,180.8 995,181.3 1000,181.9 1005,182.4 1010,182.8 1015,183.1 1020,183.3 1025,183.4 1030,183.6 1035,183.8 1040,183.9 1045,184.2 1050,184.5 1055,184.9 1060,185.2 1065,185.3 1068,185.3 L1068,150Z" fill="#ff9a00"/>
<path d="M60,150 L60,181.9 65,182.0 70,182.1 75,182.1 80,182.1 85,182.0 90,181.7 95,181.3 100,181.0 105,180.8 110,180.7 115,180.8 120,181.0 125,181.2 130,181.4 135,181.4 140,181.4 145,181.4 150,181.3 155,181.3 160,181.4 165,181.4 170,181.4 175,181.2 180,180.9 185,180.5 190,180.1 195,179.9 200,179.8 205,180.0 210,180.4 215,180.7 220,180.9 225,181.0 230,180.8 235,180.4 240,180.1 245,179.9 250,179.8 255,179.9 260,180.1 265,180.3 270,180.4 275,180.3 280,180.1 285,179.8 290,190.2 295,190.6 300,190.8 305,191.0 310,191.4 315,191.9 320,192.5 325,193.1 330,193.4 335,193.0 340,191.8 345,178.3 350,178.5 355,178.6 360,178.6 365,178.3 370,177.9 375,177.5 380,191.9 385,192.7 390,193.3 395,193.7 400,193.8 405,193.7 410,193.5 415,193.2 420,193.1 425,193.2 430,193.6 435,194.3 440,195.0 445,195.3 450,195.0 455,194.1 460,192.8 465,176.9 470,176.8 475,176.7 480,192.6 485,193.7 490,194.6 495,194.9 500,194.6 505,193.9 510,176.0 515,175.9 520,175.9 525,176.0 530,176.2 535,176.6 540,176.9 545,177.0 550,177.0 555,176.7 560,176.3 565,175.7 570,175.2 575,174.9 580,174.8 585,174.9 590,175.2 595,175.4 600,175.5 605,175.4 610,175.1 615,174.6 620,174.0 625,173.5 630,173.2 635,173.1 640,173.2 645,173.6 650,174.1 655,174.7 660,175.2 665,175.6 670,175.9 675,175.9 680,175.8 685,175.5 690,175.2 695,174.8 700,174.5 705,174.2 710,174.1 715,174.2 720,174.3 725,174.6 730,175.0 735,175.5 740,175.9 745,176.1 750,176.3 755,176.3 760,176.3 765,176.3 770,176.4 775,176.6 780,177.0 785,177.4 790,178.0 795,178.5 800,179.0 805,179.5 810,180.0 815,180.4 820,180.7 825,181.1 830,181.4 835,187.3 840,189.0 845,188.8 850,181.5 855,181.5 860,181.4 865,181.3 870,181.1 875,180.9 880,189.0 885,189.6 890,190.0 895,190.2 900,180.3 905,180.1 910,179.9 915,179.6 920,179.5 925,179.5 930,179.5 935,179.6 940,179.7 945,179.6 950,179.7 955,179.8 960,179.8 965,180.0 970,180.3 975,180.7 980,181.2 985,181.6 990,181.9 995,182.2 1000,182.3 1005,182.4 1010,182.4 1015,182.6 1020,182.8 1025,183.1 1030,183.4 1035,183.8 1040,184.2 1045,184.4 1050,184.6 1055,184.8 1060,184.9 1065,184.9 1068,184.9 L1068,150Z" fill="#ff5800"/>
<path d="M60,150 L60,182.1 65,182.1 70,182.3 75,182.5 80,182.4 85,182.0 90,181.4 95,181.0 100,180.9 105,181.0 110,181.1 115,181.1 120,181.0 125,181.0 130,181.1 135,181.3 140,181.4 145,181.4 150,181.3 155,181.2 160,181.3 165,181.4 170,181.5 175,181.3 180,181.1 185,180.8 190,180.5 195,180.3 200,180.1 205,180.0 210,180.0 215,180.1 220,180.1 225,180.1 230,180.0 235,179.8 240,179.8 245,179.9 250,180.1 255,180.3 260,180.4 265,180.5 270,180.6 275,180.7 280,180.7 285,180.5 290,180.0 295,179.4 300,179.0 305,178.9 310,179.0 315,179.0 320,191.2 325,191.7 330,192.1 335,192.0 340,178.6 345,178.9 350,178.9 355,178.6 360,178.3 365,178.1 370,178.1 375,177.9 380,177.5 385,177.1 390,191.0 395,192.1 400,192.5 405,192.9 410,192.8 415,192.4 420,192.0 425,191.9 430,192.3 435,193.0 440,193.6 445,193.7 450,193.2 455,192.3 460,177.4 465,177.7 470,177.6 475,177.3 480,176.8 485,176.4 490,192.8 495,193.2 500,175.7 505,175.5 510,175.3 515,175.2 520,175.3 525,175.5 530,175.9 535,176.4 540,176.9 545,177.4 550,177.6 555,177.5 560,176.9 565,176.1 570,175.2 575,174.5 580,174.0 585,173.9 590,173.9 595,174.2 600,174.8 605,175.3 610,175.6 615,175.5 620,175.0 625,174.4 630,174.1 635,174.1 640,174.3 645,174.6 650,174.7 655,174.8 660,175.1 665,175.5 670,176.0 675,176.2 680,176.0 685,175.5 690,175.1 695,174.8 700,174.6 705,174.3 710,173.8 715,173.2 720,173.0 725,173.4 730,174.3 735,175.4 740,176.1 745,176.3 750,176.2 755,176.1 760,176.1 765,176.1 770,176.0 775,176.0 780,176.2 785,176.8 790,177.7 795,178.6 800,179.3 805,179.9 810,180.3 815,180.6 820,181.0 825,181.5 830,181.8 835,181.6 840,181.4 845,181.3 850,181.3 855,181.4 860,181.4 865,181.4 870,181.5 875,181.4 880,181.3 885,181.1 890,180.7 895,180.3 900,179.9 905,179.5 910,179.3 915,179.1 920,179.1 925,179.3 930,179.6 935,180.0 940,180.2 945,180.0 950,179.8 955,179.5 960,179.4 965,179.6 970,180.0 975,180.3 980,180.5 985,180.7 990,181.1 995,181.8 1000,182.5 1005,182.8 1010,182.9 1015,182.9 1020,183.1 1025,183.3 1030,183.8 1035,184.1 1040,184.1 1045,184.0 1050,184.1 1055,184.5 1060,184.9 1065,185.2 1068,185.2 L1068,150Z" fill="#ff1700"/>
<path d="M60,150 L60,181.4 65,181.3 70,181.3 75,181.5 80,181.7 85,181.9 90,181.9 95,181.6 100,181.4 105,181.3 110,181.3 115,181.4 120,181.5 125,181.4 130,181.4 135,181.4 140,181.5 145,181.6 150,181.6 155,181.6 160,181.7 165,181.8 170,181.7 175,181.3 180,180.7 185,180.1 190,179.8 195,179.7 200,179.9 205,180.0 210,180.1 215,180.2 220,180.3 225,180.3 230,180.1 235,179.9 240,179.6 245,179.5 250,179.5 255,179.7 260,179.8 265,180.0 270,180.1 275,180.3 280,180.6 285,180.7 290,180.6 295,180.3 300,179.9 305,179.5 310,179.3 315,179.2 320,178.9 325,187.8 330,191.3 335,186.6 340,178.2 345,178.2 350,178.2 355,178.3 360,178.4 365,178.5 370,178.5 375,178.3 380,177.9 385,177.5 390,177.4 395,177.6 400,189.7 405,191.9 410,192.0 415,191.9 420,191.8 425,187.5 430,177.5 435,189.3 440,192.6 445,192.6 450,188.7 455,177.1 460,177.2 465,177.2 470,177.0 475,176.8 480,176.7 485,176.7 490,176.7 495,176.4 500,176.1 505,175.8 510,175.7 515,175.6 520,175.6 525,175.7 530,176.0 535,176.5 540,177.2 545,177.7 550,178.0 555,177.9 560,177.6 565,177.1 570,176.4 575,175.6 580,174.7 585,174.1 590,173.8 595,173.9 600,174.2 605,174.4 610,174.4 615,174.2 620,173.9 625,173.6 630,173.4 635,173.3 640,173.4 645,173.8 650,174.4 655,175.0 660,175.5 665,175.7 670,175.6 675,175.6 680,175.7 685,175.8 690,175.8 695,175.5 700,175.1 705,174.6 710,174.3 715,174.2 720,174.3 725,174.5 730,175.1 735,175.7 740,176.3 745,176.6 750,176.4 755,176.0 760,175.6 765,175.4 770,175.6 775,176.0 780,176.5 785,177.0 790,177.6 795,178.3 800,178.9 805,179.6 810,180.1 815,180.4 820,180.7 825,181.2 830,181.5 835,181.4 840,181.3 845,181.3 850,181.4 855,181.6 860,181.7 865,181.7 870,181.5 875,181.2 880,181.0 885,180.9 890,180.7 895,180.4 900,180.0 905,179.6 910,179.4 915,179.3 920,179.4 925,179.5 930,179.7 935,180.0 940,180.2 945,180.1 950,180.1 955,180.0 960,179.9 965,180.1 970,180.5 975,180.9 980,181.2 985,181.3 990,181.3 995,181.4 1000,181.7 1005,182.0 1010,182.3 1015,182.8 1020,183.1 1025,183.4 1030,183.7 1035,183.8 1040,183.9 1045,184.0 1050,184.2 1055,184.6 1060,184.9 1065,185.1 1068,185.0 L1068,150Z" fill="#de0000"/>
<g><rect x="377.2" y="213.5" width="13.5" height="1.0" fill="#0000e8"/><rect x="275.7" y="215.4" width="13.8" height="1.6" fill="#0000e8"/><rect x="445.1" y="216.9" width="12.7" height="1.0" fill="#0038ff"/><rect x="723.4" y="229.3" width="8.5" height="1.6" fill="#00efff"/><rect x="494.9" y="212.3" width="5.7" height="2.2" fill="#001dff"/><rect x="702.7" y="229.2" width="10.1" height="2.2" fill="#0038ff"/><rect x="368.7" y="232.0" width="5.7" height="1.3" fill="#001dff"/><rect x="585.3" y="217.7" width="12.4" height="1.3" fill="#006cff"/><rect x="733.1" y="223.1" width="8.4" height="1.0" fill="#00009a"/><rect x="330.0" y="220.6" width="4.1" height="2.2" fill="#00adff"/><rect x="511.6" y="227.1" width="12.1" height="1.6" fill="#006cff"/><rect x="429.7" y="234.7" width="5.0" height="1.0" fill="#006cff"/><rect x="629.5" y="222.2" width="7.2" height="1.0" fill="#100083"/><rect x="743.0" y="226.3" width="4.2" height="2.2" fill="#0000e8"/><rect x="761.6" y="234.9" width="13.6" height="1.3" fill="#0038ff"/><rect x="275.6" y="228.9" width="10.0" height="1.3" fill="#0038ff"/><rect x="496.3" y="222.9" width="6.2" height="1.3" fill="#006cff"/><rect x="661.3" y="222.5" width="7.1" height="2.2" fill="#0000e8"/><rect x="603.9" y="223.8" width="10.2" height="2.2" fill="#0003ff"/><rect x="476.4" y="226.9" width="7.0" height="2.2" fill="#0000e8"/><rect x="714.9" y="231.0" width="4.5" height="1.0" fill="#0003ff"/><rect x="584.5" y="228.9" width="5.8" height="1.3" fill="#00009a"/><rect x="509.0" y="220.6" width="4.7" height="1.3" fill="#001dff"/><rect x="554.5" y="228.6" width="12.8" height="1.6" fill="#00efff"/><rect x="296.2" y="227.0" width="7.8" height="1.0" fill="#00009a"/><rect x="338.3" y="219.4" width="9.1" height="2.2" fill="#0038ff"/><rect x="740.0" y="224.8" width="8.9" height="1.3" fill="#100083"/><rect x="599.5" y="229.1" width="12.2" height="2.2" fill="#0003ff"/><rect x="435.0" y="214.0" width="7.0" height="1.0" fill="#00efff"/><rect x="464.2" y="230.3" width="4.0" height="2.2" fill="#0038ff"/><rect x="647.1" y="230.2" width="9.9" height="1.0" fill="#0003ff"/><rect x="566.9" y="230.9" width="9.1" height="1.6" fill="#0000e8"/><rect x="445.3" y="230.6" width="6.2" height="2.2" fill="#0038ff"/><rect x="765.1" y="234.4" width="10.2" height="1.6" fill="#00009a"/><rect x="293.0" y="222.1" width="10.0" height="2.2" fill="#100083"/><rect x="625.4" y="224.6" width="4.2" height="1.3" fill="#100083"/><rect x="687.7" y="231.3" width="13.0" height="2.2" fill="#00adff"/><rect x="559.0" y="220.0" width="10.3" height="1.3" fill="#0038ff"/><rect x="236.1" y="215.6" width="4.1" height="1.0" fill="#00efff"/><rect x="713.2" y="227.0" width="5.8" height="1.3" fill="#0000e8"/><rect x="551.6" y="226.5" width="9.4" height="2.2" fill="#100083"/><rect x="528.2" y="230.3" width="7.6" height="2.2" fill="#001dff"/><rect x="214.7" y="216.6" width="7.5" height="1.0" fill="#00009a"/><rect x="576.5" y="228.3" width="7.7" height="1.0" fill="#100083"/><rect x="790.9" y="231.5" width="4.4" height="1.6" fill="#100083"/><rect x="623.4" y="233.7" width="7.0" height="1.0" fill="#0000ce"/><rect x="628.2" y="225.7" width="13.3" height="1.0" fill="#0000e8"/><rect x="622.0" y="233.0" width="10.6" height="1.0" fill="#00adff"/><rect x="416.3" y="233.9" width="12.2" height="1.0" fill="#00adff"/><rect x="753.7" y="223.4" width="4.8" height="1.6" fill="#00009a"/><rect x="502.0" y="223.3" width="11.6" height="1.6" fill="#0038ff"/><rect x="631.2" y="222.7" width="9.8" height="1.6" fill="#00efff"/><rect x="717.5" y="231.9" width="9.6" height="2.2" fill="#0000e8"/><rect x="528.4" y="228.4" width="9.6" height="2.2" fill="#0000e8"/><rect x="450.0" y="216.7" width="4.7" height="1.6" fill="#100083"/><rect x="694.7" y="222.0" width="12.4" height="2.2" fill="#006cff"/><rect x="476.7" y="230.2" width="5.2" height="1.6" fill="#0000e8"/><rect x="666.7" y="230.0" width="13.2" height="1.0" fill="#00adff"/><rect x="668.7" y="227.0" width="6.9" height="1.3" fill="#00009a"/><rect x="616.5" y="233.0" width="8.7" height="1.3" fill="#0038ff"/><rect x="291.1" y="228.9" width="6.2" height="1.6" fill="#00adff"/><rect x="424.8" y="215.3" width="13.1" height="1.6" fill="#0038ff"/><rect x="568.6" y="231.1" width="4.7" height="1.0" fill="#00adff"/><rect x="388.7" y="210.0" width="5.3" height="2.2" fill="#00adff"/><rect x="517.9" y="222.6" width="13.4" height="1.3" fill="#00adff"/><rect x="331.7" y="234.8" width="7.2" height="1.0" fill="#100083"/><rect x="568.0" y="225.5" width="12.3" height="2.2" fill="#00009a"/><rect x="750.5" y="219.0" width="9.2" height="1.0" fill="#00efff"/><rect x="664.2" y="221.0" width="12.3" height="1.3" fill="#0003ff"/><rect x="794.1" y="233.4" width="13.4" height="1.0" fill="#100083"/><rect x="464.5" y="212.1" width="4.6" height="1.3" fill="#100083"/><rect x="545.3" y="230.2" width="4.2" height="1.6" fill="#0003ff"/><rect x="489.3" y="220.7" width="7.9" height="1.0" fill="#0000ce"/><rect x="465.8" y="214.6" width="12.2" height="1.6" fill="#00009a"/><rect x="494.3" y="234.0" width="13.2" height="1.0" fill="#001dff"/><rect x="594.5" y="223.1" width="5.6" height="1.6" fill="#00009a"/><rect x="262.0" y="208.6" width="8.0" height="2.2" fill="#0000ce"/><rect x="534.9" y="219.5" width="3.3" height="1.6" fill="#00adff"/><rect x="503.3" y="215.1" width="8.0" height="1.0" fill="#0038ff"/><rect x="268.6" y="220.9" width="12.2" height="1.6" fill="#00009a"/><rect x="760.7" y="234.8" width="14.0" height="1.0" fill="#0000e8"/><rect x="417.0" y="210.1" width="11.0" height="1.3" fill="#0000e8"/><rect x="454.6" y="222.9" width="7.9" height="1.6" fill="#006cff"/><rect x="589.0" y="221.2" width="9.3" height="1.3" fill="#0000ce"/><rect x="499.5" y="216.9" width="3.9" height="2.2" fill="#00009a"/><rect x="649.6" y="228.4" width="10.8" height="1.6" fill="#0000e8"/><rect x="470.5" y="231.2" width="13.1" height="1.6" fill="#006cff"/><rect x="719.4" y="218.2" width="7.5" height="1.3" fill="#0038ff"/><rect x="719.0" y="226.9" width="13.8" height="1.3" fill="#100083"/><rect x="612.6" y="223.8" width="13.3" height="1.0" fill="#006cff"/><rect x="678.6" y="231.1" width="12.5" height="1.0" fill="#00adff"/><rect x="484.0" y="222.1" width="3.3" height="1.3" fill="#006cff"/><rect x="185.5" y="219.9" width="4.8" height="1.6" fill="#0000e8"/><rect x="520.6" y="215.7" width="10.7" height="1.6" fill="#0000e8"/><rect x="641.6" y="226.9" width="10.7" height="1.6" fill="#00009a"/><rect x="717.5" y="221.6" width="8.1" height="1.6" fill="#00adff"/><rect x="241.5" y="219.6" width="5.5" height="1.3" fill="#0000e8"/><rect x="597.6" y="220.3" width="12.1" height="2.2" fill="#00efff"/><rect x="607.4" y="224.5" width="13.4" height="1.6" fill="#0003ff"/><rect x="718.3" y="232.1" width="9.2" height="2.2" fill="#0003ff"/><rect x="703.8" y="234.2" width="13.3" height="2.2" fill="#0000e8"/><rect x="588.1" y="226.7" width="3.8" height="1.3" fill="#001dff"/><rect x="488.9" y="221.6" width="7.4" height="1.0" fill="#0038ff"/><rect x="679.7" y="218.1" width="10.1" height="1.6" fill="#0000e8"/><rect x="566.3" y="227.9" width="5.8" height="1.0" fill="#006cff"/><rect x="754.3" y="215.5" width="6.8" height="1.0" fill="#0000ce"/><rect x="757.0" y="214.6" width="9.5" height="2.2" fill="#0000ce"/><rect x="491.6" y="233.1" width="9.4" height="1.3" fill="#0000e8"/><rect x="686.9" y="232.2" width="9.7" height="1.3" fill="#00adff"/><rect x="514.0" y="223.3" width="9.0" height="2.2" fill="#00adff"/><rect x="466.4" y="218.9" width="5.1" height="2.2" fill="#006cff"/><rect x="576.6" y="219.9" width="13.5" height="1.6" fill="#0003ff"/><rect x="480.5" y="218.5" width="11.5" height="1.0" fill="#0000ce"/><rect x="552.3" y="225.6" width="12.2" height="1.0" fill="#0003ff"/><rect x="499.0" y="221.8" width="10.4" height="1.3" fill="#0000ce"/><rect x="558.8" y="230.0" width="11.2" height="1.6" fill="#0038ff"/><rect x="664.5" y="224.9" width="4.1" height="1.0" fill="#001dff"/><rect x="484.6" y="221.4" width="11.6" height="1.0" fill="#00adff"/><rect x="594.5" y="222.5" width="6.9" height="2.2" fill="#0003ff"/><rect x="640.4" y="218.1" width="11.2" height="2.2" fill="#0038ff"/><rect x="508.5" y="230.6" width="7.8" height="1.3" fill="#001dff"/><rect x="744.5" y="234.3" width="9.7" height="1.6" fill="#0000e8"/><rect x="300.6" y="204.8" width="5.8" height="1.6" fill="#0038ff"/><rect x="697.5" y="226.3" width="8.7" height="2.2" fill="#00efff"/><rect x="564.2" y="224.7" width="3.1" height="1.3" fill="#00009a"/><rect x="569.5" y="228.5" width="13.2" height="1.3" fill="#0000ce"/><rect x="605.5" y="230.9" width="12.9" height="1.6" fill="#00adff"/><rect x="606.0" y="220.5" width="6.5" height="1.6" fill="#00009a"/><rect x="484.9" y="227.8" width="12.0" height="2.2" fill="#006cff"/><rect x="568.1" y="225.8" width="5.1" height="1.0" fill="#0000ce"/><rect x="642.8" y="227.7" width="9.9" height="2.2" fill="#100083"/><rect x="179.3" y="229.1" width="7.4" height="1.0" fill="#00009a"/><rect x="512.5" y="229.9" width="9.2" height="1.3" fill="#00efff"/><rect x="532.6" y="217.3" width="8.7" height="1.0" fill="#006cff"/><rect x="473.9" y="230.8" width="9.7" height="1.0" fill="#100083"/><rect x="601.6" y="230.0" width="6.9" height="1.0" fill="#0000ce"/><rect x="339.6" y="215.7" width="7.9" height="1.0" fill="#001dff"/><rect x="206.8" y="215.1" width="9.8" height="1.3" fill="#0000e8"/><rect x="200.1" y="210.8" width="12.9" height="1.6" fill="#0038ff"/><rect x="530.2" y="234.6" width="3.7" height="2.2" fill="#00efff"/><rect x="637.0" y="223.2" width="12.6" height="1.0" fill="#0038ff"/><rect x="669.4" y="220.7" width="7.2" height="1.6" fill="#100083"/><rect x="565.8" y="226.3" width="7.2" height="1.0" fill="#001dff"/><rect x="584.9" y="227.1" width="7.3" height="1.6" fill="#0038ff"/><rect x="589.1" y="229.1" width="6.8" height="1.3" fill="#0000ce"/><rect x="479.2" y="224.3" width="11.7" height="2.2" fill="#006cff"/><rect x="465.2" y="214.6" width="6.9" height="2.2" fill="#001dff"/><rect x="635.7" y="234.2" width="8.6" height="2.2" fill="#0000e8"/><rect x="751.5" y="226.2" width="7.8" height="1.3" fill="#0003ff"/><rect x="425.8" y="231.7" width="4.4" height="1.0" fill="#006cff"/><rect x="536.2" y="215.1" width="10.9" height="1.6" fill="#0000ce"/><rect x="181.9" y="224.7" width="5.5" height="1.0" fill="#0000e8"/><rect x="742.5" y="218.4" width="10.9" height="1.3" fill="#00009a"/><rect x="711.4" y="221.9" width="7.4" height="1.3" fill="#0038ff"/><rect x="506.0" y="227.9" width="10.3" height="2.2" fill="#0003ff"/><rect x="675.1" y="221.9" width="12.3" height="1.0" fill="#0003ff"/><rect x="286.4" y="225.9" width="3.4" height="1.3" fill="#100083"/><rect x="442.5" y="219.3" width="3.4" height="1.3" fill="#0000e8"/><rect x="522.4" y="229.0" width="5.8" height="1.6" fill="#001dff"/><rect x="485.3" y="232.7" width="12.6" height="1.0" fill="#00adff"/><rect x="783.0" y="229.7" width="5.3" height="1.0" fill="#0003ff"/><rect x="434.0" y="216.5" width="4.0" height="2.2" fill="#001dff"/><rect x="671.2" y="226.5" width="10.4" height="2.2" fill="#0000e8"/><rect x="594.4" y="226.0" width="5.1" height="1.6" fill="#006cff"/><rect x="281.9" y="220.6" width="5.7" height="1.3" fill="#100083"/><rect x="396.8" y="225.1" width="4.5" height="2.2" fill="#00efff"/><rect x="592.6" y="217.5" width="10.6" height="1.6" fill="#0000ce"/><rect x="610.0" y="227.8" width="5.6" height="1.0" fill="#00efff"/><rect x="516.1" y="228.0" width="4.7" height="2.2" fill="#0038ff"/><rect x="486.2" y="212.1" width="8.4" height="1.0" fill="#100083"/><rect x="734.0" y="229.2" width="7.9" height="1.3" fill="#00009a"/><rect x="599.7" y="222.6" width="9.1" height="1.0" fill="#100083"/><rect x="763.6" y="213.8" width="10.9" height="1.6" fill="#00adff"/><rect x="606.2" y="226.1" width="11.6" height="1.0" fill="#0003ff"/><rect x="478.6" y="226.2" width="13.3" height="1.6" fill="#00efff"/><rect x="581.8" y="217.7" width="7.3" height="1.6" fill="#0000ce"/><rect x="403.1" y="210.7" width="10.9" height="1.6" fill="#0000e8"/><rect x="657.0" y="223.5" width="7.1" height="1.6" fill="#006cff"/><rect x="697.6" y="217.8" width="9.2" height="2.2" fill="#00efff"/><rect x="752.4" y="222.4" width="11.0" height="1.0" fill="#0000e8"/><rect x="261.4" y="217.0" width="13.7" height="1.0" fill="#00009a"/><rect x="705.7" y="230.0" width="3.0" height="2.2" fill="#00adff"/><rect x="262.2" y="219.4" width="7.6" height="1.0" fill="#0003ff"/><rect x="447.5" y="232.6" width="4.8" height="1.0" fill="#0000e8"/><rect x="630.1" y="227.6" width="8.2" height="1.6" fill="#006cff"/><rect x="496.4" y="234.4" width="13.6" height="1.0" fill="#00adff"/><rect x="468.7" y="225.6" width="6.3" height="2.2" fill="#00adff"/><rect x="769.7" y="218.3" width="6.8" height="1.0" fill="#00efff"/><rect x="520.8" y="228.4" width="4.6" height="1.6" fill="#00adff"/><rect x="751.9" y="224.8" width="9.2" height="1.6" fill="#001dff"/><rect x="244.1" y="219.9" width="4.2" height="1.0" fill="#0000e8"/><rect x="664.4" y="221.8" width="8.0" height="1.0" fill="#006cff"/><rect x="633.5" y="232.5" width="10.5" height="1.3" fill="#0038ff"/><rect x="713.7" y="228.2" width="13.6" height="1.0" fill="#006cff"/><rect x="460.8" y="234.2" width="5.1" height="1.0" fill="#0038ff"/><rect x="258.3" y="215.7" width="3.5" height="1.0" fill="#100083"/><rect x="755.9" y="219.5" width="10.8" height="1.0" fill="#001dff"/><rect x="561.8" y="233.4" width="12.6" height="1.6" fill="#0000ce"/><rect x="639.7" y="232.0" width="4.3" height="1.6" fill="#0003ff"/><rect x="463.4" y="213.1" width="9.0" height="1.0" fill="#00adff"/><rect x="193.9" y="208.6" width="5.1" height="1.0" fill="#0038ff"/><rect x="697.8" y="231.2" width="8.4" height="1.6" fill="#00009a"/><rect x="627.2" y="232.8" width="10.4" height="1.6" fill="#0000ce"/><rect x="670.5" y="234.1" width="3.2" height="1.3" fill="#0003ff"/><rect x="477.8" y="230.3" width="3.4" height="2.2" fill="#0000ce"/><rect x="759.7" y="221.2" width="12.6" height="1.0" fill="#00adff"/><rect x="618.8" y="233.2" width="9.5" height="1.3" fill="#100083"/><rect x="565.2" y="222.5" width="8.2" height="1.6" fill="#0003ff"/><rect x="635.2" y="221.8" width="5.7" height="1.0" fill="#00adff"/><rect x="567.9" y="221.5" width="6.0" height="1.6" fill="#006cff"/><rect x="396.2" y="234.8" width="3.4" height="1.0" fill="#006cff"/><rect x="719.3" y="223.2" width="6.1" height="1.3" fill="#0000e8"/><rect x="546.9" y="229.8" width="8.6" height="1.3" fill="#00efff"/><rect x="626.0" y="223.5" width="10.7" height="1.6" fill="#00efff"/><rect x="700.4" y="233.1" width="11.9" height="1.3" fill="#0003ff"/><rect x="451.8" y="220.2" width="7.4" height="1.3" fill="#0000e8"/><rect x="495.6" y="218.0" width="9.3" height="1.6" fill="#00efff"/><rect x="218.6" y="220.3" width="6.3" height="2.2" fill="#0003ff"/><rect x="697.8" y="230.0" width="13.1" height="1.6" fill="#0038ff"/><rect x="537.9" y="225.8" width="11.3" height="1.6" fill="#00efff"/><rect x="321.0" y="216.8" width="5.2" height="1.6" fill="#00adff"/><rect x="714.1" y="221.1" width="3.6" height="1.0" fill="#0000ce"/><rect x="709.0" y="229.9" width="3.1" height="1.0" fill="#0000e8"/><rect x="573.6" y="222.7" width="12.5" height="2.2" fill="#100083"/><rect x="667.2" y="220.8" width="12.5" height="1.0" fill="#100083"/><rect x="556.7" y="234.8" width="7.4" height="1.0" fill="#0038ff"/><rect x="551.1" y="216.6" width="9.8" height="1.3" fill="#0003ff"/><rect x="231.1" y="218.9" width="12.2" height="1.6" fill="#0003ff"/><rect x="437.8" y="226.2" width="9.6" height="1.3" fill="#0003ff"/><rect x="532.1" y="230.1" width="11.5" height="2.2" fill="#0000e8"/><rect x="565.3" y="218.8" width="3.1" height="1.0" fill="#0038ff"/><rect x="697.7" y="219.8" width="9.9" height="1.0" fill="#001dff"/><rect x="759.7" y="213.7" width="8.5" height="1.3" fill="#006cff"/><rect x="334.9" y="232.1" width="12.6" height="1.0" fill="#0000ce"/><rect x="677.0" y="234.7" width="8.5" height="1.6" fill="#00efff"/><rect x="737.2" y="221.5" width="12.9" height="1.0" fill="#00009a"/><rect x="656.4" y="229.5" width="6.9" height="2.2" fill="#0000e8"/><rect x="429.4" y="209.9" width="3.2" height="1.3" fill="#001dff"/><rect x="514.6" y="227.2" width="6.3" height="1.3" fill="#0038ff"/><rect x="703.0" y="232.5" width="12.6" height="1.3" fill="#0000e8"/><rect x="540.1" y="214.9" width="12.6" height="1.3" fill="#0000e8"/><rect x="645.1" y="221.6" width="3.6" height="1.6" fill="#0000e8"/><rect x="697.6" y="220.3" width="12.5" height="1.0" fill="#0000e8"/><rect x="677.1" y="219.9" width="6.3" height="1.6" fill="#006cff"/><rect x="503.6" y="214.7" width="6.7" height="2.2" fill="#00efff"/><rect x="725.3" y="227.3" width="5.2" height="1.0" fill="#00efff"/><rect x="196.3" y="219.0" width="10.7" height="1.0" fill="#100083"/><rect x="793.5" y="211.5" width="8.4" height="2.2" fill="#0000ce"/><rect x="174.1" y="219.8" width="9.0" height="1.6" fill="#00009a"/><rect x="698.7" y="223.3" width="5.4" height="1.0" fill="#0000e8"/><rect x="506.3" y="218.7" width="13.6" height="1.0" fill="#0000e8"/><rect x="627.9" y="222.4" width="6.6" height="2.2" fill="#100083"/><rect x="625.4" y="234.7" width="12.6" height="2.2" fill="#0000e8"/><rect x="622.6" y="234.5" width="7.3" height="2.2" fill="#001dff"/><rect x="676.3" y="221.7" width="8.5" height="2.2" fill="#0000e8"/><rect x="793.6" y="210.6" width="9.8" height="1.0" fill="#100083"/><rect x="628.5" y="227.3" width="6.5" height="1.0" fill="#00adff"/><rect x="657.0" y="226.7" width="9.5" height="1.3" fill="#001dff"/><rect x="703.2" y="223.3" width="3.7" height="1.6" fill="#006cff"/><rect x="666.6" y="219.1" width="11.8" height="1.3" fill="#00efff"/><rect x="694.9" y="233.4" width="8.2" height="2.2" fill="#0003ff"/><rect x="530.2" y="233.5" width="8.8" height="1.3" fill="#006cff"/><rect x="503.1" y="227.7" width="4.7" height="2.2" fill="#00efff"/><rect x="283.9" y="213.6" width="7.0" height="1.0" fill="#001dff"/><rect x="674.7" y="219.4" width="6.9" height="1.6" fill="#006cff"/><rect x="477.7" y="218.2" width="7.9" height="2.2" fill="#00009a"/><rect x="570.3" y="230.6" width="4.6" height="1.3" fill="#00efff"/><rect x="402.5" y="224.8" width="8.8" height="1.6" fill="#001dff"/><rect x="513.9" y="214.5" width="5.0" height="1.6" fill="#006cff"/><rect x="531.4" y="231.6" width="4.0" height="2.2" fill="#00efff"/><rect x="514.1" y="234.1" width="6.2" height="1.0" fill="#0003ff"/><rect x="622.1" y="230.0" width="6.2" height="2.2" fill="#001dff"/><rect x="709.4" y="221.1" width="12.3" height="1.3" fill="#0000ce"/><rect x="722.6" y="217.6" width="5.2" height="1.0" fill="#00009a"/><rect x="571.1" y="225.8" width="12.9" height="1.0" fill="#100083"/><rect x="597.8" y="229.7" width="7.8" height="1.3" fill="#0038ff"/><rect x="590.5" y="219.8" width="11.3" height="1.3" fill="#100083"/><rect x="636.6" y="233.7" width="6.2" height="2.2" fill="#0003ff"/><rect x="655.0" y="232.4" width="9.3" height="1.0" fill="#100083"/><rect x="484.0" y="224.8" width="3.6" height="1.3" fill="#00efff"/><rect x="618.2" y="227.2" width="11.2" height="1.3" fill="#00adff"/><rect x="798.1" y="216.4" width="5.1" height="1.3" fill="#100083"/><rect x="537.5" y="216.4" width="7.2" height="1.6" fill="#00efff"/><rect x="613.3" y="229.5" width="6.4" height="2.2" fill="#0000e8"/><rect x="724.1" y="222.1" width="4.4" height="1.6" fill="#0000e8"/><rect x="756.9" y="220.8" width="11.8" height="2.2" fill="#0000e8"/><rect x="748.7" y="229.2" width="3.1" height="2.2" fill="#00009a"/><rect x="768.8" y="217.7" width="11.8" height="1.3" fill="#0000e8"/><rect x="706.8" y="224.2" width="11.0" height="1.3" fill="#0000e8"/><rect x="208.7" y="202.6" width="12.5" height="2.2" fill="#00009a"/><rect x="285.4" y="219.2" width="10.4" height="1.6" fill="#00efff"/><rect x="675.1" y="220.1" width="13.1" height="1.0" fill="#0000e8"/><rect x="464.4" y="233.8" width="7.6" height="1.6" fill="#00efff"/><rect x="591.3" y="220.1" width="3.6" height="1.0" fill="#0000ce"/><rect x="272.9" y="231.0" width="11.8" height="1.3" fill="#006cff"/><rect x="366.5" y="210.8" width="11.8" height="2.2" fill="#0000e8"/><rect x="783.1" y="225.8" width="5.5" height="1.0" fill="#006cff"/><rect x="296.7" y="217.2" width="10.5" height="1.0" fill="#00009a"/><rect x="691.8" y="234.9" width="13.3" height="1.0" fill="#006cff"/><rect x="561.0" y="232.9" width="13.0" height="2.2" fill="#0000e8"/><rect x="348.0" y="211.6" width="8.2" height="1.6" fill="#0000e8"/><rect x="192.8" y="211.4" width="13.4" height="1.6" fill="#00efff"/><rect x="556.3" y="225.0" width="6.6" height="1.3" fill="#0003ff"/><rect x="241.2" y="225.5" width="8.0" height="1.0" fill="#006cff"/><rect x="640.4" y="218.6" width="3.4" height="1.0" fill="#00adff"/><rect x="672.8" y="227.7" width="6.9" height="1.3" fill="#0003ff"/><rect x="397.8" y="216.8" width="12.3" height="1.6" fill="#0038ff"/><rect x="265.9" y="206.6" width="8.5" height="1.0" fill="#006cff"/><rect x="375.8" y="221.1" width="7.0" height="1.6" fill="#0000e8"/><rect x="425.5" y="232.6" width="11.0" height="1.3" fill="#006cff"/><rect x="730.7" y="225.2" width="11.7" height="1.3" fill="#00adff"/><rect x="604.3" y="220.2" width="5.9" height="2.2" fill="#100083"/><rect x="615.6" y="227.5" width="4.3" height="1.3" fill="#00efff"/><rect x="319.1" y="229.6" width="3.8" height="1.0" fill="#0003ff"/><rect x="198.4" y="226.7" width="6.8" height="1.3" fill="#0038ff"/><rect x="751.0" y="230.4" width="3.4" height="1.3" fill="#0000e8"/><rect x="632.4" y="231.5" width="11.5" height="1.3" fill="#0000e8"/><rect x="752.2" y="234.9" width="11.7" height="1.0" fill="#0038ff"/><rect x="484.2" y="229.2" width="10.0" height="1.0" fill="#0000e8"/><rect x="702.6" y="228.7" width="13.7" height="1.3" fill="#00adff"/><rect x="607.4" y="219.9" width="12.1" height="1.0" fill="#0000e8"/><rect x="639.4" y="225.4" width="12.1" height="1.6" fill="#006cff"/><rect x="641.3" y="219.1" width="11.6" height="1.3" fill="#0000e8"/><rect x="323.0" y="231.3" width="9.3" height="1.0" fill="#00efff"/><rect x="700.8" y="231.9" width="7.5" height="1.3" fill="#00009a"/><rect x="717.6" y="228.8" width="12.9" height="1.6" fill="#001dff"/><rect x="175.3" y="230.0" width="12.7" height="2.2" fill="#0038ff"/><rect x="430.0" y="217.8" width="5.4" height="2.2" fill="#0003ff"/><rect x="648.0" y="223.8" width="13.9" height="2.2" fill="#0000ce"/><rect x="427.9" y="212.2" width="10.5" height="2.2" fill="#100083"/><rect x="508.5" y="220.2" width="4.7" height="1.3" fill="#0000ce"/><rect x="711.1" y="222.4" width="6.5" height="1.3" fill="#006cff"/><rect x="759.9" y="224.3" width="3.0" height="1.0" fill="#0000ce"/><rect x="595.2" y="230.4" width="10.4" height="2.2" fill="#006cff"/><rect x="691.0" y="229.1" width="3.8" height="1.6" fill="#00adff"/><rect x="756.6" y="219.5" width="10.8" height="2.2" fill="#00efff"/><rect x="760.3" y="232.9" width="8.5" height="1.0" fill="#0003ff"/><rect x="208.2" y="218.9" width="7.9" height="1.3" fill="#006cff"/><rect x="629.3" y="234.1" width="8.3" height="1.6" fill="#100083"/><rect x="263.1" y="234.9" width="4.9" height="1.6" fill="#00adff"/><rect x="565.7" y="224.2" width="13.8" height="1.0" fill="#00efff"/><rect x="666.4" y="226.3" width="13.7" height="1.6" fill="#0003ff"/><rect x="716.7" y="231.8" width="11.7" height="1.3" fill="#0003ff"/><rect x="298.4" y="209.0" width="11.1" height="1.6" fill="#0000ce"/><rect x="637.8" y="231.2" width="7.0" height="1.6" fill="#0000ce"/><rect x="366.4" y="224.2" width="13.2" height="1.0" fill="#001dff"/><rect x="565.5" y="223.5" width="13.6" height="1.0" fill="#0000e8"/><rect x="740.8" y="224.8" width="7.5" height="1.6" fill="#0000ce"/><rect x="538.9" y="228.1" width="12.3" height="1.0" fill="#001dff"/><rect x="565.8" y="226.2" width="6.2" height="1.0" fill="#00efff"/><rect x="335.3" y="221.1" width="10.7" height="1.6" fill="#0000e8"/><rect x="549.9" y="232.8" width="12.6" height="2.2" fill="#00009a"/><rect x="677.7" y="220.4" width="4.9" height="1.0" fill="#00efff"/><rect x="575.9" y="224.2" width="8.5" height="1.6" fill="#0003ff"/><rect x="714.7" y="226.4" width="8.7" height="1.6" fill="#00efff"/><rect x="256.2" y="232.4" width="3.7" height="1.3" fill="#100083"/><rect x="578.9" y="231.2" width="10.5" height="1.3" fill="#0000ce"/><rect x="311.8" y="219.7" width="12.9" height="2.2" fill="#100083"/><rect x="491.5" y="226.1" width="6.0" height="1.6" fill="#00009a"/><rect x="739.3" y="216.7" width="10.4" height="1.6" fill="#00009a"/><rect x="187.1" y="227.0" width="6.6" height="2.2" fill="#100083"/><rect x="493.9" y="223.7" width="13.7" height="1.0" fill="#00adff"/><rect x="197.3" y="216.1" width="6.2" height="1.6" fill="#0003ff"/><rect x="505.1" y="219.0" width="13.7" height="1.0" fill="#00adff"/><rect x="504.9" y="222.2" width="3.7" height="1.6" fill="#00efff"/><rect x="637.0" y="224.6" width="13.5" height="1.3" fill="#001dff"/><rect x="590.4" y="231.5" width="13.6" height="1.6" fill="#0003ff"/><rect x="217.3" y="215.3" width="13.7" height="2.2" fill="#00adff"/><rect x="292.1" y="216.3" width="6.1" height="1.0" fill="#0000e8"/><rect x="615.0" y="231.1" width="11.7" height="1.6" fill="#0000e8"/><rect x="691.7" y="230.5" width="13.4" height="1.0" fill="#00adff"/><rect x="211.8" y="228.0" width="10.1" height="1.6" fill="#00efff"/><rect x="650.7" y="234.8" width="6.4" height="1.3" fill="#100083"/><rect x="605.8" y="231.6" width="8.0" height="1.6" fill="#00009a"/><rect x="498.8" y="223.4" width="3.9" height="1.6" fill="#0003ff"/><rect x="471.0" y="231.4" width="8.8" height="2.2" fill="#0000e8"/><rect x="303.7" y="233.1" width="5.1" height="2.2" fill="#0000e8"/><rect x="657.9" y="231.8" width="12.3" height="1.3" fill="#0000ce"/><rect x="518.1" y="214.1" width="11.9" height="2.2" fill="#00009a"/><rect x="661.6" y="232.6" width="6.7" height="2.2" fill="#006cff"/><rect x="476.2" y="211.5" width="5.2" height="2.2" fill="#0003ff"/><rect x="724.4" y="234.0" width="7.8" height="2.2" fill="#00adff"/><rect x="649.9" y="232.7" width="4.9" height="1.3" fill="#00efff"/><rect x="600.0" y="228.1" width="4.3" height="2.2" fill="#0038ff"/><rect x="211.8" y="201.3" width="9.2" height="1.0" fill="#0000e8"/><rect x="324.6" y="229.0" width="3.4" height="2.2" fill="#100083"/><rect x="323.2" y="228.2" width="3.5" height="2.2" fill="#006cff"/><rect x="337.3" y="219.5" width="13.5" height="1.3" fill="#00009a"/><rect x="619.1" y="219.5" width="11.7" height="1.0" fill="#001dff"/><rect x="217.7" y="217.6" width="9.8" height="1.0" fill="#00adff"/><rect x="661.5" y="225.7" width="10.4" height="1.3" fill="#006cff"/><rect x="715.5" y="220.5" width="10.8" height="2.2" fill="#0000e8"/><rect x="788.8" y="223.1" width="6.9" height="1.0" fill="#00009a"/><rect x="630.1" y="219.4" width="6.0" height="1.6" fill="#0000e8"/><rect x="643.9" y="231.1" width="3.1" height="1.0" fill="#00009a"/><rect x="243.8" y="219.0" width="8.0" height="1.3" fill="#001dff"/><rect x="746.9" y="233.2" width="12.2" height="1.3" fill="#100083"/><rect x="705.2" y="220.1" width="13.4" height="1.6" fill="#0038ff"/><rect x="530.5" y="231.8" width="3.3" height="1.0" fill="#001dff"/><rect x="501.7" y="229.7" width="12.2" height="1.6" fill="#0003ff"/><rect x="676.2" y="223.5" width="9.0" height="1.6" fill="#0003ff"/><rect x="173.6" y="228.0" width="11.7" height="1.3" fill="#006cff"/><rect x="714.1" y="224.5" width="6.7" height="1.0" fill="#00009a"/><rect x="777.7" y="226.3" width="8.9" height="1.0" fill="#001dff"/><rect x="578.5" y="229.9" width="7.7" height="1.3" fill="#00009a"/><rect x="555.2" y="229.0" width="11.2" height="1.3" fill="#001dff"/><rect x="386.7" y="226.4" width="5.3" height="1.3" fill="#0000e8"/><rect x="641.2" y="223.2" width="3.7" height="1.0" fill="#00009a"/><rect x="218.6" y="224.7" width="10.1" height="1.6" fill="#006cff"/><rect x="749.6" y="219.0" width="7.3" height="2.2" fill="#0000ce"/><rect x="731.0" y="222.4" width="12.2" height="2.2" fill="#100083"/><rect x="691.9" y="231.5" width="10.4" height="1.0" fill="#0000e8"/><rect x="702.5" y="219.8" width="10.3" height="1.6" fill="#00adff"/><rect x="586.9" y="225.8" width="12.2" height="2.2" fill="#100083"/><rect x="331.7" y="207.0" width="6.3" height="1.3" fill="#0000e8"/><rect x="759.2" y="215.5" width="11.7" height="1.6" fill="#0000e8"/><rect x="402.1" y="231.5" width="13.0" height="1.6" fill="#0000ce"/><rect x="649.3" y="221.9" width="5.1" height="2.2" fill="#0000e8"/><rect x="526.7" y="219.5" width="3.1" height="2.2" fill="#00009a"/><rect x="696.7" y="225.5" width="8.4" height="2.2" fill="#00009a"/><rect x="607.3" y="219.6" width="8.3" height="1.3" fill="#0000ce"/><rect x="439.4" y="211.3" width="7.0" height="1.3" fill="#0038ff"/><rect x="759.5" y="223.9" width="8.3" height="2.2" fill="#0000e8"/><rect x="241.5" y="209.9" width="4.9" height="1.3" fill="#0003ff"/><rect x="602.5" y="233.7" width="8.1" height="1.0" fill="#0000ce"/><rect x="678.1" y="221.1" width="10.3" height="1.0" fill="#0003ff"/><rect x="765.0" y="217.7" width="8.6" height="1.0" fill="#00efff"/><rect x="575.9" y="226.6" width="5.6" height="1.3" fill="#0038ff"/><rect x="496.0" y="229.1" width="12.4" height="1.3" fill="#0003ff"/><rect x="454.5" y="232.6" width="3.9" height="1.0" fill="#0000e8"/><rect x="575.0" y="247.0" width="12.0" height="1.2" fill="#ff8600"/><rect x="570.0" y="253.0" width="10.0" height="1.2" fill="#00efff"/><rect x="584.0" y="246.0" width="8.0" height="1.2" fill="#f5ff0a"/><rect x="571.0" y="260.0" width="14.0" height="1.2" fill="#00efff"/><rect x="580.0" y="240.0" width="10.0" height="1.2" fill="#00adff"/><rect x="75.5" y="259.0" width="7.0" height="1.2" fill="#ffef00"/><rect x="76.5" y="268.0" width="6.0" height="1.2" fill="#00efff"/><rect x="76.5" y="271.0" width="6.0" height="1.2" fill="#00efff"/><rect x="76.5" y="265.0" width="5.0" height="1.2" fill="#0000e8"/><rect x="78.0" y="275.0" width="4.0" height="1.2" fill="#0000e8"/><rect x="1036.0" y="212.0" width="8.0" height="1.2" fill="#0000e8"/><rect x="1015.0" y="209.0" width="10.0" height="1.2" fill="#0000e8"/><rect x="1029.0" y="233.0" width="12.0" height="1.2" fill="#0010ff"/><rect x="1046.0" y="209.0" width="4.0" height="1.2" fill="#006cff"/><rect x="1043.0" y="224.0" width="6.0" height="1.2" fill="#0000e8"/></g>
</g>
</g>
<g clip-path="url(#pc)"><polygon points="99.9,290.0 99.9,284.0 101.5,274.0 103.4,262.5 106.5,255.0 109.7,247.3 111.5,237.0 113.5,225.5 115.5,221.5 118.0,219.0 121.0,217.6 124.0,217.0 134.0,216.2 144.2,215.7 160.0,215.5 177.8,215.7 190.0,216.6 204.8,217.9 216.0,218.3 228.4,219.0 238.0,220.6 245.0,221.5 255.0,222.6 267.0,223.4 280.0,222.8 292.0,222.1 306.0,221.4 320.7,221.2 327.0,222.4 334.2,224.1 351.0,226.8 367.8,229.2 384.7,231.3 398.0,233.2 404.0,233.6 406.5,232.0 408.2,230.2 410.0,231.8 413.0,232.4 420.0,233.5 435.2,237.2 440.0,237.6 446.7,238.3 452.0,240.4 456.8,243.1 460.5,244.3 463.6,245.9 465.6,248.0 467.0,251.0 468.4,257.0 469.5,264.2 470.2,274.0 470.8,284.0 470.8,290.0" fill="#b2b2b2" stroke="#fff" stroke-width="4.4" stroke-linejoin="round"/><polygon points="708.3,290.0 708.3,284.0 708.6,268.0 709.1,252.4 709.8,245.0 710.8,240.6 712.3,237.0 714.2,234.7 719.0,232.8 724.3,231.3 732.0,230.1 739.4,228.8 748.0,227.4 754.0,226.5 757.5,226.6 761.3,227.1 764.5,225.6 769.7,222.1 775.5,219.8 781.5,217.9 786.5,215.2 791.6,212.0 798.0,208.2 805.1,204.4 810.0,202.4 815.2,201.3 822.0,200.6 832.0,199.6 845.0,200.0 857.9,201.0 865.0,203.4 872.6,206.3 883.0,208.9 893.7,211.1 907.0,213.1 921.0,214.7 946.3,217.5 961.0,218.9 975.7,220.0 988.0,220.7 998.9,221.0 1004.0,220.6 1009.4,220.0 1012.5,221.6 1015.7,224.2 1018.4,226.9 1021.0,230.5 1022.2,236.0 1023.0,243.1 1024.2,254.0 1025.2,264.2 1026.8,274.0 1028.3,284.0 1028.3,290.0" fill="#b2b2b2" stroke="#fff" stroke-width="4.4" stroke-linejoin="round"/><polygon points="99.9,290.0 99.9,284.0 101.5,274.0 103.4,262.5 106.5,255.0 109.7,247.3 111.5,237.0 113.5,225.5 115.5,221.5 118.0,219.0 121.0,217.6 124.0,217.0 134.0,216.2 144.2,215.7 160.0,215.5 177.8,215.7 190.0,216.6 204.8,217.9 216.0,218.3 228.4,219.0 238.0,220.6 245.0,221.5 255.0,222.6 267.0,223.4 280.0,222.8 292.0,222.1 306.0,221.4 320.7,221.2 327.0,222.4 334.2,224.1 351.0,226.8 367.8,229.2 384.7,231.3 398.0,233.2 404.0,233.6 406.5,232.0 408.2,230.2 410.0,231.8 413.0,232.4 420.0,233.5 435.2,237.2 440.0,237.6 446.7,238.3 452.0,240.4 456.8,243.1 460.5,244.3 463.6,245.9 465.6,248.0 467.0,251.0 468.4,257.0 469.5,264.2 470.2,274.0 470.8,284.0 470.8,290.0" fill="#b2b2b2"/><polygon points="708.3,290.0 708.3,284.0 708.6,268.0 709.1,252.4 709.8,245.0 710.8,240.6 712.3,237.0 714.2,234.7 719.0,232.8 724.3,231.3 732.0,230.1 739.4,228.8 748.0,227.4 754.0,226.5 757.5,226.6 761.3,227.1 764.5,225.6 769.7,222.1 775.5,219.8 781.5,217.9 786.5,215.2 791.6,212.0 798.0,208.2 805.1,204.4 810.0,202.4 815.2,201.3 822.0,200.6 832.0,199.6 845.0,200.0 857.9,201.0 865.0,203.4 872.6,206.3 883.0,208.9 893.7,211.1 907.0,213.1 921.0,214.7 946.3,217.5 961.0,218.9 975.7,220.0 988.0,220.7 998.9,221.0 1004.0,220.6 1009.4,220.0 1012.5,221.6 1015.7,224.2 1018.4,226.9 1021.0,230.5 1022.2,236.0 1023.0,243.1 1024.2,254.0 1025.2,264.2 1026.8,274.0 1028.3,284.0 1028.3,290.0" fill="#b2b2b2"/></g>
</g>
<circle cx="71" cy="1326.3" r="2.5" fill="#00f400"/>
<rect x="1055.2" y="1323.9" width="3.8" height="3.8" fill="#f00"/>
<g stroke="#262626" stroke-width="1" fill="none" shape-rendering="crispEdges">
<path d="M70.5,1321.0 V1429.0 M1057.5,1325.5 V1424.5 M66.0,1325.5 H1062.0 M70.5,1424.5 H1057.5"/>
<path d="M216.5,1325.5 v-4.5 M216.5,1424.5 v4.5 M362.5,1325.5 v-4.5 M362.5,1424.5 v4.5 M507.5,1325.5 v-4.5 M507.5,1424.5 v4.5 M653.5,1325.5 v-4.5 M653.5,1424.5 v4.5 M799.5,1325.5 v-4.5 M799.5,1424.5 v4.5 M944.5,1325.5 v-4.5 M944.5,1424.5 v4.5 M70.5,1374.5 h-4.5 M1057.5,1374.5 h4.5 M70.5,1423.5 h-4.5 M1057.5,1423.5 h4.5 "/>
</g>
<text x="62.2" y="1331.4" font-size="15.2" text-anchor="end" fill="#262626" textLength="7.9" lengthAdjust="spacingAndGlyphs">0</text>
<text x="62.2" y="1379.9" font-size="15.2" text-anchor="end" fill="#262626" textLength="26.8" lengthAdjust="spacingAndGlyphs">100</text>
<text x="62.2" y="1428.0" font-size="15.2" text-anchor="end" fill="#262626" textLength="26.8" lengthAdjust="spacingAndGlyphs">200</text>
<text transform="translate(27.3,1375.0) rotate(-90)" font-size="15.2" text-anchor="middle" fill="#262626" textLength="75.6" lengthAdjust="spacingAndGlyphs">Depth (m)</text>
<polygon points="85.5,1400.1 81.3,1402.1 79.3,1397.9 83.5,1395.9" fill="none" stroke="#666" stroke-width="0.85" stroke-linejoin="round"/>
<text x="91.6" y="1403.8" font-size="13.6" fill="#8c8c8c" textLength="7.2" lengthAdjust="spacingAndGlyphs">0</text>
<polygon points="87.6,1375.6 83.4,1377.6 81.4,1373.4 85.6,1371.4" fill="none" stroke="#666" stroke-width="0.85" stroke-linejoin="round"/>
<text x="93.7" y="1379.3" font-size="13.6" fill="#8c8c8c" textLength="7.2" lengthAdjust="spacingAndGlyphs">1</text>
<polygon points="89.7,1356.0 85.5,1358.0 83.5,1353.8 87.7,1351.8" fill="none" stroke="#666" stroke-width="0.85" stroke-linejoin="round"/>
<text x="95.8" y="1359.7" font-size="13.6" fill="#8c8c8c" textLength="7.2" lengthAdjust="spacingAndGlyphs">2</text>
<polygon points="90.6,1336.9 86.4,1338.9 84.4,1334.7 88.6,1332.7" fill="none" stroke="#666" stroke-width="0.85" stroke-linejoin="round"/>
<text x="96.7" y="1340.6" font-size="13.6" fill="#8c8c8c" textLength="7.2" lengthAdjust="spacingAndGlyphs">3</text>
<polygon points="91.7,1329.2 87.5,1331.2 85.5,1327.0 89.7,1325.0" fill="none" stroke="#666" stroke-width="0.85" stroke-linejoin="round"/>
<text x="97.8" y="1332.9" font-size="13.6" fill="#8c8c8c" textLength="7.2" lengthAdjust="spacingAndGlyphs">4</text>
<polygon points="152.0,1329.2 147.8,1331.2 145.8,1327.0 150.0,1325.0" fill="none" stroke="#666" stroke-width="0.85" stroke-linejoin="round"/>
<text x="157.5" y="1332.9" font-size="13.6" fill="#8c8c8c" textLength="7.2" lengthAdjust="spacingAndGlyphs">5</text>
<polygon points="211.4,1329.2 207.2,1331.2 205.2,1327.0 209.4,1325.0" fill="none" stroke="#666" stroke-width="0.85" stroke-linejoin="round"/>
<text x="216.9" y="1332.9" font-size="13.6" fill="#8c8c8c" textLength="7.2" lengthAdjust="spacingAndGlyphs">6</text>
<polygon points="268.2,1329.2 264.0,1331.2 262.0,1327.0 266.2,1325.0" fill="none" stroke="#666" stroke-width="0.85" stroke-linejoin="round"/>
<text x="273.7" y="1332.9" font-size="13.6" fill="#8c8c8c" textLength="7.2" lengthAdjust="spacingAndGlyphs">7</text>
<polygon points="327.1,1329.2 322.9,1331.2 320.9,1327.0 325.1,1325.0" fill="none" stroke="#666" stroke-width="0.85" stroke-linejoin="round"/>
<text x="332.6" y="1332.9" font-size="13.6" fill="#8c8c8c" textLength="7.2" lengthAdjust="spacingAndGlyphs">8</text>
<polygon points="388.1,1329.2 383.9,1331.2 381.9,1327.0 386.1,1325.0" fill="none" stroke="#666" stroke-width="0.85" stroke-linejoin="round"/>
<text x="393.6" y="1332.9" font-size="13.6" fill="#8c8c8c" textLength="7.2" lengthAdjust="spacingAndGlyphs">9</text>
<polygon points="446.2,1329.2 442.0,1331.2 440.0,1327.0 444.2,1325.0" fill="none" stroke="#666" stroke-width="0.85" stroke-linejoin="round"/>
<text x="451.7" y="1332.9" font-size="13.6" fill="#8c8c8c" textLength="15.5" lengthAdjust="spacingAndGlyphs">10</text>
<polygon points="507.7,1329.2 503.5,1331.2 501.5,1327.0 505.7,1325.0" fill="none" stroke="#666" stroke-width="0.85" stroke-linejoin="round"/>
<text x="513.2" y="1332.9" font-size="13.6" fill="#8c8c8c" textLength="15.5" lengthAdjust="spacingAndGlyphs">11</text>
<polygon points="565.3,1326.6 561.1,1328.6 559.1,1324.4 563.3,1322.4" fill="none" stroke="#000" stroke-width="1.10" stroke-linejoin="round"/>
<text x="570.8" y="1330.3" font-size="13.6" fill="#000" textLength="15.5" lengthAdjust="spacingAndGlyphs">12</text>
<polygon points="651.7,1326.3 647.5,1328.3 645.5,1324.1 649.7,1322.1" fill="none" stroke="#000" stroke-width="1.10" stroke-linejoin="round"/>
<text x="657.2" y="1330.0" font-size="13.6" fill="#000" textLength="15.5" lengthAdjust="spacingAndGlyphs">13</text>
<polygon points="715.7,1329.2 711.5,1331.2 709.5,1327.0 713.7,1325.0" fill="none" stroke="#666" stroke-width="0.85" stroke-linejoin="round"/>
<text x="721.2" y="1332.9" font-size="13.6" fill="#8c8c8c" textLength="15.5" lengthAdjust="spacingAndGlyphs">14</text>
<polygon points="779.2,1326.6 775.0,1328.6 773.0,1324.4 777.2,1322.4" fill="none" stroke="#000" stroke-width="1.10" stroke-linejoin="round"/>
<text x="784.7" y="1330.3" font-size="13.6" fill="#000" textLength="15.5" lengthAdjust="spacingAndGlyphs">15</text>
<polygon points="832.3,1327.2 828.1,1329.2 826.1,1325.0 830.3,1323.0" fill="none" stroke="#000" stroke-width="1.10" stroke-linejoin="round"/>
<text x="837.8" y="1330.9" font-size="13.6" fill="#000" textLength="15.5" lengthAdjust="spacingAndGlyphs">16</text>
<polygon points="882.8,1326.6 878.6,1328.6 876.6,1324.4 880.8,1322.4" fill="none" stroke="#000" stroke-width="1.10" stroke-linejoin="round"/>
<text x="888.3" y="1330.3" font-size="13.6" fill="#000" textLength="15.5" lengthAdjust="spacingAndGlyphs">17</text>
<polygon points="945.9,1329.2 941.7,1331.2 939.7,1327.0 943.9,1325.0" fill="none" stroke="#666" stroke-width="0.85" stroke-linejoin="round"/>
<text x="951.4" y="1332.9" font-size="13.6" fill="#8c8c8c" textLength="15.5" lengthAdjust="spacingAndGlyphs">18</text>
<polygon points="1001.5,1326.6 997.3,1328.6 995.3,1324.4 999.5,1322.4" fill="none" stroke="#000" stroke-width="1.10" stroke-linejoin="round"/>
<text x="1007.0" y="1330.3" font-size="13.6" fill="#000" textLength="15.5" lengthAdjust="spacingAndGlyphs">19</text>
<text x="564.0" y="1312.7" font-size="14.4" text-anchor="middle" font-weight="bold" fill="#000" textLength="142.0" lengthAdjust="spacingAndGlyphs">Bioluminescence</text>
<rect x="1093.5" y="1325.5" width="20" height="99.0" fill="url(#cb)" stroke="#262626" stroke-width="1" shape-rendering="crispEdges"/>
<text x="1121.5" y="1327.6" font-size="9.6" fill="#262626" textLength="18.6" lengthAdjust="spacingAndGlyphs">10.5</text>
<text x="1121.5" y="1357.5" font-size="9.6" fill="#262626" textLength="10.7" lengthAdjust="spacingAndGlyphs">10</text>
<text x="1121.5" y="1386.4" font-size="9.6" fill="#262626" textLength="13.4" lengthAdjust="spacingAndGlyphs">9.5</text>
<text x="1121.5" y="1415.3" font-size="9.6" fill="#262626" textLength="5.2" lengthAdjust="spacingAndGlyphs">9</text>
<g transform="translate(1158.8,1375.0) rotate(-90)"><text font-size="9.3" text-anchor="middle" fill="#262626" textLength="79.6" lengthAdjust="spacingAndGlyphs">log<tspan font-size="6.5" dy="2.2">10</tspan><tspan dy="-2.2"> photons/sec</tspan></text></g>
<text x="70.1" y="1446.7" font-size="15.2" text-anchor="middle" fill="#262626" textLength="8.0" lengthAdjust="spacingAndGlyphs">0</text>
<text x="215.8" y="1446.7" font-size="15.2" text-anchor="middle" fill="#262626" textLength="18.4" lengthAdjust="spacingAndGlyphs">10</text>
<text x="361.6" y="1446.7" font-size="15.2" text-anchor="middle" fill="#262626" textLength="18.4" lengthAdjust="spacingAndGlyphs">20</text>
<text x="507.4" y="1446.7" font-size="15.2" text-anchor="middle" fill="#262626" textLength="18.4" lengthAdjust="spacingAndGlyphs">30</text>
<text x="653.1" y="1446.7" font-size="15.2" text-anchor="middle" fill="#262626" textLength="18.4" lengthAdjust="spacingAndGlyphs">40</text>
<text x="798.9" y="1446.7" font-size="15.2" text-anchor="middle" fill="#262626" textLength="18.4" lengthAdjust="spacingAndGlyphs">50</text>
<text x="944.6" y="1446.7" font-size="15.2" text-anchor="middle" fill="#262626" textLength="18.4" lengthAdjust="spacingAndGlyphs">60</text>
<text x="594.4" y="1492.3" font-size="18.3" text-anchor="middle" fill="#111" textLength="245.5" lengthAdjust="spacingAndGlyphs">Distance along track (km)</text>
<text x="1114" y="1170.8" font-size="9.6" fill="#262626"><tspan fill="#999">×</tspan>10<tspan font-size="6.8" dy="-4">-3</tspan></text>
<rect x="88" y="1316" width="969.5" height="2" fill="url(#dn)"/><rect x="70.8" y="1316.3" width="2.2" height="1.3" fill="#111"/>
</svg></body></html>
